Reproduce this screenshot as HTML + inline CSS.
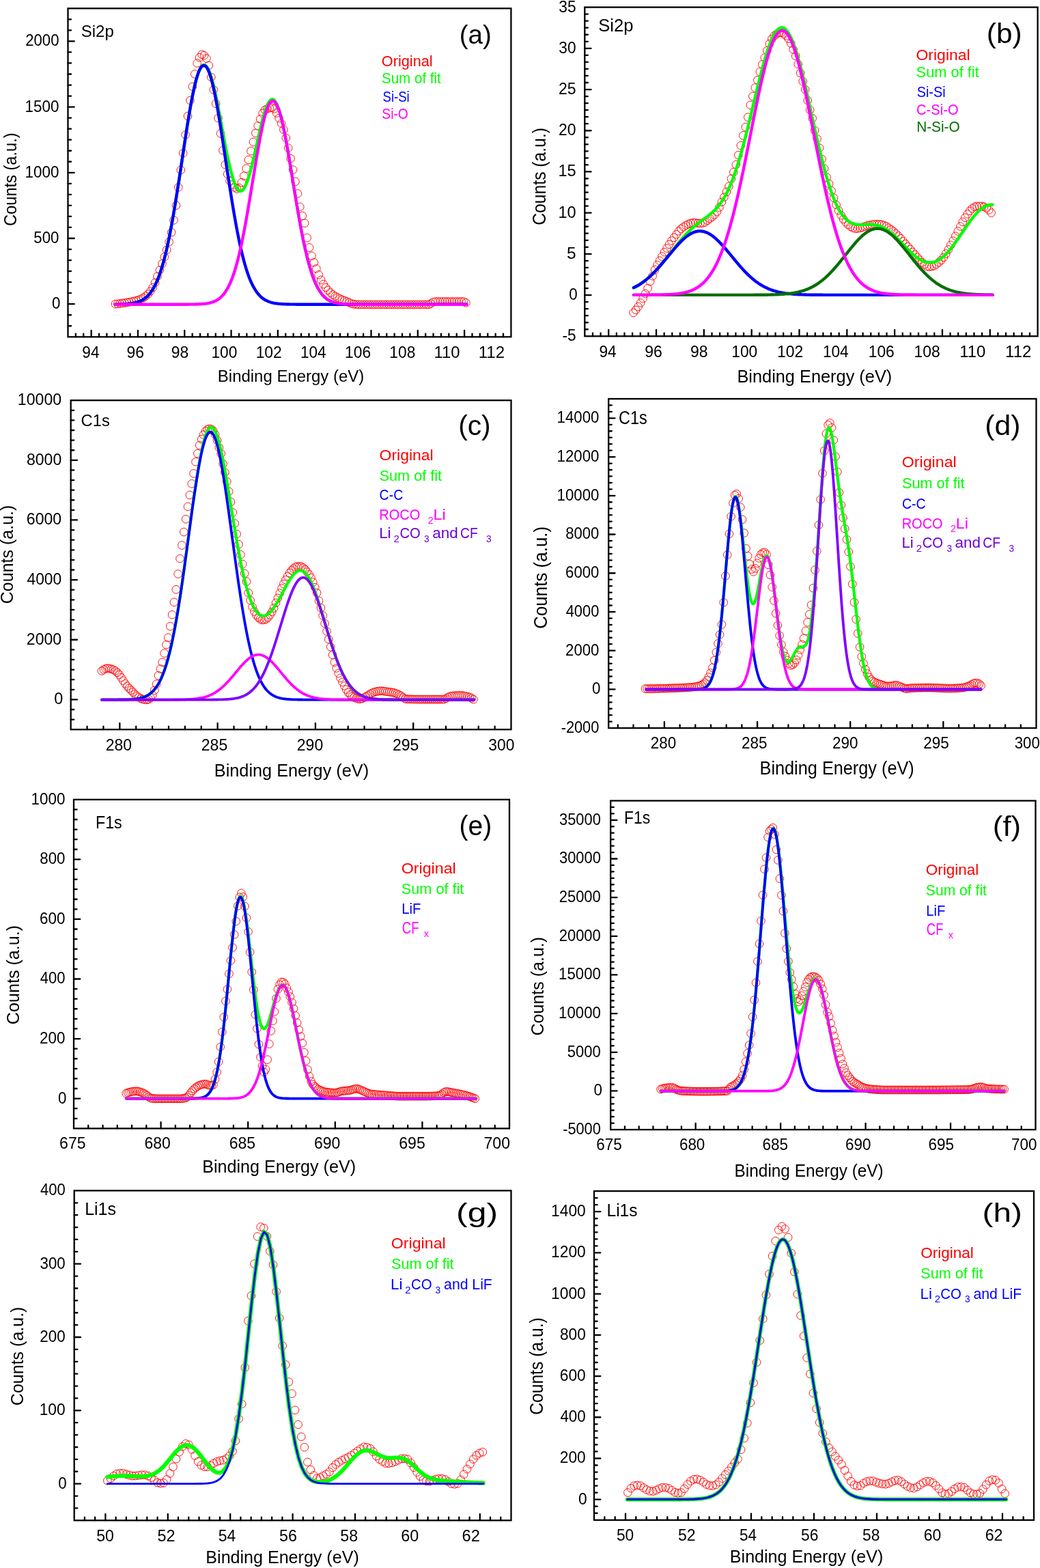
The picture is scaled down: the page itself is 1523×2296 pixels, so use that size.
<!DOCTYPE html>
<html><head><meta charset="utf-8"><title>XPS spectra</title>
<style>html,body{margin:0;padding:0;background:#fff;}svg{display:block;}text{font-family:'Liberation Sans', Arial, sans-serif;}</style>
</head><body>
<svg xmlns="http://www.w3.org/2000/svg" width="1523" height="2296" viewBox="0 0 1523 2296">
<rect width="1523" height="2296" fill="#fff"/>
<path d="M163.1 445.2a5.8 5.8 0 1 0 11.6 0a5.8 5.8 0 1 0 -11.6 0M166.5 444.9a5.8 5.8 0 1 0 11.6 0a5.8 5.8 0 1 0 -11.6 0M169.9 444.5a5.8 5.8 0 1 0 11.6 0a5.8 5.8 0 1 0 -11.6 0M173.4 444.0a5.8 5.8 0 1 0 11.6 0a5.8 5.8 0 1 0 -11.6 0M176.8 443.5a5.8 5.8 0 1 0 11.6 0a5.8 5.8 0 1 0 -11.6 0M180.2 442.9a5.8 5.8 0 1 0 11.6 0a5.8 5.8 0 1 0 -11.6 0M183.6 442.3a5.8 5.8 0 1 0 11.6 0a5.8 5.8 0 1 0 -11.6 0M187.1 441.7a5.8 5.8 0 1 0 11.6 0a5.8 5.8 0 1 0 -11.6 0M190.5 440.9a5.8 5.8 0 1 0 11.6 0a5.8 5.8 0 1 0 -11.6 0M193.9 440.1a5.8 5.8 0 1 0 11.6 0a5.8 5.8 0 1 0 -11.6 0M197.3 439.1a5.8 5.8 0 1 0 11.6 0a5.8 5.8 0 1 0 -11.6 0M200.8 437.8a5.8 5.8 0 1 0 11.6 0a5.8 5.8 0 1 0 -11.6 0M204.2 436.0a5.8 5.8 0 1 0 11.6 0a5.8 5.8 0 1 0 -11.6 0M207.6 433.6a5.8 5.8 0 1 0 11.6 0a5.8 5.8 0 1 0 -11.6 0M211.0 430.7a5.8 5.8 0 1 0 11.6 0a5.8 5.8 0 1 0 -11.6 0M214.4 426.6a5.8 5.8 0 1 0 11.6 0a5.8 5.8 0 1 0 -11.6 0M217.9 421.1a5.8 5.8 0 1 0 11.6 0a5.8 5.8 0 1 0 -11.6 0M221.3 413.9a5.8 5.8 0 1 0 11.6 0a5.8 5.8 0 1 0 -11.6 0M224.7 404.7a5.8 5.8 0 1 0 11.6 0a5.8 5.8 0 1 0 -11.6 0M228.1 395.5a5.8 5.8 0 1 0 11.6 0a5.8 5.8 0 1 0 -11.6 0M231.6 386.2a5.8 5.8 0 1 0 11.6 0a5.8 5.8 0 1 0 -11.6 0M235.0 376.3a5.8 5.8 0 1 0 11.6 0a5.8 5.8 0 1 0 -11.6 0M238.4 365.9a5.8 5.8 0 1 0 11.6 0a5.8 5.8 0 1 0 -11.6 0M241.8 354.3a5.8 5.8 0 1 0 11.6 0a5.8 5.8 0 1 0 -11.6 0M245.3 340.3a5.8 5.8 0 1 0 11.6 0a5.8 5.8 0 1 0 -11.6 0M248.7 322.4a5.8 5.8 0 1 0 11.6 0a5.8 5.8 0 1 0 -11.6 0M252.1 300.8a5.8 5.8 0 1 0 11.6 0a5.8 5.8 0 1 0 -11.6 0M255.5 274.2a5.8 5.8 0 1 0 11.6 0a5.8 5.8 0 1 0 -11.6 0M259.0 248.9a5.8 5.8 0 1 0 11.6 0a5.8 5.8 0 1 0 -11.6 0M262.4 224.2a5.8 5.8 0 1 0 11.6 0a5.8 5.8 0 1 0 -11.6 0M265.8 197.4a5.8 5.8 0 1 0 11.6 0a5.8 5.8 0 1 0 -11.6 0M269.2 170.0a5.8 5.8 0 1 0 11.6 0a5.8 5.8 0 1 0 -11.6 0M272.6 147.0a5.8 5.8 0 1 0 11.6 0a5.8 5.8 0 1 0 -11.6 0M276.1 126.8a5.8 5.8 0 1 0 11.6 0a5.8 5.8 0 1 0 -11.6 0M279.5 108.4a5.8 5.8 0 1 0 11.6 0a5.8 5.8 0 1 0 -11.6 0M282.9 92.5a5.8 5.8 0 1 0 11.6 0a5.8 5.8 0 1 0 -11.6 0M286.3 84.1a5.8 5.8 0 1 0 11.6 0a5.8 5.8 0 1 0 -11.6 0M289.8 79.8a5.8 5.8 0 1 0 11.6 0a5.8 5.8 0 1 0 -11.6 0M293.2 81.2a5.8 5.8 0 1 0 11.6 0a5.8 5.8 0 1 0 -11.6 0M296.6 85.6a5.8 5.8 0 1 0 11.6 0a5.8 5.8 0 1 0 -11.6 0M300.0 95.8a5.8 5.8 0 1 0 11.6 0a5.8 5.8 0 1 0 -11.6 0M303.5 113.0a5.8 5.8 0 1 0 11.6 0a5.8 5.8 0 1 0 -11.6 0M306.9 131.4a5.8 5.8 0 1 0 11.6 0a5.8 5.8 0 1 0 -11.6 0M310.3 151.7a5.8 5.8 0 1 0 11.6 0a5.8 5.8 0 1 0 -11.6 0M313.7 173.0a5.8 5.8 0 1 0 11.6 0a5.8 5.8 0 1 0 -11.6 0M317.2 195.4a5.8 5.8 0 1 0 11.6 0a5.8 5.8 0 1 0 -11.6 0M320.6 220.2a5.8 5.8 0 1 0 11.6 0a5.8 5.8 0 1 0 -11.6 0M324.0 241.2a5.8 5.8 0 1 0 11.6 0a5.8 5.8 0 1 0 -11.6 0M327.4 254.9a5.8 5.8 0 1 0 11.6 0a5.8 5.8 0 1 0 -11.6 0M330.8 265.0a5.8 5.8 0 1 0 11.6 0a5.8 5.8 0 1 0 -11.6 0M334.3 270.4a5.8 5.8 0 1 0 11.6 0a5.8 5.8 0 1 0 -11.6 0M337.7 274.4a5.8 5.8 0 1 0 11.6 0a5.8 5.8 0 1 0 -11.6 0M341.1 276.6a5.8 5.8 0 1 0 11.6 0a5.8 5.8 0 1 0 -11.6 0M344.5 275.0a5.8 5.8 0 1 0 11.6 0a5.8 5.8 0 1 0 -11.6 0M348.0 267.2a5.8 5.8 0 1 0 11.6 0a5.8 5.8 0 1 0 -11.6 0M351.4 257.6a5.8 5.8 0 1 0 11.6 0a5.8 5.8 0 1 0 -11.6 0M354.8 246.8a5.8 5.8 0 1 0 11.6 0a5.8 5.8 0 1 0 -11.6 0M358.2 234.0a5.8 5.8 0 1 0 11.6 0a5.8 5.8 0 1 0 -11.6 0M361.7 221.2a5.8 5.8 0 1 0 11.6 0a5.8 5.8 0 1 0 -11.6 0M365.1 207.9a5.8 5.8 0 1 0 11.6 0a5.8 5.8 0 1 0 -11.6 0M368.5 194.9a5.8 5.8 0 1 0 11.6 0a5.8 5.8 0 1 0 -11.6 0M371.9 184.3a5.8 5.8 0 1 0 11.6 0a5.8 5.8 0 1 0 -11.6 0M375.3 174.4a5.8 5.8 0 1 0 11.6 0a5.8 5.8 0 1 0 -11.6 0M378.8 165.9a5.8 5.8 0 1 0 11.6 0a5.8 5.8 0 1 0 -11.6 0M382.2 160.9a5.8 5.8 0 1 0 11.6 0a5.8 5.8 0 1 0 -11.6 0M385.6 159.3a5.8 5.8 0 1 0 11.6 0a5.8 5.8 0 1 0 -11.6 0M389.0 158.2a5.8 5.8 0 1 0 11.6 0a5.8 5.8 0 1 0 -11.6 0M392.5 157.6a5.8 5.8 0 1 0 11.6 0a5.8 5.8 0 1 0 -11.6 0M395.9 159.3a5.8 5.8 0 1 0 11.6 0a5.8 5.8 0 1 0 -11.6 0M399.3 165.6a5.8 5.8 0 1 0 11.6 0a5.8 5.8 0 1 0 -11.6 0M402.7 173.1a5.8 5.8 0 1 0 11.6 0a5.8 5.8 0 1 0 -11.6 0M406.2 180.7a5.8 5.8 0 1 0 11.6 0a5.8 5.8 0 1 0 -11.6 0M409.6 189.9a5.8 5.8 0 1 0 11.6 0a5.8 5.8 0 1 0 -11.6 0M413.0 201.9a5.8 5.8 0 1 0 11.6 0a5.8 5.8 0 1 0 -11.6 0M416.4 216.7a5.8 5.8 0 1 0 11.6 0a5.8 5.8 0 1 0 -11.6 0M419.8 232.2a5.8 5.8 0 1 0 11.6 0a5.8 5.8 0 1 0 -11.6 0M423.3 248.6a5.8 5.8 0 1 0 11.6 0a5.8 5.8 0 1 0 -11.6 0M426.7 265.8a5.8 5.8 0 1 0 11.6 0a5.8 5.8 0 1 0 -11.6 0M430.1 283.5a5.8 5.8 0 1 0 11.6 0a5.8 5.8 0 1 0 -11.6 0M433.5 302.9a5.8 5.8 0 1 0 11.6 0a5.8 5.8 0 1 0 -11.6 0M437.0 316.1a5.8 5.8 0 1 0 11.6 0a5.8 5.8 0 1 0 -11.6 0M440.4 326.8a5.8 5.8 0 1 0 11.6 0a5.8 5.8 0 1 0 -11.6 0M443.8 348.2a5.8 5.8 0 1 0 11.6 0a5.8 5.8 0 1 0 -11.6 0M447.2 362.5a5.8 5.8 0 1 0 11.6 0a5.8 5.8 0 1 0 -11.6 0M450.7 374.8a5.8 5.8 0 1 0 11.6 0a5.8 5.8 0 1 0 -11.6 0M454.1 384.3a5.8 5.8 0 1 0 11.6 0a5.8 5.8 0 1 0 -11.6 0M457.5 393.3a5.8 5.8 0 1 0 11.6 0a5.8 5.8 0 1 0 -11.6 0M460.9 402.3a5.8 5.8 0 1 0 11.6 0a5.8 5.8 0 1 0 -11.6 0M464.4 409.9a5.8 5.8 0 1 0 11.6 0a5.8 5.8 0 1 0 -11.6 0M467.8 416.1a5.8 5.8 0 1 0 11.6 0a5.8 5.8 0 1 0 -11.6 0M471.2 421.0a5.8 5.8 0 1 0 11.6 0a5.8 5.8 0 1 0 -11.6 0M474.6 424.9a5.8 5.8 0 1 0 11.6 0a5.8 5.8 0 1 0 -11.6 0M478.0 428.5a5.8 5.8 0 1 0 11.6 0a5.8 5.8 0 1 0 -11.6 0M481.5 431.5a5.8 5.8 0 1 0 11.6 0a5.8 5.8 0 1 0 -11.6 0M484.9 433.7a5.8 5.8 0 1 0 11.6 0a5.8 5.8 0 1 0 -11.6 0M488.3 435.6a5.8 5.8 0 1 0 11.6 0a5.8 5.8 0 1 0 -11.6 0M491.7 437.3a5.8 5.8 0 1 0 11.6 0a5.8 5.8 0 1 0 -11.6 0M495.2 438.8a5.8 5.8 0 1 0 11.6 0a5.8 5.8 0 1 0 -11.6 0M498.6 440.2a5.8 5.8 0 1 0 11.6 0a5.8 5.8 0 1 0 -11.6 0M502.0 441.5a5.8 5.8 0 1 0 11.6 0a5.8 5.8 0 1 0 -11.6 0M505.4 443.0a5.8 5.8 0 1 0 11.6 0a5.8 5.8 0 1 0 -11.6 0M508.9 444.5a5.8 5.8 0 1 0 11.6 0a5.8 5.8 0 1 0 -11.6 0M512.3 445.3a5.8 5.8 0 1 0 11.6 0a5.8 5.8 0 1 0 -11.6 0M515.7 445.8a5.8 5.8 0 1 0 11.6 0a5.8 5.8 0 1 0 -11.6 0M519.1 446.0a5.8 5.8 0 1 0 11.6 0a5.8 5.8 0 1 0 -11.6 0M522.6 446.0a5.8 5.8 0 1 0 11.6 0a5.8 5.8 0 1 0 -11.6 0M526.0 446.0a5.8 5.8 0 1 0 11.6 0a5.8 5.8 0 1 0 -11.6 0M529.4 446.0a5.8 5.8 0 1 0 11.6 0a5.8 5.8 0 1 0 -11.6 0M532.8 446.0a5.8 5.8 0 1 0 11.6 0a5.8 5.8 0 1 0 -11.6 0M536.2 446.0a5.8 5.8 0 1 0 11.6 0a5.8 5.8 0 1 0 -11.6 0M539.7 446.0a5.8 5.8 0 1 0 11.6 0a5.8 5.8 0 1 0 -11.6 0M543.1 446.0a5.8 5.8 0 1 0 11.6 0a5.8 5.8 0 1 0 -11.6 0M546.5 446.0a5.8 5.8 0 1 0 11.6 0a5.8 5.8 0 1 0 -11.6 0M549.9 446.0a5.8 5.8 0 1 0 11.6 0a5.8 5.8 0 1 0 -11.6 0M553.4 446.0a5.8 5.8 0 1 0 11.6 0a5.8 5.8 0 1 0 -11.6 0M556.8 446.0a5.8 5.8 0 1 0 11.6 0a5.8 5.8 0 1 0 -11.6 0M560.2 446.0a5.8 5.8 0 1 0 11.6 0a5.8 5.8 0 1 0 -11.6 0M563.6 446.0a5.8 5.8 0 1 0 11.6 0a5.8 5.8 0 1 0 -11.6 0M567.1 446.0a5.8 5.8 0 1 0 11.6 0a5.8 5.8 0 1 0 -11.6 0M570.5 446.0a5.8 5.8 0 1 0 11.6 0a5.8 5.8 0 1 0 -11.6 0M573.9 446.0a5.8 5.8 0 1 0 11.6 0a5.8 5.8 0 1 0 -11.6 0M577.3 446.0a5.8 5.8 0 1 0 11.6 0a5.8 5.8 0 1 0 -11.6 0M580.7 446.0a5.8 5.8 0 1 0 11.6 0a5.8 5.8 0 1 0 -11.6 0M584.2 446.0a5.8 5.8 0 1 0 11.6 0a5.8 5.8 0 1 0 -11.6 0M587.6 446.0a5.8 5.8 0 1 0 11.6 0a5.8 5.8 0 1 0 -11.6 0M591.0 446.0a5.8 5.8 0 1 0 11.6 0a5.8 5.8 0 1 0 -11.6 0M594.4 446.0a5.8 5.8 0 1 0 11.6 0a5.8 5.8 0 1 0 -11.6 0M597.9 446.0a5.8 5.8 0 1 0 11.6 0a5.8 5.8 0 1 0 -11.6 0M601.3 446.0a5.8 5.8 0 1 0 11.6 0a5.8 5.8 0 1 0 -11.6 0M604.7 446.0a5.8 5.8 0 1 0 11.6 0a5.8 5.8 0 1 0 -11.6 0M608.1 446.0a5.8 5.8 0 1 0 11.6 0a5.8 5.8 0 1 0 -11.6 0M611.6 446.0a5.8 5.8 0 1 0 11.6 0a5.8 5.8 0 1 0 -11.6 0M615.0 446.0a5.8 5.8 0 1 0 11.6 0a5.8 5.8 0 1 0 -11.6 0M618.4 446.0a5.8 5.8 0 1 0 11.6 0a5.8 5.8 0 1 0 -11.6 0M621.8 446.0a5.8 5.8 0 1 0 11.6 0a5.8 5.8 0 1 0 -11.6 0M625.2 444.6a5.8 5.8 0 1 0 11.6 0a5.8 5.8 0 1 0 -11.6 0M628.7 442.2a5.8 5.8 0 1 0 11.6 0a5.8 5.8 0 1 0 -11.6 0M632.1 441.7a5.8 5.8 0 1 0 11.6 0a5.8 5.8 0 1 0 -11.6 0M635.5 441.7a5.8 5.8 0 1 0 11.6 0a5.8 5.8 0 1 0 -11.6 0M638.9 441.7a5.8 5.8 0 1 0 11.6 0a5.8 5.8 0 1 0 -11.6 0M642.4 441.7a5.8 5.8 0 1 0 11.6 0a5.8 5.8 0 1 0 -11.6 0M645.8 441.7a5.8 5.8 0 1 0 11.6 0a5.8 5.8 0 1 0 -11.6 0M649.2 441.7a5.8 5.8 0 1 0 11.6 0a5.8 5.8 0 1 0 -11.6 0M652.6 441.7a5.8 5.8 0 1 0 11.6 0a5.8 5.8 0 1 0 -11.6 0M656.1 441.7a5.8 5.8 0 1 0 11.6 0a5.8 5.8 0 1 0 -11.6 0M659.5 441.7a5.8 5.8 0 1 0 11.6 0a5.8 5.8 0 1 0 -11.6 0M662.9 441.7a5.8 5.8 0 1 0 11.6 0a5.8 5.8 0 1 0 -11.6 0M666.3 441.7a5.8 5.8 0 1 0 11.6 0a5.8 5.8 0 1 0 -11.6 0M669.8 441.7a5.8 5.8 0 1 0 11.6 0a5.8 5.8 0 1 0 -11.6 0M673.2 441.7a5.8 5.8 0 1 0 11.6 0a5.8 5.8 0 1 0 -11.6 0M676.6 443.4a5.8 5.8 0 1 0 11.6 0a5.8 5.8 0 1 0 -11.6 0" fill="none" stroke="#ff0000" stroke-width="0.9"/>
<polyline points="168.9,445.6 170.4,445.6 171.9,445.6 173.4,445.5 174.9,445.5 176.4,445.5 177.9,445.4 179.4,445.4 180.9,445.3 182.4,445.3 183.9,445.2 185.4,445.1 186.9,445.0 188.5,444.8 190.0,444.7 191.5,444.5 193.0,444.3 194.5,444.0 196.0,443.8 197.5,443.4 199.0,443.1 200.5,442.7 202.0,442.2 203.5,441.7 205.0,441.1 206.5,440.4 208.0,439.6 209.5,438.7 211.0,437.7 212.5,436.7 214.0,435.4 215.5,434.1 217.0,432.6 218.5,430.9 220.0,429.0 221.5,427.0 223.0,424.7 224.6,422.3 226.1,419.6 227.6,416.6 229.1,413.4 230.6,410.0 232.1,406.2 233.6,402.2 235.1,397.8 236.6,393.1 238.1,388.1 239.6,382.8 241.1,377.1 242.6,371.1 244.1,364.7 245.6,358.0 247.1,350.9 248.6,343.5 250.1,335.7 251.6,327.6 253.1,319.3 254.6,310.6 256.1,301.6 257.6,292.4 259.1,283.0 260.6,273.4 262.2,263.6 263.7,253.7 265.2,243.7 266.7,233.7 268.2,223.7 269.7,213.7 271.2,203.8 272.7,194.0 274.2,184.4 275.7,175.1 277.2,166.1 278.7,157.4 280.2,149.1 281.7,141.2 283.2,133.9 284.7,127.0 286.2,120.8 287.7,115.1 289.2,110.1 290.7,105.8 292.2,102.1 293.7,99.2 295.2,97.1 296.7,95.7 298.3,95.0 299.8,95.1 301.3,96.0 302.8,97.6 304.3,99.9 305.8,103.0 307.3,106.7 308.8,111.1 310.3,116.0 311.8,121.6 313.3,127.6 314.8,134.2 316.3,141.1 317.8,148.4 319.3,156.0 320.8,163.9 322.3,171.9 323.8,180.0 325.3,188.2 326.8,196.4 328.3,204.5 329.8,212.4 331.3,220.1 332.8,227.6 334.4,234.8 335.9,241.6 337.4,247.9 338.9,253.8 340.4,259.2 341.9,264.0 343.4,268.3 344.9,271.9 346.4,274.8 347.9,277.1 349.4,278.8 350.9,279.7 352.4,279.9 353.9,279.5 355.4,278.4 356.9,276.6 358.4,274.2 359.9,271.1 361.4,267.5 362.9,263.3 364.4,258.7 365.9,253.5 367.4,247.9 368.9,242.0 370.4,235.8 372.0,229.4 373.5,222.7 375.0,216.0 376.5,209.2 378.0,202.5 379.5,195.8 381.0,189.3 382.5,183.1 384.0,177.1 385.5,171.5 387.0,166.3 388.5,161.6 390.0,157.4 391.5,153.8 393.0,150.7 394.5,148.4 396.0,146.7 397.5,145.7 399.0,145.5 400.5,145.9 402.0,147.2 403.5,149.1 405.0,151.8 406.5,155.1 408.1,159.2 409.6,163.9 411.1,169.3 412.6,175.2 414.1,181.7 415.6,188.7 417.1,196.2 418.6,204.1 420.1,212.3 421.6,220.9 423.1,229.6 424.6,238.6 426.1,247.7 427.6,257.0 429.1,266.2 430.6,275.5 432.1,284.7 433.6,293.7 435.1,302.7 436.6,311.5 438.1,320.0 439.6,328.4 441.1,336.4 442.6,344.2 444.1,351.7 445.7,358.8 447.2,365.6 448.7,372.1 450.2,378.2 451.7,384.0 453.2,389.4 454.7,394.5 456.2,399.3 457.7,403.7 459.2,407.8 460.7,411.6 462.2,415.0 463.7,418.2 465.2,421.2 466.7,423.9 468.2,426.3 469.7,428.5 471.2,430.5 472.7,432.3 474.2,433.9 475.7,435.4 477.2,436.7 478.7,437.8 480.2,438.8 481.8,439.8 483.3,440.6 484.8,441.3 486.3,441.9 487.8,442.4 489.3,442.9 490.8,443.3 492.3,443.7 493.8,444.0 495.3,444.2 496.8,444.5 498.3,444.6 499.8,444.8 501.3,445.0 502.8,445.1 504.3,445.2 505.8,445.3 507.3,445.3 508.8,445.4 510.3,445.5 511.8,445.5 513.3,445.5 514.8,445.6 516.3,445.6 517.8,445.6 519.4,445.6 520.9,445.6 522.4,445.7 523.9,445.7 525.4,445.7 526.9,445.7 528.4,445.7 529.9,445.7 531.4,445.7 532.9,445.7 534.4,445.7 535.9,445.7 537.4,445.7 538.9,445.7 540.4,445.7 541.9,445.7 543.4,445.7 544.9,445.7 546.4,445.7 547.9,445.7 549.4,445.7 550.9,445.7 552.4,445.7 553.9,445.7 555.5,445.7 557.0,445.7 558.5,445.7 560.0,445.7 561.5,445.7 563.0,445.7 564.5,445.7 566.0,445.7 567.5,445.7 569.0,445.7 570.5,445.7 572.0,445.7 573.5,445.7 575.0,445.7 576.5,445.7 578.0,445.7 579.5,445.7 581.0,445.7 582.5,445.7 584.0,445.7 585.5,445.7 587.0,445.7 588.5,445.7 590.0,445.7 591.6,445.7 593.1,445.7 594.6,445.7 596.1,445.7 597.6,445.7 599.1,445.7 600.6,445.7 602.1,445.7 603.6,445.7 605.1,445.7 606.6,445.7 608.1,445.7 609.6,445.7 611.1,445.7 612.6,445.7 614.1,445.7 615.6,445.7 617.1,445.7 618.6,445.7 620.1,445.7 621.6,445.7 623.1,445.7 624.6,445.7 626.1,445.7 627.6,445.7 629.2,445.7 630.7,445.7 632.2,445.7 633.7,445.7 635.2,445.7 636.7,445.7 638.2,445.7 639.7,445.7 641.2,445.7 642.7,445.7 644.2,445.7 645.7,445.7 647.2,445.7 648.7,445.7 650.2,445.7 651.7,445.7 653.2,445.7 654.7,445.7 656.2,445.7 657.7,445.7 659.2,445.7 660.7,445.7 662.2,445.7 663.7,445.7 665.3,445.7 666.8,445.7 668.3,445.7 669.8,445.7 671.3,445.7 672.8,445.7 674.3,445.7 675.8,445.7 677.3,445.7 678.8,445.7 680.3,445.7 681.8,445.7 683.3,445.7" fill="none" stroke="#00ff00" stroke-width="4.4" stroke-linejoin="round" stroke-linecap="round"/>
<polyline points="168.9,445.6 170.4,445.6 171.9,445.6 173.4,445.5 174.9,445.5 176.4,445.5 177.9,445.4 179.4,445.4 180.9,445.3 182.4,445.3 183.9,445.2 185.4,445.1 186.9,445.0 188.5,444.8 190.0,444.7 191.5,444.5 193.0,444.3 194.5,444.0 196.0,443.8 197.5,443.4 199.0,443.1 200.5,442.7 202.0,442.2 203.5,441.7 205.0,441.1 206.5,440.4 208.0,439.6 209.5,438.7 211.0,437.7 212.5,436.7 214.0,435.4 215.5,434.1 217.0,432.6 218.5,430.9 220.0,429.0 221.5,427.0 223.0,424.7 224.6,422.3 226.1,419.6 227.6,416.6 229.1,413.4 230.6,410.0 232.1,406.2 233.6,402.2 235.1,397.8 236.6,393.1 238.1,388.1 239.6,382.8 241.1,377.1 242.6,371.1 244.1,364.7 245.6,358.0 247.1,350.9 248.6,343.5 250.1,335.7 251.6,327.6 253.1,319.3 254.6,310.6 256.1,301.6 257.6,292.4 259.1,283.0 260.6,273.4 262.2,263.6 263.7,253.7 265.2,243.7 266.7,233.7 268.2,223.7 269.7,213.7 271.2,203.8 272.7,194.0 274.2,184.5 275.7,175.2 277.2,166.1 278.7,157.5 280.2,149.2 281.7,141.3 283.2,134.0 284.7,127.2 286.2,120.9 287.7,115.3 289.2,110.4 290.7,106.1 292.2,102.5 293.7,99.7 295.2,97.6 296.7,96.3 298.3,95.8 299.8,96.1 301.3,97.1 302.8,98.9 304.3,101.5 305.8,104.8 307.3,108.9 308.8,113.6 310.3,119.0 311.8,125.1 313.3,131.7 314.8,138.9 316.3,146.5 317.8,154.7 319.3,163.2 320.8,172.2 322.3,181.4 323.8,190.9 325.3,200.6 326.8,210.4 328.3,220.4 329.8,230.4 331.3,240.4 332.8,250.4 334.4,260.4 335.9,270.2 337.4,279.9 338.9,289.3 340.4,298.6 341.9,307.7 343.4,316.4 344.9,324.9 346.4,333.1 347.9,340.9 349.4,348.5 350.9,355.7 352.4,362.5 353.9,369.0 355.4,375.1 356.9,380.9 358.4,386.4 359.9,391.5 361.4,396.3 362.9,400.8 364.4,404.9 365.9,408.8 367.4,412.3 368.9,415.6 370.4,418.6 372.0,421.4 373.5,423.9 375.0,426.3 376.5,428.4 378.0,430.3 379.5,432.0 381.0,433.6 382.5,435.0 384.0,436.3 385.5,437.4 387.0,438.4 388.5,439.3 390.0,440.1 391.5,440.8 393.0,441.5 394.5,442.0 396.0,442.5 397.5,443.0 399.0,443.3 400.5,443.7 402.0,444.0 403.5,444.2 405.0,444.4 406.5,444.6 408.1,444.8 409.6,444.9 411.1,445.0 412.6,445.1 414.1,445.2 415.6,445.3 417.1,445.4 418.6,445.4 420.1,445.5 421.6,445.5 423.1,445.5 424.6,445.6 426.1,445.6 427.6,445.6 429.1,445.6 430.6,445.6 432.1,445.6 433.6,445.7 435.1,445.7 436.6,445.7 438.1,445.7 439.6,445.7 441.1,445.7 442.6,445.7 444.1,445.7 445.7,445.7 447.2,445.7 448.7,445.7 450.2,445.7 451.7,445.7 453.2,445.7 454.7,445.7 456.2,445.7 457.7,445.7 459.2,445.7 460.7,445.7 462.2,445.7 463.7,445.7 465.2,445.7 466.7,445.7 468.2,445.7 469.7,445.7 471.2,445.7 472.7,445.7 474.2,445.7 475.7,445.7 477.2,445.7 478.7,445.7 480.2,445.7 481.8,445.7 483.3,445.7 484.8,445.7 486.3,445.7 487.8,445.7 489.3,445.7 490.8,445.7 492.3,445.7 493.8,445.7 495.3,445.7 496.8,445.7 498.3,445.7 499.8,445.7 501.3,445.7 502.8,445.7 504.3,445.7 505.8,445.7 507.3,445.7 508.8,445.7 510.3,445.7 511.8,445.7 513.3,445.7 514.8,445.7 516.3,445.7 517.8,445.7 519.4,445.7 520.9,445.7 522.4,445.7 523.9,445.7 525.4,445.7 526.9,445.7 528.4,445.7 529.9,445.7 531.4,445.7 532.9,445.7 534.4,445.7 535.9,445.7 537.4,445.7 538.9,445.7 540.4,445.7 541.9,445.7 543.4,445.7 544.9,445.7 546.4,445.7 547.9,445.7 549.4,445.7 550.9,445.7 552.4,445.7 553.9,445.7 555.5,445.7 557.0,445.7 558.5,445.7 560.0,445.7 561.5,445.7 563.0,445.7 564.5,445.7 566.0,445.7 567.5,445.7 569.0,445.7 570.5,445.7 572.0,445.7 573.5,445.7 575.0,445.7 576.5,445.7 578.0,445.7 579.5,445.7 581.0,445.7 582.5,445.7 584.0,445.7 585.5,445.7 587.0,445.7 588.5,445.7 590.0,445.7 591.6,445.7 593.1,445.7 594.6,445.7 596.1,445.7 597.6,445.7 599.1,445.7 600.6,445.7 602.1,445.7 603.6,445.7 605.1,445.7 606.6,445.7 608.1,445.7 609.6,445.7 611.1,445.7 612.6,445.7 614.1,445.7 615.6,445.7 617.1,445.7 618.6,445.7 620.1,445.7 621.6,445.7 623.1,445.7 624.6,445.7 626.1,445.7 627.6,445.7 629.2,445.7 630.7,445.7 632.2,445.7 633.7,445.7 635.2,445.7 636.7,445.7 638.2,445.7 639.7,445.7 641.2,445.7 642.7,445.7 644.2,445.7 645.7,445.7 647.2,445.7 648.7,445.7 650.2,445.7 651.7,445.7 653.2,445.7 654.7,445.7 656.2,445.7 657.7,445.7 659.2,445.7 660.7,445.7 662.2,445.7 663.7,445.7 665.3,445.7 666.8,445.7 668.3,445.7 669.8,445.7 671.3,445.7 672.8,445.7 674.3,445.7 675.8,445.7 677.3,445.7 678.8,445.7 680.3,445.7 681.8,445.7 683.3,445.7" fill="none" stroke="#0000ff" stroke-width="4.4" stroke-linejoin="round" stroke-linecap="round"/>
<polyline points="168.9,445.7 170.4,445.7 171.9,445.7 173.4,445.7 174.9,445.7 176.4,445.7 177.9,445.7 179.4,445.7 180.9,445.7 182.4,445.7 183.9,445.7 185.4,445.7 186.9,445.7 188.5,445.7 190.0,445.7 191.5,445.7 193.0,445.7 194.5,445.7 196.0,445.7 197.5,445.7 199.0,445.7 200.5,445.7 202.0,445.7 203.5,445.7 205.0,445.7 206.5,445.7 208.0,445.7 209.5,445.7 211.0,445.7 212.5,445.7 214.0,445.7 215.5,445.7 217.0,445.7 218.5,445.7 220.0,445.7 221.5,445.7 223.0,445.7 224.6,445.7 226.1,445.7 227.6,445.7 229.1,445.7 230.6,445.7 232.1,445.7 233.6,445.7 235.1,445.7 236.6,445.7 238.1,445.7 239.6,445.7 241.1,445.7 242.6,445.7 244.1,445.7 245.6,445.7 247.1,445.7 248.6,445.7 250.1,445.7 251.6,445.7 253.1,445.7 254.6,445.7 256.1,445.7 257.6,445.7 259.1,445.7 260.6,445.7 262.2,445.7 263.7,445.7 265.2,445.7 266.7,445.7 268.2,445.7 269.7,445.7 271.2,445.7 272.7,445.7 274.2,445.7 275.7,445.7 277.2,445.6 278.7,445.6 280.2,445.6 281.7,445.6 283.2,445.6 284.7,445.6 286.2,445.5 287.7,445.5 289.2,445.4 290.7,445.4 292.2,445.3 293.7,445.2 295.2,445.1 296.7,445.0 298.3,444.9 299.8,444.8 301.3,444.6 302.8,444.4 304.3,444.1 305.8,443.9 307.3,443.5 308.8,443.2 310.3,442.7 311.8,442.2 313.3,441.7 314.8,441.0 316.3,440.3 317.8,439.4 319.3,438.5 320.8,437.4 322.3,436.2 323.8,434.9 325.3,433.3 326.8,431.7 328.3,429.8 329.8,427.7 331.3,425.4 332.8,422.9 334.4,420.1 335.9,417.1 337.4,413.8 338.9,410.2 340.4,406.3 341.9,402.1 343.4,397.5 344.9,392.7 346.4,387.5 347.9,381.9 349.4,376.0 350.9,369.7 352.4,363.1 353.9,356.2 355.4,348.9 356.9,341.4 358.4,333.5 359.9,325.3 361.4,316.9 362.9,308.3 364.4,299.4 365.9,290.4 367.4,281.3 368.9,272.1 370.4,262.9 372.0,253.6 373.5,244.5 375.0,235.4 376.5,226.5 378.0,217.9 379.5,209.5 381.0,201.4 382.5,193.8 384.0,186.5 385.5,179.8 387.0,173.6 388.5,167.9 390.0,162.9 391.5,158.6 393.0,155.0 394.5,152.1 396.0,149.9 397.5,148.5 399.0,147.8 400.5,148.0 402.0,148.9 403.5,150.6 405.0,153.0 406.5,156.2 408.1,160.1 409.6,164.7 411.1,170.0 412.6,175.8 414.1,182.2 415.6,189.1 417.1,196.5 418.6,204.4 420.1,212.6 421.6,221.0 423.1,229.8 424.6,238.8 426.1,247.9 427.6,257.1 429.1,266.3 430.6,275.5 432.1,284.7 433.6,293.8 435.1,302.7 436.6,311.5 438.1,320.1 439.6,328.4 441.1,336.4 442.6,344.2 444.1,351.7 445.7,358.8 447.2,365.6 448.7,372.1 450.2,378.2 451.7,384.0 453.2,389.4 454.7,394.5 456.2,399.3 457.7,403.7 459.2,407.8 460.7,411.6 462.2,415.0 463.7,418.2 465.2,421.2 466.7,423.9 468.2,426.3 469.7,428.5 471.2,430.5 472.7,432.3 474.2,433.9 475.7,435.4 477.2,436.7 478.7,437.8 480.2,438.8 481.8,439.8 483.3,440.6 484.8,441.3 486.3,441.9 487.8,442.4 489.3,442.9 490.8,443.3 492.3,443.7 493.8,444.0 495.3,444.2 496.8,444.5 498.3,444.6 499.8,444.8 501.3,445.0 502.8,445.1 504.3,445.2 505.8,445.3 507.3,445.3 508.8,445.4 510.3,445.5 511.8,445.5 513.3,445.5 514.8,445.6 516.3,445.6 517.8,445.6 519.4,445.6 520.9,445.6 522.4,445.7 523.9,445.7 525.4,445.7 526.9,445.7 528.4,445.7 529.9,445.7 531.4,445.7 532.9,445.7 534.4,445.7 535.9,445.7 537.4,445.7 538.9,445.7 540.4,445.7 541.9,445.7 543.4,445.7 544.9,445.7 546.4,445.7 547.9,445.7 549.4,445.7 550.9,445.7 552.4,445.7 553.9,445.7 555.5,445.7 557.0,445.7 558.5,445.7 560.0,445.7 561.5,445.7 563.0,445.7 564.5,445.7 566.0,445.7 567.5,445.7 569.0,445.7 570.5,445.7 572.0,445.7 573.5,445.7 575.0,445.7 576.5,445.7 578.0,445.7 579.5,445.7 581.0,445.7 582.5,445.7 584.0,445.7 585.5,445.7 587.0,445.7 588.5,445.7 590.0,445.7 591.6,445.7 593.1,445.7 594.6,445.7 596.1,445.7 597.6,445.7 599.1,445.7 600.6,445.7 602.1,445.7 603.6,445.7 605.1,445.7 606.6,445.7 608.1,445.7 609.6,445.7 611.1,445.7 612.6,445.7 614.1,445.7 615.6,445.7 617.1,445.7 618.6,445.7 620.1,445.7 621.6,445.7 623.1,445.7 624.6,445.7 626.1,445.7 627.6,445.7 629.2,445.7 630.7,445.7 632.2,445.7 633.7,445.7 635.2,445.7 636.7,445.7 638.2,445.7 639.7,445.7 641.2,445.7 642.7,445.7 644.2,445.7 645.7,445.7 647.2,445.7 648.7,445.7 650.2,445.7 651.7,445.7 653.2,445.7 654.7,445.7 656.2,445.7 657.7,445.7 659.2,445.7 660.7,445.7 662.2,445.7 663.7,445.7 665.3,445.7 666.8,445.7 668.3,445.7 669.8,445.7 671.3,445.7 672.8,445.7 674.3,445.7 675.8,445.7 677.3,445.7 678.8,445.7 680.3,445.7 681.8,445.7 683.3,445.7" fill="none" stroke="#ff00ff" stroke-width="4.4" stroke-linejoin="round" stroke-linecap="round"/>
<path d="M110.88 493.3V488.7M122.27 493.3V488.7M133.65 493.3V484M145.04 493.3V488.7M156.42 493.3V488.7M167.81 493.3V488.7M179.19 493.3V488.7M190.57 493.3V488.7M201.96 493.3V484M213.34 493.3V488.7M224.73 493.3V488.7M236.11 493.3V488.7M247.49 493.3V488.7M258.88 493.3V488.7M270.26 493.3V484M281.65 493.3V488.7M293.03 493.3V488.7M304.42 493.3V488.7M315.8 493.3V488.7M327.18 493.3V488.7M338.57 493.3V484M349.95 493.3V488.7M361.34 493.3V488.7M372.72 493.3V488.7M384.11 493.3V488.7M395.49 493.3V488.7M406.87 493.3V484M418.26 493.3V488.7M429.64 493.3V488.7M441.03 493.3V488.7M452.41 493.3V488.7M463.79 493.3V488.7M475.18 493.3V484M486.56 493.3V488.7M497.95 493.3V488.7M509.33 493.3V488.7M520.72 493.3V488.7M532.1 493.3V488.7M543.48 493.3V484M554.87 493.3V488.7M566.25 493.3V488.7M577.64 493.3V488.7M589.02 493.3V488.7M600.41 493.3V488.7M611.79 493.3V484M623.17 493.3V488.7M634.56 493.3V488.7M645.94 493.3V488.7M657.33 493.3V488.7M668.71 493.3V488.7M680.09 493.3V484M691.48 493.3V488.7M702.86 493.3V488.7M714.25 493.3V488.7M725.63 493.3V488.7M737.02 493.3V488.7M99.5 477.27H104.1M99.5 461.23H104.1M99.5 445.2H108.8M99.5 429.17H104.1M99.5 413.13H104.1M99.5 397.1H104.1M99.5 381.07H104.1M99.5 365.03H104.1M99.5 349H108.8M99.5 332.97H104.1M99.5 316.93H104.1M99.5 300.9H104.1M99.5 284.87H104.1M99.5 268.83H104.1M99.5 252.8H108.8M99.5 236.77H104.1M99.5 220.73H104.1M99.5 204.7H104.1M99.5 188.67H104.1M99.5 172.63H104.1M99.5 156.6H108.8M99.5 140.57H104.1M99.5 124.53H104.1M99.5 108.5H104.1M99.5 92.47H104.1M99.5 76.43H104.1M99.5 60.4H108.8M99.5 44.37H104.1M99.5 28.33H104.1" stroke="#000" stroke-width="2.3" stroke-linecap="round" fill="none"/>
<rect x="99.5" y="12.3" width="648.9" height="481" fill="none" stroke="#000" stroke-width="2.3"/>
<text x="76.03" y="452.15" font-size="23.87" fill="#000" textLength="12.45" lengthAdjust="spacingAndGlyphs">0</text>
<text x="49.31" y="355.95" font-size="23.87" fill="#000" textLength="37.17" lengthAdjust="spacingAndGlyphs">500</text>
<text x="36.60" y="259.75" font-size="23.87" fill="#000" textLength="49.89" lengthAdjust="spacingAndGlyphs">1000</text>
<text x="36.60" y="163.55" font-size="23.87" fill="#000" textLength="49.89" lengthAdjust="spacingAndGlyphs">1500</text>
<text x="37.19" y="67.35" font-size="23.87" fill="#000" textLength="49.29" lengthAdjust="spacingAndGlyphs">2000</text>
<text x="120.34" y="524.20" font-size="23.59" fill="#000" textLength="25.12" lengthAdjust="spacingAndGlyphs">94</text>
<text x="185.55" y="524.20" font-size="23.59" fill="#000" textLength="25.49" lengthAdjust="spacingAndGlyphs">96</text>
<text x="250.78" y="524.20" font-size="23.59" fill="#000" textLength="25.47" lengthAdjust="spacingAndGlyphs">98</text>
<text x="309.44" y="524.20" font-size="23.59" fill="#000" textLength="37.87" lengthAdjust="spacingAndGlyphs">100</text>
<text x="374.66" y="524.20" font-size="23.59" fill="#000" textLength="38.14" lengthAdjust="spacingAndGlyphs">102</text>
<text x="439.91" y="524.20" font-size="23.59" fill="#000" textLength="37.63" lengthAdjust="spacingAndGlyphs">104</text>
<text x="505.12" y="524.20" font-size="23.59" fill="#000" textLength="37.99" lengthAdjust="spacingAndGlyphs">106</text>
<text x="570.36" y="524.20" font-size="23.59" fill="#000" textLength="37.97" lengthAdjust="spacingAndGlyphs">108</text>
<text x="635.50" y="524.20" font-size="23.59" fill="#000" textLength="38.00" lengthAdjust="spacingAndGlyphs">110</text>
<text x="700.72" y="524.20" font-size="23.59" fill="#000" textLength="38.28" lengthAdjust="spacingAndGlyphs">112</text>
<text x="318.84" y="558.60" font-size="24.56" fill="#000" textLength="214.36" lengthAdjust="spacingAndGlyphs">Binding Energy (eV)</text>
<text transform="translate(23.60 262.80) rotate(-90)" x="-68.16" y="0" font-size="25.00" textLength="136.58" lengthAdjust="spacingAndGlyphs">Counts (a.u.)</text>
<text x="672.71" y="63.69" font-size="39.48" fill="#000" textLength="47.08" lengthAdjust="spacingAndGlyphs">(a)</text>
<text x="118.72" y="54.20" font-size="24.44" fill="#000" textLength="48.10" lengthAdjust="spacingAndGlyphs">Si2p</text>
<text x="558.88" y="96.80" font-size="21.47" fill="#ff0000" textLength="74.77" lengthAdjust="spacingAndGlyphs">Original</text>
<text x="558.97" y="121.50" font-size="21.19" fill="#00ff00" textLength="86.86" lengthAdjust="spacingAndGlyphs">Sum of fit</text>
<text x="560.56" y="148.90" font-size="21.19" fill="#0000ff" textLength="39.19" lengthAdjust="spacingAndGlyphs">Si-Si</text>
<text x="559.34" y="174.10" font-size="21.19" fill="#ff00ff" textLength="38.39" lengthAdjust="spacingAndGlyphs">Si-O</text>
<path d="M921.8 458.0a5.8 5.8 0 1 0 11.6 0a5.8 5.8 0 1 0 -11.6 0M925.3 453.9a5.8 5.8 0 1 0 11.6 0a5.8 5.8 0 1 0 -11.6 0M928.8 449.1a5.8 5.8 0 1 0 11.6 0a5.8 5.8 0 1 0 -11.6 0M932.3 443.4a5.8 5.8 0 1 0 11.6 0a5.8 5.8 0 1 0 -11.6 0M935.8 437.1a5.8 5.8 0 1 0 11.6 0a5.8 5.8 0 1 0 -11.6 0M939.3 430.0a5.8 5.8 0 1 0 11.6 0a5.8 5.8 0 1 0 -11.6 0M942.8 422.2a5.8 5.8 0 1 0 11.6 0a5.8 5.8 0 1 0 -11.6 0M946.3 412.1a5.8 5.8 0 1 0 11.6 0a5.8 5.8 0 1 0 -11.6 0M949.8 404.2a5.8 5.8 0 1 0 11.6 0a5.8 5.8 0 1 0 -11.6 0M953.2 395.1a5.8 5.8 0 1 0 11.6 0a5.8 5.8 0 1 0 -11.6 0M956.7 388.0a5.8 5.8 0 1 0 11.6 0a5.8 5.8 0 1 0 -11.6 0M960.2 381.7a5.8 5.8 0 1 0 11.6 0a5.8 5.8 0 1 0 -11.6 0M963.7 375.5a5.8 5.8 0 1 0 11.6 0a5.8 5.8 0 1 0 -11.6 0M967.2 369.2a5.8 5.8 0 1 0 11.6 0a5.8 5.8 0 1 0 -11.6 0M970.7 363.5a5.8 5.8 0 1 0 11.6 0a5.8 5.8 0 1 0 -11.6 0M974.2 357.9a5.8 5.8 0 1 0 11.6 0a5.8 5.8 0 1 0 -11.6 0M977.7 352.5a5.8 5.8 0 1 0 11.6 0a5.8 5.8 0 1 0 -11.6 0M981.2 347.9a5.8 5.8 0 1 0 11.6 0a5.8 5.8 0 1 0 -11.6 0M984.7 343.2a5.8 5.8 0 1 0 11.6 0a5.8 5.8 0 1 0 -11.6 0M988.2 338.5a5.8 5.8 0 1 0 11.6 0a5.8 5.8 0 1 0 -11.6 0M991.7 335.0a5.8 5.8 0 1 0 11.6 0a5.8 5.8 0 1 0 -11.6 0M995.2 332.3a5.8 5.8 0 1 0 11.6 0a5.8 5.8 0 1 0 -11.6 0M998.7 329.9a5.8 5.8 0 1 0 11.6 0a5.8 5.8 0 1 0 -11.6 0M1002.2 328.1a5.8 5.8 0 1 0 11.6 0a5.8 5.8 0 1 0 -11.6 0M1005.7 326.9a5.8 5.8 0 1 0 11.6 0a5.8 5.8 0 1 0 -11.6 0M1009.2 326.2a5.8 5.8 0 1 0 11.6 0a5.8 5.8 0 1 0 -11.6 0M1012.6 326.3a5.8 5.8 0 1 0 11.6 0a5.8 5.8 0 1 0 -11.6 0M1016.1 326.8a5.8 5.8 0 1 0 11.6 0a5.8 5.8 0 1 0 -11.6 0M1019.6 327.0a5.8 5.8 0 1 0 11.6 0a5.8 5.8 0 1 0 -11.6 0M1023.1 326.5a5.8 5.8 0 1 0 11.6 0a5.8 5.8 0 1 0 -11.6 0M1026.6 325.5a5.8 5.8 0 1 0 11.6 0a5.8 5.8 0 1 0 -11.6 0M1030.1 322.8a5.8 5.8 0 1 0 11.6 0a5.8 5.8 0 1 0 -11.6 0M1033.6 320.0a5.8 5.8 0 1 0 11.6 0a5.8 5.8 0 1 0 -11.6 0M1037.1 317.6a5.8 5.8 0 1 0 11.6 0a5.8 5.8 0 1 0 -11.6 0M1040.6 314.6a5.8 5.8 0 1 0 11.6 0a5.8 5.8 0 1 0 -11.6 0M1044.1 310.2a5.8 5.8 0 1 0 11.6 0a5.8 5.8 0 1 0 -11.6 0M1047.6 303.7a5.8 5.8 0 1 0 11.6 0a5.8 5.8 0 1 0 -11.6 0M1051.1 295.9a5.8 5.8 0 1 0 11.6 0a5.8 5.8 0 1 0 -11.6 0M1054.6 288.7a5.8 5.8 0 1 0 11.6 0a5.8 5.8 0 1 0 -11.6 0M1058.1 280.9a5.8 5.8 0 1 0 11.6 0a5.8 5.8 0 1 0 -11.6 0M1061.6 273.0a5.8 5.8 0 1 0 11.6 0a5.8 5.8 0 1 0 -11.6 0M1065.1 261.7a5.8 5.8 0 1 0 11.6 0a5.8 5.8 0 1 0 -11.6 0M1068.5 252.1a5.8 5.8 0 1 0 11.6 0a5.8 5.8 0 1 0 -11.6 0M1072.0 241.0a5.8 5.8 0 1 0 11.6 0a5.8 5.8 0 1 0 -11.6 0M1075.5 227.1a5.8 5.8 0 1 0 11.6 0a5.8 5.8 0 1 0 -11.6 0M1079.0 213.1a5.8 5.8 0 1 0 11.6 0a5.8 5.8 0 1 0 -11.6 0M1082.5 198.4a5.8 5.8 0 1 0 11.6 0a5.8 5.8 0 1 0 -11.6 0M1086.0 186.0a5.8 5.8 0 1 0 11.6 0a5.8 5.8 0 1 0 -11.6 0M1089.5 171.7a5.8 5.8 0 1 0 11.6 0a5.8 5.8 0 1 0 -11.6 0M1093.0 153.9a5.8 5.8 0 1 0 11.6 0a5.8 5.8 0 1 0 -11.6 0M1096.5 140.9a5.8 5.8 0 1 0 11.6 0a5.8 5.8 0 1 0 -11.6 0M1100.0 128.5a5.8 5.8 0 1 0 11.6 0a5.8 5.8 0 1 0 -11.6 0M1103.5 117.4a5.8 5.8 0 1 0 11.6 0a5.8 5.8 0 1 0 -11.6 0M1107.0 105.0a5.8 5.8 0 1 0 11.6 0a5.8 5.8 0 1 0 -11.6 0M1110.5 94.3a5.8 5.8 0 1 0 11.6 0a5.8 5.8 0 1 0 -11.6 0M1114.0 84.5a5.8 5.8 0 1 0 11.6 0a5.8 5.8 0 1 0 -11.6 0M1117.5 74.1a5.8 5.8 0 1 0 11.6 0a5.8 5.8 0 1 0 -11.6 0M1121.0 64.2a5.8 5.8 0 1 0 11.6 0a5.8 5.8 0 1 0 -11.6 0M1124.5 57.1a5.8 5.8 0 1 0 11.6 0a5.8 5.8 0 1 0 -11.6 0M1127.9 52.5a5.8 5.8 0 1 0 11.6 0a5.8 5.8 0 1 0 -11.6 0M1131.4 49.9a5.8 5.8 0 1 0 11.6 0a5.8 5.8 0 1 0 -11.6 0M1134.9 48.0a5.8 5.8 0 1 0 11.6 0a5.8 5.8 0 1 0 -11.6 0M1138.4 47.9a5.8 5.8 0 1 0 11.6 0a5.8 5.8 0 1 0 -11.6 0M1141.9 49.7a5.8 5.8 0 1 0 11.6 0a5.8 5.8 0 1 0 -11.6 0M1145.4 52.4a5.8 5.8 0 1 0 11.6 0a5.8 5.8 0 1 0 -11.6 0M1148.9 56.8a5.8 5.8 0 1 0 11.6 0a5.8 5.8 0 1 0 -11.6 0M1152.4 63.3a5.8 5.8 0 1 0 11.6 0a5.8 5.8 0 1 0 -11.6 0M1155.9 72.4a5.8 5.8 0 1 0 11.6 0a5.8 5.8 0 1 0 -11.6 0M1159.4 82.1a5.8 5.8 0 1 0 11.6 0a5.8 5.8 0 1 0 -11.6 0M1162.9 94.0a5.8 5.8 0 1 0 11.6 0a5.8 5.8 0 1 0 -11.6 0M1166.4 107.1a5.8 5.8 0 1 0 11.6 0a5.8 5.8 0 1 0 -11.6 0M1169.9 119.1a5.8 5.8 0 1 0 11.6 0a5.8 5.8 0 1 0 -11.6 0M1173.4 131.2a5.8 5.8 0 1 0 11.6 0a5.8 5.8 0 1 0 -11.6 0M1176.9 147.0a5.8 5.8 0 1 0 11.6 0a5.8 5.8 0 1 0 -11.6 0M1180.4 160.9a5.8 5.8 0 1 0 11.6 0a5.8 5.8 0 1 0 -11.6 0M1183.9 173.2a5.8 5.8 0 1 0 11.6 0a5.8 5.8 0 1 0 -11.6 0M1187.3 190.9a5.8 5.8 0 1 0 11.6 0a5.8 5.8 0 1 0 -11.6 0M1190.8 203.1a5.8 5.8 0 1 0 11.6 0a5.8 5.8 0 1 0 -11.6 0M1194.3 216.7a5.8 5.8 0 1 0 11.6 0a5.8 5.8 0 1 0 -11.6 0M1197.8 233.0a5.8 5.8 0 1 0 11.6 0a5.8 5.8 0 1 0 -11.6 0M1201.3 246.8a5.8 5.8 0 1 0 11.6 0a5.8 5.8 0 1 0 -11.6 0M1204.8 259.6a5.8 5.8 0 1 0 11.6 0a5.8 5.8 0 1 0 -11.6 0M1208.3 269.2a5.8 5.8 0 1 0 11.6 0a5.8 5.8 0 1 0 -11.6 0M1211.8 279.3a5.8 5.8 0 1 0 11.6 0a5.8 5.8 0 1 0 -11.6 0M1215.3 289.9a5.8 5.8 0 1 0 11.6 0a5.8 5.8 0 1 0 -11.6 0M1218.8 299.9a5.8 5.8 0 1 0 11.6 0a5.8 5.8 0 1 0 -11.6 0M1222.3 308.3a5.8 5.8 0 1 0 11.6 0a5.8 5.8 0 1 0 -11.6 0M1225.8 315.2a5.8 5.8 0 1 0 11.6 0a5.8 5.8 0 1 0 -11.6 0M1229.3 320.9a5.8 5.8 0 1 0 11.6 0a5.8 5.8 0 1 0 -11.6 0M1232.8 325.4a5.8 5.8 0 1 0 11.6 0a5.8 5.8 0 1 0 -11.6 0M1236.3 329.0a5.8 5.8 0 1 0 11.6 0a5.8 5.8 0 1 0 -11.6 0M1239.8 331.8a5.8 5.8 0 1 0 11.6 0a5.8 5.8 0 1 0 -11.6 0M1243.2 333.6a5.8 5.8 0 1 0 11.6 0a5.8 5.8 0 1 0 -11.6 0M1246.7 334.7a5.8 5.8 0 1 0 11.6 0a5.8 5.8 0 1 0 -11.6 0M1250.2 334.5a5.8 5.8 0 1 0 11.6 0a5.8 5.8 0 1 0 -11.6 0M1253.7 333.9a5.8 5.8 0 1 0 11.6 0a5.8 5.8 0 1 0 -11.6 0M1257.2 332.9a5.8 5.8 0 1 0 11.6 0a5.8 5.8 0 1 0 -11.6 0M1260.7 331.5a5.8 5.8 0 1 0 11.6 0a5.8 5.8 0 1 0 -11.6 0M1264.2 330.4a5.8 5.8 0 1 0 11.6 0a5.8 5.8 0 1 0 -11.6 0M1267.7 329.6a5.8 5.8 0 1 0 11.6 0a5.8 5.8 0 1 0 -11.6 0M1271.2 329.0a5.8 5.8 0 1 0 11.6 0a5.8 5.8 0 1 0 -11.6 0M1274.7 328.5a5.8 5.8 0 1 0 11.6 0a5.8 5.8 0 1 0 -11.6 0M1278.2 328.5a5.8 5.8 0 1 0 11.6 0a5.8 5.8 0 1 0 -11.6 0M1281.7 328.5a5.8 5.8 0 1 0 11.6 0a5.8 5.8 0 1 0 -11.6 0M1285.2 328.8a5.8 5.8 0 1 0 11.6 0a5.8 5.8 0 1 0 -11.6 0M1288.7 329.9a5.8 5.8 0 1 0 11.6 0a5.8 5.8 0 1 0 -11.6 0M1292.2 331.4a5.8 5.8 0 1 0 11.6 0a5.8 5.8 0 1 0 -11.6 0M1295.7 333.8a5.8 5.8 0 1 0 11.6 0a5.8 5.8 0 1 0 -11.6 0M1299.2 336.2a5.8 5.8 0 1 0 11.6 0a5.8 5.8 0 1 0 -11.6 0M1302.6 338.8a5.8 5.8 0 1 0 11.6 0a5.8 5.8 0 1 0 -11.6 0M1306.1 341.9a5.8 5.8 0 1 0 11.6 0a5.8 5.8 0 1 0 -11.6 0M1309.6 345.4a5.8 5.8 0 1 0 11.6 0a5.8 5.8 0 1 0 -11.6 0M1313.1 349.2a5.8 5.8 0 1 0 11.6 0a5.8 5.8 0 1 0 -11.6 0M1316.6 353.2a5.8 5.8 0 1 0 11.6 0a5.8 5.8 0 1 0 -11.6 0M1320.1 357.1a5.8 5.8 0 1 0 11.6 0a5.8 5.8 0 1 0 -11.6 0M1323.6 361.1a5.8 5.8 0 1 0 11.6 0a5.8 5.8 0 1 0 -11.6 0M1327.1 365.0a5.8 5.8 0 1 0 11.6 0a5.8 5.8 0 1 0 -11.6 0M1330.6 369.0a5.8 5.8 0 1 0 11.6 0a5.8 5.8 0 1 0 -11.6 0M1334.1 372.9a5.8 5.8 0 1 0 11.6 0a5.8 5.8 0 1 0 -11.6 0M1337.6 376.8a5.8 5.8 0 1 0 11.6 0a5.8 5.8 0 1 0 -11.6 0M1341.1 380.6a5.8 5.8 0 1 0 11.6 0a5.8 5.8 0 1 0 -11.6 0M1344.6 384.2a5.8 5.8 0 1 0 11.6 0a5.8 5.8 0 1 0 -11.6 0M1348.1 387.2a5.8 5.8 0 1 0 11.6 0a5.8 5.8 0 1 0 -11.6 0M1351.6 390.0a5.8 5.8 0 1 0 11.6 0a5.8 5.8 0 1 0 -11.6 0M1355.1 390.6a5.8 5.8 0 1 0 11.6 0a5.8 5.8 0 1 0 -11.6 0M1358.5 390.1a5.8 5.8 0 1 0 11.6 0a5.8 5.8 0 1 0 -11.6 0M1362.0 389.3a5.8 5.8 0 1 0 11.6 0a5.8 5.8 0 1 0 -11.6 0M1365.5 387.1a5.8 5.8 0 1 0 11.6 0a5.8 5.8 0 1 0 -11.6 0M1369.0 384.3a5.8 5.8 0 1 0 11.6 0a5.8 5.8 0 1 0 -11.6 0M1372.5 381.0a5.8 5.8 0 1 0 11.6 0a5.8 5.8 0 1 0 -11.6 0M1376.0 376.9a5.8 5.8 0 1 0 11.6 0a5.8 5.8 0 1 0 -11.6 0M1379.5 371.5a5.8 5.8 0 1 0 11.6 0a5.8 5.8 0 1 0 -11.6 0M1383.0 365.4a5.8 5.8 0 1 0 11.6 0a5.8 5.8 0 1 0 -11.6 0M1386.5 358.9a5.8 5.8 0 1 0 11.6 0a5.8 5.8 0 1 0 -11.6 0M1390.0 352.6a5.8 5.8 0 1 0 11.6 0a5.8 5.8 0 1 0 -11.6 0M1393.5 345.7a5.8 5.8 0 1 0 11.6 0a5.8 5.8 0 1 0 -11.6 0M1397.0 338.6a5.8 5.8 0 1 0 11.6 0a5.8 5.8 0 1 0 -11.6 0M1400.5 331.6a5.8 5.8 0 1 0 11.6 0a5.8 5.8 0 1 0 -11.6 0M1404.0 324.9a5.8 5.8 0 1 0 11.6 0a5.8 5.8 0 1 0 -11.6 0M1407.5 318.8a5.8 5.8 0 1 0 11.6 0a5.8 5.8 0 1 0 -11.6 0M1411.0 313.4a5.8 5.8 0 1 0 11.6 0a5.8 5.8 0 1 0 -11.6 0M1414.5 308.8a5.8 5.8 0 1 0 11.6 0a5.8 5.8 0 1 0 -11.6 0M1417.9 305.2a5.8 5.8 0 1 0 11.6 0a5.8 5.8 0 1 0 -11.6 0M1421.4 302.9a5.8 5.8 0 1 0 11.6 0a5.8 5.8 0 1 0 -11.6 0M1424.9 301.9a5.8 5.8 0 1 0 11.6 0a5.8 5.8 0 1 0 -11.6 0M1428.4 301.9a5.8 5.8 0 1 0 11.6 0a5.8 5.8 0 1 0 -11.6 0M1431.9 301.9a5.8 5.8 0 1 0 11.6 0a5.8 5.8 0 1 0 -11.6 0M1435.4 302.8a5.8 5.8 0 1 0 11.6 0a5.8 5.8 0 1 0 -11.6 0M1438.9 304.7a5.8 5.8 0 1 0 11.6 0a5.8 5.8 0 1 0 -11.6 0M1442.4 307.5a5.8 5.8 0 1 0 11.6 0a5.8 5.8 0 1 0 -11.6 0M1445.9 311.7a5.8 5.8 0 1 0 11.6 0a5.8 5.8 0 1 0 -11.6 0" fill="none" stroke="#ff0000" stroke-width="0.9"/>
<polyline points="927.9,421.3 929.4,420.6 930.9,419.8 932.4,419.0 933.9,418.2 935.4,417.3 936.9,416.3 938.4,415.4 939.9,414.3 941.4,413.3 942.9,412.2 944.4,411.0 945.9,409.8 947.4,408.6 948.9,407.3 950.4,406.0 951.9,404.6 953.4,403.2 954.9,401.8 956.4,400.3 957.9,398.7 959.4,397.2 960.9,395.6 962.4,393.9 963.9,392.2 965.4,390.5 966.9,388.8 968.4,387.0 969.9,385.2 971.4,383.4 973.0,381.5 974.5,379.7 976.0,377.8 977.5,375.9 979.0,374.0 980.5,372.1 982.0,370.2 983.5,368.3 985.0,366.4 986.5,364.5 988.0,362.6 989.5,360.7 991.0,358.8 992.5,357.0 994.0,355.1 995.5,353.3 997.0,351.6 998.5,349.8 1000.0,348.1 1001.5,346.4 1003.0,344.8 1004.5,343.2 1006.0,341.6 1007.5,340.1 1009.0,338.6 1010.5,337.1 1012.0,335.7 1013.5,334.3 1015.0,333.0 1016.5,331.7 1018.0,330.4 1019.5,329.2 1021.0,328.0 1022.5,326.8 1024.0,325.7 1025.5,324.5 1027.0,323.4 1028.5,322.3 1030.0,321.2 1031.5,320.1 1033.0,319.0 1034.5,317.9 1036.0,316.8 1037.5,315.6 1039.0,314.4 1040.5,313.2 1042.0,311.9 1043.5,310.6 1045.0,309.2 1046.5,307.7 1048.0,306.2 1049.5,304.5 1051.0,302.8 1052.5,301.0 1054.0,299.0 1055.5,297.0 1057.0,294.8 1058.5,292.4 1060.1,290.0 1061.6,287.4 1063.1,284.6 1064.6,281.7 1066.1,278.6 1067.6,275.4 1069.1,272.0 1070.6,268.4 1072.1,264.6 1073.6,260.7 1075.1,256.6 1076.6,252.3 1078.1,247.9 1079.6,243.2 1081.1,238.5 1082.6,233.5 1084.1,228.4 1085.6,223.1 1087.1,217.7 1088.6,212.2 1090.1,206.5 1091.6,200.7 1093.1,194.8 1094.6,188.8 1096.1,182.7 1097.6,176.5 1099.1,170.3 1100.6,164.1 1102.1,157.8 1103.6,151.5 1105.1,145.2 1106.6,139.0 1108.1,132.7 1109.6,126.6 1111.1,120.5 1112.6,114.5 1114.1,108.6 1115.6,102.9 1117.1,97.3 1118.6,91.9 1120.1,86.7 1121.6,81.6 1123.1,76.8 1124.6,72.2 1126.1,67.9 1127.6,63.9 1129.1,60.1 1130.6,56.6 1132.1,53.5 1133.6,50.6 1135.1,48.1 1136.6,45.9 1138.1,44.1 1139.6,42.6 1141.1,41.6 1142.6,40.8 1144.1,40.5 1145.6,40.5 1147.2,40.9 1148.7,41.6 1150.2,42.8 1151.7,44.3 1153.2,46.2 1154.7,48.4 1156.2,51.0 1157.7,53.9 1159.2,57.2 1160.7,60.8 1162.2,64.7 1163.7,68.9 1165.2,73.4 1166.7,78.2 1168.2,83.2 1169.7,88.5 1171.2,94.0 1172.7,99.7 1174.2,105.6 1175.7,111.7 1177.2,117.9 1178.7,124.3 1180.2,130.8 1181.7,137.4 1183.2,144.1 1184.7,150.8 1186.2,157.6 1187.7,164.4 1189.2,171.2 1190.7,178.0 1192.2,184.7 1193.7,191.4 1195.2,198.1 1196.7,204.7 1198.2,211.2 1199.7,217.5 1201.2,223.8 1202.7,229.9 1204.2,235.9 1205.7,241.8 1207.2,247.4 1208.7,252.9 1210.2,258.3 1211.7,263.4 1213.2,268.3 1214.7,273.0 1216.2,277.6 1217.7,281.9 1219.2,286.0 1220.7,289.9 1222.2,293.6 1223.7,297.1 1225.2,300.4 1226.7,303.4 1228.2,306.3 1229.7,308.9 1231.2,311.4 1232.7,313.6 1234.2,315.7 1235.8,317.6 1237.3,319.3 1238.8,320.8 1240.3,322.2 1241.8,323.4 1243.3,324.5 1244.8,325.4 1246.3,326.2 1247.8,326.9 1249.3,327.4 1250.8,327.9 1252.3,328.3 1253.8,328.6 1255.3,328.8 1256.8,328.9 1258.3,329.0 1259.8,329.1 1261.3,329.1 1262.8,329.0 1264.3,329.0 1265.8,328.9 1267.3,328.9 1268.8,328.8 1270.3,328.8 1271.8,328.7 1273.3,328.7 1274.8,328.8 1276.3,328.8 1277.8,328.9 1279.3,329.1 1280.8,329.3 1282.3,329.5 1283.8,329.8 1285.3,330.2 1286.8,330.6 1288.3,331.1 1289.8,331.6 1291.3,332.3 1292.8,333.0 1294.3,333.7 1295.8,334.6 1297.3,335.4 1298.8,336.4 1300.3,337.4 1301.8,338.5 1303.3,339.7 1304.8,340.9 1306.3,342.1 1307.8,343.4 1309.3,344.8 1310.8,346.2 1312.3,347.6 1313.8,349.1 1315.3,350.6 1316.8,352.1 1318.3,353.6 1319.8,355.2 1321.3,356.7 1322.9,358.3 1324.4,359.9 1325.9,361.4 1327.4,363.0 1328.9,364.5 1330.4,366.0 1331.9,367.5 1333.4,369.0 1334.9,370.4 1336.4,371.8 1337.9,373.1 1339.4,374.4 1340.9,375.6 1342.4,376.7 1343.9,377.8 1345.4,378.8 1346.9,379.8 1348.4,380.6 1349.9,381.4 1351.4,382.1 1352.9,382.7 1354.4,383.3 1355.9,383.7 1357.4,384.0 1358.9,384.3 1360.4,384.4 1361.9,384.5 1363.4,384.4 1364.9,384.2 1366.4,384.0 1367.9,383.6 1369.4,383.1 1370.9,382.6 1372.4,381.9 1373.9,381.1 1375.4,380.3 1376.9,379.3 1378.4,378.2 1379.9,377.1 1381.4,375.8 1382.9,374.5 1384.4,373.0 1385.9,371.5 1387.4,369.9 1388.9,368.2 1390.4,366.5 1391.9,364.7 1393.4,362.8 1394.9,360.8 1396.4,358.9 1397.9,356.8 1399.4,354.7 1400.9,352.6 1402.4,350.4 1403.9,348.2 1405.4,346.0 1406.9,343.8 1408.4,341.6 1410.0,339.3 1411.5,337.1 1413.0,334.9 1414.5,332.7 1416.0,330.5 1417.5,328.3 1419.0,326.2 1420.5,324.1 1422.0,322.1 1423.5,320.1 1425.0,318.2 1426.5,316.4 1428.0,314.6 1429.5,312.9 1431.0,311.3 1432.5,309.7 1434.0,308.3 1435.5,307.0 1437.0,305.7 1438.5,304.6 1440.0,303.6 1441.5,302.7 1443.0,301.9 1444.5,301.2 1446.0,300.7 1447.5,300.3 1449.0,300.0 1450.5,299.8 1452.0,299.7 1453.5,299.8" fill="none" stroke="#00ff00" stroke-width="4.4" stroke-linejoin="round" stroke-linecap="round"/>
<polyline points="927.9,421.3 929.4,420.6 930.9,419.8 932.4,419.0 933.9,418.2 935.4,417.3 936.9,416.4 938.4,415.4 939.9,414.4 941.4,413.3 942.9,412.2 944.4,411.1 945.9,409.9 947.4,408.7 948.9,407.4 950.4,406.1 951.9,404.7 953.4,403.3 954.9,401.9 956.4,400.4 957.9,398.9 959.4,397.3 960.9,395.7 962.4,394.1 963.9,392.4 965.4,390.7 966.9,389.0 968.4,387.3 969.9,385.5 971.4,383.7 973.0,381.9 974.5,380.1 976.0,378.3 977.5,376.5 979.0,374.6 980.5,372.8 982.0,371.0 983.5,369.2 985.0,367.4 986.5,365.6 988.0,363.8 989.5,362.1 991.0,360.4 992.5,358.7 994.0,357.1 995.5,355.5 997.0,353.9 998.5,352.4 1000.0,351.0 1001.5,349.6 1003.0,348.3 1004.5,347.1 1006.0,345.9 1007.5,344.8 1009.0,343.8 1010.5,342.8 1012.0,342.0 1013.5,341.2 1015.0,340.5 1016.5,339.9 1018.0,339.5 1019.5,339.1 1021.0,338.7 1022.5,338.5 1024.0,338.4 1025.5,338.4 1027.0,338.5 1028.5,338.7 1030.0,338.9 1031.5,339.3 1033.0,339.8 1034.5,340.3 1036.0,341.0 1037.5,341.7 1039.0,342.6 1040.5,343.5 1042.0,344.5 1043.5,345.5 1045.0,346.7 1046.5,347.9 1048.0,349.2 1049.5,350.6 1051.0,352.0 1052.5,353.4 1054.0,355.0 1055.5,356.5 1057.0,358.2 1058.5,359.8 1060.1,361.5 1061.6,363.3 1063.1,365.0 1064.6,366.8 1066.1,368.6 1067.6,370.4 1069.1,372.2 1070.6,374.0 1072.1,375.9 1073.6,377.7 1075.1,379.5 1076.6,381.3 1078.1,383.2 1079.6,384.9 1081.1,386.7 1082.6,388.5 1084.1,390.2 1085.6,391.9 1087.1,393.6 1088.6,395.2 1090.1,396.8 1091.6,398.4 1093.1,399.9 1094.6,401.4 1096.1,402.8 1097.6,404.3 1099.1,405.6 1100.6,407.0 1102.1,408.2 1103.6,409.5 1105.1,410.7 1106.6,411.9 1108.1,413.0 1109.6,414.0 1111.1,415.1 1112.6,416.1 1114.1,417.0 1115.6,417.9 1117.1,418.8 1118.6,419.6 1120.1,420.4 1121.6,421.1 1123.1,421.8 1124.6,422.5 1126.1,423.1 1127.6,423.7 1129.1,424.3 1130.6,424.8 1132.1,425.3 1133.6,425.8 1135.1,426.2 1136.6,426.7 1138.1,427.1 1139.6,427.4 1141.1,427.8 1142.6,428.1 1144.1,428.4 1145.6,428.7 1147.2,428.9 1148.7,429.2 1150.2,429.4 1151.7,429.6 1153.2,429.8 1154.7,430.0 1156.2,430.1 1157.7,430.3 1159.2,430.4 1160.7,430.6 1162.2,430.7 1163.7,430.8 1165.2,430.9 1166.7,431.0 1168.2,431.1 1169.7,431.2 1171.2,431.2 1172.7,431.3 1174.2,431.4 1175.7,431.4 1177.2,431.5 1178.7,431.5 1180.2,431.5 1181.7,431.6 1183.2,431.6 1184.7,431.6 1186.2,431.7 1187.7,431.7 1189.2,431.7 1190.7,431.7 1192.2,431.8 1193.7,431.8 1195.2,431.8 1196.7,431.8 1198.2,431.8 1199.7,431.8 1201.2,431.8 1202.7,431.8 1204.2,431.8 1205.7,431.9 1207.2,431.9 1208.7,431.9 1210.2,431.9 1211.7,431.9 1213.2,431.9 1214.7,431.9 1216.2,431.9 1217.7,431.9 1219.2,431.9 1220.7,431.9 1222.2,431.9 1223.7,431.9 1225.2,431.9 1226.7,431.9 1228.2,431.9 1229.7,431.9 1231.2,431.9 1232.7,431.9 1234.2,431.9 1235.8,431.9 1237.3,431.9 1238.8,431.9 1240.3,431.9 1241.8,431.9 1243.3,431.9 1244.8,431.9 1246.3,431.9 1247.8,431.9 1249.3,431.9 1250.8,431.9 1252.3,431.9 1253.8,431.9 1255.3,431.9 1256.8,431.9 1258.3,431.9 1259.8,431.9 1261.3,431.9 1262.8,431.9 1264.3,431.9 1265.8,431.9 1267.3,431.9 1268.8,431.9 1270.3,431.9 1271.8,431.9 1273.3,431.9 1274.8,431.9 1276.3,431.9 1277.8,431.9 1279.3,431.9 1280.8,431.9 1282.3,431.9 1283.8,431.9 1285.3,431.9 1286.8,431.9 1288.3,431.9 1289.8,431.9 1291.3,431.9 1292.8,431.9 1294.3,431.9 1295.8,431.9 1297.3,431.9 1298.8,431.9 1300.3,431.9 1301.8,431.9 1303.3,431.9 1304.8,431.9 1306.3,431.9 1307.8,431.9 1309.3,431.9 1310.8,431.9 1312.3,431.9 1313.8,431.9 1315.3,431.9 1316.8,431.9 1318.3,431.9 1319.8,431.9 1321.3,431.9 1322.9,431.9 1324.4,431.9 1325.9,431.9 1327.4,431.9 1328.9,431.9 1330.4,431.9 1331.9,431.9 1333.4,431.9 1334.9,431.9 1336.4,431.9 1337.9,431.9 1339.4,431.9 1340.9,431.9 1342.4,431.9 1343.9,431.9 1345.4,431.9 1346.9,431.9 1348.4,431.9 1349.9,431.9 1351.4,431.9 1352.9,431.9 1354.4,431.9 1355.9,431.9 1357.4,431.9 1358.9,431.9 1360.4,431.9 1361.9,431.9 1363.4,431.9 1364.9,431.9 1366.4,431.9 1367.9,431.9 1369.4,431.9 1370.9,431.9 1372.4,431.9 1373.9,431.9 1375.4,431.9 1376.9,431.9 1378.4,431.9 1379.9,431.9 1381.4,431.9 1382.9,431.9 1384.4,431.9 1385.9,431.9 1387.4,431.9 1388.9,431.9 1390.4,431.9 1391.9,431.9 1393.4,431.9 1394.9,431.9 1396.4,431.9 1397.9,431.9 1399.4,431.9 1400.9,431.9 1402.4,431.9 1403.9,431.9 1405.4,431.9 1406.9,431.9 1408.4,431.9 1410.0,431.9 1411.5,431.9 1413.0,431.9 1414.5,431.9 1416.0,431.9 1417.5,431.9 1419.0,431.9 1420.5,431.9 1422.0,431.9 1423.5,431.9 1425.0,431.9 1426.5,431.9 1428.0,431.9 1429.5,431.9 1431.0,431.9 1432.5,431.9 1434.0,431.9 1435.5,431.9 1437.0,431.9 1438.5,431.9 1440.0,431.9 1441.5,431.9 1443.0,431.9 1444.5,431.9 1446.0,431.9 1447.5,431.9 1449.0,431.9 1450.5,431.9 1452.0,431.9 1453.5,431.9" fill="none" stroke="#0000ff" stroke-width="4.4" stroke-linejoin="round" stroke-linecap="round"/>
<polyline points="927.9,431.9 929.4,431.9 930.9,431.9 932.4,431.9 933.9,431.9 935.4,431.9 936.9,431.9 938.4,431.9 939.9,431.9 941.4,431.9 942.9,431.9 944.4,431.9 945.9,431.9 947.4,431.9 948.9,431.9 950.4,431.9 951.9,431.9 953.4,431.9 954.9,431.9 956.4,431.9 957.9,431.9 959.4,431.9 960.9,431.9 962.4,431.9 963.9,431.9 965.4,431.9 966.9,431.9 968.4,431.9 969.9,431.9 971.4,431.9 973.0,431.9 974.5,431.9 976.0,431.9 977.5,431.9 979.0,431.9 980.5,431.9 982.0,431.9 983.5,431.9 985.0,431.9 986.5,431.9 988.0,431.9 989.5,431.9 991.0,431.9 992.5,431.9 994.0,431.9 995.5,431.9 997.0,431.9 998.5,431.9 1000.0,431.9 1001.5,431.9 1003.0,431.9 1004.5,431.9 1006.0,431.9 1007.5,431.9 1009.0,431.9 1010.5,431.9 1012.0,431.9 1013.5,431.9 1015.0,431.9 1016.5,431.9 1018.0,431.9 1019.5,431.9 1021.0,431.9 1022.5,431.9 1024.0,431.9 1025.5,431.9 1027.0,431.9 1028.5,431.9 1030.0,431.9 1031.5,431.9 1033.0,431.9 1034.5,431.9 1036.0,431.9 1037.5,431.9 1039.0,431.9 1040.5,431.9 1042.0,431.9 1043.5,431.9 1045.0,431.9 1046.5,431.9 1048.0,431.9 1049.5,431.9 1051.0,431.9 1052.5,431.9 1054.0,431.9 1055.5,431.9 1057.0,431.9 1058.5,431.9 1060.1,431.9 1061.6,431.9 1063.1,431.9 1064.6,431.9 1066.1,431.9 1067.6,431.9 1069.1,431.9 1070.6,431.9 1072.1,431.9 1073.6,431.9 1075.1,431.9 1076.6,431.9 1078.1,431.9 1079.6,431.9 1081.1,431.9 1082.6,431.9 1084.1,431.9 1085.6,431.9 1087.1,431.9 1088.6,431.9 1090.1,431.9 1091.6,431.9 1093.1,431.9 1094.6,431.9 1096.1,431.9 1097.6,431.9 1099.1,431.9 1100.6,431.9 1102.1,431.9 1103.6,431.9 1105.1,431.8 1106.6,431.8 1108.1,431.8 1109.6,431.8 1111.1,431.8 1112.6,431.8 1114.1,431.8 1115.6,431.8 1117.1,431.8 1118.6,431.7 1120.1,431.7 1121.6,431.7 1123.1,431.7 1124.6,431.6 1126.1,431.6 1127.6,431.6 1129.1,431.5 1130.6,431.5 1132.1,431.5 1133.6,431.4 1135.1,431.4 1136.6,431.3 1138.1,431.2 1139.6,431.2 1141.1,431.1 1142.6,431.0 1144.1,430.9 1145.6,430.8 1147.2,430.7 1148.7,430.6 1150.2,430.4 1151.7,430.3 1153.2,430.2 1154.7,430.0 1156.2,429.8 1157.7,429.6 1159.2,429.4 1160.7,429.2 1162.2,428.9 1163.7,428.7 1165.2,428.4 1166.7,428.1 1168.2,427.8 1169.7,427.4 1171.2,427.0 1172.7,426.6 1174.2,426.2 1175.7,425.8 1177.2,425.3 1178.7,424.8 1180.2,424.2 1181.7,423.7 1183.2,423.1 1184.7,422.4 1186.2,421.7 1187.7,421.0 1189.2,420.3 1190.7,419.5 1192.2,418.6 1193.7,417.8 1195.2,416.8 1196.7,415.9 1198.2,414.9 1199.7,413.8 1201.2,412.7 1202.7,411.6 1204.2,410.4 1205.7,409.2 1207.2,407.9 1208.7,406.6 1210.2,405.2 1211.7,403.8 1213.2,402.4 1214.7,400.9 1216.2,399.3 1217.7,397.8 1219.2,396.1 1220.7,394.5 1222.2,392.8 1223.7,391.1 1225.2,389.3 1226.7,387.6 1228.2,385.8 1229.7,383.9 1231.2,382.1 1232.7,380.2 1234.2,378.3 1235.8,376.4 1237.3,374.5 1238.8,372.6 1240.3,370.7 1241.8,368.8 1243.3,366.9 1244.8,365.1 1246.3,363.2 1247.8,361.4 1249.3,359.6 1250.8,357.8 1252.3,356.0 1253.8,354.3 1255.3,352.7 1256.8,351.1 1258.3,349.5 1259.8,348.0 1261.3,346.6 1262.8,345.2 1264.3,343.9 1265.8,342.7 1267.3,341.5 1268.8,340.4 1270.3,339.4 1271.8,338.5 1273.3,337.7 1274.8,337.0 1276.3,336.4 1277.8,335.9 1279.3,335.4 1280.8,335.1 1282.3,334.9 1283.8,334.7 1285.3,334.7 1286.8,334.8 1288.3,334.9 1289.8,335.2 1291.3,335.6 1292.8,336.1 1294.3,336.6 1295.8,337.3 1297.3,338.1 1298.8,338.9 1300.3,339.8 1301.8,340.9 1303.3,342.0 1304.8,343.1 1306.3,344.4 1307.8,345.7 1309.3,347.1 1310.8,348.6 1312.3,350.1 1313.8,351.7 1315.3,353.3 1316.8,355.0 1318.3,356.7 1319.8,358.5 1321.3,360.3 1322.9,362.1 1324.4,364.0 1325.9,365.8 1327.4,367.7 1328.9,369.6 1330.4,371.5 1331.9,373.4 1333.4,375.3 1334.9,377.2 1336.4,379.1 1337.9,381.0 1339.4,382.8 1340.9,384.7 1342.4,386.5 1343.9,388.3 1345.4,390.1 1346.9,391.8 1348.4,393.5 1349.9,395.2 1351.4,396.8 1352.9,398.4 1354.4,400.0 1355.9,401.5 1357.4,403.0 1358.9,404.4 1360.4,405.8 1361.9,407.1 1363.4,408.4 1364.9,409.7 1366.4,410.9 1367.9,412.1 1369.4,413.2 1370.9,414.3 1372.4,415.3 1373.9,416.3 1375.4,417.2 1376.9,418.1 1378.4,419.0 1379.9,419.8 1381.4,420.6 1382.9,421.3 1384.4,422.0 1385.9,422.7 1387.4,423.3 1388.9,423.9 1390.4,424.5 1391.9,425.0 1393.4,425.5 1394.9,426.0 1396.4,426.4 1397.9,426.8 1399.4,427.2 1400.9,427.6 1402.4,427.9 1403.9,428.2 1405.4,428.5 1406.9,428.8 1408.4,429.0 1410.0,429.3 1411.5,429.5 1413.0,429.7 1414.5,429.9 1416.0,430.1 1417.5,430.2 1419.0,430.4 1420.5,430.5 1422.0,430.6 1423.5,430.7 1425.0,430.9 1426.5,430.9 1428.0,431.0 1429.5,431.1 1431.0,431.2 1432.5,431.3 1434.0,431.3 1435.5,431.4 1437.0,431.4 1438.5,431.5 1440.0,431.5 1441.5,431.6 1443.0,431.6 1444.5,431.6 1446.0,431.7 1447.5,431.7 1449.0,431.7 1450.5,431.7 1452.0,431.7 1453.5,431.8" fill="none" stroke="#007000" stroke-width="4.4" stroke-linejoin="round" stroke-linecap="round"/>
<polyline points="927.9,431.9 929.4,431.9 930.9,431.9 932.4,431.9 933.9,431.9 935.4,431.9 936.9,431.9 938.4,431.9 939.9,431.9 941.4,431.9 942.9,431.9 944.4,431.9 945.9,431.9 947.4,431.9 948.9,431.8 950.4,431.8 951.9,431.8 953.4,431.8 954.9,431.8 956.4,431.8 957.9,431.8 959.4,431.8 960.9,431.8 962.4,431.7 963.9,431.7 965.4,431.7 966.9,431.7 968.4,431.6 969.9,431.6 971.4,431.5 973.0,431.5 974.5,431.5 976.0,431.4 977.5,431.3 979.0,431.3 980.5,431.2 982.0,431.1 983.5,431.0 985.0,430.9 986.5,430.8 988.0,430.7 989.5,430.5 991.0,430.4 992.5,430.2 994.0,430.0 995.5,429.8 997.0,429.5 998.5,429.3 1000.0,429.0 1001.5,428.7 1003.0,428.4 1004.5,428.0 1006.0,427.6 1007.5,427.2 1009.0,426.7 1010.5,426.2 1012.0,425.6 1013.5,425.0 1015.0,424.4 1016.5,423.6 1018.0,422.9 1019.5,422.0 1021.0,421.2 1022.5,420.2 1024.0,419.1 1025.5,418.0 1027.0,416.8 1028.5,415.6 1030.0,414.2 1031.5,412.7 1033.0,411.1 1034.5,409.5 1036.0,407.7 1037.5,405.8 1039.0,403.8 1040.5,401.6 1042.0,399.3 1043.5,396.9 1045.0,394.4 1046.5,391.7 1048.0,388.9 1049.5,385.9 1051.0,382.7 1052.5,379.4 1054.0,375.9 1055.5,372.3 1057.0,368.5 1058.5,364.5 1060.1,360.4 1061.6,356.0 1063.1,351.5 1064.6,346.8 1066.1,341.9 1067.6,336.9 1069.1,331.7 1070.6,326.2 1072.1,320.7 1073.6,314.9 1075.1,309.0 1076.6,302.9 1078.1,296.6 1079.6,290.2 1081.1,283.7 1082.6,276.9 1084.1,270.1 1085.6,263.1 1087.1,256.1 1088.6,248.9 1090.1,241.6 1091.6,234.2 1093.1,226.8 1094.6,219.3 1096.1,211.8 1097.6,204.2 1099.1,196.6 1100.6,189.1 1102.1,181.5 1103.6,174.0 1105.1,166.5 1106.6,159.1 1108.1,151.7 1109.6,144.5 1111.1,137.4 1112.6,130.5 1114.1,123.7 1115.6,117.0 1117.1,110.6 1118.6,104.4 1120.1,98.4 1121.6,92.6 1123.1,87.1 1124.6,81.9 1126.1,77.0 1127.6,72.4 1129.1,68.1 1130.6,64.1 1132.1,60.5 1133.6,57.2 1135.1,54.3 1136.6,51.8 1138.1,49.6 1139.6,47.9 1141.1,46.5 1142.6,45.5 1144.1,45.0 1145.6,44.8 1147.2,45.0 1148.7,45.7 1150.2,46.7 1151.7,48.2 1153.2,50.0 1154.7,52.2 1156.2,54.8 1157.7,57.8 1159.2,61.2 1160.7,64.9 1162.2,68.9 1163.7,73.3 1165.2,77.9 1166.7,82.9 1168.2,88.2 1169.7,93.7 1171.2,99.5 1172.7,105.6 1174.2,111.9 1175.7,118.3 1177.2,125.0 1178.7,131.8 1180.2,138.8 1181.7,145.9 1183.2,153.2 1184.7,160.5 1186.2,168.0 1187.7,175.4 1189.2,183.0 1190.7,190.5 1192.2,198.1 1193.7,205.7 1195.2,213.3 1196.7,220.8 1198.2,228.3 1199.7,235.7 1201.2,243.1 1202.7,250.3 1204.2,257.5 1205.7,264.5 1207.2,271.5 1208.7,278.3 1210.2,285.0 1211.7,291.5 1213.2,297.9 1214.7,304.1 1216.2,310.2 1217.7,316.1 1219.2,321.8 1220.7,327.3 1222.2,332.7 1223.7,337.9 1225.2,342.9 1226.7,347.8 1228.2,352.4 1229.7,356.9 1231.2,361.2 1232.7,365.3 1234.2,369.3 1235.8,373.0 1237.3,376.6 1238.8,380.1 1240.3,383.4 1241.8,386.5 1243.3,389.4 1244.8,392.2 1246.3,394.9 1247.8,397.4 1249.3,399.8 1250.8,402.0 1252.3,404.2 1253.8,406.2 1255.3,408.0 1256.8,409.8 1258.3,411.5 1259.8,413.0 1261.3,414.5 1262.8,415.8 1264.3,417.1 1265.8,418.3 1267.3,419.4 1268.8,420.4 1270.3,421.3 1271.8,422.2 1273.3,423.0 1274.8,423.8 1276.3,424.5 1277.8,425.1 1279.3,425.7 1280.8,426.3 1282.3,426.8 1283.8,427.3 1285.3,427.7 1286.8,428.1 1288.3,428.4 1289.8,428.8 1291.3,429.1 1292.8,429.3 1294.3,429.6 1295.8,429.8 1297.3,430.0 1298.8,430.2 1300.3,430.4 1301.8,430.5 1303.3,430.7 1304.8,430.8 1306.3,430.9 1307.8,431.0 1309.3,431.1 1310.8,431.2 1312.3,431.3 1313.8,431.3 1315.3,431.4 1316.8,431.5 1318.3,431.5 1319.8,431.6 1321.3,431.6 1322.9,431.6 1324.4,431.7 1325.9,431.7 1327.4,431.7 1328.9,431.7 1330.4,431.8 1331.9,431.8 1333.4,431.8 1334.9,431.8 1336.4,431.8 1337.9,431.8 1339.4,431.8 1340.9,431.8 1342.4,431.9 1343.9,431.9 1345.4,431.9 1346.9,431.9 1348.4,431.9 1349.9,431.9 1351.4,431.9 1352.9,431.9 1354.4,431.9 1355.9,431.9 1357.4,431.9 1358.9,431.9 1360.4,431.9 1361.9,431.9 1363.4,431.9 1364.9,431.9 1366.4,431.9 1367.9,431.9 1369.4,431.9 1370.9,431.9 1372.4,431.9 1373.9,431.9 1375.4,431.9 1376.9,431.9 1378.4,431.9 1379.9,431.9 1381.4,431.9 1382.9,431.9 1384.4,431.9 1385.9,431.9 1387.4,431.9 1388.9,431.9 1390.4,431.9 1391.9,431.9 1393.4,431.9 1394.9,431.9 1396.4,431.9 1397.9,431.9 1399.4,431.9 1400.9,431.9 1402.4,431.9 1403.9,431.9 1405.4,431.9 1406.9,431.9 1408.4,431.9 1410.0,431.9 1411.5,431.9 1413.0,431.9 1414.5,431.9 1416.0,431.9 1417.5,431.9 1419.0,431.9 1420.5,431.9 1422.0,431.9 1423.5,431.9 1425.0,431.9 1426.5,431.9 1428.0,431.9 1429.5,431.9 1431.0,431.9 1432.5,431.9 1434.0,431.9 1435.5,431.9 1437.0,431.9 1438.5,431.9 1440.0,431.9 1441.5,431.9 1443.0,431.9 1444.5,431.9 1446.0,431.9 1447.5,431.9 1449.0,431.9 1450.5,431.9 1452.0,431.9 1453.5,431.9" fill="none" stroke="#ff00ff" stroke-width="4.4" stroke-linejoin="round" stroke-linecap="round"/>
<path d="M867.94 492.3V487.7M879.57 492.3V487.7M891.21 492.3V483M902.85 492.3V487.7M914.48 492.3V487.7M926.12 492.3V487.7M937.76 492.3V487.7M949.39 492.3V487.7M961.03 492.3V483M972.67 492.3V487.7M984.31 492.3V487.7M995.94 492.3V487.7M1007.58 492.3V487.7M1019.22 492.3V487.7M1030.85 492.3V483M1042.49 492.3V487.7M1054.13 492.3V487.7M1065.76 492.3V487.7M1077.4 492.3V487.7M1089.04 492.3V487.7M1100.67 492.3V483M1112.31 492.3V487.7M1123.95 492.3V487.7M1135.58 492.3V487.7M1147.22 492.3V487.7M1158.86 492.3V487.7M1170.49 492.3V483M1182.13 492.3V487.7M1193.77 492.3V487.7M1205.41 492.3V487.7M1217.04 492.3V487.7M1228.68 492.3V487.7M1240.32 492.3V483M1251.95 492.3V487.7M1263.59 492.3V487.7M1275.23 492.3V487.7M1286.86 492.3V487.7M1298.5 492.3V487.7M1310.14 492.3V483M1321.77 492.3V487.7M1333.41 492.3V487.7M1345.05 492.3V487.7M1356.68 492.3V487.7M1368.32 492.3V487.7M1379.96 492.3V483M1391.59 492.3V487.7M1403.23 492.3V487.7M1414.87 492.3V487.7M1426.51 492.3V487.7M1438.14 492.3V487.7M1449.78 492.3V483M1461.42 492.3V487.7M1473.05 492.3V487.7M1484.69 492.3V487.7M1496.33 492.3V487.7M1507.96 492.3V487.7M856.3 482.26H860.9M856.3 472.23H860.9M856.3 462.19H860.9M856.3 452.16H860.9M856.3 442.12H860.9M856.3 432.09H865.6M856.3 422.05H860.9M856.3 412.02H860.9M856.3 401.98H860.9M856.3 391.95H860.9M856.3 381.91H860.9M856.3 371.88H865.6M856.3 361.84H860.9M856.3 351.8H860.9M856.3 341.77H860.9M856.3 331.73H860.9M856.3 321.7H860.9M856.3 311.66H865.6M856.3 301.63H860.9M856.3 291.59H860.9M856.3 281.56H860.9M856.3 271.52H860.9M856.3 261.49H860.9M856.3 251.45H865.6M856.3 241.41H860.9M856.3 231.38H860.9M856.3 221.34H860.9M856.3 211.31H860.9M856.3 201.27H860.9M856.3 191.24H865.6M856.3 181.2H860.9M856.3 171.17H860.9M856.3 161.13H860.9M856.3 151.1H860.9M856.3 141.06H860.9M856.3 131.03H865.6M856.3 120.99H860.9M856.3 110.95H860.9M856.3 100.92H860.9M856.3 90.88H860.9M856.3 80.85H860.9M856.3 70.81H865.6M856.3 60.78H860.9M856.3 50.74H860.9M856.3 40.71H860.9M856.3 30.67H860.9M856.3 20.64H860.9" stroke="#000" stroke-width="2.3" stroke-linecap="round" fill="none"/>
<rect x="856.3" y="10.6" width="663.3" height="481.7" fill="none" stroke="#000" stroke-width="2.3"/>
<text x="823.50" y="499.25" font-size="23.87" fill="#000" textLength="20.15" lengthAdjust="spacingAndGlyphs">-5</text>
<text x="833.13" y="439.04" font-size="23.87" fill="#000" textLength="12.45" lengthAdjust="spacingAndGlyphs">0</text>
<text x="830.12" y="378.82" font-size="23.87" fill="#000" textLength="13.61" lengthAdjust="spacingAndGlyphs">5</text>
<text x="817.41" y="318.61" font-size="23.87" fill="#000" textLength="26.22" lengthAdjust="spacingAndGlyphs">10</text>
<text x="817.40" y="258.40" font-size="23.87" fill="#000" textLength="26.30" lengthAdjust="spacingAndGlyphs">15</text>
<text x="818.05" y="198.19" font-size="23.87" fill="#000" textLength="25.55" lengthAdjust="spacingAndGlyphs">20</text>
<text x="818.05" y="137.98" font-size="23.87" fill="#000" textLength="25.63" lengthAdjust="spacingAndGlyphs">25</text>
<text x="818.34" y="77.76" font-size="23.87" fill="#000" textLength="25.26" lengthAdjust="spacingAndGlyphs">30</text>
<text x="818.33" y="17.55" font-size="23.87" fill="#000" textLength="25.33" lengthAdjust="spacingAndGlyphs">35</text>
<text x="877.38" y="523.00" font-size="24.01" fill="#000" textLength="25.23" lengthAdjust="spacingAndGlyphs">94</text>
<text x="944.19" y="523.00" font-size="24.01" fill="#000" textLength="25.60" lengthAdjust="spacingAndGlyphs">96</text>
<text x="1011.01" y="523.00" font-size="24.01" fill="#000" textLength="25.58" lengthAdjust="spacingAndGlyphs">98</text>
<text x="1071.23" y="523.00" font-size="24.01" fill="#000" textLength="38.03" lengthAdjust="spacingAndGlyphs">100</text>
<text x="1138.04" y="523.00" font-size="24.01" fill="#000" textLength="38.30" lengthAdjust="spacingAndGlyphs">102</text>
<text x="1204.88" y="523.00" font-size="24.01" fill="#000" textLength="37.79" lengthAdjust="spacingAndGlyphs">104</text>
<text x="1271.68" y="523.00" font-size="24.01" fill="#000" textLength="38.15" lengthAdjust="spacingAndGlyphs">106</text>
<text x="1338.50" y="523.00" font-size="24.01" fill="#000" textLength="38.13" lengthAdjust="spacingAndGlyphs">108</text>
<text x="1405.24" y="523.00" font-size="24.01" fill="#000" textLength="38.16" lengthAdjust="spacingAndGlyphs">110</text>
<text x="1472.05" y="523.00" font-size="24.01" fill="#000" textLength="38.44" lengthAdjust="spacingAndGlyphs">112</text>
<text x="1079.42" y="560.40" font-size="25.44" fill="#000" textLength="226.86" lengthAdjust="spacingAndGlyphs">Binding Energy (eV)</text>
<text transform="translate(798.50 258.50) rotate(-90)" x="-71.21" y="0" font-size="26.84" textLength="142.70" lengthAdjust="spacingAndGlyphs">Counts (a.u.)</text>
<text x="1444.77" y="63.49" font-size="40.45" fill="#000" textLength="51.87" lengthAdjust="spacingAndGlyphs">(b)</text>
<text x="876.25" y="46.00" font-size="25.99" fill="#000" textLength="51.24" lengthAdjust="spacingAndGlyphs">Si2p</text>
<text x="1341.52" y="87.60" font-size="22.03" fill="#ff0000" textLength="79.11" lengthAdjust="spacingAndGlyphs">Original</text>
<text x="1341.62" y="113.20" font-size="22.03" fill="#00ff00" textLength="92.13" lengthAdjust="spacingAndGlyphs">Sum of fit</text>
<text x="1342.71" y="141.50" font-size="22.03" fill="#0000ff" textLength="41.93" lengthAdjust="spacingAndGlyphs">Si-Si</text>
<text x="1341.97" y="167.70" font-size="22.03" fill="#ff00ff" textLength="61.70" lengthAdjust="spacingAndGlyphs">C-Si-O</text>
<text x="1342.20" y="192.70" font-size="22.03" fill="#007000" textLength="63.51" lengthAdjust="spacingAndGlyphs">N-Si-O</text>
<path d="M143.1 982.5a5.8 5.8 0 1 0 11.6 0a5.8 5.8 0 1 0 -11.6 0M146.0 980.5a5.8 5.8 0 1 0 11.6 0a5.8 5.8 0 1 0 -11.6 0M148.8 979.1a5.8 5.8 0 1 0 11.6 0a5.8 5.8 0 1 0 -11.6 0M151.7 978.6a5.8 5.8 0 1 0 11.6 0a5.8 5.8 0 1 0 -11.6 0M154.6 978.9a5.8 5.8 0 1 0 11.6 0a5.8 5.8 0 1 0 -11.6 0M157.4 979.7a5.8 5.8 0 1 0 11.6 0a5.8 5.8 0 1 0 -11.6 0M160.3 980.7a5.8 5.8 0 1 0 11.6 0a5.8 5.8 0 1 0 -11.6 0M163.2 982.4a5.8 5.8 0 1 0 11.6 0a5.8 5.8 0 1 0 -11.6 0M166.0 984.9a5.8 5.8 0 1 0 11.6 0a5.8 5.8 0 1 0 -11.6 0M168.9 988.0a5.8 5.8 0 1 0 11.6 0a5.8 5.8 0 1 0 -11.6 0M171.8 992.1a5.8 5.8 0 1 0 11.6 0a5.8 5.8 0 1 0 -11.6 0M174.6 996.6a5.8 5.8 0 1 0 11.6 0a5.8 5.8 0 1 0 -11.6 0M177.5 1001.2a5.8 5.8 0 1 0 11.6 0a5.8 5.8 0 1 0 -11.6 0M180.4 1004.7a5.8 5.8 0 1 0 11.6 0a5.8 5.8 0 1 0 -11.6 0M183.2 1007.9a5.8 5.8 0 1 0 11.6 0a5.8 5.8 0 1 0 -11.6 0M186.1 1010.7a5.8 5.8 0 1 0 11.6 0a5.8 5.8 0 1 0 -11.6 0M189.0 1013.6a5.8 5.8 0 1 0 11.6 0a5.8 5.8 0 1 0 -11.6 0M191.8 1016.6a5.8 5.8 0 1 0 11.6 0a5.8 5.8 0 1 0 -11.6 0M194.7 1019.1a5.8 5.8 0 1 0 11.6 0a5.8 5.8 0 1 0 -11.6 0M197.5 1021.1a5.8 5.8 0 1 0 11.6 0a5.8 5.8 0 1 0 -11.6 0M200.4 1022.8a5.8 5.8 0 1 0 11.6 0a5.8 5.8 0 1 0 -11.6 0M203.3 1023.9a5.8 5.8 0 1 0 11.6 0a5.8 5.8 0 1 0 -11.6 0M206.1 1024.5a5.8 5.8 0 1 0 11.6 0a5.8 5.8 0 1 0 -11.6 0M209.0 1024.8a5.8 5.8 0 1 0 11.6 0a5.8 5.8 0 1 0 -11.6 0M211.9 1024.0a5.8 5.8 0 1 0 11.6 0a5.8 5.8 0 1 0 -11.6 0M214.7 1022.1a5.8 5.8 0 1 0 11.6 0a5.8 5.8 0 1 0 -11.6 0M217.6 1017.8a5.8 5.8 0 1 0 11.6 0a5.8 5.8 0 1 0 -11.6 0M220.5 1010.7a5.8 5.8 0 1 0 11.6 0a5.8 5.8 0 1 0 -11.6 0M223.3 1001.6a5.8 5.8 0 1 0 11.6 0a5.8 5.8 0 1 0 -11.6 0M226.2 989.1a5.8 5.8 0 1 0 11.6 0a5.8 5.8 0 1 0 -11.6 0M229.1 979.5a5.8 5.8 0 1 0 11.6 0a5.8 5.8 0 1 0 -11.6 0M231.9 969.7a5.8 5.8 0 1 0 11.6 0a5.8 5.8 0 1 0 -11.6 0M234.8 956.5a5.8 5.8 0 1 0 11.6 0a5.8 5.8 0 1 0 -11.6 0M237.7 944.0a5.8 5.8 0 1 0 11.6 0a5.8 5.8 0 1 0 -11.6 0M240.5 933.6a5.8 5.8 0 1 0 11.6 0a5.8 5.8 0 1 0 -11.6 0M243.4 917.1a5.8 5.8 0 1 0 11.6 0a5.8 5.8 0 1 0 -11.6 0M246.3 900.2a5.8 5.8 0 1 0 11.6 0a5.8 5.8 0 1 0 -11.6 0M249.1 881.8a5.8 5.8 0 1 0 11.6 0a5.8 5.8 0 1 0 -11.6 0M252.0 863.2a5.8 5.8 0 1 0 11.6 0a5.8 5.8 0 1 0 -11.6 0M254.9 840.4a5.8 5.8 0 1 0 11.6 0a5.8 5.8 0 1 0 -11.6 0M257.7 817.9a5.8 5.8 0 1 0 11.6 0a5.8 5.8 0 1 0 -11.6 0M260.6 798.4a5.8 5.8 0 1 0 11.6 0a5.8 5.8 0 1 0 -11.6 0M263.5 779.0a5.8 5.8 0 1 0 11.6 0a5.8 5.8 0 1 0 -11.6 0M266.3 760.2a5.8 5.8 0 1 0 11.6 0a5.8 5.8 0 1 0 -11.6 0M269.2 741.8a5.8 5.8 0 1 0 11.6 0a5.8 5.8 0 1 0 -11.6 0M272.1 724.8a5.8 5.8 0 1 0 11.6 0a5.8 5.8 0 1 0 -11.6 0M274.9 708.3a5.8 5.8 0 1 0 11.6 0a5.8 5.8 0 1 0 -11.6 0M277.8 693.3a5.8 5.8 0 1 0 11.6 0a5.8 5.8 0 1 0 -11.6 0M280.7 676.2a5.8 5.8 0 1 0 11.6 0a5.8 5.8 0 1 0 -11.6 0M283.5 664.1a5.8 5.8 0 1 0 11.6 0a5.8 5.8 0 1 0 -11.6 0M286.4 652.0a5.8 5.8 0 1 0 11.6 0a5.8 5.8 0 1 0 -11.6 0M289.3 643.0a5.8 5.8 0 1 0 11.6 0a5.8 5.8 0 1 0 -11.6 0M292.1 636.7a5.8 5.8 0 1 0 11.6 0a5.8 5.8 0 1 0 -11.6 0M295.0 631.4a5.8 5.8 0 1 0 11.6 0a5.8 5.8 0 1 0 -11.6 0M297.9 628.8a5.8 5.8 0 1 0 11.6 0a5.8 5.8 0 1 0 -11.6 0M300.7 627.7a5.8 5.8 0 1 0 11.6 0a5.8 5.8 0 1 0 -11.6 0M303.6 628.5a5.8 5.8 0 1 0 11.6 0a5.8 5.8 0 1 0 -11.6 0M306.4 630.7a5.8 5.8 0 1 0 11.6 0a5.8 5.8 0 1 0 -11.6 0M309.3 636.4a5.8 5.8 0 1 0 11.6 0a5.8 5.8 0 1 0 -11.6 0M312.2 644.8a5.8 5.8 0 1 0 11.6 0a5.8 5.8 0 1 0 -11.6 0M315.0 655.4a5.8 5.8 0 1 0 11.6 0a5.8 5.8 0 1 0 -11.6 0M317.9 664.3a5.8 5.8 0 1 0 11.6 0a5.8 5.8 0 1 0 -11.6 0M320.8 679.3a5.8 5.8 0 1 0 11.6 0a5.8 5.8 0 1 0 -11.6 0M323.6 691.8a5.8 5.8 0 1 0 11.6 0a5.8 5.8 0 1 0 -11.6 0M326.5 705.1a5.8 5.8 0 1 0 11.6 0a5.8 5.8 0 1 0 -11.6 0M329.4 719.7a5.8 5.8 0 1 0 11.6 0a5.8 5.8 0 1 0 -11.6 0M332.2 734.9a5.8 5.8 0 1 0 11.6 0a5.8 5.8 0 1 0 -11.6 0M335.1 750.4a5.8 5.8 0 1 0 11.6 0a5.8 5.8 0 1 0 -11.6 0M338.0 766.5a5.8 5.8 0 1 0 11.6 0a5.8 5.8 0 1 0 -11.6 0M340.8 782.0a5.8 5.8 0 1 0 11.6 0a5.8 5.8 0 1 0 -11.6 0M343.7 797.1a5.8 5.8 0 1 0 11.6 0a5.8 5.8 0 1 0 -11.6 0M346.6 812.2a5.8 5.8 0 1 0 11.6 0a5.8 5.8 0 1 0 -11.6 0M349.4 826.0a5.8 5.8 0 1 0 11.6 0a5.8 5.8 0 1 0 -11.6 0M352.3 839.7a5.8 5.8 0 1 0 11.6 0a5.8 5.8 0 1 0 -11.6 0M355.2 851.6a5.8 5.8 0 1 0 11.6 0a5.8 5.8 0 1 0 -11.6 0M358.0 868.1a5.8 5.8 0 1 0 11.6 0a5.8 5.8 0 1 0 -11.6 0M360.9 879.2a5.8 5.8 0 1 0 11.6 0a5.8 5.8 0 1 0 -11.6 0M363.8 888.8a5.8 5.8 0 1 0 11.6 0a5.8 5.8 0 1 0 -11.6 0M366.6 895.5a5.8 5.8 0 1 0 11.6 0a5.8 5.8 0 1 0 -11.6 0M369.5 900.5a5.8 5.8 0 1 0 11.6 0a5.8 5.8 0 1 0 -11.6 0M372.4 904.2a5.8 5.8 0 1 0 11.6 0a5.8 5.8 0 1 0 -11.6 0M375.2 906.5a5.8 5.8 0 1 0 11.6 0a5.8 5.8 0 1 0 -11.6 0M378.1 907.9a5.8 5.8 0 1 0 11.6 0a5.8 5.8 0 1 0 -11.6 0M381.0 907.6a5.8 5.8 0 1 0 11.6 0a5.8 5.8 0 1 0 -11.6 0M383.8 906.6a5.8 5.8 0 1 0 11.6 0a5.8 5.8 0 1 0 -11.6 0M386.7 904.3a5.8 5.8 0 1 0 11.6 0a5.8 5.8 0 1 0 -11.6 0M389.6 900.3a5.8 5.8 0 1 0 11.6 0a5.8 5.8 0 1 0 -11.6 0M392.4 896.0a5.8 5.8 0 1 0 11.6 0a5.8 5.8 0 1 0 -11.6 0M395.3 890.4a5.8 5.8 0 1 0 11.6 0a5.8 5.8 0 1 0 -11.6 0M398.2 882.8a5.8 5.8 0 1 0 11.6 0a5.8 5.8 0 1 0 -11.6 0M401.0 875.8a5.8 5.8 0 1 0 11.6 0a5.8 5.8 0 1 0 -11.6 0M403.9 868.6a5.8 5.8 0 1 0 11.6 0a5.8 5.8 0 1 0 -11.6 0M406.8 861.5a5.8 5.8 0 1 0 11.6 0a5.8 5.8 0 1 0 -11.6 0M409.6 855.0a5.8 5.8 0 1 0 11.6 0a5.8 5.8 0 1 0 -11.6 0M412.5 849.2a5.8 5.8 0 1 0 11.6 0a5.8 5.8 0 1 0 -11.6 0M415.3 843.8a5.8 5.8 0 1 0 11.6 0a5.8 5.8 0 1 0 -11.6 0M418.2 838.9a5.8 5.8 0 1 0 11.6 0a5.8 5.8 0 1 0 -11.6 0M421.1 835.2a5.8 5.8 0 1 0 11.6 0a5.8 5.8 0 1 0 -11.6 0M423.9 832.5a5.8 5.8 0 1 0 11.6 0a5.8 5.8 0 1 0 -11.6 0M426.8 830.1a5.8 5.8 0 1 0 11.6 0a5.8 5.8 0 1 0 -11.6 0M429.7 829.5a5.8 5.8 0 1 0 11.6 0a5.8 5.8 0 1 0 -11.6 0M432.5 829.5a5.8 5.8 0 1 0 11.6 0a5.8 5.8 0 1 0 -11.6 0M435.4 829.6a5.8 5.8 0 1 0 11.6 0a5.8 5.8 0 1 0 -11.6 0M438.3 831.4a5.8 5.8 0 1 0 11.6 0a5.8 5.8 0 1 0 -11.6 0M441.1 834.0a5.8 5.8 0 1 0 11.6 0a5.8 5.8 0 1 0 -11.6 0M444.0 837.4a5.8 5.8 0 1 0 11.6 0a5.8 5.8 0 1 0 -11.6 0M446.9 841.3a5.8 5.8 0 1 0 11.6 0a5.8 5.8 0 1 0 -11.6 0M449.7 846.0a5.8 5.8 0 1 0 11.6 0a5.8 5.8 0 1 0 -11.6 0M452.6 852.6a5.8 5.8 0 1 0 11.6 0a5.8 5.8 0 1 0 -11.6 0M455.5 860.1a5.8 5.8 0 1 0 11.6 0a5.8 5.8 0 1 0 -11.6 0M458.3 868.1a5.8 5.8 0 1 0 11.6 0a5.8 5.8 0 1 0 -11.6 0M461.2 879.8a5.8 5.8 0 1 0 11.6 0a5.8 5.8 0 1 0 -11.6 0M464.1 890.1a5.8 5.8 0 1 0 11.6 0a5.8 5.8 0 1 0 -11.6 0M466.9 901.3a5.8 5.8 0 1 0 11.6 0a5.8 5.8 0 1 0 -11.6 0M469.8 913.0a5.8 5.8 0 1 0 11.6 0a5.8 5.8 0 1 0 -11.6 0M472.7 924.4a5.8 5.8 0 1 0 11.6 0a5.8 5.8 0 1 0 -11.6 0M475.5 936.0a5.8 5.8 0 1 0 11.6 0a5.8 5.8 0 1 0 -11.6 0M478.4 947.3a5.8 5.8 0 1 0 11.6 0a5.8 5.8 0 1 0 -11.6 0M481.3 959.0a5.8 5.8 0 1 0 11.6 0a5.8 5.8 0 1 0 -11.6 0M484.1 969.7a5.8 5.8 0 1 0 11.6 0a5.8 5.8 0 1 0 -11.6 0M487.0 978.4a5.8 5.8 0 1 0 11.6 0a5.8 5.8 0 1 0 -11.6 0M489.9 985.9a5.8 5.8 0 1 0 11.6 0a5.8 5.8 0 1 0 -11.6 0M492.7 992.8a5.8 5.8 0 1 0 11.6 0a5.8 5.8 0 1 0 -11.6 0M495.6 998.8a5.8 5.8 0 1 0 11.6 0a5.8 5.8 0 1 0 -11.6 0M498.5 1004.4a5.8 5.8 0 1 0 11.6 0a5.8 5.8 0 1 0 -11.6 0M501.3 1009.7a5.8 5.8 0 1 0 11.6 0a5.8 5.8 0 1 0 -11.6 0M504.2 1013.9a5.8 5.8 0 1 0 11.6 0a5.8 5.8 0 1 0 -11.6 0M507.1 1017.2a5.8 5.8 0 1 0 11.6 0a5.8 5.8 0 1 0 -11.6 0M509.9 1019.6a5.8 5.8 0 1 0 11.6 0a5.8 5.8 0 1 0 -11.6 0M512.8 1021.3a5.8 5.8 0 1 0 11.6 0a5.8 5.8 0 1 0 -11.6 0M515.7 1022.4a5.8 5.8 0 1 0 11.6 0a5.8 5.8 0 1 0 -11.6 0M518.5 1023.3a5.8 5.8 0 1 0 11.6 0a5.8 5.8 0 1 0 -11.6 0M521.4 1023.6a5.8 5.8 0 1 0 11.6 0a5.8 5.8 0 1 0 -11.6 0M524.2 1023.0a5.8 5.8 0 1 0 11.6 0a5.8 5.8 0 1 0 -11.6 0M527.1 1021.6a5.8 5.8 0 1 0 11.6 0a5.8 5.8 0 1 0 -11.6 0M530.0 1020.2a5.8 5.8 0 1 0 11.6 0a5.8 5.8 0 1 0 -11.6 0M532.8 1018.4a5.8 5.8 0 1 0 11.6 0a5.8 5.8 0 1 0 -11.6 0M535.7 1016.4a5.8 5.8 0 1 0 11.6 0a5.8 5.8 0 1 0 -11.6 0M538.6 1015.0a5.8 5.8 0 1 0 11.6 0a5.8 5.8 0 1 0 -11.6 0M541.4 1013.8a5.8 5.8 0 1 0 11.6 0a5.8 5.8 0 1 0 -11.6 0M544.3 1012.8a5.8 5.8 0 1 0 11.6 0a5.8 5.8 0 1 0 -11.6 0M547.2 1012.3a5.8 5.8 0 1 0 11.6 0a5.8 5.8 0 1 0 -11.6 0M550.0 1011.9a5.8 5.8 0 1 0 11.6 0a5.8 5.8 0 1 0 -11.6 0M552.9 1011.7a5.8 5.8 0 1 0 11.6 0a5.8 5.8 0 1 0 -11.6 0M555.8 1012.0a5.8 5.8 0 1 0 11.6 0a5.8 5.8 0 1 0 -11.6 0M558.6 1012.5a5.8 5.8 0 1 0 11.6 0a5.8 5.8 0 1 0 -11.6 0M561.5 1012.9a5.8 5.8 0 1 0 11.6 0a5.8 5.8 0 1 0 -11.6 0M564.4 1013.2a5.8 5.8 0 1 0 11.6 0a5.8 5.8 0 1 0 -11.6 0M567.2 1013.6a5.8 5.8 0 1 0 11.6 0a5.8 5.8 0 1 0 -11.6 0M570.1 1014.1a5.8 5.8 0 1 0 11.6 0a5.8 5.8 0 1 0 -11.6 0M573.0 1014.9a5.8 5.8 0 1 0 11.6 0a5.8 5.8 0 1 0 -11.6 0M575.8 1016.1a5.8 5.8 0 1 0 11.6 0a5.8 5.8 0 1 0 -11.6 0M578.7 1017.4a5.8 5.8 0 1 0 11.6 0a5.8 5.8 0 1 0 -11.6 0M581.6 1018.9a5.8 5.8 0 1 0 11.6 0a5.8 5.8 0 1 0 -11.6 0M584.4 1021.2a5.8 5.8 0 1 0 11.6 0a5.8 5.8 0 1 0 -11.6 0M587.3 1023.2a5.8 5.8 0 1 0 11.6 0a5.8 5.8 0 1 0 -11.6 0M590.2 1023.7a5.8 5.8 0 1 0 11.6 0a5.8 5.8 0 1 0 -11.6 0M593.0 1023.8a5.8 5.8 0 1 0 11.6 0a5.8 5.8 0 1 0 -11.6 0M595.9 1023.8a5.8 5.8 0 1 0 11.6 0a5.8 5.8 0 1 0 -11.6 0M598.8 1023.9a5.8 5.8 0 1 0 11.6 0a5.8 5.8 0 1 0 -11.6 0M601.6 1024.0a5.8 5.8 0 1 0 11.6 0a5.8 5.8 0 1 0 -11.6 0M604.5 1024.0a5.8 5.8 0 1 0 11.6 0a5.8 5.8 0 1 0 -11.6 0M607.4 1024.1a5.8 5.8 0 1 0 11.6 0a5.8 5.8 0 1 0 -11.6 0M610.2 1024.1a5.8 5.8 0 1 0 11.6 0a5.8 5.8 0 1 0 -11.6 0M613.1 1024.1a5.8 5.8 0 1 0 11.6 0a5.8 5.8 0 1 0 -11.6 0M616.0 1024.1a5.8 5.8 0 1 0 11.6 0a5.8 5.8 0 1 0 -11.6 0M618.8 1024.1a5.8 5.8 0 1 0 11.6 0a5.8 5.8 0 1 0 -11.6 0M621.7 1024.1a5.8 5.8 0 1 0 11.6 0a5.8 5.8 0 1 0 -11.6 0M624.6 1024.1a5.8 5.8 0 1 0 11.6 0a5.8 5.8 0 1 0 -11.6 0M627.4 1024.1a5.8 5.8 0 1 0 11.6 0a5.8 5.8 0 1 0 -11.6 0M630.3 1024.1a5.8 5.8 0 1 0 11.6 0a5.8 5.8 0 1 0 -11.6 0M633.2 1024.1a5.8 5.8 0 1 0 11.6 0a5.8 5.8 0 1 0 -11.6 0M636.0 1024.1a5.8 5.8 0 1 0 11.6 0a5.8 5.8 0 1 0 -11.6 0M638.9 1024.1a5.8 5.8 0 1 0 11.6 0a5.8 5.8 0 1 0 -11.6 0M641.7 1024.1a5.8 5.8 0 1 0 11.6 0a5.8 5.8 0 1 0 -11.6 0M644.6 1024.0a5.8 5.8 0 1 0 11.6 0a5.8 5.8 0 1 0 -11.6 0M647.5 1022.7a5.8 5.8 0 1 0 11.6 0a5.8 5.8 0 1 0 -11.6 0M650.3 1020.9a5.8 5.8 0 1 0 11.6 0a5.8 5.8 0 1 0 -11.6 0M653.2 1019.6a5.8 5.8 0 1 0 11.6 0a5.8 5.8 0 1 0 -11.6 0M656.1 1019.1a5.8 5.8 0 1 0 11.6 0a5.8 5.8 0 1 0 -11.6 0M658.9 1018.8a5.8 5.8 0 1 0 11.6 0a5.8 5.8 0 1 0 -11.6 0M661.8 1018.5a5.8 5.8 0 1 0 11.6 0a5.8 5.8 0 1 0 -11.6 0M664.7 1018.4a5.8 5.8 0 1 0 11.6 0a5.8 5.8 0 1 0 -11.6 0M667.5 1018.3a5.8 5.8 0 1 0 11.6 0a5.8 5.8 0 1 0 -11.6 0M670.4 1018.4a5.8 5.8 0 1 0 11.6 0a5.8 5.8 0 1 0 -11.6 0M673.3 1018.8a5.8 5.8 0 1 0 11.6 0a5.8 5.8 0 1 0 -11.6 0M676.1 1019.4a5.8 5.8 0 1 0 11.6 0a5.8 5.8 0 1 0 -11.6 0M679.0 1020.1a5.8 5.8 0 1 0 11.6 0a5.8 5.8 0 1 0 -11.6 0M681.9 1020.9a5.8 5.8 0 1 0 11.6 0a5.8 5.8 0 1 0 -11.6 0M684.7 1022.3a5.8 5.8 0 1 0 11.6 0a5.8 5.8 0 1 0 -11.6 0M687.6 1024.1a5.8 5.8 0 1 0 11.6 0a5.8 5.8 0 1 0 -11.6 0" fill="none" stroke="#ff0000" stroke-width="0.9"/>
<polyline points="149.0,1024.6 150.5,1024.6 152.0,1024.6 153.5,1024.6 155.0,1024.6 156.5,1024.6 158.0,1024.6 159.5,1024.6 161.0,1024.6 162.5,1024.6 164.0,1024.6 165.5,1024.6 167.0,1024.6 168.5,1024.6 170.0,1024.6 171.5,1024.6 173.0,1024.5 174.5,1024.5 176.0,1024.5 177.6,1024.5 179.1,1024.5 180.6,1024.5 182.1,1024.4 183.6,1024.4 185.1,1024.4 186.6,1024.3 188.1,1024.3 189.6,1024.2 191.1,1024.1 192.6,1024.0 194.1,1023.9 195.6,1023.8 197.1,1023.6 198.6,1023.5 200.1,1023.3 201.6,1023.0 203.1,1022.8 204.6,1022.5 206.1,1022.1 207.6,1021.7 209.1,1021.3 210.6,1020.8 212.1,1020.2 213.6,1019.5 215.1,1018.8 216.6,1018.0 218.1,1017.0 219.6,1015.9 221.1,1014.8 222.6,1013.4 224.1,1012.0 225.6,1010.3 227.1,1008.5 228.6,1006.5 230.1,1004.3 231.7,1001.8 233.2,999.2 234.7,996.2 236.2,993.1 237.7,989.6 239.2,985.8 240.7,981.7 242.2,977.3 243.7,972.6 245.2,967.5 246.7,962.1 248.2,956.3 249.7,950.1 251.2,943.5 252.7,936.5 254.2,929.2 255.7,921.5 257.2,913.3 258.7,904.9 260.2,896.0 261.7,886.8 263.2,877.3 264.7,867.4 266.2,857.3 267.7,846.9 269.2,836.2 270.7,825.4 272.2,814.4 273.7,803.3 275.2,792.1 276.7,780.8 278.2,769.6 279.7,758.4 281.2,747.4 282.7,736.5 284.2,725.9 285.8,715.5 287.3,705.4 288.8,695.8 290.3,686.6 291.8,677.8 293.3,669.7 294.8,662.1 296.3,655.1 297.8,648.8 299.3,643.2 300.8,638.3 302.3,634.2 303.8,630.8 305.3,628.3 306.8,626.6 308.3,625.7 309.8,625.6 311.3,626.3 312.8,627.8 314.3,630.0 315.8,633.1 317.3,636.8 318.8,641.3 320.3,646.4 321.8,652.1 323.3,658.4 324.8,665.3 326.3,672.6 327.8,680.3 329.3,688.4 330.8,696.8 332.3,705.5 333.8,714.4 335.3,723.5 336.8,732.7 338.3,741.9 339.8,751.1 341.4,760.3 342.9,769.4 344.4,778.4 345.9,787.2 347.4,795.8 348.9,804.1 350.4,812.2 351.9,820.0 353.4,827.5 354.9,834.6 356.4,841.5 357.9,847.9 359.4,854.0 360.9,859.7 362.4,865.0 363.9,869.9 365.4,874.5 366.9,878.7 368.4,882.5 369.9,885.9 371.4,889.0 372.9,891.7 374.4,894.1 375.9,896.1 377.4,897.8 378.9,899.2 380.4,900.3 381.9,901.1 383.4,901.6 384.9,901.8 386.4,901.8 387.9,901.5 389.4,901.0 390.9,900.2 392.4,899.2 393.9,898.0 395.5,896.6 397.0,895.0 398.5,893.2 400.0,891.2 401.5,889.1 403.0,886.9 404.5,884.5 406.0,882.0 407.5,879.4 409.0,876.7 410.5,874.0 412.0,871.2 413.5,868.4 415.0,865.6 416.5,862.7 418.0,859.9 419.5,857.2 421.0,854.5 422.5,851.9 424.0,849.5 425.5,847.1 427.0,845.0 428.5,843.0 430.0,841.2 431.5,839.6 433.0,838.2 434.5,837.1 436.0,836.2 437.5,835.6 439.0,835.3 440.5,835.3 442.0,835.6 443.5,836.3 445.0,837.2 446.5,838.4 448.0,840.0 449.6,841.8 451.1,844.0 452.6,846.5 454.1,849.2 455.6,852.2 457.1,855.5 458.6,859.1 460.1,862.8 461.6,866.8 463.1,871.0 464.6,875.4 466.1,879.9 467.6,884.6 469.1,889.4 470.6,894.3 472.1,899.2 473.6,904.2 475.1,909.3 476.6,914.3 478.1,919.4 479.6,924.4 481.1,929.3 482.6,934.2 484.1,939.1 485.6,943.8 487.1,948.4 488.6,952.9 490.1,957.3 491.6,961.6 493.1,965.7 494.6,969.6 496.1,973.4 497.6,977.0 499.1,980.5 500.6,983.7 502.1,986.9 503.7,989.8 505.2,992.6 506.7,995.2 508.2,997.7 509.7,1000.0 511.2,1002.2 512.7,1004.2 514.2,1006.1 515.7,1007.8 517.2,1009.4 518.7,1010.9 520.2,1012.2 521.7,1013.5 523.2,1014.6 524.7,1015.7 526.2,1016.6 527.7,1017.5 529.2,1018.3 530.7,1019.0 532.2,1019.6 533.7,1020.2 535.2,1020.7 536.7,1021.2 538.2,1021.6 539.7,1022.0 541.2,1022.3 542.7,1022.6 544.2,1022.8 545.7,1023.1 547.2,1023.3 548.7,1023.4 550.2,1023.6 551.7,1023.7 553.2,1023.9 554.7,1024.0 556.2,1024.1 557.7,1024.1 559.3,1024.2 560.8,1024.3 562.3,1024.3 563.8,1024.4 565.3,1024.4 566.8,1024.4 568.3,1024.5 569.8,1024.5 571.3,1024.5 572.8,1024.5 574.3,1024.5 575.8,1024.5 577.3,1024.5 578.8,1024.6 580.3,1024.6 581.8,1024.6 583.3,1024.6 584.8,1024.6 586.3,1024.6 587.8,1024.6 589.3,1024.6 590.8,1024.6 592.3,1024.6 593.8,1024.6 595.3,1024.6 596.8,1024.6 598.3,1024.6 599.8,1024.6 601.3,1024.6 602.8,1024.6 604.3,1024.6 605.8,1024.6 607.3,1024.6 608.8,1024.6 610.3,1024.6 611.8,1024.6 613.4,1024.6 614.9,1024.6 616.4,1024.6 617.9,1024.6 619.4,1024.6 620.9,1024.6 622.4,1024.6 623.9,1024.6 625.4,1024.6 626.9,1024.6 628.4,1024.6 629.9,1024.6 631.4,1024.6 632.9,1024.6 634.4,1024.6 635.9,1024.6 637.4,1024.6 638.9,1024.6 640.4,1024.6 641.9,1024.6 643.4,1024.6 644.9,1024.6 646.4,1024.6 647.9,1024.6 649.4,1024.6 650.9,1024.6 652.4,1024.6 653.9,1024.6 655.4,1024.6 656.9,1024.6 658.4,1024.6 659.9,1024.6 661.4,1024.6 662.9,1024.6 664.4,1024.6 665.9,1024.6 667.5,1024.6 669.0,1024.6 670.5,1024.6 672.0,1024.6 673.5,1024.6 675.0,1024.6 676.5,1024.6 678.0,1024.6 679.5,1024.6 681.0,1024.6 682.5,1024.6 684.0,1024.6 685.5,1024.6 687.0,1024.6 688.5,1024.6 690.0,1024.6 691.5,1024.6 693.0,1024.6 694.5,1024.6" fill="none" stroke="#00ff00" stroke-width="4.2" stroke-linejoin="round" stroke-linecap="round"/>
<polyline points="149.0,1024.6 150.5,1024.6 152.0,1024.6 153.5,1024.6 155.0,1024.6 156.5,1024.6 158.0,1024.6 159.5,1024.6 161.0,1024.6 162.5,1024.6 164.0,1024.6 165.5,1024.6 167.0,1024.6 168.5,1024.6 170.0,1024.6 171.5,1024.6 173.0,1024.5 174.5,1024.5 176.0,1024.5 177.6,1024.5 179.1,1024.5 180.6,1024.5 182.1,1024.4 183.6,1024.4 185.1,1024.4 186.6,1024.3 188.1,1024.3 189.6,1024.2 191.1,1024.1 192.6,1024.0 194.1,1023.9 195.6,1023.8 197.1,1023.6 198.6,1023.5 200.1,1023.3 201.6,1023.0 203.1,1022.8 204.6,1022.5 206.1,1022.1 207.6,1021.7 209.1,1021.3 210.6,1020.8 212.1,1020.2 213.6,1019.5 215.1,1018.8 216.6,1018.0 218.1,1017.0 219.6,1015.9 221.1,1014.8 222.6,1013.4 224.1,1012.0 225.6,1010.3 227.1,1008.5 228.6,1006.5 230.1,1004.3 231.7,1001.8 233.2,999.2 234.7,996.2 236.2,993.1 237.7,989.6 239.2,985.8 240.7,981.8 242.2,977.4 243.7,972.6 245.2,967.5 246.7,962.1 248.2,956.3 249.7,950.1 251.2,943.5 252.7,936.6 254.2,929.2 255.7,921.5 257.2,913.4 258.7,905.0 260.2,896.1 261.7,886.9 263.2,877.4 264.7,867.6 266.2,857.5 267.7,847.1 269.2,836.5 270.7,825.7 272.2,814.8 273.7,803.7 275.2,792.5 276.7,781.4 278.2,770.2 279.7,759.2 281.2,748.3 282.7,737.5 284.2,727.0 285.8,716.8 287.3,706.9 288.8,697.4 290.3,688.4 291.8,680.0 293.3,672.0 294.8,664.7 296.3,658.1 297.8,652.1 299.3,646.9 300.8,642.5 302.3,638.8 303.8,636.0 305.3,634.0 306.8,632.9 308.3,632.6 309.8,633.2 311.3,634.7 312.8,637.0 314.3,640.1 315.8,644.1 317.3,648.8 318.8,654.3 320.3,660.6 321.8,667.5 323.3,675.0 324.8,683.2 326.3,691.9 327.8,701.1 329.3,710.7 330.8,720.7 332.3,731.0 333.8,741.7 335.3,752.5 336.8,763.5 338.3,774.6 339.8,785.7 341.4,796.9 342.9,808.0 344.4,819.0 345.9,829.9 347.4,840.6 348.9,851.2 350.4,861.4 351.9,871.4 353.4,881.2 354.9,890.5 356.4,899.6 357.9,908.3 359.4,916.6 360.9,924.6 362.4,932.1 363.9,939.3 365.4,946.1 366.9,952.6 368.4,958.6 369.9,964.3 371.4,969.6 372.9,974.5 374.4,979.1 375.9,983.4 377.4,987.3 378.9,991.0 380.4,994.3 381.9,997.4 383.4,1000.2 384.9,1002.8 386.4,1005.2 387.9,1007.3 389.4,1009.2 390.9,1011.0 392.4,1012.5 393.9,1014.0 395.5,1015.2 397.0,1016.4 398.5,1017.4 400.0,1018.3 401.5,1019.1 403.0,1019.8 404.5,1020.4 406.0,1021.0 407.5,1021.5 409.0,1021.9 410.5,1022.3 412.0,1022.6 413.5,1022.9 415.0,1023.1 416.5,1023.3 418.0,1023.5 419.5,1023.7 421.0,1023.8 422.5,1023.9 424.0,1024.1 425.5,1024.1 427.0,1024.2 428.5,1024.3 430.0,1024.3 431.5,1024.4 433.0,1024.4 434.5,1024.4 436.0,1024.5 437.5,1024.5 439.0,1024.5 440.5,1024.5 442.0,1024.5 443.5,1024.6 445.0,1024.6 446.5,1024.6 448.0,1024.6 449.6,1024.6 451.1,1024.6 452.6,1024.6 454.1,1024.6 455.6,1024.6 457.1,1024.6 458.6,1024.6 460.1,1024.6 461.6,1024.6 463.1,1024.6 464.6,1024.6 466.1,1024.6 467.6,1024.6 469.1,1024.6 470.6,1024.6 472.1,1024.6 473.6,1024.6 475.1,1024.6 476.6,1024.6 478.1,1024.6 479.6,1024.6 481.1,1024.6 482.6,1024.6 484.1,1024.6 485.6,1024.6 487.1,1024.6 488.6,1024.6 490.1,1024.6 491.6,1024.6 493.1,1024.6 494.6,1024.6 496.1,1024.6 497.6,1024.6 499.1,1024.6 500.6,1024.6 502.1,1024.6 503.7,1024.6 505.2,1024.6 506.7,1024.6 508.2,1024.6 509.7,1024.6 511.2,1024.6 512.7,1024.6 514.2,1024.6 515.7,1024.6 517.2,1024.6 518.7,1024.6 520.2,1024.6 521.7,1024.6 523.2,1024.6 524.7,1024.6 526.2,1024.6 527.7,1024.6 529.2,1024.6 530.7,1024.6 532.2,1024.6 533.7,1024.6 535.2,1024.6 536.7,1024.6 538.2,1024.6 539.7,1024.6 541.2,1024.6 542.7,1024.6 544.2,1024.6 545.7,1024.6 547.2,1024.6 548.7,1024.6 550.2,1024.6 551.7,1024.6 553.2,1024.6 554.7,1024.6 556.2,1024.6 557.7,1024.6 559.3,1024.6 560.8,1024.6 562.3,1024.6 563.8,1024.6 565.3,1024.6 566.8,1024.6 568.3,1024.6 569.8,1024.6 571.3,1024.6 572.8,1024.6 574.3,1024.6 575.8,1024.6 577.3,1024.6 578.8,1024.6 580.3,1024.6 581.8,1024.6 583.3,1024.6 584.8,1024.6 586.3,1024.6 587.8,1024.6 589.3,1024.6 590.8,1024.6 592.3,1024.6 593.8,1024.6 595.3,1024.6 596.8,1024.6 598.3,1024.6 599.8,1024.6 601.3,1024.6 602.8,1024.6 604.3,1024.6 605.8,1024.6 607.3,1024.6 608.8,1024.6 610.3,1024.6 611.8,1024.6 613.4,1024.6 614.9,1024.6 616.4,1024.6 617.9,1024.6 619.4,1024.6 620.9,1024.6 622.4,1024.6 623.9,1024.6 625.4,1024.6 626.9,1024.6 628.4,1024.6 629.9,1024.6 631.4,1024.6 632.9,1024.6 634.4,1024.6 635.9,1024.6 637.4,1024.6 638.9,1024.6 640.4,1024.6 641.9,1024.6 643.4,1024.6 644.9,1024.6 646.4,1024.6 647.9,1024.6 649.4,1024.6 650.9,1024.6 652.4,1024.6 653.9,1024.6 655.4,1024.6 656.9,1024.6 658.4,1024.6 659.9,1024.6 661.4,1024.6 662.9,1024.6 664.4,1024.6 665.9,1024.6 667.5,1024.6 669.0,1024.6 670.5,1024.6 672.0,1024.6 673.5,1024.6 675.0,1024.6 676.5,1024.6 678.0,1024.6 679.5,1024.6 681.0,1024.6 682.5,1024.6 684.0,1024.6 685.5,1024.6 687.0,1024.6 688.5,1024.6 690.0,1024.6 691.5,1024.6 693.0,1024.6 694.5,1024.6" fill="none" stroke="#0000ff" stroke-width="3.8" stroke-linejoin="round" stroke-linecap="round"/>
<polyline points="149.0,1024.6 150.5,1024.6 152.0,1024.6 153.5,1024.6 155.0,1024.6 156.5,1024.6 158.0,1024.6 159.5,1024.6 161.0,1024.6 162.5,1024.6 164.0,1024.6 165.5,1024.6 167.0,1024.6 168.5,1024.6 170.0,1024.6 171.5,1024.6 173.0,1024.6 174.5,1024.6 176.0,1024.6 177.6,1024.6 179.1,1024.6 180.6,1024.6 182.1,1024.6 183.6,1024.6 185.1,1024.6 186.6,1024.6 188.1,1024.6 189.6,1024.6 191.1,1024.6 192.6,1024.6 194.1,1024.6 195.6,1024.6 197.1,1024.6 198.6,1024.6 200.1,1024.6 201.6,1024.6 203.1,1024.6 204.6,1024.6 206.1,1024.6 207.6,1024.6 209.1,1024.6 210.6,1024.6 212.1,1024.6 213.6,1024.6 215.1,1024.6 216.6,1024.6 218.1,1024.6 219.6,1024.6 221.1,1024.6 222.6,1024.6 224.1,1024.6 225.6,1024.6 227.1,1024.6 228.6,1024.6 230.1,1024.6 231.7,1024.6 233.2,1024.6 234.7,1024.6 236.2,1024.6 237.7,1024.6 239.2,1024.6 240.7,1024.6 242.2,1024.6 243.7,1024.6 245.2,1024.6 246.7,1024.6 248.2,1024.6 249.7,1024.6 251.2,1024.6 252.7,1024.6 254.2,1024.5 255.7,1024.5 257.2,1024.5 258.7,1024.5 260.2,1024.5 261.7,1024.5 263.2,1024.5 264.7,1024.4 266.2,1024.4 267.7,1024.4 269.2,1024.3 270.7,1024.3 272.2,1024.2 273.7,1024.2 275.2,1024.1 276.7,1024.0 278.2,1023.9 279.7,1023.8 281.2,1023.7 282.7,1023.6 284.2,1023.5 285.8,1023.3 287.3,1023.1 288.8,1023.0 290.3,1022.7 291.8,1022.5 293.3,1022.2 294.8,1021.9 296.3,1021.6 297.8,1021.3 299.3,1020.9 300.8,1020.4 302.3,1020.0 303.8,1019.5 305.3,1018.9 306.8,1018.3 308.3,1017.7 309.8,1017.0 311.3,1016.2 312.8,1015.4 314.3,1014.6 315.8,1013.7 317.3,1012.7 318.8,1011.7 320.3,1010.6 321.8,1009.4 323.3,1008.2 324.8,1006.9 326.3,1005.6 327.8,1004.2 329.3,1002.8 330.8,1001.2 332.3,999.7 333.8,998.1 335.3,996.4 336.8,994.7 338.3,993.0 339.8,991.2 341.4,989.5 342.9,987.6 344.4,985.8 345.9,984.0 347.4,982.2 348.9,980.4 350.4,978.6 351.9,976.8 353.4,975.1 354.9,973.4 356.4,971.8 357.9,970.2 359.4,968.7 360.9,967.3 362.4,965.9 363.9,964.7 365.4,963.5 366.9,962.5 368.4,961.6 369.9,960.8 371.4,960.1 372.9,959.5 374.4,959.1 375.9,958.8 377.4,958.6 378.9,958.6 380.4,958.7 381.9,959.0 383.4,959.4 384.9,959.9 386.4,960.5 387.9,961.3 389.4,962.2 390.9,963.2 392.4,964.3 393.9,965.5 395.5,966.8 397.0,968.2 398.5,969.7 400.0,971.3 401.5,972.9 403.0,974.6 404.5,976.3 406.0,978.0 407.5,979.8 409.0,981.6 410.5,983.5 412.0,985.3 413.5,987.1 415.0,988.9 416.5,990.7 418.0,992.5 419.5,994.2 421.0,995.9 422.5,997.6 424.0,999.2 425.5,1000.8 427.0,1002.3 428.5,1003.8 430.0,1005.2 431.5,1006.5 433.0,1007.8 434.5,1009.1 436.0,1010.2 437.5,1011.3 439.0,1012.4 440.5,1013.4 442.0,1014.3 443.5,1015.2 445.0,1016.0 446.5,1016.8 448.0,1017.5 449.6,1018.1 451.1,1018.8 452.6,1019.3 454.1,1019.8 455.6,1020.3 457.1,1020.7 458.6,1021.1 460.1,1021.5 461.6,1021.8 463.1,1022.1 464.6,1022.4 466.1,1022.7 467.6,1022.9 469.1,1023.1 470.6,1023.3 472.1,1023.4 473.6,1023.6 475.1,1023.7 476.6,1023.8 478.1,1023.9 479.6,1024.0 481.1,1024.1 482.6,1024.1 484.1,1024.2 485.6,1024.3 487.1,1024.3 488.6,1024.4 490.1,1024.4 491.6,1024.4 493.1,1024.4 494.6,1024.5 496.1,1024.5 497.6,1024.5 499.1,1024.5 500.6,1024.5 502.1,1024.5 503.7,1024.6 505.2,1024.6 506.7,1024.6 508.2,1024.6 509.7,1024.6 511.2,1024.6 512.7,1024.6 514.2,1024.6 515.7,1024.6 517.2,1024.6 518.7,1024.6 520.2,1024.6 521.7,1024.6 523.2,1024.6 524.7,1024.6 526.2,1024.6 527.7,1024.6 529.2,1024.6 530.7,1024.6 532.2,1024.6 533.7,1024.6 535.2,1024.6 536.7,1024.6 538.2,1024.6 539.7,1024.6 541.2,1024.6 542.7,1024.6 544.2,1024.6 545.7,1024.6 547.2,1024.6 548.7,1024.6 550.2,1024.6 551.7,1024.6 553.2,1024.6 554.7,1024.6 556.2,1024.6 557.7,1024.6 559.3,1024.6 560.8,1024.6 562.3,1024.6 563.8,1024.6 565.3,1024.6 566.8,1024.6 568.3,1024.6 569.8,1024.6 571.3,1024.6 572.8,1024.6 574.3,1024.6 575.8,1024.6 577.3,1024.6 578.8,1024.6 580.3,1024.6 581.8,1024.6 583.3,1024.6 584.8,1024.6 586.3,1024.6 587.8,1024.6 589.3,1024.6 590.8,1024.6 592.3,1024.6 593.8,1024.6 595.3,1024.6 596.8,1024.6 598.3,1024.6 599.8,1024.6 601.3,1024.6 602.8,1024.6 604.3,1024.6 605.8,1024.6 607.3,1024.6 608.8,1024.6 610.3,1024.6 611.8,1024.6 613.4,1024.6 614.9,1024.6 616.4,1024.6 617.9,1024.6 619.4,1024.6 620.9,1024.6 622.4,1024.6 623.9,1024.6 625.4,1024.6 626.9,1024.6 628.4,1024.6 629.9,1024.6 631.4,1024.6 632.9,1024.6 634.4,1024.6 635.9,1024.6 637.4,1024.6 638.9,1024.6 640.4,1024.6 641.9,1024.6 643.4,1024.6 644.9,1024.6 646.4,1024.6 647.9,1024.6 649.4,1024.6 650.9,1024.6 652.4,1024.6 653.9,1024.6 655.4,1024.6 656.9,1024.6 658.4,1024.6 659.9,1024.6 661.4,1024.6 662.9,1024.6 664.4,1024.6 665.9,1024.6 667.5,1024.6 669.0,1024.6 670.5,1024.6 672.0,1024.6 673.5,1024.6 675.0,1024.6 676.5,1024.6 678.0,1024.6 679.5,1024.6 681.0,1024.6 682.5,1024.6 684.0,1024.6 685.5,1024.6 687.0,1024.6 688.5,1024.6 690.0,1024.6 691.5,1024.6 693.0,1024.6 694.5,1024.6" fill="none" stroke="#ff00ff" stroke-width="3.8" stroke-linejoin="round" stroke-linecap="round"/>
<polyline points="149.0,1024.6 150.5,1024.6 152.0,1024.6 153.5,1024.6 155.0,1024.6 156.5,1024.6 158.0,1024.6 159.5,1024.6 161.0,1024.6 162.5,1024.6 164.0,1024.6 165.5,1024.6 167.0,1024.6 168.5,1024.6 170.0,1024.6 171.5,1024.6 173.0,1024.6 174.5,1024.6 176.0,1024.6 177.6,1024.6 179.1,1024.6 180.6,1024.6 182.1,1024.6 183.6,1024.6 185.1,1024.6 186.6,1024.6 188.1,1024.6 189.6,1024.6 191.1,1024.6 192.6,1024.6 194.1,1024.6 195.6,1024.6 197.1,1024.6 198.6,1024.6 200.1,1024.6 201.6,1024.6 203.1,1024.6 204.6,1024.6 206.1,1024.6 207.6,1024.6 209.1,1024.6 210.6,1024.6 212.1,1024.6 213.6,1024.6 215.1,1024.6 216.6,1024.6 218.1,1024.6 219.6,1024.6 221.1,1024.6 222.6,1024.6 224.1,1024.6 225.6,1024.6 227.1,1024.6 228.6,1024.6 230.1,1024.6 231.7,1024.6 233.2,1024.6 234.7,1024.6 236.2,1024.6 237.7,1024.6 239.2,1024.6 240.7,1024.6 242.2,1024.6 243.7,1024.6 245.2,1024.6 246.7,1024.6 248.2,1024.6 249.7,1024.6 251.2,1024.6 252.7,1024.6 254.2,1024.6 255.7,1024.6 257.2,1024.6 258.7,1024.6 260.2,1024.6 261.7,1024.6 263.2,1024.6 264.7,1024.6 266.2,1024.6 267.7,1024.6 269.2,1024.6 270.7,1024.6 272.2,1024.6 273.7,1024.6 275.2,1024.6 276.7,1024.6 278.2,1024.6 279.7,1024.6 281.2,1024.6 282.7,1024.6 284.2,1024.6 285.8,1024.6 287.3,1024.6 288.8,1024.6 290.3,1024.6 291.8,1024.6 293.3,1024.6 294.8,1024.6 296.3,1024.6 297.8,1024.6 299.3,1024.6 300.8,1024.6 302.3,1024.6 303.8,1024.6 305.3,1024.6 306.8,1024.6 308.3,1024.6 309.8,1024.6 311.3,1024.5 312.8,1024.5 314.3,1024.5 315.8,1024.5 317.3,1024.5 318.8,1024.5 320.3,1024.4 321.8,1024.4 323.3,1024.4 324.8,1024.3 326.3,1024.3 327.8,1024.2 329.3,1024.2 330.8,1024.1 332.3,1024.0 333.8,1023.9 335.3,1023.8 336.8,1023.7 338.3,1023.5 339.8,1023.4 341.4,1023.2 342.9,1023.0 344.4,1022.7 345.9,1022.4 347.4,1022.1 348.9,1021.8 350.4,1021.4 351.9,1020.9 353.4,1020.4 354.9,1019.9 356.4,1019.3 357.9,1018.6 359.4,1017.9 360.9,1017.0 362.4,1016.1 363.9,1015.1 365.4,1014.0 366.9,1012.8 368.4,1011.5 369.9,1010.1 371.4,1008.6 372.9,1006.9 374.4,1005.1 375.9,1003.2 377.4,1001.1 378.9,998.9 380.4,996.5 381.9,993.9 383.4,991.2 384.9,988.4 386.4,985.3 387.9,982.1 389.4,978.8 390.9,975.2 392.4,971.5 393.9,967.7 395.5,963.7 397.0,959.6 398.5,955.3 400.0,950.9 401.5,946.3 403.0,941.7 404.5,937.0 406.0,932.2 407.5,927.3 409.0,922.4 410.5,917.5 412.0,912.5 413.5,907.6 415.0,902.7 416.5,897.9 418.0,893.1 419.5,888.5 421.0,884.0 422.5,879.6 424.0,875.4 425.5,871.4 427.0,867.7 428.5,864.1 430.0,860.9 431.5,857.9 433.0,855.2 434.5,852.8 436.0,850.7 437.5,849.0 439.0,847.6 440.5,846.6 442.0,846.0 443.5,845.7 445.0,845.8 446.5,846.3 448.0,847.1 449.6,848.3 451.1,849.9 452.6,851.8 454.1,854.0 455.6,856.5 457.1,859.4 458.6,862.5 460.1,865.9 461.6,869.6 463.1,873.5 464.6,877.6 466.1,881.9 467.6,886.3 469.1,890.9 470.6,895.6 472.1,900.4 473.6,905.3 475.1,910.2 476.6,915.1 478.1,920.0 479.6,925.0 481.1,929.9 482.6,934.7 484.1,939.5 485.6,944.1 487.1,948.7 488.6,953.2 490.1,957.5 491.6,961.7 493.1,965.8 494.6,969.7 496.1,973.5 497.6,977.1 499.1,980.5 500.6,983.8 502.1,986.9 503.7,989.9 505.2,992.6 506.7,995.3 508.2,997.7 509.7,1000.0 511.2,1002.2 512.7,1004.2 514.2,1006.1 515.7,1007.8 517.2,1009.4 518.7,1010.9 520.2,1012.2 521.7,1013.5 523.2,1014.6 524.7,1015.7 526.2,1016.6 527.7,1017.5 529.2,1018.3 530.7,1019.0 532.2,1019.6 533.7,1020.2 535.2,1020.7 536.7,1021.2 538.2,1021.6 539.7,1022.0 541.2,1022.3 542.7,1022.6 544.2,1022.8 545.7,1023.1 547.2,1023.3 548.7,1023.4 550.2,1023.6 551.7,1023.7 553.2,1023.9 554.7,1024.0 556.2,1024.1 557.7,1024.1 559.3,1024.2 560.8,1024.3 562.3,1024.3 563.8,1024.4 565.3,1024.4 566.8,1024.4 568.3,1024.5 569.8,1024.5 571.3,1024.5 572.8,1024.5 574.3,1024.5 575.8,1024.5 577.3,1024.5 578.8,1024.6 580.3,1024.6 581.8,1024.6 583.3,1024.6 584.8,1024.6 586.3,1024.6 587.8,1024.6 589.3,1024.6 590.8,1024.6 592.3,1024.6 593.8,1024.6 595.3,1024.6 596.8,1024.6 598.3,1024.6 599.8,1024.6 601.3,1024.6 602.8,1024.6 604.3,1024.6 605.8,1024.6 607.3,1024.6 608.8,1024.6 610.3,1024.6 611.8,1024.6 613.4,1024.6 614.9,1024.6 616.4,1024.6 617.9,1024.6 619.4,1024.6 620.9,1024.6 622.4,1024.6 623.9,1024.6 625.4,1024.6 626.9,1024.6 628.4,1024.6 629.9,1024.6 631.4,1024.6 632.9,1024.6 634.4,1024.6 635.9,1024.6 637.4,1024.6 638.9,1024.6 640.4,1024.6 641.9,1024.6 643.4,1024.6 644.9,1024.6 646.4,1024.6 647.9,1024.6 649.4,1024.6 650.9,1024.6 652.4,1024.6 653.9,1024.6 655.4,1024.6 656.9,1024.6 658.4,1024.6 659.9,1024.6 661.4,1024.6 662.9,1024.6 664.4,1024.6 665.9,1024.6 667.5,1024.6 669.0,1024.6 670.5,1024.6 672.0,1024.6 673.5,1024.6 675.0,1024.6 676.5,1024.6 678.0,1024.6 679.5,1024.6 681.0,1024.6 682.5,1024.6 684.0,1024.6 685.5,1024.6 687.0,1024.6 688.5,1024.6 690.0,1024.6 691.5,1024.6 693.0,1024.6 694.5,1024.6" fill="none" stroke="#8000ff" stroke-width="3.8" stroke-linejoin="round" stroke-linecap="round"/>
<path d="M127.58 1068.2V1063.6M151.46 1068.2V1063.6M175.34 1068.2V1058.9M199.23 1068.2V1063.6M223.11 1068.2V1063.6M246.99 1068.2V1063.6M270.87 1068.2V1063.6M294.75 1068.2V1063.6M318.63 1068.2V1058.9M342.51 1068.2V1063.6M366.4 1068.2V1063.6M390.28 1068.2V1063.6M414.16 1068.2V1063.6M438.04 1068.2V1063.6M461.92 1068.2V1058.9M485.8 1068.2V1063.6M509.69 1068.2V1063.6M533.57 1068.2V1063.6M557.45 1068.2V1063.6M581.33 1068.2V1063.6M605.21 1068.2V1058.9M629.09 1068.2V1063.6M652.97 1068.2V1063.6M676.86 1068.2V1063.6M700.74 1068.2V1063.6M724.62 1068.2V1063.6M103.7 1053.59H108.3M103.7 1038.99H108.3M103.7 1024.38H113M103.7 1009.78H108.3M103.7 995.17H108.3M103.7 980.56H108.3M103.7 965.96H108.3M103.7 951.35H108.3M103.7 936.75H113M103.7 922.14H108.3M103.7 907.53H108.3M103.7 892.93H108.3M103.7 878.32H108.3M103.7 863.72H108.3M103.7 849.11H113M103.7 834.5H108.3M103.7 819.9H108.3M103.7 805.29H108.3M103.7 790.68H108.3M103.7 776.08H108.3M103.7 761.47H113M103.7 746.87H108.3M103.7 732.26H108.3M103.7 717.65H108.3M103.7 703.05H108.3M103.7 688.44H108.3M103.7 673.84H113M103.7 659.23H108.3M103.7 644.62H108.3M103.7 630.02H108.3M103.7 615.41H108.3M103.7 600.81H108.3" stroke="#000" stroke-width="2.3" stroke-linecap="round" fill="none"/>
<rect x="103.7" y="586.2" width="644.8" height="482" fill="none" stroke="#000" stroke-width="2.3"/>
<text x="79.19" y="1031.33" font-size="23.87" fill="#000" textLength="13.03" lengthAdjust="spacingAndGlyphs">0</text>
<text x="38.85" y="943.70" font-size="23.87" fill="#000" textLength="51.37" lengthAdjust="spacingAndGlyphs">2000</text>
<text x="39.48" y="856.06" font-size="23.87" fill="#000" textLength="50.73" lengthAdjust="spacingAndGlyphs">4000</text>
<text x="38.82" y="768.42" font-size="23.87" fill="#000" textLength="51.39" lengthAdjust="spacingAndGlyphs">6000</text>
<text x="39.01" y="680.79" font-size="23.87" fill="#000" textLength="51.20" lengthAdjust="spacingAndGlyphs">8000</text>
<text x="25.84" y="593.15" font-size="23.87" fill="#000" textLength="64.36" lengthAdjust="spacingAndGlyphs">10000</text>
<text x="154.70" y="1098.70" font-size="23.59" fill="#000" textLength="38.36" lengthAdjust="spacingAndGlyphs">280</text>
<text x="294.77" y="1098.70" font-size="23.59" fill="#000" textLength="38.43" lengthAdjust="spacingAndGlyphs">285</text>
<text x="434.84" y="1098.70" font-size="23.59" fill="#000" textLength="38.36" lengthAdjust="spacingAndGlyphs">290</text>
<text x="574.91" y="1098.70" font-size="23.59" fill="#000" textLength="38.43" lengthAdjust="spacingAndGlyphs">295</text>
<text x="715.26" y="1098.70" font-size="23.59" fill="#000" textLength="38.07" lengthAdjust="spacingAndGlyphs">300</text>
<text x="313.83" y="1136.90" font-size="26.16" fill="#000" textLength="226.25" lengthAdjust="spacingAndGlyphs">Binding Energy (eV)</text>
<text transform="translate(19.40 812.10) rotate(-90)" x="-72.18" y="0" font-size="26.41" textLength="144.63" lengthAdjust="spacingAndGlyphs">Counts (a.u.)</text>
<text x="671.18" y="636.53" font-size="40.24" fill="#000" textLength="47.45" lengthAdjust="spacingAndGlyphs">(c)</text>
<text x="118.59" y="623.70" font-size="24.29" fill="#000" textLength="42.28" lengthAdjust="spacingAndGlyphs">C1s</text>
<text x="555.52" y="673.90" font-size="22.60" fill="#ff0000" textLength="79.22" lengthAdjust="spacingAndGlyphs">Original</text>
<text x="555.63" y="703.60" font-size="22.60" fill="#00ff00" textLength="91.42" lengthAdjust="spacingAndGlyphs">Sum of fit</text>
<text x="555.61" y="732.40" font-size="22.60" fill="#0000ff" textLength="34.64" lengthAdjust="spacingAndGlyphs">C-C</text>
<text x="555.36" y="761.30" font-size="22.60" fill="#ff00ff" textLength="60.00" lengthAdjust="spacingAndGlyphs">ROCO</text>
<text x="626.69" y="766.80" font-size="14.83" fill="#ff00ff" textLength="7.93" lengthAdjust="spacingAndGlyphs">2</text>
<text x="634.58" y="761.30" font-size="22.60" fill="#ff00ff" textLength="18.19" lengthAdjust="spacingAndGlyphs">Li</text>
<text x="555.17" y="788.00" font-size="22.60" fill="#6c00d8" textLength="17.32" lengthAdjust="spacingAndGlyphs">Li</text>
<text x="576.55" y="793.80" font-size="14.83" fill="#6c00d8" textLength="8.29" lengthAdjust="spacingAndGlyphs">2</text>
<text x="585.47" y="788.00" font-size="22.60" fill="#6c00d8" textLength="30.30" lengthAdjust="spacingAndGlyphs">CO</text>
<text x="621.08" y="793.80" font-size="14.83" fill="#6c00d8" textLength="7.63" lengthAdjust="spacingAndGlyphs">3</text>
<text x="633.26" y="788.00" font-size="22.60" fill="#6c00d8" textLength="37.49" lengthAdjust="spacingAndGlyphs">and</text>
<text x="674.02" y="788.00" font-size="22.60" fill="#6c00d8" textLength="25.65" lengthAdjust="spacingAndGlyphs">CF</text>
<text x="712.08" y="793.80" font-size="14.83" fill="#6c00d8" textLength="7.63" lengthAdjust="spacingAndGlyphs">3</text>
<path d="M939.2 1008.5a5.8 5.8 0 1 0 11.6 0a5.8 5.8 0 1 0 -11.6 0M941.9 1008.5a5.8 5.8 0 1 0 11.6 0a5.8 5.8 0 1 0 -11.6 0M944.7 1008.5a5.8 5.8 0 1 0 11.6 0a5.8 5.8 0 1 0 -11.6 0M947.4 1008.5a5.8 5.8 0 1 0 11.6 0a5.8 5.8 0 1 0 -11.6 0M950.1 1008.4a5.8 5.8 0 1 0 11.6 0a5.8 5.8 0 1 0 -11.6 0M952.9 1008.4a5.8 5.8 0 1 0 11.6 0a5.8 5.8 0 1 0 -11.6 0M955.6 1008.3a5.8 5.8 0 1 0 11.6 0a5.8 5.8 0 1 0 -11.6 0M958.3 1008.3a5.8 5.8 0 1 0 11.6 0a5.8 5.8 0 1 0 -11.6 0M961.0 1008.2a5.8 5.8 0 1 0 11.6 0a5.8 5.8 0 1 0 -11.6 0M963.8 1008.1a5.8 5.8 0 1 0 11.6 0a5.8 5.8 0 1 0 -11.6 0M966.5 1008.1a5.8 5.8 0 1 0 11.6 0a5.8 5.8 0 1 0 -11.6 0M969.2 1008.0a5.8 5.8 0 1 0 11.6 0a5.8 5.8 0 1 0 -11.6 0M972.0 1007.9a5.8 5.8 0 1 0 11.6 0a5.8 5.8 0 1 0 -11.6 0M974.7 1007.8a5.8 5.8 0 1 0 11.6 0a5.8 5.8 0 1 0 -11.6 0M977.4 1007.7a5.8 5.8 0 1 0 11.6 0a5.8 5.8 0 1 0 -11.6 0M980.2 1007.6a5.8 5.8 0 1 0 11.6 0a5.8 5.8 0 1 0 -11.6 0M982.9 1007.5a5.8 5.8 0 1 0 11.6 0a5.8 5.8 0 1 0 -11.6 0M985.6 1007.5a5.8 5.8 0 1 0 11.6 0a5.8 5.8 0 1 0 -11.6 0M988.4 1007.3a5.8 5.8 0 1 0 11.6 0a5.8 5.8 0 1 0 -11.6 0M991.1 1007.2a5.8 5.8 0 1 0 11.6 0a5.8 5.8 0 1 0 -11.6 0M993.8 1007.1a5.8 5.8 0 1 0 11.6 0a5.8 5.8 0 1 0 -11.6 0M996.6 1007.0a5.8 5.8 0 1 0 11.6 0a5.8 5.8 0 1 0 -11.6 0M999.3 1006.8a5.8 5.8 0 1 0 11.6 0a5.8 5.8 0 1 0 -11.6 0M1002.0 1006.6a5.8 5.8 0 1 0 11.6 0a5.8 5.8 0 1 0 -11.6 0M1004.7 1006.4a5.8 5.8 0 1 0 11.6 0a5.8 5.8 0 1 0 -11.6 0M1007.5 1006.2a5.8 5.8 0 1 0 11.6 0a5.8 5.8 0 1 0 -11.6 0M1010.2 1005.9a5.8 5.8 0 1 0 11.6 0a5.8 5.8 0 1 0 -11.6 0M1012.9 1005.5a5.8 5.8 0 1 0 11.6 0a5.8 5.8 0 1 0 -11.6 0M1015.7 1004.9a5.8 5.8 0 1 0 11.6 0a5.8 5.8 0 1 0 -11.6 0M1018.4 1004.2a5.8 5.8 0 1 0 11.6 0a5.8 5.8 0 1 0 -11.6 0M1021.1 1003.3a5.8 5.8 0 1 0 11.6 0a5.8 5.8 0 1 0 -11.6 0M1023.9 1001.7a5.8 5.8 0 1 0 11.6 0a5.8 5.8 0 1 0 -11.6 0M1026.6 999.5a5.8 5.8 0 1 0 11.6 0a5.8 5.8 0 1 0 -11.6 0M1029.3 996.2a5.8 5.8 0 1 0 11.6 0a5.8 5.8 0 1 0 -11.6 0M1032.1 991.3a5.8 5.8 0 1 0 11.6 0a5.8 5.8 0 1 0 -11.6 0M1034.8 985.5a5.8 5.8 0 1 0 11.6 0a5.8 5.8 0 1 0 -11.6 0M1037.5 977.7a5.8 5.8 0 1 0 11.6 0a5.8 5.8 0 1 0 -11.6 0M1040.3 967.0a5.8 5.8 0 1 0 11.6 0a5.8 5.8 0 1 0 -11.6 0M1043.0 955.3a5.8 5.8 0 1 0 11.6 0a5.8 5.8 0 1 0 -11.6 0M1045.7 942.4a5.8 5.8 0 1 0 11.6 0a5.8 5.8 0 1 0 -11.6 0M1048.4 929.3a5.8 5.8 0 1 0 11.6 0a5.8 5.8 0 1 0 -11.6 0M1051.2 914.4a5.8 5.8 0 1 0 11.6 0a5.8 5.8 0 1 0 -11.6 0M1053.9 882.2a5.8 5.8 0 1 0 11.6 0a5.8 5.8 0 1 0 -11.6 0M1056.6 843.4a5.8 5.8 0 1 0 11.6 0a5.8 5.8 0 1 0 -11.6 0M1059.4 812.4a5.8 5.8 0 1 0 11.6 0a5.8 5.8 0 1 0 -11.6 0M1062.1 781.8a5.8 5.8 0 1 0 11.6 0a5.8 5.8 0 1 0 -11.6 0M1064.8 756.2a5.8 5.8 0 1 0 11.6 0a5.8 5.8 0 1 0 -11.6 0M1067.6 736.7a5.8 5.8 0 1 0 11.6 0a5.8 5.8 0 1 0 -11.6 0M1070.3 725.1a5.8 5.8 0 1 0 11.6 0a5.8 5.8 0 1 0 -11.6 0M1073.0 723.2a5.8 5.8 0 1 0 11.6 0a5.8 5.8 0 1 0 -11.6 0M1075.8 730.1a5.8 5.8 0 1 0 11.6 0a5.8 5.8 0 1 0 -11.6 0M1078.5 742.8a5.8 5.8 0 1 0 11.6 0a5.8 5.8 0 1 0 -11.6 0M1081.2 760.7a5.8 5.8 0 1 0 11.6 0a5.8 5.8 0 1 0 -11.6 0M1083.9 780.5a5.8 5.8 0 1 0 11.6 0a5.8 5.8 0 1 0 -11.6 0M1086.7 803.2a5.8 5.8 0 1 0 11.6 0a5.8 5.8 0 1 0 -11.6 0M1089.4 814.2a5.8 5.8 0 1 0 11.6 0a5.8 5.8 0 1 0 -11.6 0M1092.1 825.9a5.8 5.8 0 1 0 11.6 0a5.8 5.8 0 1 0 -11.6 0M1094.9 833.6a5.8 5.8 0 1 0 11.6 0a5.8 5.8 0 1 0 -11.6 0M1097.6 837.2a5.8 5.8 0 1 0 11.6 0a5.8 5.8 0 1 0 -11.6 0M1100.3 832.3a5.8 5.8 0 1 0 11.6 0a5.8 5.8 0 1 0 -11.6 0M1103.1 824.6a5.8 5.8 0 1 0 11.6 0a5.8 5.8 0 1 0 -11.6 0M1105.8 817.4a5.8 5.8 0 1 0 11.6 0a5.8 5.8 0 1 0 -11.6 0M1108.5 811.9a5.8 5.8 0 1 0 11.6 0a5.8 5.8 0 1 0 -11.6 0M1111.3 809.4a5.8 5.8 0 1 0 11.6 0a5.8 5.8 0 1 0 -11.6 0M1114.0 808.9a5.8 5.8 0 1 0 11.6 0a5.8 5.8 0 1 0 -11.6 0M1116.7 811.7a5.8 5.8 0 1 0 11.6 0a5.8 5.8 0 1 0 -11.6 0M1119.5 827.0a5.8 5.8 0 1 0 11.6 0a5.8 5.8 0 1 0 -11.6 0M1122.2 841.9a5.8 5.8 0 1 0 11.6 0a5.8 5.8 0 1 0 -11.6 0M1124.9 859.6a5.8 5.8 0 1 0 11.6 0a5.8 5.8 0 1 0 -11.6 0M1127.6 879.4a5.8 5.8 0 1 0 11.6 0a5.8 5.8 0 1 0 -11.6 0M1130.4 898.2a5.8 5.8 0 1 0 11.6 0a5.8 5.8 0 1 0 -11.6 0M1133.1 915.6a5.8 5.8 0 1 0 11.6 0a5.8 5.8 0 1 0 -11.6 0M1135.8 930.8a5.8 5.8 0 1 0 11.6 0a5.8 5.8 0 1 0 -11.6 0M1138.6 944.0a5.8 5.8 0 1 0 11.6 0a5.8 5.8 0 1 0 -11.6 0M1141.3 954.5a5.8 5.8 0 1 0 11.6 0a5.8 5.8 0 1 0 -11.6 0M1144.0 960.9a5.8 5.8 0 1 0 11.6 0a5.8 5.8 0 1 0 -11.6 0M1146.8 966.8a5.8 5.8 0 1 0 11.6 0a5.8 5.8 0 1 0 -11.6 0M1149.5 971.7a5.8 5.8 0 1 0 11.6 0a5.8 5.8 0 1 0 -11.6 0M1152.2 974.4a5.8 5.8 0 1 0 11.6 0a5.8 5.8 0 1 0 -11.6 0M1155.0 973.3a5.8 5.8 0 1 0 11.6 0a5.8 5.8 0 1 0 -11.6 0M1157.7 970.9a5.8 5.8 0 1 0 11.6 0a5.8 5.8 0 1 0 -11.6 0M1160.4 966.3a5.8 5.8 0 1 0 11.6 0a5.8 5.8 0 1 0 -11.6 0M1163.2 959.5a5.8 5.8 0 1 0 11.6 0a5.8 5.8 0 1 0 -11.6 0M1165.9 951.4a5.8 5.8 0 1 0 11.6 0a5.8 5.8 0 1 0 -11.6 0M1168.6 943.7a5.8 5.8 0 1 0 11.6 0a5.8 5.8 0 1 0 -11.6 0M1171.3 934.8a5.8 5.8 0 1 0 11.6 0a5.8 5.8 0 1 0 -11.6 0M1174.1 923.8a5.8 5.8 0 1 0 11.6 0a5.8 5.8 0 1 0 -11.6 0M1176.8 911.2a5.8 5.8 0 1 0 11.6 0a5.8 5.8 0 1 0 -11.6 0M1179.5 899.6a5.8 5.8 0 1 0 11.6 0a5.8 5.8 0 1 0 -11.6 0M1182.3 885.8a5.8 5.8 0 1 0 11.6 0a5.8 5.8 0 1 0 -11.6 0M1185.0 861.2a5.8 5.8 0 1 0 11.6 0a5.8 5.8 0 1 0 -11.6 0M1187.7 834.5a5.8 5.8 0 1 0 11.6 0a5.8 5.8 0 1 0 -11.6 0M1190.5 806.9a5.8 5.8 0 1 0 11.6 0a5.8 5.8 0 1 0 -11.6 0M1193.2 768.7a5.8 5.8 0 1 0 11.6 0a5.8 5.8 0 1 0 -11.6 0M1195.9 731.5a5.8 5.8 0 1 0 11.6 0a5.8 5.8 0 1 0 -11.6 0M1198.7 693.1a5.8 5.8 0 1 0 11.6 0a5.8 5.8 0 1 0 -11.6 0M1201.4 659.9a5.8 5.8 0 1 0 11.6 0a5.8 5.8 0 1 0 -11.6 0M1204.1 634.9a5.8 5.8 0 1 0 11.6 0a5.8 5.8 0 1 0 -11.6 0M1206.8 622.2a5.8 5.8 0 1 0 11.6 0a5.8 5.8 0 1 0 -11.6 0M1209.6 619.4a5.8 5.8 0 1 0 11.6 0a5.8 5.8 0 1 0 -11.6 0M1212.3 626.3a5.8 5.8 0 1 0 11.6 0a5.8 5.8 0 1 0 -11.6 0M1215.0 644.4a5.8 5.8 0 1 0 11.6 0a5.8 5.8 0 1 0 -11.6 0M1217.8 668.7a5.8 5.8 0 1 0 11.6 0a5.8 5.8 0 1 0 -11.6 0M1220.5 690.9a5.8 5.8 0 1 0 11.6 0a5.8 5.8 0 1 0 -11.6 0M1223.2 721.1a5.8 5.8 0 1 0 11.6 0a5.8 5.8 0 1 0 -11.6 0M1226.0 739.7a5.8 5.8 0 1 0 11.6 0a5.8 5.8 0 1 0 -11.6 0M1228.7 758.0a5.8 5.8 0 1 0 11.6 0a5.8 5.8 0 1 0 -11.6 0M1231.4 774.2a5.8 5.8 0 1 0 11.6 0a5.8 5.8 0 1 0 -11.6 0M1234.2 789.9a5.8 5.8 0 1 0 11.6 0a5.8 5.8 0 1 0 -11.6 0M1236.9 808.0a5.8 5.8 0 1 0 11.6 0a5.8 5.8 0 1 0 -11.6 0M1239.6 829.7a5.8 5.8 0 1 0 11.6 0a5.8 5.8 0 1 0 -11.6 0M1242.4 855.2a5.8 5.8 0 1 0 11.6 0a5.8 5.8 0 1 0 -11.6 0M1245.1 881.9a5.8 5.8 0 1 0 11.6 0a5.8 5.8 0 1 0 -11.6 0M1247.8 906.8a5.8 5.8 0 1 0 11.6 0a5.8 5.8 0 1 0 -11.6 0M1250.5 927.6a5.8 5.8 0 1 0 11.6 0a5.8 5.8 0 1 0 -11.6 0M1253.3 947.4a5.8 5.8 0 1 0 11.6 0a5.8 5.8 0 1 0 -11.6 0M1256.0 961.5a5.8 5.8 0 1 0 11.6 0a5.8 5.8 0 1 0 -11.6 0M1258.7 971.5a5.8 5.8 0 1 0 11.6 0a5.8 5.8 0 1 0 -11.6 0M1261.5 980.1a5.8 5.8 0 1 0 11.6 0a5.8 5.8 0 1 0 -11.6 0M1264.2 986.5a5.8 5.8 0 1 0 11.6 0a5.8 5.8 0 1 0 -11.6 0M1266.9 991.7a5.8 5.8 0 1 0 11.6 0a5.8 5.8 0 1 0 -11.6 0M1269.7 995.3a5.8 5.8 0 1 0 11.6 0a5.8 5.8 0 1 0 -11.6 0M1272.4 997.5a5.8 5.8 0 1 0 11.6 0a5.8 5.8 0 1 0 -11.6 0M1275.1 999.0a5.8 5.8 0 1 0 11.6 0a5.8 5.8 0 1 0 -11.6 0M1277.9 1000.1a5.8 5.8 0 1 0 11.6 0a5.8 5.8 0 1 0 -11.6 0M1280.6 1001.1a5.8 5.8 0 1 0 11.6 0a5.8 5.8 0 1 0 -11.6 0M1283.3 1002.0a5.8 5.8 0 1 0 11.6 0a5.8 5.8 0 1 0 -11.6 0M1286.1 1002.9a5.8 5.8 0 1 0 11.6 0a5.8 5.8 0 1 0 -11.6 0M1288.8 1003.9a5.8 5.8 0 1 0 11.6 0a5.8 5.8 0 1 0 -11.6 0M1291.5 1004.7a5.8 5.8 0 1 0 11.6 0a5.8 5.8 0 1 0 -11.6 0M1294.2 1004.8a5.8 5.8 0 1 0 11.6 0a5.8 5.8 0 1 0 -11.6 0M1297.0 1004.6a5.8 5.8 0 1 0 11.6 0a5.8 5.8 0 1 0 -11.6 0M1299.7 1004.3a5.8 5.8 0 1 0 11.6 0a5.8 5.8 0 1 0 -11.6 0M1302.4 1003.9a5.8 5.8 0 1 0 11.6 0a5.8 5.8 0 1 0 -11.6 0M1305.2 1003.4a5.8 5.8 0 1 0 11.6 0a5.8 5.8 0 1 0 -11.6 0M1307.9 1003.5a5.8 5.8 0 1 0 11.6 0a5.8 5.8 0 1 0 -11.6 0M1310.6 1004.5a5.8 5.8 0 1 0 11.6 0a5.8 5.8 0 1 0 -11.6 0M1313.4 1005.7a5.8 5.8 0 1 0 11.6 0a5.8 5.8 0 1 0 -11.6 0M1316.1 1006.8a5.8 5.8 0 1 0 11.6 0a5.8 5.8 0 1 0 -11.6 0M1318.8 1008.0a5.8 5.8 0 1 0 11.6 0a5.8 5.8 0 1 0 -11.6 0M1321.6 1008.5a5.8 5.8 0 1 0 11.6 0a5.8 5.8 0 1 0 -11.6 0M1324.3 1008.2a5.8 5.8 0 1 0 11.6 0a5.8 5.8 0 1 0 -11.6 0M1327.0 1007.8a5.8 5.8 0 1 0 11.6 0a5.8 5.8 0 1 0 -11.6 0M1329.7 1007.5a5.8 5.8 0 1 0 11.6 0a5.8 5.8 0 1 0 -11.6 0M1332.5 1007.4a5.8 5.8 0 1 0 11.6 0a5.8 5.8 0 1 0 -11.6 0M1335.2 1007.3a5.8 5.8 0 1 0 11.6 0a5.8 5.8 0 1 0 -11.6 0M1337.9 1007.2a5.8 5.8 0 1 0 11.6 0a5.8 5.8 0 1 0 -11.6 0M1340.7 1007.2a5.8 5.8 0 1 0 11.6 0a5.8 5.8 0 1 0 -11.6 0M1343.4 1007.1a5.8 5.8 0 1 0 11.6 0a5.8 5.8 0 1 0 -11.6 0M1346.1 1007.1a5.8 5.8 0 1 0 11.6 0a5.8 5.8 0 1 0 -11.6 0M1348.9 1007.0a5.8 5.8 0 1 0 11.6 0a5.8 5.8 0 1 0 -11.6 0M1351.6 1007.0a5.8 5.8 0 1 0 11.6 0a5.8 5.8 0 1 0 -11.6 0M1354.3 1007.0a5.8 5.8 0 1 0 11.6 0a5.8 5.8 0 1 0 -11.6 0M1357.1 1007.0a5.8 5.8 0 1 0 11.6 0a5.8 5.8 0 1 0 -11.6 0M1359.8 1007.1a5.8 5.8 0 1 0 11.6 0a5.8 5.8 0 1 0 -11.6 0M1362.5 1007.2a5.8 5.8 0 1 0 11.6 0a5.8 5.8 0 1 0 -11.6 0M1365.3 1007.3a5.8 5.8 0 1 0 11.6 0a5.8 5.8 0 1 0 -11.6 0M1368.0 1007.4a5.8 5.8 0 1 0 11.6 0a5.8 5.8 0 1 0 -11.6 0M1370.7 1007.6a5.8 5.8 0 1 0 11.6 0a5.8 5.8 0 1 0 -11.6 0M1373.4 1007.7a5.8 5.8 0 1 0 11.6 0a5.8 5.8 0 1 0 -11.6 0M1376.2 1007.8a5.8 5.8 0 1 0 11.6 0a5.8 5.8 0 1 0 -11.6 0M1378.9 1007.9a5.8 5.8 0 1 0 11.6 0a5.8 5.8 0 1 0 -11.6 0M1381.6 1008.0a5.8 5.8 0 1 0 11.6 0a5.8 5.8 0 1 0 -11.6 0M1384.4 1008.0a5.8 5.8 0 1 0 11.6 0a5.8 5.8 0 1 0 -11.6 0M1387.1 1008.0a5.8 5.8 0 1 0 11.6 0a5.8 5.8 0 1 0 -11.6 0M1389.8 1007.9a5.8 5.8 0 1 0 11.6 0a5.8 5.8 0 1 0 -11.6 0M1392.6 1007.8a5.8 5.8 0 1 0 11.6 0a5.8 5.8 0 1 0 -11.6 0M1395.3 1007.7a5.8 5.8 0 1 0 11.6 0a5.8 5.8 0 1 0 -11.6 0M1398.0 1007.5a5.8 5.8 0 1 0 11.6 0a5.8 5.8 0 1 0 -11.6 0M1400.8 1007.3a5.8 5.8 0 1 0 11.6 0a5.8 5.8 0 1 0 -11.6 0M1403.5 1007.1a5.8 5.8 0 1 0 11.6 0a5.8 5.8 0 1 0 -11.6 0M1406.2 1006.7a5.8 5.8 0 1 0 11.6 0a5.8 5.8 0 1 0 -11.6 0M1409.0 1005.9a5.8 5.8 0 1 0 11.6 0a5.8 5.8 0 1 0 -11.6 0M1411.7 1005.0a5.8 5.8 0 1 0 11.6 0a5.8 5.8 0 1 0 -11.6 0M1414.4 1003.9a5.8 5.8 0 1 0 11.6 0a5.8 5.8 0 1 0 -11.6 0M1417.1 1002.3a5.8 5.8 0 1 0 11.6 0a5.8 5.8 0 1 0 -11.6 0M1419.9 1000.6a5.8 5.8 0 1 0 11.6 0a5.8 5.8 0 1 0 -11.6 0M1422.6 1000.0a5.8 5.8 0 1 0 11.6 0a5.8 5.8 0 1 0 -11.6 0M1425.3 1000.4a5.8 5.8 0 1 0 11.6 0a5.8 5.8 0 1 0 -11.6 0M1428.1 1001.4a5.8 5.8 0 1 0 11.6 0a5.8 5.8 0 1 0 -11.6 0M1430.8 1004.0a5.8 5.8 0 1 0 11.6 0a5.8 5.8 0 1 0 -11.6 0" fill="none" stroke="#ff0000" stroke-width="0.9"/>
<polyline points="946.1,1009.5 947.1,1009.5 948.1,1009.5 949.1,1009.5 950.1,1009.5 951.1,1009.5 952.1,1009.5 953.1,1009.5 954.1,1009.5 955.1,1009.5 956.1,1009.5 957.1,1009.5 958.1,1009.5 959.1,1009.5 960.1,1009.5 961.1,1009.5 962.1,1009.5 963.1,1009.5 964.1,1009.5 965.1,1009.5 966.1,1009.5 967.1,1009.5 968.1,1009.5 969.1,1009.5 970.1,1009.5 971.1,1009.5 972.1,1009.5 973.1,1009.5 974.1,1009.5 975.1,1009.5 976.1,1009.5 977.1,1009.5 978.1,1009.5 979.1,1009.5 980.1,1009.5 981.1,1009.5 982.1,1009.5 983.1,1009.5 984.1,1009.5 985.1,1009.5 986.1,1009.5 987.1,1009.5 988.1,1009.5 989.1,1009.5 990.1,1009.5 991.1,1009.5 992.1,1009.5 993.1,1009.5 994.1,1009.5 995.1,1009.5 996.2,1009.5 997.2,1009.5 998.2,1009.5 999.2,1009.5 1000.2,1009.5 1001.2,1009.5 1002.2,1009.5 1003.2,1009.5 1004.2,1009.5 1005.2,1009.5 1006.2,1009.5 1007.2,1009.5 1008.2,1009.5 1009.2,1009.5 1010.2,1009.5 1011.2,1009.5 1012.2,1009.5 1013.2,1009.5 1014.2,1009.5 1015.2,1009.5 1016.2,1009.5 1017.2,1009.4 1018.2,1009.4 1019.2,1009.4 1020.2,1009.4 1021.2,1009.3 1022.2,1009.3 1023.2,1009.2 1024.2,1009.1 1025.2,1009.0 1026.2,1008.9 1027.2,1008.7 1028.2,1008.5 1029.2,1008.3 1030.2,1008.0 1031.2,1007.6 1032.2,1007.1 1033.2,1006.6 1034.2,1005.9 1035.2,1005.1 1036.2,1004.1 1037.2,1003.0 1038.2,1001.7 1039.2,1000.1 1040.2,998.3 1041.2,996.1 1042.2,993.7 1043.2,990.9 1044.2,987.7 1045.2,984.1 1046.2,980.0 1047.2,975.4 1048.2,970.3 1049.2,964.6 1050.2,958.4 1051.2,951.6 1052.2,944.2 1053.2,936.2 1054.2,927.6 1055.2,918.4 1056.2,908.7 1057.2,898.5 1058.2,887.8 1059.2,876.7 1060.2,865.3 1061.2,853.7 1062.2,841.9 1063.2,830.2 1064.2,818.4 1065.2,806.9 1066.2,795.7 1067.2,785.0 1068.2,774.9 1069.2,765.4 1070.2,756.8 1071.2,749.1 1072.2,742.4 1073.2,736.8 1074.2,732.5 1075.2,729.4 1076.2,727.5 1077.2,727.0 1078.2,727.7 1079.2,729.8 1080.2,733.0 1081.2,737.5 1082.2,743.0 1083.2,749.5 1084.2,756.8 1085.2,765.0 1086.2,773.7 1087.2,782.9 1088.2,792.4 1089.2,802.1 1090.2,811.8 1091.2,821.4 1092.2,830.7 1093.2,839.5 1094.3,847.8 1095.3,855.5 1096.3,862.4 1097.3,868.4 1098.3,873.5 1099.3,877.7 1100.3,880.8 1101.3,882.9 1102.3,884.0 1103.3,884.1 1104.3,883.2 1105.3,881.4 1106.3,878.8 1107.3,875.4 1108.3,871.3 1109.3,866.7 1110.3,861.7 1111.3,856.4 1112.3,850.9 1113.3,845.3 1114.3,839.9 1115.3,834.6 1116.3,829.7 1117.3,825.3 1118.3,821.5 1119.3,818.3 1120.3,815.9 1121.3,814.3 1122.3,813.6 1123.3,813.8 1124.3,814.9 1125.3,816.9 1126.3,819.9 1127.3,823.7 1128.3,828.4 1129.3,833.8 1130.3,839.8 1131.3,846.5 1132.3,853.7 1133.3,861.3 1134.3,869.2 1135.3,877.3 1136.3,885.5 1137.3,893.7 1138.3,901.8 1139.3,909.7 1140.3,917.4 1141.3,924.7 1142.3,931.5 1143.3,937.9 1144.3,943.8 1145.3,949.1 1146.3,953.8 1147.3,957.9 1148.3,961.4 1149.3,964.2 1150.3,966.5 1151.3,968.1 1152.3,969.2 1153.3,969.8 1154.3,969.8 1155.3,969.5 1156.3,968.7 1157.3,967.5 1158.3,966.1 1159.3,964.5 1160.3,962.7 1161.3,960.8 1162.3,958.9 1163.3,957.0 1164.3,955.2 1165.3,953.6 1166.3,952.0 1167.3,950.7 1168.3,949.6 1169.3,948.7 1170.3,948.0 1171.3,947.6 1172.3,947.3 1173.3,947.1 1174.3,947.0 1175.3,946.9 1176.3,946.7 1177.3,946.5 1178.3,945.9 1179.3,945.1 1180.3,943.8 1181.3,942.0 1182.3,939.6 1183.3,936.6 1184.3,932.7 1185.3,928.0 1186.3,922.4 1187.3,915.8 1188.3,908.2 1189.3,899.6 1190.3,890.0 1191.3,879.5 1192.4,867.9 1193.4,855.5 1194.4,842.2 1195.4,828.3 1196.4,813.7 1197.4,798.6 1198.4,783.3 1199.4,767.8 1200.4,752.3 1201.4,737.0 1202.4,722.1 1203.4,707.7 1204.4,694.1 1205.4,681.4 1206.4,669.7 1207.4,659.3 1208.4,650.1 1209.4,642.4 1210.4,636.1 1211.4,631.4 1212.4,628.2 1213.4,626.5 1214.4,626.3 1215.4,627.5 1216.4,630.0 1217.4,633.7 1218.4,638.5 1219.4,644.2 1220.4,650.8 1221.4,657.9 1222.4,665.5 1223.4,673.3 1224.4,681.4 1225.4,689.5 1226.4,697.6 1227.4,705.5 1228.4,713.1 1229.4,720.5 1230.4,727.6 1231.4,734.4 1232.4,740.8 1233.4,747.1 1234.4,753.1 1235.4,758.9 1236.4,764.7 1237.4,770.4 1238.4,776.2 1239.4,782.1 1240.4,788.2 1241.4,794.5 1242.4,801.1 1243.4,808.0 1244.4,815.3 1245.4,822.9 1246.4,830.8 1247.4,838.9 1248.4,847.4 1249.4,856.1 1250.4,864.9 1251.4,873.9 1252.4,882.9 1253.4,891.8 1254.4,900.7 1255.4,909.3 1256.4,917.8 1257.4,926.0 1258.4,933.8 1259.4,941.3 1260.4,948.4 1261.4,955.0 1262.4,961.1 1263.4,966.8 1264.4,972.1 1265.4,976.9 1266.4,981.2 1267.4,985.1 1268.4,988.5 1269.4,991.6 1270.4,994.3 1271.4,996.7 1272.4,998.8 1273.4,1000.5 1274.4,1002.1 1275.4,1003.4 1276.4,1004.5 1277.4,1005.4 1278.4,1006.2 1279.4,1006.8 1280.4,1007.3 1281.4,1007.8 1282.4,1008.1 1283.4,1008.4 1284.4,1008.7 1285.4,1008.8 1286.4,1009.0 1287.4,1009.1 1288.4,1009.2 1289.4,1009.3 1290.5,1009.3 1291.5,1009.4 1292.5,1009.4 1293.5,1009.4 1294.5,1009.4 1295.5,1009.5 1296.5,1009.5 1297.5,1009.5 1298.5,1009.5 1299.5,1009.5 1300.5,1009.5 1301.5,1009.5 1302.5,1009.5 1303.5,1009.5 1304.5,1009.5 1305.5,1009.5 1306.5,1009.5 1307.5,1009.5 1308.5,1009.5 1309.5,1009.5 1310.5,1009.5 1311.5,1009.5 1312.5,1009.5 1313.5,1009.5 1314.5,1009.5 1315.5,1009.5 1316.5,1009.5 1317.5,1009.5 1318.5,1009.5 1319.5,1009.5 1320.5,1009.5 1321.5,1009.5 1322.5,1009.5 1323.5,1009.5 1324.5,1009.5 1325.5,1009.5 1326.5,1009.5 1327.5,1009.5 1328.5,1009.5 1329.5,1009.5 1330.5,1009.5 1331.5,1009.5 1332.5,1009.5 1333.5,1009.5 1334.5,1009.5 1335.5,1009.5 1336.5,1009.5 1337.5,1009.5 1338.5,1009.5 1339.5,1009.5 1340.5,1009.5 1341.5,1009.5 1342.5,1009.5 1343.5,1009.5 1344.5,1009.5 1345.5,1009.5 1346.5,1009.5 1347.5,1009.5 1348.5,1009.5 1349.5,1009.5 1350.5,1009.5 1351.5,1009.5 1352.5,1009.5 1353.5,1009.5 1354.5,1009.5 1355.5,1009.5 1356.5,1009.5 1357.5,1009.5 1358.5,1009.5 1359.5,1009.5 1360.5,1009.5 1361.5,1009.5 1362.5,1009.5 1363.5,1009.5 1364.5,1009.5 1365.5,1009.5 1366.5,1009.5 1367.5,1009.5 1368.5,1009.5 1369.5,1009.5 1370.5,1009.5 1371.5,1009.5 1372.5,1009.5 1373.5,1009.5 1374.5,1009.5 1375.5,1009.5 1376.5,1009.5 1377.5,1009.5 1378.5,1009.5 1379.5,1009.5 1380.5,1009.5 1381.5,1009.5 1382.5,1009.5 1383.5,1009.5 1384.5,1009.5 1385.5,1009.5 1386.5,1009.5 1387.5,1009.5 1388.6,1009.5 1389.6,1009.5 1390.6,1009.5 1391.6,1009.5 1392.6,1009.5 1393.6,1009.5 1394.6,1009.5 1395.6,1009.5 1396.6,1009.5 1397.6,1009.5 1398.6,1009.5 1399.6,1009.5 1400.6,1009.5 1401.6,1009.5 1402.6,1009.5 1403.6,1009.5 1404.6,1009.5 1405.6,1009.5 1406.6,1009.5 1407.6,1009.5 1408.6,1009.5 1409.6,1009.5 1410.6,1009.5 1411.6,1009.5 1412.6,1009.5 1413.6,1009.5 1414.6,1009.5 1415.6,1009.5 1416.6,1009.5 1417.6,1009.5 1418.6,1009.5 1419.6,1009.5 1420.6,1009.5 1421.6,1009.5 1422.6,1009.5 1423.6,1009.5 1424.6,1009.5 1425.6,1009.5 1426.6,1009.5 1427.6,1009.5 1428.6,1009.5 1429.6,1009.5 1430.6,1009.5 1431.6,1009.5 1432.6,1009.5 1433.6,1009.5 1434.6,1009.5 1435.6,1009.5 1436.6,1009.5" fill="none" stroke="#00ff00" stroke-width="4.2" stroke-linejoin="round" stroke-linecap="round"/>
<polyline points="946.1,1009.5 947.1,1009.5 948.1,1009.5 949.1,1009.5 950.1,1009.5 951.1,1009.5 952.1,1009.5 953.1,1009.5 954.1,1009.5 955.1,1009.5 956.1,1009.5 957.1,1009.5 958.1,1009.5 959.1,1009.5 960.1,1009.5 961.1,1009.5 962.1,1009.5 963.1,1009.5 964.1,1009.5 965.1,1009.5 966.1,1009.5 967.1,1009.5 968.1,1009.5 969.1,1009.5 970.1,1009.5 971.1,1009.5 972.1,1009.5 973.1,1009.5 974.1,1009.5 975.1,1009.5 976.1,1009.5 977.1,1009.5 978.1,1009.5 979.1,1009.5 980.1,1009.5 981.1,1009.5 982.1,1009.5 983.1,1009.5 984.1,1009.5 985.1,1009.5 986.1,1009.5 987.1,1009.5 988.1,1009.5 989.1,1009.5 990.1,1009.5 991.1,1009.5 992.1,1009.5 993.1,1009.5 994.1,1009.5 995.1,1009.5 996.2,1009.5 997.2,1009.5 998.2,1009.5 999.2,1009.5 1000.2,1009.5 1001.2,1009.5 1002.2,1009.5 1003.2,1009.5 1004.2,1009.5 1005.2,1009.5 1006.2,1009.5 1007.2,1009.5 1008.2,1009.5 1009.2,1009.5 1010.2,1009.5 1011.2,1009.5 1012.2,1009.5 1013.2,1009.5 1014.2,1009.5 1015.2,1009.5 1016.2,1009.5 1017.2,1009.4 1018.2,1009.4 1019.2,1009.4 1020.2,1009.4 1021.2,1009.3 1022.2,1009.3 1023.2,1009.2 1024.2,1009.1 1025.2,1009.0 1026.2,1008.9 1027.2,1008.7 1028.2,1008.5 1029.2,1008.3 1030.2,1008.0 1031.2,1007.6 1032.2,1007.1 1033.2,1006.6 1034.2,1005.9 1035.2,1005.1 1036.2,1004.1 1037.2,1003.0 1038.2,1001.7 1039.2,1000.1 1040.2,998.3 1041.2,996.1 1042.2,993.7 1043.2,990.9 1044.2,987.7 1045.2,984.1 1046.2,980.0 1047.2,975.4 1048.2,970.3 1049.2,964.6 1050.2,958.4 1051.2,951.6 1052.2,944.2 1053.2,936.2 1054.2,927.6 1055.2,918.4 1056.2,908.7 1057.2,898.5 1058.2,887.8 1059.2,876.7 1060.2,865.3 1061.2,853.7 1062.2,842.0 1063.2,830.2 1064.2,818.5 1065.2,807.0 1066.2,795.8 1067.2,785.1 1068.2,774.9 1069.2,765.5 1070.2,756.9 1071.2,749.3 1072.2,742.6 1073.2,737.2 1074.2,732.9 1075.2,729.9 1076.2,728.2 1077.2,727.8 1078.2,728.8 1079.2,731.1 1080.2,734.7 1081.2,739.6 1082.2,745.6 1083.2,752.7 1084.2,760.8 1085.2,769.8 1086.2,779.6 1087.2,790.0 1088.2,801.0 1089.2,812.3 1090.2,823.9 1091.2,835.7 1092.2,847.5 1093.2,859.2 1094.3,870.7 1095.3,881.9 1096.3,892.8 1097.3,903.3 1098.3,913.3 1099.3,922.8 1100.3,931.7 1101.3,940.0 1102.3,947.7 1103.3,954.9 1104.3,961.4 1105.3,967.3 1106.3,972.7 1107.3,977.6 1108.3,981.9 1109.3,985.8 1110.3,989.2 1111.3,992.2 1112.3,994.9 1113.3,997.2 1114.3,999.1 1115.3,1000.9 1116.3,1002.3 1117.3,1003.5 1118.3,1004.6 1119.3,1005.5 1120.3,1006.2 1121.3,1006.8 1122.3,1007.4 1123.3,1007.8 1124.3,1008.1 1125.3,1008.4 1126.3,1008.6 1127.3,1008.8 1128.3,1009.0 1129.3,1009.1 1130.3,1009.2 1131.3,1009.2 1132.3,1009.3 1133.3,1009.3 1134.3,1009.4 1135.3,1009.4 1136.3,1009.4 1137.3,1009.5 1138.3,1009.5 1139.3,1009.5 1140.3,1009.5 1141.3,1009.5 1142.3,1009.5 1143.3,1009.5 1144.3,1009.5 1145.3,1009.5 1146.3,1009.5 1147.3,1009.5 1148.3,1009.5 1149.3,1009.5 1150.3,1009.5 1151.3,1009.5 1152.3,1009.5 1153.3,1009.5 1154.3,1009.5 1155.3,1009.5 1156.3,1009.5 1157.3,1009.5 1158.3,1009.5 1159.3,1009.5 1160.3,1009.5 1161.3,1009.5 1162.3,1009.5 1163.3,1009.5 1164.3,1009.5 1165.3,1009.5 1166.3,1009.5 1167.3,1009.5 1168.3,1009.5 1169.3,1009.5 1170.3,1009.5 1171.3,1009.5 1172.3,1009.5 1173.3,1009.5 1174.3,1009.5 1175.3,1009.5 1176.3,1009.5 1177.3,1009.5 1178.3,1009.5 1179.3,1009.5 1180.3,1009.5 1181.3,1009.5 1182.3,1009.5 1183.3,1009.5 1184.3,1009.5 1185.3,1009.5 1186.3,1009.5 1187.3,1009.5 1188.3,1009.5 1189.3,1009.5 1190.3,1009.5 1191.3,1009.5 1192.4,1009.5 1193.4,1009.5 1194.4,1009.5 1195.4,1009.5 1196.4,1009.5 1197.4,1009.5 1198.4,1009.5 1199.4,1009.5 1200.4,1009.5 1201.4,1009.5 1202.4,1009.5 1203.4,1009.5 1204.4,1009.5 1205.4,1009.5 1206.4,1009.5 1207.4,1009.5 1208.4,1009.5 1209.4,1009.5 1210.4,1009.5 1211.4,1009.5 1212.4,1009.5 1213.4,1009.5 1214.4,1009.5 1215.4,1009.5 1216.4,1009.5 1217.4,1009.5 1218.4,1009.5 1219.4,1009.5 1220.4,1009.5 1221.4,1009.5 1222.4,1009.5 1223.4,1009.5 1224.4,1009.5 1225.4,1009.5 1226.4,1009.5 1227.4,1009.5 1228.4,1009.5 1229.4,1009.5 1230.4,1009.5 1231.4,1009.5 1232.4,1009.5 1233.4,1009.5 1234.4,1009.5 1235.4,1009.5 1236.4,1009.5 1237.4,1009.5 1238.4,1009.5 1239.4,1009.5 1240.4,1009.5 1241.4,1009.5 1242.4,1009.5 1243.4,1009.5 1244.4,1009.5 1245.4,1009.5 1246.4,1009.5 1247.4,1009.5 1248.4,1009.5 1249.4,1009.5 1250.4,1009.5 1251.4,1009.5 1252.4,1009.5 1253.4,1009.5 1254.4,1009.5 1255.4,1009.5 1256.4,1009.5 1257.4,1009.5 1258.4,1009.5 1259.4,1009.5 1260.4,1009.5 1261.4,1009.5 1262.4,1009.5 1263.4,1009.5 1264.4,1009.5 1265.4,1009.5 1266.4,1009.5 1267.4,1009.5 1268.4,1009.5 1269.4,1009.5 1270.4,1009.5 1271.4,1009.5 1272.4,1009.5 1273.4,1009.5 1274.4,1009.5 1275.4,1009.5 1276.4,1009.5 1277.4,1009.5 1278.4,1009.5 1279.4,1009.5 1280.4,1009.5 1281.4,1009.5 1282.4,1009.5 1283.4,1009.5 1284.4,1009.5 1285.4,1009.5 1286.4,1009.5 1287.4,1009.5 1288.4,1009.5 1289.4,1009.5 1290.5,1009.5 1291.5,1009.5 1292.5,1009.5 1293.5,1009.5 1294.5,1009.5 1295.5,1009.5 1296.5,1009.5 1297.5,1009.5 1298.5,1009.5 1299.5,1009.5 1300.5,1009.5 1301.5,1009.5 1302.5,1009.5 1303.5,1009.5 1304.5,1009.5 1305.5,1009.5 1306.5,1009.5 1307.5,1009.5 1308.5,1009.5 1309.5,1009.5 1310.5,1009.5 1311.5,1009.5 1312.5,1009.5 1313.5,1009.5 1314.5,1009.5 1315.5,1009.5 1316.5,1009.5 1317.5,1009.5 1318.5,1009.5 1319.5,1009.5 1320.5,1009.5 1321.5,1009.5 1322.5,1009.5 1323.5,1009.5 1324.5,1009.5 1325.5,1009.5 1326.5,1009.5 1327.5,1009.5 1328.5,1009.5 1329.5,1009.5 1330.5,1009.5 1331.5,1009.5 1332.5,1009.5 1333.5,1009.5 1334.5,1009.5 1335.5,1009.5 1336.5,1009.5 1337.5,1009.5 1338.5,1009.5 1339.5,1009.5 1340.5,1009.5 1341.5,1009.5 1342.5,1009.5 1343.5,1009.5 1344.5,1009.5 1345.5,1009.5 1346.5,1009.5 1347.5,1009.5 1348.5,1009.5 1349.5,1009.5 1350.5,1009.5 1351.5,1009.5 1352.5,1009.5 1353.5,1009.5 1354.5,1009.5 1355.5,1009.5 1356.5,1009.5 1357.5,1009.5 1358.5,1009.5 1359.5,1009.5 1360.5,1009.5 1361.5,1009.5 1362.5,1009.5 1363.5,1009.5 1364.5,1009.5 1365.5,1009.5 1366.5,1009.5 1367.5,1009.5 1368.5,1009.5 1369.5,1009.5 1370.5,1009.5 1371.5,1009.5 1372.5,1009.5 1373.5,1009.5 1374.5,1009.5 1375.5,1009.5 1376.5,1009.5 1377.5,1009.5 1378.5,1009.5 1379.5,1009.5 1380.5,1009.5 1381.5,1009.5 1382.5,1009.5 1383.5,1009.5 1384.5,1009.5 1385.5,1009.5 1386.5,1009.5 1387.5,1009.5 1388.6,1009.5 1389.6,1009.5 1390.6,1009.5 1391.6,1009.5 1392.6,1009.5 1393.6,1009.5 1394.6,1009.5 1395.6,1009.5 1396.6,1009.5 1397.6,1009.5 1398.6,1009.5 1399.6,1009.5 1400.6,1009.5 1401.6,1009.5 1402.6,1009.5 1403.6,1009.5 1404.6,1009.5 1405.6,1009.5 1406.6,1009.5 1407.6,1009.5 1408.6,1009.5 1409.6,1009.5 1410.6,1009.5 1411.6,1009.5 1412.6,1009.5 1413.6,1009.5 1414.6,1009.5 1415.6,1009.5 1416.6,1009.5 1417.6,1009.5 1418.6,1009.5 1419.6,1009.5 1420.6,1009.5 1421.6,1009.5 1422.6,1009.5 1423.6,1009.5 1424.6,1009.5 1425.6,1009.5 1426.6,1009.5 1427.6,1009.5 1428.6,1009.5 1429.6,1009.5 1430.6,1009.5 1431.6,1009.5 1432.6,1009.5 1433.6,1009.5 1434.6,1009.5 1435.6,1009.5 1436.6,1009.5" fill="none" stroke="#0000ff" stroke-width="3.8" stroke-linejoin="round" stroke-linecap="round"/>
<polyline points="946.1,1009.5 947.1,1009.5 948.1,1009.5 949.1,1009.5 950.1,1009.5 951.1,1009.5 952.1,1009.5 953.1,1009.5 954.1,1009.5 955.1,1009.5 956.1,1009.5 957.1,1009.5 958.1,1009.5 959.1,1009.5 960.1,1009.5 961.1,1009.5 962.1,1009.5 963.1,1009.5 964.1,1009.5 965.1,1009.5 966.1,1009.5 967.1,1009.5 968.1,1009.5 969.1,1009.5 970.1,1009.5 971.1,1009.5 972.1,1009.5 973.1,1009.5 974.1,1009.5 975.1,1009.5 976.1,1009.5 977.1,1009.5 978.1,1009.5 979.1,1009.5 980.1,1009.5 981.1,1009.5 982.1,1009.5 983.1,1009.5 984.1,1009.5 985.1,1009.5 986.1,1009.5 987.1,1009.5 988.1,1009.5 989.1,1009.5 990.1,1009.5 991.1,1009.5 992.1,1009.5 993.1,1009.5 994.1,1009.5 995.1,1009.5 996.2,1009.5 997.2,1009.5 998.2,1009.5 999.2,1009.5 1000.2,1009.5 1001.2,1009.5 1002.2,1009.5 1003.2,1009.5 1004.2,1009.5 1005.2,1009.5 1006.2,1009.5 1007.2,1009.5 1008.2,1009.5 1009.2,1009.5 1010.2,1009.5 1011.2,1009.5 1012.2,1009.5 1013.2,1009.5 1014.2,1009.5 1015.2,1009.5 1016.2,1009.5 1017.2,1009.5 1018.2,1009.5 1019.2,1009.5 1020.2,1009.5 1021.2,1009.5 1022.2,1009.5 1023.2,1009.5 1024.2,1009.5 1025.2,1009.5 1026.2,1009.5 1027.2,1009.5 1028.2,1009.5 1029.2,1009.5 1030.2,1009.5 1031.2,1009.5 1032.2,1009.5 1033.2,1009.5 1034.2,1009.5 1035.2,1009.5 1036.2,1009.5 1037.2,1009.5 1038.2,1009.5 1039.2,1009.5 1040.2,1009.5 1041.2,1009.5 1042.2,1009.5 1043.2,1009.5 1044.2,1009.5 1045.2,1009.5 1046.2,1009.5 1047.2,1009.5 1048.2,1009.5 1049.2,1009.5 1050.2,1009.5 1051.2,1009.5 1052.2,1009.5 1053.2,1009.5 1054.2,1009.5 1055.2,1009.5 1056.2,1009.5 1057.2,1009.5 1058.2,1009.5 1059.2,1009.5 1060.2,1009.5 1061.2,1009.5 1062.2,1009.5 1063.2,1009.5 1064.2,1009.5 1065.2,1009.5 1066.2,1009.5 1067.2,1009.4 1068.2,1009.4 1069.2,1009.4 1070.2,1009.4 1071.2,1009.3 1072.2,1009.3 1073.2,1009.2 1074.2,1009.1 1075.2,1009.0 1076.2,1008.8 1077.2,1008.6 1078.2,1008.4 1079.2,1008.1 1080.2,1007.8 1081.2,1007.4 1082.2,1006.9 1083.2,1006.3 1084.2,1005.5 1085.2,1004.7 1086.2,1003.6 1087.2,1002.4 1088.2,1001.0 1089.2,999.3 1090.2,997.4 1091.2,995.2 1092.2,992.7 1093.2,989.9 1094.3,986.6 1095.3,983.0 1096.3,979.0 1097.3,974.6 1098.3,969.7 1099.3,964.4 1100.3,958.6 1101.3,952.4 1102.3,945.8 1103.3,938.7 1104.3,931.3 1105.3,923.6 1106.3,915.5 1107.3,907.3 1108.3,898.9 1109.3,890.4 1110.3,882.0 1111.3,873.6 1112.3,865.5 1113.3,857.7 1114.3,850.2 1115.3,843.3 1116.3,836.9 1117.3,831.3 1118.3,826.4 1119.3,822.3 1120.3,819.2 1121.3,817.0 1122.3,815.8 1123.3,815.5 1124.3,816.3 1125.3,818.1 1126.3,820.8 1127.3,824.5 1128.3,829.0 1129.3,834.4 1130.3,840.4 1131.3,847.1 1132.3,854.3 1133.3,862.0 1134.3,870.0 1135.3,878.3 1136.3,886.7 1137.3,895.2 1138.3,903.6 1139.3,911.9 1140.3,920.1 1141.3,927.9 1142.3,935.5 1143.3,942.7 1144.3,949.5 1145.3,956.0 1146.3,961.9 1147.3,967.4 1148.3,972.5 1149.3,977.1 1150.3,981.3 1151.3,985.1 1152.3,988.5 1153.3,991.5 1154.3,994.2 1155.3,996.5 1156.3,998.5 1157.3,1000.3 1158.3,1001.8 1159.3,1003.1 1160.3,1004.2 1161.3,1005.2 1162.3,1006.0 1163.3,1006.6 1164.3,1007.2 1165.3,1007.6 1166.3,1008.0 1167.3,1008.3 1168.3,1008.5 1169.3,1008.7 1170.3,1008.9 1171.3,1009.0 1172.3,1009.1 1173.3,1009.2 1174.3,1009.3 1175.3,1009.3 1176.3,1009.4 1177.3,1009.4 1178.3,1009.4 1179.3,1009.4 1180.3,1009.5 1181.3,1009.5 1182.3,1009.5 1183.3,1009.5 1184.3,1009.5 1185.3,1009.5 1186.3,1009.5 1187.3,1009.5 1188.3,1009.5 1189.3,1009.5 1190.3,1009.5 1191.3,1009.5 1192.4,1009.5 1193.4,1009.5 1194.4,1009.5 1195.4,1009.5 1196.4,1009.5 1197.4,1009.5 1198.4,1009.5 1199.4,1009.5 1200.4,1009.5 1201.4,1009.5 1202.4,1009.5 1203.4,1009.5 1204.4,1009.5 1205.4,1009.5 1206.4,1009.5 1207.4,1009.5 1208.4,1009.5 1209.4,1009.5 1210.4,1009.5 1211.4,1009.5 1212.4,1009.5 1213.4,1009.5 1214.4,1009.5 1215.4,1009.5 1216.4,1009.5 1217.4,1009.5 1218.4,1009.5 1219.4,1009.5 1220.4,1009.5 1221.4,1009.5 1222.4,1009.5 1223.4,1009.5 1224.4,1009.5 1225.4,1009.5 1226.4,1009.5 1227.4,1009.5 1228.4,1009.5 1229.4,1009.5 1230.4,1009.5 1231.4,1009.5 1232.4,1009.5 1233.4,1009.5 1234.4,1009.5 1235.4,1009.5 1236.4,1009.5 1237.4,1009.5 1238.4,1009.5 1239.4,1009.5 1240.4,1009.5 1241.4,1009.5 1242.4,1009.5 1243.4,1009.5 1244.4,1009.5 1245.4,1009.5 1246.4,1009.5 1247.4,1009.5 1248.4,1009.5 1249.4,1009.5 1250.4,1009.5 1251.4,1009.5 1252.4,1009.5 1253.4,1009.5 1254.4,1009.5 1255.4,1009.5 1256.4,1009.5 1257.4,1009.5 1258.4,1009.5 1259.4,1009.5 1260.4,1009.5 1261.4,1009.5 1262.4,1009.5 1263.4,1009.5 1264.4,1009.5 1265.4,1009.5 1266.4,1009.5 1267.4,1009.5 1268.4,1009.5 1269.4,1009.5 1270.4,1009.5 1271.4,1009.5 1272.4,1009.5 1273.4,1009.5 1274.4,1009.5 1275.4,1009.5 1276.4,1009.5 1277.4,1009.5 1278.4,1009.5 1279.4,1009.5 1280.4,1009.5 1281.4,1009.5 1282.4,1009.5 1283.4,1009.5 1284.4,1009.5 1285.4,1009.5 1286.4,1009.5 1287.4,1009.5 1288.4,1009.5 1289.4,1009.5 1290.5,1009.5 1291.5,1009.5 1292.5,1009.5 1293.5,1009.5 1294.5,1009.5 1295.5,1009.5 1296.5,1009.5 1297.5,1009.5 1298.5,1009.5 1299.5,1009.5 1300.5,1009.5 1301.5,1009.5 1302.5,1009.5 1303.5,1009.5 1304.5,1009.5 1305.5,1009.5 1306.5,1009.5 1307.5,1009.5 1308.5,1009.5 1309.5,1009.5 1310.5,1009.5 1311.5,1009.5 1312.5,1009.5 1313.5,1009.5 1314.5,1009.5 1315.5,1009.5 1316.5,1009.5 1317.5,1009.5 1318.5,1009.5 1319.5,1009.5 1320.5,1009.5 1321.5,1009.5 1322.5,1009.5 1323.5,1009.5 1324.5,1009.5 1325.5,1009.5 1326.5,1009.5 1327.5,1009.5 1328.5,1009.5 1329.5,1009.5 1330.5,1009.5 1331.5,1009.5 1332.5,1009.5 1333.5,1009.5 1334.5,1009.5 1335.5,1009.5 1336.5,1009.5 1337.5,1009.5 1338.5,1009.5 1339.5,1009.5 1340.5,1009.5 1341.5,1009.5 1342.5,1009.5 1343.5,1009.5 1344.5,1009.5 1345.5,1009.5 1346.5,1009.5 1347.5,1009.5 1348.5,1009.5 1349.5,1009.5 1350.5,1009.5 1351.5,1009.5 1352.5,1009.5 1353.5,1009.5 1354.5,1009.5 1355.5,1009.5 1356.5,1009.5 1357.5,1009.5 1358.5,1009.5 1359.5,1009.5 1360.5,1009.5 1361.5,1009.5 1362.5,1009.5 1363.5,1009.5 1364.5,1009.5 1365.5,1009.5 1366.5,1009.5 1367.5,1009.5 1368.5,1009.5 1369.5,1009.5 1370.5,1009.5 1371.5,1009.5 1372.5,1009.5 1373.5,1009.5 1374.5,1009.5 1375.5,1009.5 1376.5,1009.5 1377.5,1009.5 1378.5,1009.5 1379.5,1009.5 1380.5,1009.5 1381.5,1009.5 1382.5,1009.5 1383.5,1009.5 1384.5,1009.5 1385.5,1009.5 1386.5,1009.5 1387.5,1009.5 1388.6,1009.5 1389.6,1009.5 1390.6,1009.5 1391.6,1009.5 1392.6,1009.5 1393.6,1009.5 1394.6,1009.5 1395.6,1009.5 1396.6,1009.5 1397.6,1009.5 1398.6,1009.5 1399.6,1009.5 1400.6,1009.5 1401.6,1009.5 1402.6,1009.5 1403.6,1009.5 1404.6,1009.5 1405.6,1009.5 1406.6,1009.5 1407.6,1009.5 1408.6,1009.5 1409.6,1009.5 1410.6,1009.5 1411.6,1009.5 1412.6,1009.5 1413.6,1009.5 1414.6,1009.5 1415.6,1009.5 1416.6,1009.5 1417.6,1009.5 1418.6,1009.5 1419.6,1009.5 1420.6,1009.5 1421.6,1009.5 1422.6,1009.5 1423.6,1009.5 1424.6,1009.5 1425.6,1009.5 1426.6,1009.5 1427.6,1009.5 1428.6,1009.5 1429.6,1009.5 1430.6,1009.5 1431.6,1009.5 1432.6,1009.5 1433.6,1009.5 1434.6,1009.5 1435.6,1009.5 1436.6,1009.5" fill="none" stroke="#ff00ff" stroke-width="3.8" stroke-linejoin="round" stroke-linecap="round"/>
<polyline points="946.1,1009.5 947.1,1009.5 948.1,1009.5 949.1,1009.5 950.1,1009.5 951.1,1009.5 952.1,1009.5 953.1,1009.5 954.1,1009.5 955.1,1009.5 956.1,1009.5 957.1,1009.5 958.1,1009.5 959.1,1009.5 960.1,1009.5 961.1,1009.5 962.1,1009.5 963.1,1009.5 964.1,1009.5 965.1,1009.5 966.1,1009.5 967.1,1009.5 968.1,1009.5 969.1,1009.5 970.1,1009.5 971.1,1009.5 972.1,1009.5 973.1,1009.5 974.1,1009.5 975.1,1009.5 976.1,1009.5 977.1,1009.5 978.1,1009.5 979.1,1009.5 980.1,1009.5 981.1,1009.5 982.1,1009.5 983.1,1009.5 984.1,1009.5 985.1,1009.5 986.1,1009.5 987.1,1009.5 988.1,1009.5 989.1,1009.5 990.1,1009.5 991.1,1009.5 992.1,1009.5 993.1,1009.5 994.1,1009.5 995.1,1009.5 996.2,1009.5 997.2,1009.5 998.2,1009.5 999.2,1009.5 1000.2,1009.5 1001.2,1009.5 1002.2,1009.5 1003.2,1009.5 1004.2,1009.5 1005.2,1009.5 1006.2,1009.5 1007.2,1009.5 1008.2,1009.5 1009.2,1009.5 1010.2,1009.5 1011.2,1009.5 1012.2,1009.5 1013.2,1009.5 1014.2,1009.5 1015.2,1009.5 1016.2,1009.5 1017.2,1009.5 1018.2,1009.5 1019.2,1009.5 1020.2,1009.5 1021.2,1009.5 1022.2,1009.5 1023.2,1009.5 1024.2,1009.5 1025.2,1009.5 1026.2,1009.5 1027.2,1009.5 1028.2,1009.5 1029.2,1009.5 1030.2,1009.5 1031.2,1009.5 1032.2,1009.5 1033.2,1009.5 1034.2,1009.5 1035.2,1009.5 1036.2,1009.5 1037.2,1009.5 1038.2,1009.5 1039.2,1009.5 1040.2,1009.5 1041.2,1009.5 1042.2,1009.5 1043.2,1009.5 1044.2,1009.5 1045.2,1009.5 1046.2,1009.5 1047.2,1009.5 1048.2,1009.5 1049.2,1009.5 1050.2,1009.5 1051.2,1009.5 1052.2,1009.5 1053.2,1009.5 1054.2,1009.5 1055.2,1009.5 1056.2,1009.5 1057.2,1009.5 1058.2,1009.5 1059.2,1009.5 1060.2,1009.5 1061.2,1009.5 1062.2,1009.5 1063.2,1009.5 1064.2,1009.5 1065.2,1009.5 1066.2,1009.5 1067.2,1009.5 1068.2,1009.5 1069.2,1009.5 1070.2,1009.5 1071.2,1009.5 1072.2,1009.5 1073.2,1009.5 1074.2,1009.5 1075.2,1009.5 1076.2,1009.5 1077.2,1009.5 1078.2,1009.5 1079.2,1009.5 1080.2,1009.5 1081.2,1009.5 1082.2,1009.5 1083.2,1009.5 1084.2,1009.5 1085.2,1009.5 1086.2,1009.5 1087.2,1009.5 1088.2,1009.5 1089.2,1009.5 1090.2,1009.5 1091.2,1009.5 1092.2,1009.5 1093.2,1009.5 1094.3,1009.5 1095.3,1009.5 1096.3,1009.5 1097.3,1009.5 1098.3,1009.5 1099.3,1009.5 1100.3,1009.5 1101.3,1009.5 1102.3,1009.5 1103.3,1009.5 1104.3,1009.5 1105.3,1009.5 1106.3,1009.5 1107.3,1009.5 1108.3,1009.5 1109.3,1009.5 1110.3,1009.5 1111.3,1009.5 1112.3,1009.5 1113.3,1009.5 1114.3,1009.5 1115.3,1009.5 1116.3,1009.5 1117.3,1009.5 1118.3,1009.5 1119.3,1009.5 1120.3,1009.5 1121.3,1009.5 1122.3,1009.5 1123.3,1009.5 1124.3,1009.5 1125.3,1009.5 1126.3,1009.5 1127.3,1009.5 1128.3,1009.5 1129.3,1009.5 1130.3,1009.5 1131.3,1009.5 1132.3,1009.5 1133.3,1009.5 1134.3,1009.5 1135.3,1009.5 1136.3,1009.5 1137.3,1009.5 1138.3,1009.5 1139.3,1009.5 1140.3,1009.5 1141.3,1009.5 1142.3,1009.5 1143.3,1009.5 1144.3,1009.5 1145.3,1009.5 1146.3,1009.5 1147.3,1009.5 1148.3,1009.5 1149.3,1009.5 1150.3,1009.5 1151.3,1009.5 1152.3,1009.5 1153.3,1009.5 1154.3,1009.4 1155.3,1009.4 1156.3,1009.4 1157.3,1009.4 1158.3,1009.3 1159.3,1009.2 1160.3,1009.2 1161.3,1009.1 1162.3,1008.9 1163.3,1008.7 1164.3,1008.5 1165.3,1008.3 1166.3,1007.9 1167.3,1007.5 1168.3,1007.0 1169.3,1006.4 1170.3,1005.6 1171.3,1004.7 1172.3,1003.5 1173.3,1002.2 1174.3,1000.6 1175.3,998.7 1176.3,996.5 1177.3,993.8 1178.3,990.8 1179.3,987.2 1180.3,983.2 1181.3,978.5 1182.3,973.3 1183.3,967.3 1184.3,960.6 1185.3,953.2 1186.3,945.0 1187.3,935.9 1188.3,926.0 1189.3,915.3 1190.3,903.7 1191.3,891.3 1192.4,878.2 1193.4,864.3 1194.4,849.9 1195.4,834.9 1196.4,819.4 1197.4,803.7 1198.4,787.8 1199.4,771.9 1200.4,756.3 1201.4,740.9 1202.4,726.2 1203.4,712.1 1204.4,699.0 1205.4,687.0 1206.4,676.2 1207.4,666.9 1208.4,659.1 1209.4,653.0 1210.4,648.6 1211.4,646.1 1212.4,645.5 1213.4,646.8 1214.4,649.9 1215.4,654.9 1216.4,661.6 1217.4,669.9 1218.4,679.7 1219.4,690.9 1220.4,703.4 1221.4,716.8 1222.4,731.1 1223.4,746.1 1224.4,761.6 1225.4,777.4 1226.4,793.3 1227.4,809.1 1228.4,824.7 1229.4,840.0 1230.4,854.9 1231.4,869.2 1232.4,882.8 1233.4,895.7 1234.4,907.8 1235.4,919.0 1236.4,929.5 1237.4,939.1 1238.4,947.9 1239.4,955.8 1240.4,963.0 1241.4,969.4 1242.4,975.1 1243.4,980.2 1244.4,984.6 1245.4,988.5 1246.4,991.9 1247.4,994.8 1248.4,997.3 1249.4,999.4 1250.4,1001.2 1251.4,1002.7 1252.4,1004.0 1253.4,1005.0 1254.4,1005.9 1255.4,1006.6 1256.4,1007.2 1257.4,1007.7 1258.4,1008.1 1259.4,1008.4 1260.4,1008.6 1261.4,1008.8 1262.4,1009.0 1263.4,1009.1 1264.4,1009.2 1265.4,1009.3 1266.4,1009.3 1267.4,1009.4 1268.4,1009.4 1269.4,1009.4 1270.4,1009.4 1271.4,1009.5 1272.4,1009.5 1273.4,1009.5 1274.4,1009.5 1275.4,1009.5 1276.4,1009.5 1277.4,1009.5 1278.4,1009.5 1279.4,1009.5 1280.4,1009.5 1281.4,1009.5 1282.4,1009.5 1283.4,1009.5 1284.4,1009.5 1285.4,1009.5 1286.4,1009.5 1287.4,1009.5 1288.4,1009.5 1289.4,1009.5 1290.5,1009.5 1291.5,1009.5 1292.5,1009.5 1293.5,1009.5 1294.5,1009.5 1295.5,1009.5 1296.5,1009.5 1297.5,1009.5 1298.5,1009.5 1299.5,1009.5 1300.5,1009.5 1301.5,1009.5 1302.5,1009.5 1303.5,1009.5 1304.5,1009.5 1305.5,1009.5 1306.5,1009.5 1307.5,1009.5 1308.5,1009.5 1309.5,1009.5 1310.5,1009.5 1311.5,1009.5 1312.5,1009.5 1313.5,1009.5 1314.5,1009.5 1315.5,1009.5 1316.5,1009.5 1317.5,1009.5 1318.5,1009.5 1319.5,1009.5 1320.5,1009.5 1321.5,1009.5 1322.5,1009.5 1323.5,1009.5 1324.5,1009.5 1325.5,1009.5 1326.5,1009.5 1327.5,1009.5 1328.5,1009.5 1329.5,1009.5 1330.5,1009.5 1331.5,1009.5 1332.5,1009.5 1333.5,1009.5 1334.5,1009.5 1335.5,1009.5 1336.5,1009.5 1337.5,1009.5 1338.5,1009.5 1339.5,1009.5 1340.5,1009.5 1341.5,1009.5 1342.5,1009.5 1343.5,1009.5 1344.5,1009.5 1345.5,1009.5 1346.5,1009.5 1347.5,1009.5 1348.5,1009.5 1349.5,1009.5 1350.5,1009.5 1351.5,1009.5 1352.5,1009.5 1353.5,1009.5 1354.5,1009.5 1355.5,1009.5 1356.5,1009.5 1357.5,1009.5 1358.5,1009.5 1359.5,1009.5 1360.5,1009.5 1361.5,1009.5 1362.5,1009.5 1363.5,1009.5 1364.5,1009.5 1365.5,1009.5 1366.5,1009.5 1367.5,1009.5 1368.5,1009.5 1369.5,1009.5 1370.5,1009.5 1371.5,1009.5 1372.5,1009.5 1373.5,1009.5 1374.5,1009.5 1375.5,1009.5 1376.5,1009.5 1377.5,1009.5 1378.5,1009.5 1379.5,1009.5 1380.5,1009.5 1381.5,1009.5 1382.5,1009.5 1383.5,1009.5 1384.5,1009.5 1385.5,1009.5 1386.5,1009.5 1387.5,1009.5 1388.6,1009.5 1389.6,1009.5 1390.6,1009.5 1391.6,1009.5 1392.6,1009.5 1393.6,1009.5 1394.6,1009.5 1395.6,1009.5 1396.6,1009.5 1397.6,1009.5 1398.6,1009.5 1399.6,1009.5 1400.6,1009.5 1401.6,1009.5 1402.6,1009.5 1403.6,1009.5 1404.6,1009.5 1405.6,1009.5 1406.6,1009.5 1407.6,1009.5 1408.6,1009.5 1409.6,1009.5 1410.6,1009.5 1411.6,1009.5 1412.6,1009.5 1413.6,1009.5 1414.6,1009.5 1415.6,1009.5 1416.6,1009.5 1417.6,1009.5 1418.6,1009.5 1419.6,1009.5 1420.6,1009.5 1421.6,1009.5 1422.6,1009.5 1423.6,1009.5 1424.6,1009.5 1425.6,1009.5 1426.6,1009.5 1427.6,1009.5 1428.6,1009.5 1429.6,1009.5 1430.6,1009.5 1431.6,1009.5 1432.6,1009.5 1433.6,1009.5 1434.6,1009.5 1435.6,1009.5 1436.6,1009.5" fill="none" stroke="#8000ff" stroke-width="3.8" stroke-linejoin="round" stroke-linecap="round"/>
<path d="M904.82 1066.1V1061.5M927.51 1066.1V1061.5M950.2 1066.1V1061.5M972.89 1066.1V1056.8M995.58 1066.1V1061.5M1018.28 1066.1V1061.5M1040.97 1066.1V1061.5M1063.66 1066.1V1061.5M1086.35 1066.1V1061.5M1109.04 1066.1V1056.8M1131.74 1066.1V1061.5M1154.43 1066.1V1061.5M1177.12 1066.1V1061.5M1199.81 1066.1V1061.5M1222.5 1066.1V1061.5M1245.2 1066.1V1056.8M1267.89 1066.1V1061.5M1290.58 1066.1V1061.5M1313.27 1066.1V1061.5M1335.96 1066.1V1061.5M1358.66 1066.1V1061.5M1381.35 1066.1V1056.8M1404.04 1066.1V1061.5M1426.73 1066.1V1061.5M1449.42 1066.1V1061.5M1472.12 1066.1V1061.5M1494.81 1066.1V1061.5M891.2 1056.65H895.8M891.2 1047.19H895.8M891.2 1037.74H895.8M891.2 1028.29H895.8M891.2 1018.84H895.8M891.2 1009.38H900.5M891.2 999.93H895.8M891.2 990.48H895.8M891.2 981.02H895.8M891.2 971.57H895.8M891.2 962.12H895.8M891.2 952.66H900.5M891.2 943.21H895.8M891.2 933.76H895.8M891.2 924.31H895.8M891.2 914.85H895.8M891.2 905.4H895.8M891.2 895.95H900.5M891.2 886.49H895.8M891.2 877.04H895.8M891.2 867.59H895.8M891.2 858.14H895.8M891.2 848.68H895.8M891.2 839.23H900.5M891.2 829.78H895.8M891.2 820.32H895.8M891.2 810.87H895.8M891.2 801.42H895.8M891.2 791.96H895.8M891.2 782.51H900.5M891.2 773.06H895.8M891.2 763.61H895.8M891.2 754.15H895.8M891.2 744.7H895.8M891.2 735.25H895.8M891.2 725.79H900.5M891.2 716.34H895.8M891.2 706.89H895.8M891.2 697.44H895.8M891.2 687.98H895.8M891.2 678.53H895.8M891.2 669.08H900.5M891.2 659.62H895.8M891.2 650.17H895.8M891.2 640.72H895.8M891.2 631.26H895.8M891.2 621.81H895.8M891.2 612.36H900.5M891.2 602.91H895.8M891.2 593.45H895.8" stroke="#000" stroke-width="2.3" stroke-linecap="round" fill="none"/>
<rect x="891.2" y="584" width="626.3" height="482.1" fill="none" stroke="#000" stroke-width="2.3"/>
<text x="821.64" y="1073.05" font-size="23.87" fill="#000" textLength="55.72" lengthAdjust="spacingAndGlyphs">-2000</text>
<text x="866.93" y="1016.33" font-size="23.87" fill="#000" textLength="12.45" lengthAdjust="spacingAndGlyphs">0</text>
<text x="828.09" y="959.61" font-size="23.87" fill="#000" textLength="49.29" lengthAdjust="spacingAndGlyphs">2000</text>
<text x="828.70" y="902.90" font-size="23.87" fill="#000" textLength="48.67" lengthAdjust="spacingAndGlyphs">4000</text>
<text x="828.07" y="846.18" font-size="23.87" fill="#000" textLength="49.31" lengthAdjust="spacingAndGlyphs">6000</text>
<text x="828.25" y="789.46" font-size="23.87" fill="#000" textLength="49.12" lengthAdjust="spacingAndGlyphs">8000</text>
<text x="815.61" y="732.74" font-size="23.87" fill="#000" textLength="61.75" lengthAdjust="spacingAndGlyphs">10000</text>
<text x="815.61" y="676.03" font-size="23.87" fill="#000" textLength="61.75" lengthAdjust="spacingAndGlyphs">12000</text>
<text x="815.61" y="619.31" font-size="23.87" fill="#000" textLength="61.75" lengthAdjust="spacingAndGlyphs">14000</text>
<text x="952.78" y="1096.40" font-size="23.16" fill="#000" textLength="37.41" lengthAdjust="spacingAndGlyphs">280</text>
<text x="1085.93" y="1096.40" font-size="23.16" fill="#000" textLength="37.48" lengthAdjust="spacingAndGlyphs">285</text>
<text x="1219.08" y="1096.40" font-size="23.16" fill="#000" textLength="37.41" lengthAdjust="spacingAndGlyphs">290</text>
<text x="1352.23" y="1096.40" font-size="23.16" fill="#000" textLength="37.48" lengthAdjust="spacingAndGlyphs">295</text>
<text x="1485.65" y="1096.40" font-size="23.16" fill="#000" textLength="37.12" lengthAdjust="spacingAndGlyphs">300</text>
<text x="1112.53" y="1133.60" font-size="27.18" fill="#000" textLength="226.25" lengthAdjust="spacingAndGlyphs">Binding Energy (eV)</text>
<text transform="translate(801.10 846.00) rotate(-90)" x="-74.87" y="0" font-size="26.98" textLength="150.04" lengthAdjust="spacingAndGlyphs">Counts (a.u.)</text>
<text x="1442.25" y="636.58" font-size="40.02" fill="#000" textLength="52.20" lengthAdjust="spacingAndGlyphs">(d)</text>
<text x="906.11" y="621.10" font-size="27.82" fill="#000" textLength="41.65" lengthAdjust="spacingAndGlyphs">C1s</text>
<text x="1320.81" y="683.80" font-size="22.60" fill="#ff0000" textLength="79.94" lengthAdjust="spacingAndGlyphs">Original</text>
<text x="1320.92" y="714.70" font-size="22.60" fill="#00ff00" textLength="91.72" lengthAdjust="spacingAndGlyphs">Sum of fit</text>
<text x="1320.90" y="744.70" font-size="22.60" fill="#0000ff" textLength="34.85" lengthAdjust="spacingAndGlyphs">C-C</text>
<text x="1320.66" y="773.60" font-size="22.60" fill="#ff00ff" textLength="60.00" lengthAdjust="spacingAndGlyphs">ROCO</text>
<text x="1391.99" y="779.10" font-size="14.83" fill="#ff00ff" textLength="7.93" lengthAdjust="spacingAndGlyphs">2</text>
<text x="1399.88" y="773.60" font-size="22.60" fill="#ff00ff" textLength="18.19" lengthAdjust="spacingAndGlyphs">Li</text>
<text x="1320.47" y="802.00" font-size="22.60" fill="#6c00d8" textLength="17.32" lengthAdjust="spacingAndGlyphs">Li</text>
<text x="1341.85" y="807.80" font-size="14.83" fill="#6c00d8" textLength="8.29" lengthAdjust="spacingAndGlyphs">2</text>
<text x="1350.77" y="802.00" font-size="22.60" fill="#6c00d8" textLength="30.30" lengthAdjust="spacingAndGlyphs">CO</text>
<text x="1386.38" y="807.80" font-size="14.83" fill="#6c00d8" textLength="7.63" lengthAdjust="spacingAndGlyphs">3</text>
<text x="1398.56" y="802.00" font-size="22.60" fill="#6c00d8" textLength="37.49" lengthAdjust="spacingAndGlyphs">and</text>
<text x="1439.32" y="802.00" font-size="22.60" fill="#6c00d8" textLength="25.65" lengthAdjust="spacingAndGlyphs">CF</text>
<text x="1477.38" y="807.80" font-size="14.83" fill="#6c00d8" textLength="7.63" lengthAdjust="spacingAndGlyphs">3</text>
<path d="M178.9 1601.0a5.8 5.8 0 1 0 11.6 0a5.8 5.8 0 1 0 -11.6 0M181.5 1600.0a5.8 5.8 0 1 0 11.6 0a5.8 5.8 0 1 0 -11.6 0M184.0 1599.2a5.8 5.8 0 1 0 11.6 0a5.8 5.8 0 1 0 -11.6 0M186.6 1598.6a5.8 5.8 0 1 0 11.6 0a5.8 5.8 0 1 0 -11.6 0M189.1 1598.2a5.8 5.8 0 1 0 11.6 0a5.8 5.8 0 1 0 -11.6 0M191.7 1597.9a5.8 5.8 0 1 0 11.6 0a5.8 5.8 0 1 0 -11.6 0M194.2 1597.8a5.8 5.8 0 1 0 11.6 0a5.8 5.8 0 1 0 -11.6 0M196.8 1598.2a5.8 5.8 0 1 0 11.6 0a5.8 5.8 0 1 0 -11.6 0M199.3 1598.9a5.8 5.8 0 1 0 11.6 0a5.8 5.8 0 1 0 -11.6 0M201.9 1599.7a5.8 5.8 0 1 0 11.6 0a5.8 5.8 0 1 0 -11.6 0M204.5 1600.9a5.8 5.8 0 1 0 11.6 0a5.8 5.8 0 1 0 -11.6 0M207.0 1602.3a5.8 5.8 0 1 0 11.6 0a5.8 5.8 0 1 0 -11.6 0M209.6 1604.0a5.8 5.8 0 1 0 11.6 0a5.8 5.8 0 1 0 -11.6 0M212.1 1606.3a5.8 5.8 0 1 0 11.6 0a5.8 5.8 0 1 0 -11.6 0M214.7 1608.0a5.8 5.8 0 1 0 11.6 0a5.8 5.8 0 1 0 -11.6 0M217.2 1608.4a5.8 5.8 0 1 0 11.6 0a5.8 5.8 0 1 0 -11.6 0M219.8 1608.6a5.8 5.8 0 1 0 11.6 0a5.8 5.8 0 1 0 -11.6 0M222.3 1608.7a5.8 5.8 0 1 0 11.6 0a5.8 5.8 0 1 0 -11.6 0M224.9 1608.8a5.8 5.8 0 1 0 11.6 0a5.8 5.8 0 1 0 -11.6 0M227.5 1608.8a5.8 5.8 0 1 0 11.6 0a5.8 5.8 0 1 0 -11.6 0M230.0 1608.8a5.8 5.8 0 1 0 11.6 0a5.8 5.8 0 1 0 -11.6 0M232.6 1608.8a5.8 5.8 0 1 0 11.6 0a5.8 5.8 0 1 0 -11.6 0M235.1 1608.8a5.8 5.8 0 1 0 11.6 0a5.8 5.8 0 1 0 -11.6 0M237.7 1608.8a5.8 5.8 0 1 0 11.6 0a5.8 5.8 0 1 0 -11.6 0M240.2 1608.8a5.8 5.8 0 1 0 11.6 0a5.8 5.8 0 1 0 -11.6 0M242.8 1608.8a5.8 5.8 0 1 0 11.6 0a5.8 5.8 0 1 0 -11.6 0M245.3 1608.8a5.8 5.8 0 1 0 11.6 0a5.8 5.8 0 1 0 -11.6 0M247.9 1608.8a5.8 5.8 0 1 0 11.6 0a5.8 5.8 0 1 0 -11.6 0M250.5 1608.8a5.8 5.8 0 1 0 11.6 0a5.8 5.8 0 1 0 -11.6 0M253.0 1608.8a5.8 5.8 0 1 0 11.6 0a5.8 5.8 0 1 0 -11.6 0M255.6 1608.8a5.8 5.8 0 1 0 11.6 0a5.8 5.8 0 1 0 -11.6 0M258.1 1608.8a5.8 5.8 0 1 0 11.6 0a5.8 5.8 0 1 0 -11.6 0M260.7 1608.7a5.8 5.8 0 1 0 11.6 0a5.8 5.8 0 1 0 -11.6 0M263.2 1608.3a5.8 5.8 0 1 0 11.6 0a5.8 5.8 0 1 0 -11.6 0M265.8 1607.6a5.8 5.8 0 1 0 11.6 0a5.8 5.8 0 1 0 -11.6 0M268.3 1606.6a5.8 5.8 0 1 0 11.6 0a5.8 5.8 0 1 0 -11.6 0M270.9 1604.0a5.8 5.8 0 1 0 11.6 0a5.8 5.8 0 1 0 -11.6 0M273.5 1600.2a5.8 5.8 0 1 0 11.6 0a5.8 5.8 0 1 0 -11.6 0M276.0 1597.2a5.8 5.8 0 1 0 11.6 0a5.8 5.8 0 1 0 -11.6 0M278.6 1594.5a5.8 5.8 0 1 0 11.6 0a5.8 5.8 0 1 0 -11.6 0M281.1 1592.4a5.8 5.8 0 1 0 11.6 0a5.8 5.8 0 1 0 -11.6 0M283.7 1590.6a5.8 5.8 0 1 0 11.6 0a5.8 5.8 0 1 0 -11.6 0M286.2 1589.1a5.8 5.8 0 1 0 11.6 0a5.8 5.8 0 1 0 -11.6 0M288.8 1588.3a5.8 5.8 0 1 0 11.6 0a5.8 5.8 0 1 0 -11.6 0M291.3 1587.7a5.8 5.8 0 1 0 11.6 0a5.8 5.8 0 1 0 -11.6 0M293.9 1587.4a5.8 5.8 0 1 0 11.6 0a5.8 5.8 0 1 0 -11.6 0M296.5 1587.5a5.8 5.8 0 1 0 11.6 0a5.8 5.8 0 1 0 -11.6 0M299.0 1588.8a5.8 5.8 0 1 0 11.6 0a5.8 5.8 0 1 0 -11.6 0M301.6 1589.4a5.8 5.8 0 1 0 11.6 0a5.8 5.8 0 1 0 -11.6 0M304.1 1589.2a5.8 5.8 0 1 0 11.6 0a5.8 5.8 0 1 0 -11.6 0M306.7 1588.5a5.8 5.8 0 1 0 11.6 0a5.8 5.8 0 1 0 -11.6 0M309.2 1580.3a5.8 5.8 0 1 0 11.6 0a5.8 5.8 0 1 0 -11.6 0M311.8 1569.9a5.8 5.8 0 1 0 11.6 0a5.8 5.8 0 1 0 -11.6 0M314.3 1554.7a5.8 5.8 0 1 0 11.6 0a5.8 5.8 0 1 0 -11.6 0M316.9 1532.9a5.8 5.8 0 1 0 11.6 0a5.8 5.8 0 1 0 -11.6 0M319.5 1511.1a5.8 5.8 0 1 0 11.6 0a5.8 5.8 0 1 0 -11.6 0M322.0 1489.4a5.8 5.8 0 1 0 11.6 0a5.8 5.8 0 1 0 -11.6 0M324.6 1465.9a5.8 5.8 0 1 0 11.6 0a5.8 5.8 0 1 0 -11.6 0M327.1 1448.6a5.8 5.8 0 1 0 11.6 0a5.8 5.8 0 1 0 -11.6 0M329.7 1425.9a5.8 5.8 0 1 0 11.6 0a5.8 5.8 0 1 0 -11.6 0M332.2 1406.6a5.8 5.8 0 1 0 11.6 0a5.8 5.8 0 1 0 -11.6 0M334.8 1387.5a5.8 5.8 0 1 0 11.6 0a5.8 5.8 0 1 0 -11.6 0M337.3 1368.5a5.8 5.8 0 1 0 11.6 0a5.8 5.8 0 1 0 -11.6 0M339.9 1349.1a5.8 5.8 0 1 0 11.6 0a5.8 5.8 0 1 0 -11.6 0M342.5 1326.5a5.8 5.8 0 1 0 11.6 0a5.8 5.8 0 1 0 -11.6 0M345.0 1313.7a5.8 5.8 0 1 0 11.6 0a5.8 5.8 0 1 0 -11.6 0M347.6 1307.9a5.8 5.8 0 1 0 11.6 0a5.8 5.8 0 1 0 -11.6 0M350.1 1313.3a5.8 5.8 0 1 0 11.6 0a5.8 5.8 0 1 0 -11.6 0M352.7 1327.1a5.8 5.8 0 1 0 11.6 0a5.8 5.8 0 1 0 -11.6 0M355.2 1344.1a5.8 5.8 0 1 0 11.6 0a5.8 5.8 0 1 0 -11.6 0M357.8 1364.3a5.8 5.8 0 1 0 11.6 0a5.8 5.8 0 1 0 -11.6 0M360.3 1394.3a5.8 5.8 0 1 0 11.6 0a5.8 5.8 0 1 0 -11.6 0M362.9 1423.3a5.8 5.8 0 1 0 11.6 0a5.8 5.8 0 1 0 -11.6 0M365.5 1449.2a5.8 5.8 0 1 0 11.6 0a5.8 5.8 0 1 0 -11.6 0M368.0 1485.6a5.8 5.8 0 1 0 11.6 0a5.8 5.8 0 1 0 -11.6 0M370.6 1506.1a5.8 5.8 0 1 0 11.6 0a5.8 5.8 0 1 0 -11.6 0M373.1 1529.2a5.8 5.8 0 1 0 11.6 0a5.8 5.8 0 1 0 -11.6 0M375.7 1548.0a5.8 5.8 0 1 0 11.6 0a5.8 5.8 0 1 0 -11.6 0M378.2 1561.0a5.8 5.8 0 1 0 11.6 0a5.8 5.8 0 1 0 -11.6 0M380.8 1569.8a5.8 5.8 0 1 0 11.6 0a5.8 5.8 0 1 0 -11.6 0M383.3 1565.8a5.8 5.8 0 1 0 11.6 0a5.8 5.8 0 1 0 -11.6 0M385.9 1551.6a5.8 5.8 0 1 0 11.6 0a5.8 5.8 0 1 0 -11.6 0M388.5 1528.6a5.8 5.8 0 1 0 11.6 0a5.8 5.8 0 1 0 -11.6 0M391.0 1509.5a5.8 5.8 0 1 0 11.6 0a5.8 5.8 0 1 0 -11.6 0M393.6 1494.8a5.8 5.8 0 1 0 11.6 0a5.8 5.8 0 1 0 -11.6 0M396.1 1481.4a5.8 5.8 0 1 0 11.6 0a5.8 5.8 0 1 0 -11.6 0M398.7 1462.1a5.8 5.8 0 1 0 11.6 0a5.8 5.8 0 1 0 -11.6 0M401.2 1448.5a5.8 5.8 0 1 0 11.6 0a5.8 5.8 0 1 0 -11.6 0M403.8 1441.6a5.8 5.8 0 1 0 11.6 0a5.8 5.8 0 1 0 -11.6 0M406.3 1438.0a5.8 5.8 0 1 0 11.6 0a5.8 5.8 0 1 0 -11.6 0M408.9 1438.3a5.8 5.8 0 1 0 11.6 0a5.8 5.8 0 1 0 -11.6 0M411.5 1440.9a5.8 5.8 0 1 0 11.6 0a5.8 5.8 0 1 0 -11.6 0M414.0 1446.7a5.8 5.8 0 1 0 11.6 0a5.8 5.8 0 1 0 -11.6 0M416.6 1452.5a5.8 5.8 0 1 0 11.6 0a5.8 5.8 0 1 0 -11.6 0M419.1 1459.4a5.8 5.8 0 1 0 11.6 0a5.8 5.8 0 1 0 -11.6 0M421.7 1467.9a5.8 5.8 0 1 0 11.6 0a5.8 5.8 0 1 0 -11.6 0M424.2 1476.9a5.8 5.8 0 1 0 11.6 0a5.8 5.8 0 1 0 -11.6 0M426.8 1487.1a5.8 5.8 0 1 0 11.6 0a5.8 5.8 0 1 0 -11.6 0M429.3 1497.7a5.8 5.8 0 1 0 11.6 0a5.8 5.8 0 1 0 -11.6 0M431.9 1508.0a5.8 5.8 0 1 0 11.6 0a5.8 5.8 0 1 0 -11.6 0M434.4 1517.5a5.8 5.8 0 1 0 11.6 0a5.8 5.8 0 1 0 -11.6 0M437.0 1527.4a5.8 5.8 0 1 0 11.6 0a5.8 5.8 0 1 0 -11.6 0M439.6 1541.1a5.8 5.8 0 1 0 11.6 0a5.8 5.8 0 1 0 -11.6 0M442.1 1553.4a5.8 5.8 0 1 0 11.6 0a5.8 5.8 0 1 0 -11.6 0M444.7 1566.3a5.8 5.8 0 1 0 11.6 0a5.8 5.8 0 1 0 -11.6 0M447.2 1575.9a5.8 5.8 0 1 0 11.6 0a5.8 5.8 0 1 0 -11.6 0M449.8 1583.5a5.8 5.8 0 1 0 11.6 0a5.8 5.8 0 1 0 -11.6 0M452.3 1588.0a5.8 5.8 0 1 0 11.6 0a5.8 5.8 0 1 0 -11.6 0M454.9 1590.9a5.8 5.8 0 1 0 11.6 0a5.8 5.8 0 1 0 -11.6 0M457.4 1593.1a5.8 5.8 0 1 0 11.6 0a5.8 5.8 0 1 0 -11.6 0M460.0 1594.8a5.8 5.8 0 1 0 11.6 0a5.8 5.8 0 1 0 -11.6 0M462.6 1596.1a5.8 5.8 0 1 0 11.6 0a5.8 5.8 0 1 0 -11.6 0M465.1 1597.2a5.8 5.8 0 1 0 11.6 0a5.8 5.8 0 1 0 -11.6 0M467.7 1598.1a5.8 5.8 0 1 0 11.6 0a5.8 5.8 0 1 0 -11.6 0M470.2 1598.8a5.8 5.8 0 1 0 11.6 0a5.8 5.8 0 1 0 -11.6 0M472.8 1599.2a5.8 5.8 0 1 0 11.6 0a5.8 5.8 0 1 0 -11.6 0M475.3 1599.5a5.8 5.8 0 1 0 11.6 0a5.8 5.8 0 1 0 -11.6 0M477.9 1599.8a5.8 5.8 0 1 0 11.6 0a5.8 5.8 0 1 0 -11.6 0M480.4 1599.9a5.8 5.8 0 1 0 11.6 0a5.8 5.8 0 1 0 -11.6 0M483.0 1600.1a5.8 5.8 0 1 0 11.6 0a5.8 5.8 0 1 0 -11.6 0M485.6 1600.1a5.8 5.8 0 1 0 11.6 0a5.8 5.8 0 1 0 -11.6 0M488.1 1599.7a5.8 5.8 0 1 0 11.6 0a5.8 5.8 0 1 0 -11.6 0M490.7 1598.9a5.8 5.8 0 1 0 11.6 0a5.8 5.8 0 1 0 -11.6 0M493.2 1598.1a5.8 5.8 0 1 0 11.6 0a5.8 5.8 0 1 0 -11.6 0M495.8 1597.6a5.8 5.8 0 1 0 11.6 0a5.8 5.8 0 1 0 -11.6 0M498.3 1597.3a5.8 5.8 0 1 0 11.6 0a5.8 5.8 0 1 0 -11.6 0M500.9 1597.1a5.8 5.8 0 1 0 11.6 0a5.8 5.8 0 1 0 -11.6 0M503.4 1596.9a5.8 5.8 0 1 0 11.6 0a5.8 5.8 0 1 0 -11.6 0M506.0 1596.7a5.8 5.8 0 1 0 11.6 0a5.8 5.8 0 1 0 -11.6 0M508.6 1596.0a5.8 5.8 0 1 0 11.6 0a5.8 5.8 0 1 0 -11.6 0M511.1 1595.1a5.8 5.8 0 1 0 11.6 0a5.8 5.8 0 1 0 -11.6 0M513.7 1594.4a5.8 5.8 0 1 0 11.6 0a5.8 5.8 0 1 0 -11.6 0M516.2 1594.1a5.8 5.8 0 1 0 11.6 0a5.8 5.8 0 1 0 -11.6 0M518.8 1594.6a5.8 5.8 0 1 0 11.6 0a5.8 5.8 0 1 0 -11.6 0M521.3 1595.5a5.8 5.8 0 1 0 11.6 0a5.8 5.8 0 1 0 -11.6 0M523.9 1596.7a5.8 5.8 0 1 0 11.6 0a5.8 5.8 0 1 0 -11.6 0M526.4 1597.7a5.8 5.8 0 1 0 11.6 0a5.8 5.8 0 1 0 -11.6 0M529.0 1598.9a5.8 5.8 0 1 0 11.6 0a5.8 5.8 0 1 0 -11.6 0M531.6 1600.1a5.8 5.8 0 1 0 11.6 0a5.8 5.8 0 1 0 -11.6 0M534.1 1601.2a5.8 5.8 0 1 0 11.6 0a5.8 5.8 0 1 0 -11.6 0M536.7 1601.8a5.8 5.8 0 1 0 11.6 0a5.8 5.8 0 1 0 -11.6 0M539.2 1602.2a5.8 5.8 0 1 0 11.6 0a5.8 5.8 0 1 0 -11.6 0M541.8 1602.5a5.8 5.8 0 1 0 11.6 0a5.8 5.8 0 1 0 -11.6 0M544.3 1602.7a5.8 5.8 0 1 0 11.6 0a5.8 5.8 0 1 0 -11.6 0M546.9 1602.9a5.8 5.8 0 1 0 11.6 0a5.8 5.8 0 1 0 -11.6 0M549.4 1603.1a5.8 5.8 0 1 0 11.6 0a5.8 5.8 0 1 0 -11.6 0M552.0 1603.3a5.8 5.8 0 1 0 11.6 0a5.8 5.8 0 1 0 -11.6 0M554.6 1603.5a5.8 5.8 0 1 0 11.6 0a5.8 5.8 0 1 0 -11.6 0M557.1 1603.7a5.8 5.8 0 1 0 11.6 0a5.8 5.8 0 1 0 -11.6 0M559.7 1603.9a5.8 5.8 0 1 0 11.6 0a5.8 5.8 0 1 0 -11.6 0M562.2 1604.1a5.8 5.8 0 1 0 11.6 0a5.8 5.8 0 1 0 -11.6 0M564.8 1604.3a5.8 5.8 0 1 0 11.6 0a5.8 5.8 0 1 0 -11.6 0M567.3 1604.5a5.8 5.8 0 1 0 11.6 0a5.8 5.8 0 1 0 -11.6 0M569.9 1604.7a5.8 5.8 0 1 0 11.6 0a5.8 5.8 0 1 0 -11.6 0M572.4 1604.9a5.8 5.8 0 1 0 11.6 0a5.8 5.8 0 1 0 -11.6 0M575.0 1605.1a5.8 5.8 0 1 0 11.6 0a5.8 5.8 0 1 0 -11.6 0M577.6 1605.2a5.8 5.8 0 1 0 11.6 0a5.8 5.8 0 1 0 -11.6 0M580.1 1605.2a5.8 5.8 0 1 0 11.6 0a5.8 5.8 0 1 0 -11.6 0M582.7 1605.2a5.8 5.8 0 1 0 11.6 0a5.8 5.8 0 1 0 -11.6 0M585.2 1605.2a5.8 5.8 0 1 0 11.6 0a5.8 5.8 0 1 0 -11.6 0M587.8 1605.2a5.8 5.8 0 1 0 11.6 0a5.8 5.8 0 1 0 -11.6 0M590.3 1605.2a5.8 5.8 0 1 0 11.6 0a5.8 5.8 0 1 0 -11.6 0M592.9 1605.2a5.8 5.8 0 1 0 11.6 0a5.8 5.8 0 1 0 -11.6 0M595.4 1605.2a5.8 5.8 0 1 0 11.6 0a5.8 5.8 0 1 0 -11.6 0M598.0 1605.2a5.8 5.8 0 1 0 11.6 0a5.8 5.8 0 1 0 -11.6 0M600.6 1605.2a5.8 5.8 0 1 0 11.6 0a5.8 5.8 0 1 0 -11.6 0M603.1 1605.2a5.8 5.8 0 1 0 11.6 0a5.8 5.8 0 1 0 -11.6 0M605.7 1605.2a5.8 5.8 0 1 0 11.6 0a5.8 5.8 0 1 0 -11.6 0M608.2 1605.2a5.8 5.8 0 1 0 11.6 0a5.8 5.8 0 1 0 -11.6 0M610.8 1605.2a5.8 5.8 0 1 0 11.6 0a5.8 5.8 0 1 0 -11.6 0M613.3 1605.2a5.8 5.8 0 1 0 11.6 0a5.8 5.8 0 1 0 -11.6 0M615.9 1605.2a5.8 5.8 0 1 0 11.6 0a5.8 5.8 0 1 0 -11.6 0M618.4 1605.2a5.8 5.8 0 1 0 11.6 0a5.8 5.8 0 1 0 -11.6 0M621.0 1605.1a5.8 5.8 0 1 0 11.6 0a5.8 5.8 0 1 0 -11.6 0M623.6 1605.1a5.8 5.8 0 1 0 11.6 0a5.8 5.8 0 1 0 -11.6 0M626.1 1605.0a5.8 5.8 0 1 0 11.6 0a5.8 5.8 0 1 0 -11.6 0M628.7 1604.9a5.8 5.8 0 1 0 11.6 0a5.8 5.8 0 1 0 -11.6 0M631.2 1604.8a5.8 5.8 0 1 0 11.6 0a5.8 5.8 0 1 0 -11.6 0M633.8 1604.6a5.8 5.8 0 1 0 11.6 0a5.8 5.8 0 1 0 -11.6 0M636.3 1604.5a5.8 5.8 0 1 0 11.6 0a5.8 5.8 0 1 0 -11.6 0M638.9 1603.8a5.8 5.8 0 1 0 11.6 0a5.8 5.8 0 1 0 -11.6 0M641.4 1602.0a5.8 5.8 0 1 0 11.6 0a5.8 5.8 0 1 0 -11.6 0M644.0 1599.8a5.8 5.8 0 1 0 11.6 0a5.8 5.8 0 1 0 -11.6 0M646.6 1598.5a5.8 5.8 0 1 0 11.6 0a5.8 5.8 0 1 0 -11.6 0M649.1 1598.5a5.8 5.8 0 1 0 11.6 0a5.8 5.8 0 1 0 -11.6 0M651.7 1598.9a5.8 5.8 0 1 0 11.6 0a5.8 5.8 0 1 0 -11.6 0M654.2 1599.4a5.8 5.8 0 1 0 11.6 0a5.8 5.8 0 1 0 -11.6 0M656.8 1599.9a5.8 5.8 0 1 0 11.6 0a5.8 5.8 0 1 0 -11.6 0M659.3 1600.4a5.8 5.8 0 1 0 11.6 0a5.8 5.8 0 1 0 -11.6 0M661.9 1600.9a5.8 5.8 0 1 0 11.6 0a5.8 5.8 0 1 0 -11.6 0M664.4 1601.3a5.8 5.8 0 1 0 11.6 0a5.8 5.8 0 1 0 -11.6 0M667.0 1601.8a5.8 5.8 0 1 0 11.6 0a5.8 5.8 0 1 0 -11.6 0M669.6 1602.3a5.8 5.8 0 1 0 11.6 0a5.8 5.8 0 1 0 -11.6 0M672.1 1602.9a5.8 5.8 0 1 0 11.6 0a5.8 5.8 0 1 0 -11.6 0M674.7 1603.5a5.8 5.8 0 1 0 11.6 0a5.8 5.8 0 1 0 -11.6 0M677.2 1604.2a5.8 5.8 0 1 0 11.6 0a5.8 5.8 0 1 0 -11.6 0M679.8 1605.0a5.8 5.8 0 1 0 11.6 0a5.8 5.8 0 1 0 -11.6 0M682.3 1605.8a5.8 5.8 0 1 0 11.6 0a5.8 5.8 0 1 0 -11.6 0M684.9 1606.7a5.8 5.8 0 1 0 11.6 0a5.8 5.8 0 1 0 -11.6 0M687.4 1607.7a5.8 5.8 0 1 0 11.6 0a5.8 5.8 0 1 0 -11.6 0M690.0 1608.7a5.8 5.8 0 1 0 11.6 0a5.8 5.8 0 1 0 -11.6 0" fill="none" stroke="#ff0000" stroke-width="0.9"/>
<polyline points="184.7,1608.6 186.2,1608.6 187.7,1608.6 189.2,1608.6 190.7,1608.6 192.2,1608.6 193.7,1608.6 195.2,1608.6 196.7,1608.6 198.2,1608.6 199.7,1608.6 201.2,1608.6 202.7,1608.6 204.2,1608.6 205.7,1608.6 207.2,1608.6 208.7,1608.6 210.2,1608.6 211.7,1608.6 213.2,1608.6 214.7,1608.6 216.2,1608.6 217.7,1608.6 219.2,1608.6 220.7,1608.6 222.2,1608.6 223.7,1608.6 225.2,1608.6 226.7,1608.6 228.2,1608.6 229.7,1608.6 231.2,1608.6 232.7,1608.6 234.2,1608.6 235.7,1608.6 237.3,1608.6 238.8,1608.6 240.3,1608.6 241.8,1608.6 243.3,1608.6 244.8,1608.6 246.3,1608.6 247.8,1608.6 249.3,1608.6 250.8,1608.6 252.3,1608.6 253.8,1608.6 255.3,1608.6 256.8,1608.6 258.3,1608.6 259.8,1608.6 261.3,1608.6 262.8,1608.6 264.3,1608.6 265.8,1608.6 267.3,1608.6 268.8,1608.6 270.3,1608.6 271.8,1608.6 273.3,1608.6 274.8,1608.6 276.3,1608.6 277.8,1608.6 279.3,1608.6 280.8,1608.6 282.3,1608.5 283.8,1608.5 285.3,1608.5 286.8,1608.4 288.3,1608.3 289.8,1608.2 291.3,1608.1 292.8,1607.9 294.3,1607.7 295.8,1607.3 297.3,1606.9 298.8,1606.4 300.3,1605.7 301.8,1604.8 303.3,1603.7 304.8,1602.3 306.3,1600.6 307.8,1598.5 309.3,1596.0 310.8,1592.9 312.3,1589.2 313.8,1584.9 315.3,1579.8 316.8,1573.9 318.3,1567.1 319.8,1559.4 321.3,1550.6 322.8,1540.9 324.3,1530.1 325.8,1518.3 327.3,1505.6 328.8,1491.9 330.3,1477.5 331.8,1462.5 333.3,1447.0 334.8,1431.2 336.3,1415.4 337.8,1399.9 339.4,1384.8 340.9,1370.5 342.4,1357.2 343.9,1345.2 345.4,1334.8 346.9,1326.2 348.4,1319.5 349.9,1315.0 351.4,1312.6 352.9,1312.4 354.4,1314.5 355.9,1318.7 357.4,1324.9 358.9,1333.0 360.4,1342.7 361.9,1353.8 363.4,1366.0 364.9,1379.0 366.4,1392.5 367.9,1406.3 369.4,1419.9 370.9,1433.1 372.4,1445.8 373.9,1457.6 375.4,1468.3 376.9,1477.9 378.4,1486.1 379.9,1493.0 381.4,1498.5 382.9,1502.5 384.4,1505.1 385.9,1506.3 387.4,1506.3 388.9,1505.1 390.4,1502.8 391.9,1499.6 393.4,1495.7 394.9,1491.1 396.4,1486.1 397.9,1480.7 399.4,1475.3 400.9,1469.8 402.4,1464.5 403.9,1459.5 405.4,1455.0 406.9,1451.0 408.4,1447.6 409.9,1445.0 411.4,1443.2 412.9,1442.3 414.4,1442.2 415.9,1443.0 417.4,1444.7 418.9,1447.3 420.4,1450.8 421.9,1455.0 423.4,1459.9 424.9,1465.5 426.4,1471.7 427.9,1478.3 429.4,1485.3 430.9,1492.6 432.4,1500.0 433.9,1507.6 435.4,1515.1 436.9,1522.6 438.4,1529.9 439.9,1537.0 441.5,1543.8 443.0,1550.3 444.5,1556.5 446.0,1562.3 447.5,1567.6 449.0,1572.5 450.5,1577.1 452.0,1581.2 453.5,1584.9 455.0,1588.2 456.5,1591.2 458.0,1593.8 459.5,1596.1 461.0,1598.1 462.5,1599.8 464.0,1601.3 465.5,1602.5 467.0,1603.6 468.5,1604.5 470.0,1605.3 471.5,1605.9 473.0,1606.5 474.5,1606.9 476.0,1607.2 477.5,1607.5 479.0,1607.8 480.5,1607.9 482.0,1608.1 483.5,1608.2 485.0,1608.3 486.5,1608.4 488.0,1608.4 489.5,1608.5 491.0,1608.5 492.5,1608.5 494.0,1608.5 495.5,1608.6 497.0,1608.6 498.5,1608.6 500.0,1608.6 501.5,1608.6 503.0,1608.6 504.5,1608.6 506.0,1608.6 507.5,1608.6 509.0,1608.6 510.5,1608.6 512.0,1608.6 513.5,1608.6 515.0,1608.6 516.5,1608.6 518.0,1608.6 519.5,1608.6 521.0,1608.6 522.5,1608.6 524.0,1608.6 525.5,1608.6 527.0,1608.6 528.5,1608.6 530.0,1608.6 531.5,1608.6 533.0,1608.6 534.5,1608.6 536.0,1608.6 537.5,1608.6 539.0,1608.6 540.5,1608.6 542.0,1608.6 543.6,1608.6 545.1,1608.6 546.6,1608.6 548.1,1608.6 549.6,1608.6 551.1,1608.6 552.6,1608.6 554.1,1608.6 555.6,1608.6 557.1,1608.6 558.6,1608.6 560.1,1608.6 561.6,1608.6 563.1,1608.6 564.6,1608.6 566.1,1608.6 567.6,1608.6 569.1,1608.6 570.6,1608.6 572.1,1608.6 573.6,1608.6 575.1,1608.6 576.6,1608.6 578.1,1608.6 579.6,1608.6 581.1,1608.6 582.6,1608.6 584.1,1608.6 585.6,1608.6 587.1,1608.6 588.6,1608.6 590.1,1608.6 591.6,1608.6 593.1,1608.6 594.6,1608.6 596.1,1608.6 597.6,1608.6 599.1,1608.6 600.6,1608.6 602.1,1608.6 603.6,1608.6 605.1,1608.6 606.6,1608.6 608.1,1608.6 609.6,1608.6 611.1,1608.6 612.6,1608.6 614.1,1608.6 615.6,1608.6 617.1,1608.6 618.6,1608.6 620.1,1608.6 621.6,1608.6 623.1,1608.6 624.6,1608.6 626.1,1608.6 627.6,1608.6 629.1,1608.6 630.6,1608.6 632.1,1608.6 633.6,1608.6 635.1,1608.6 636.6,1608.6 638.1,1608.6 639.6,1608.6 641.1,1608.6 642.6,1608.6 644.1,1608.6 645.7,1608.6 647.2,1608.6 648.7,1608.6 650.2,1608.6 651.7,1608.6 653.2,1608.6 654.7,1608.6 656.2,1608.6 657.7,1608.6 659.2,1608.6 660.7,1608.6 662.2,1608.6 663.7,1608.6 665.2,1608.6 666.7,1608.6 668.2,1608.6 669.7,1608.6 671.2,1608.6 672.7,1608.6 674.2,1608.6 675.7,1608.6 677.2,1608.6 678.7,1608.6 680.2,1608.6 681.7,1608.6 683.2,1608.6 684.7,1608.6 686.2,1608.6 687.7,1608.6 689.2,1608.6 690.7,1608.6 692.2,1608.6 693.7,1608.6 695.2,1608.6 696.7,1608.6" fill="none" stroke="#00ff00" stroke-width="4.2" stroke-linejoin="round" stroke-linecap="round"/>
<polyline points="184.7,1608.6 186.2,1608.6 187.7,1608.6 189.2,1608.6 190.7,1608.6 192.2,1608.6 193.7,1608.6 195.2,1608.6 196.7,1608.6 198.2,1608.6 199.7,1608.6 201.2,1608.6 202.7,1608.6 204.2,1608.6 205.7,1608.6 207.2,1608.6 208.7,1608.6 210.2,1608.6 211.7,1608.6 213.2,1608.6 214.7,1608.6 216.2,1608.6 217.7,1608.6 219.2,1608.6 220.7,1608.6 222.2,1608.6 223.7,1608.6 225.2,1608.6 226.7,1608.6 228.2,1608.6 229.7,1608.6 231.2,1608.6 232.7,1608.6 234.2,1608.6 235.7,1608.6 237.3,1608.6 238.8,1608.6 240.3,1608.6 241.8,1608.6 243.3,1608.6 244.8,1608.6 246.3,1608.6 247.8,1608.6 249.3,1608.6 250.8,1608.6 252.3,1608.6 253.8,1608.6 255.3,1608.6 256.8,1608.6 258.3,1608.6 259.8,1608.6 261.3,1608.6 262.8,1608.6 264.3,1608.6 265.8,1608.6 267.3,1608.6 268.8,1608.6 270.3,1608.6 271.8,1608.6 273.3,1608.6 274.8,1608.6 276.3,1608.6 277.8,1608.6 279.3,1608.6 280.8,1608.6 282.3,1608.5 283.8,1608.5 285.3,1608.5 286.8,1608.4 288.3,1608.3 289.8,1608.2 291.3,1608.1 292.8,1607.9 294.3,1607.7 295.8,1607.3 297.3,1606.9 298.8,1606.4 300.3,1605.7 301.8,1604.8 303.3,1603.7 304.8,1602.3 306.3,1600.6 307.8,1598.5 309.3,1596.0 310.8,1592.9 312.3,1589.2 313.8,1584.9 315.3,1579.8 316.8,1573.9 318.3,1567.1 319.8,1559.4 321.3,1550.6 322.8,1540.9 324.3,1530.1 325.8,1518.3 327.3,1505.6 328.8,1492.0 330.3,1477.6 331.8,1462.5 333.3,1447.0 334.8,1431.3 336.3,1415.5 337.8,1400.0 339.4,1384.9 340.9,1370.7 342.4,1357.5 343.9,1345.6 345.4,1335.3 346.9,1326.8 348.4,1320.3 349.9,1315.9 351.4,1313.8 352.9,1314.0 354.4,1316.4 355.9,1321.1 357.4,1327.9 358.9,1336.7 360.4,1347.3 361.9,1359.4 363.4,1372.8 364.9,1387.2 366.4,1402.3 367.9,1417.9 369.4,1433.7 370.9,1449.4 372.4,1464.8 373.9,1479.8 375.4,1494.1 376.9,1507.6 378.4,1520.2 379.9,1531.8 381.4,1542.4 382.9,1552.0 384.4,1560.6 385.9,1568.2 387.4,1574.8 388.9,1580.6 390.4,1585.6 391.9,1589.8 393.4,1593.4 394.9,1596.4 396.4,1598.9 397.9,1600.9 399.4,1602.6 400.9,1603.9 402.4,1605.0 403.9,1605.8 405.4,1606.5 406.9,1607.0 408.4,1607.4 409.9,1607.7 411.4,1607.9 412.9,1608.1 414.4,1608.3 415.9,1608.3 417.4,1608.4 418.9,1608.5 420.4,1608.5 421.9,1608.5 423.4,1608.6 424.9,1608.6 426.4,1608.6 427.9,1608.6 429.4,1608.6 430.9,1608.6 432.4,1608.6 433.9,1608.6 435.4,1608.6 436.9,1608.6 438.4,1608.6 439.9,1608.6 441.5,1608.6 443.0,1608.6 444.5,1608.6 446.0,1608.6 447.5,1608.6 449.0,1608.6 450.5,1608.6 452.0,1608.6 453.5,1608.6 455.0,1608.6 456.5,1608.6 458.0,1608.6 459.5,1608.6 461.0,1608.6 462.5,1608.6 464.0,1608.6 465.5,1608.6 467.0,1608.6 468.5,1608.6 470.0,1608.6 471.5,1608.6 473.0,1608.6 474.5,1608.6 476.0,1608.6 477.5,1608.6 479.0,1608.6 480.5,1608.6 482.0,1608.6 483.5,1608.6 485.0,1608.6 486.5,1608.6 488.0,1608.6 489.5,1608.6 491.0,1608.6 492.5,1608.6 494.0,1608.6 495.5,1608.6 497.0,1608.6 498.5,1608.6 500.0,1608.6 501.5,1608.6 503.0,1608.6 504.5,1608.6 506.0,1608.6 507.5,1608.6 509.0,1608.6 510.5,1608.6 512.0,1608.6 513.5,1608.6 515.0,1608.6 516.5,1608.6 518.0,1608.6 519.5,1608.6 521.0,1608.6 522.5,1608.6 524.0,1608.6 525.5,1608.6 527.0,1608.6 528.5,1608.6 530.0,1608.6 531.5,1608.6 533.0,1608.6 534.5,1608.6 536.0,1608.6 537.5,1608.6 539.0,1608.6 540.5,1608.6 542.0,1608.6 543.6,1608.6 545.1,1608.6 546.6,1608.6 548.1,1608.6 549.6,1608.6 551.1,1608.6 552.6,1608.6 554.1,1608.6 555.6,1608.6 557.1,1608.6 558.6,1608.6 560.1,1608.6 561.6,1608.6 563.1,1608.6 564.6,1608.6 566.1,1608.6 567.6,1608.6 569.1,1608.6 570.6,1608.6 572.1,1608.6 573.6,1608.6 575.1,1608.6 576.6,1608.6 578.1,1608.6 579.6,1608.6 581.1,1608.6 582.6,1608.6 584.1,1608.6 585.6,1608.6 587.1,1608.6 588.6,1608.6 590.1,1608.6 591.6,1608.6 593.1,1608.6 594.6,1608.6 596.1,1608.6 597.6,1608.6 599.1,1608.6 600.6,1608.6 602.1,1608.6 603.6,1608.6 605.1,1608.6 606.6,1608.6 608.1,1608.6 609.6,1608.6 611.1,1608.6 612.6,1608.6 614.1,1608.6 615.6,1608.6 617.1,1608.6 618.6,1608.6 620.1,1608.6 621.6,1608.6 623.1,1608.6 624.6,1608.6 626.1,1608.6 627.6,1608.6 629.1,1608.6 630.6,1608.6 632.1,1608.6 633.6,1608.6 635.1,1608.6 636.6,1608.6 638.1,1608.6 639.6,1608.6 641.1,1608.6 642.6,1608.6 644.1,1608.6 645.7,1608.6 647.2,1608.6 648.7,1608.6 650.2,1608.6 651.7,1608.6 653.2,1608.6 654.7,1608.6 656.2,1608.6 657.7,1608.6 659.2,1608.6 660.7,1608.6 662.2,1608.6 663.7,1608.6 665.2,1608.6 666.7,1608.6 668.2,1608.6 669.7,1608.6 671.2,1608.6 672.7,1608.6 674.2,1608.6 675.7,1608.6 677.2,1608.6 678.7,1608.6 680.2,1608.6 681.7,1608.6 683.2,1608.6 684.7,1608.6 686.2,1608.6 687.7,1608.6 689.2,1608.6 690.7,1608.6 692.2,1608.6 693.7,1608.6 695.2,1608.6 696.7,1608.6" fill="none" stroke="#0000ff" stroke-width="3.8" stroke-linejoin="round" stroke-linecap="round"/>
<polyline points="184.7,1608.6 186.2,1608.6 187.7,1608.6 189.2,1608.6 190.7,1608.6 192.2,1608.6 193.7,1608.6 195.2,1608.6 196.7,1608.6 198.2,1608.6 199.7,1608.6 201.2,1608.6 202.7,1608.6 204.2,1608.6 205.7,1608.6 207.2,1608.6 208.7,1608.6 210.2,1608.6 211.7,1608.6 213.2,1608.6 214.7,1608.6 216.2,1608.6 217.7,1608.6 219.2,1608.6 220.7,1608.6 222.2,1608.6 223.7,1608.6 225.2,1608.6 226.7,1608.6 228.2,1608.6 229.7,1608.6 231.2,1608.6 232.7,1608.6 234.2,1608.6 235.7,1608.6 237.3,1608.6 238.8,1608.6 240.3,1608.6 241.8,1608.6 243.3,1608.6 244.8,1608.6 246.3,1608.6 247.8,1608.6 249.3,1608.6 250.8,1608.6 252.3,1608.6 253.8,1608.6 255.3,1608.6 256.8,1608.6 258.3,1608.6 259.8,1608.6 261.3,1608.6 262.8,1608.6 264.3,1608.6 265.8,1608.6 267.3,1608.6 268.8,1608.6 270.3,1608.6 271.8,1608.6 273.3,1608.6 274.8,1608.6 276.3,1608.6 277.8,1608.6 279.3,1608.6 280.8,1608.6 282.3,1608.6 283.8,1608.6 285.3,1608.6 286.8,1608.6 288.3,1608.6 289.8,1608.6 291.3,1608.6 292.8,1608.6 294.3,1608.6 295.8,1608.6 297.3,1608.6 298.8,1608.6 300.3,1608.6 301.8,1608.6 303.3,1608.6 304.8,1608.6 306.3,1608.6 307.8,1608.6 309.3,1608.6 310.8,1608.6 312.3,1608.6 313.8,1608.6 315.3,1608.6 316.8,1608.6 318.3,1608.6 319.8,1608.6 321.3,1608.6 322.8,1608.6 324.3,1608.6 325.8,1608.6 327.3,1608.6 328.8,1608.6 330.3,1608.6 331.8,1608.6 333.3,1608.6 334.8,1608.5 336.3,1608.5 337.8,1608.5 339.4,1608.4 340.9,1608.4 342.4,1608.3 343.9,1608.2 345.4,1608.1 346.9,1608.0 348.4,1607.8 349.9,1607.6 351.4,1607.4 352.9,1607.0 354.4,1606.7 355.9,1606.2 357.4,1605.6 358.9,1604.9 360.4,1604.0 361.9,1603.0 363.4,1601.9 364.9,1600.5 366.4,1598.8 367.9,1597.0 369.4,1594.8 370.9,1592.3 372.4,1589.5 373.9,1586.4 375.4,1582.8 376.9,1578.9 378.4,1574.6 379.9,1569.8 381.4,1564.6 382.9,1559.0 384.4,1553.1 385.9,1546.7 387.4,1540.0 388.9,1533.0 390.4,1525.8 391.9,1518.4 393.4,1510.9 394.9,1503.3 396.4,1495.8 397.9,1488.4 399.4,1481.3 400.9,1474.5 402.4,1468.2 403.9,1462.3 405.4,1457.1 406.9,1452.6 408.4,1448.8 409.9,1445.9 411.4,1443.9 412.9,1442.7 414.4,1442.5 415.9,1443.3 417.4,1444.9 418.9,1447.5 420.4,1450.9 421.9,1455.1 423.4,1460.0 424.9,1465.6 426.4,1471.7 427.9,1478.3 429.4,1485.3 430.9,1492.6 432.4,1500.0 433.9,1507.6 435.4,1515.1 436.9,1522.6 438.4,1529.9 439.9,1537.0 441.5,1543.8 443.0,1550.3 444.5,1556.5 446.0,1562.3 447.5,1567.6 449.0,1572.5 450.5,1577.1 452.0,1581.2 453.5,1584.9 455.0,1588.2 456.5,1591.2 458.0,1593.8 459.5,1596.1 461.0,1598.1 462.5,1599.8 464.0,1601.3 465.5,1602.5 467.0,1603.6 468.5,1604.5 470.0,1605.3 471.5,1605.9 473.0,1606.5 474.5,1606.9 476.0,1607.2 477.5,1607.5 479.0,1607.8 480.5,1607.9 482.0,1608.1 483.5,1608.2 485.0,1608.3 486.5,1608.4 488.0,1608.4 489.5,1608.5 491.0,1608.5 492.5,1608.5 494.0,1608.5 495.5,1608.6 497.0,1608.6 498.5,1608.6 500.0,1608.6 501.5,1608.6 503.0,1608.6 504.5,1608.6 506.0,1608.6 507.5,1608.6 509.0,1608.6 510.5,1608.6 512.0,1608.6 513.5,1608.6 515.0,1608.6 516.5,1608.6 518.0,1608.6 519.5,1608.6 521.0,1608.6 522.5,1608.6 524.0,1608.6 525.5,1608.6 527.0,1608.6 528.5,1608.6 530.0,1608.6 531.5,1608.6 533.0,1608.6 534.5,1608.6 536.0,1608.6 537.5,1608.6 539.0,1608.6 540.5,1608.6 542.0,1608.6 543.6,1608.6 545.1,1608.6 546.6,1608.6 548.1,1608.6 549.6,1608.6 551.1,1608.6 552.6,1608.6 554.1,1608.6 555.6,1608.6 557.1,1608.6 558.6,1608.6 560.1,1608.6 561.6,1608.6 563.1,1608.6 564.6,1608.6 566.1,1608.6 567.6,1608.6 569.1,1608.6 570.6,1608.6 572.1,1608.6 573.6,1608.6 575.1,1608.6 576.6,1608.6 578.1,1608.6 579.6,1608.6 581.1,1608.6 582.6,1608.6 584.1,1608.6 585.6,1608.6 587.1,1608.6 588.6,1608.6 590.1,1608.6 591.6,1608.6 593.1,1608.6 594.6,1608.6 596.1,1608.6 597.6,1608.6 599.1,1608.6 600.6,1608.6 602.1,1608.6 603.6,1608.6 605.1,1608.6 606.6,1608.6 608.1,1608.6 609.6,1608.6 611.1,1608.6 612.6,1608.6 614.1,1608.6 615.6,1608.6 617.1,1608.6 618.6,1608.6 620.1,1608.6 621.6,1608.6 623.1,1608.6 624.6,1608.6 626.1,1608.6 627.6,1608.6 629.1,1608.6 630.6,1608.6 632.1,1608.6 633.6,1608.6 635.1,1608.6 636.6,1608.6 638.1,1608.6 639.6,1608.6 641.1,1608.6 642.6,1608.6 644.1,1608.6 645.7,1608.6 647.2,1608.6 648.7,1608.6 650.2,1608.6 651.7,1608.6 653.2,1608.6 654.7,1608.6 656.2,1608.6 657.7,1608.6 659.2,1608.6 660.7,1608.6 662.2,1608.6 663.7,1608.6 665.2,1608.6 666.7,1608.6 668.2,1608.6 669.7,1608.6 671.2,1608.6 672.7,1608.6 674.2,1608.6 675.7,1608.6 677.2,1608.6 678.7,1608.6 680.2,1608.6 681.7,1608.6 683.2,1608.6 684.7,1608.6 686.2,1608.6 687.7,1608.6 689.2,1608.6 690.7,1608.6 692.2,1608.6 693.7,1608.6 695.2,1608.6 696.7,1608.6" fill="none" stroke="#ff00ff" stroke-width="3.8" stroke-linejoin="round" stroke-linecap="round"/>
<path d="M129.27 1652.4V1647.8M150.53 1652.4V1647.8M171.8 1652.4V1647.8M193.07 1652.4V1647.8M214.33 1652.4V1647.8M235.6 1652.4V1643.1M256.87 1652.4V1647.8M278.13 1652.4V1647.8M299.4 1652.4V1647.8M320.67 1652.4V1647.8M341.93 1652.4V1647.8M363.2 1652.4V1643.1M384.47 1652.4V1647.8M405.73 1652.4V1647.8M427 1652.4V1647.8M448.27 1652.4V1647.8M469.53 1652.4V1647.8M490.8 1652.4V1643.1M512.07 1652.4V1647.8M533.33 1652.4V1647.8M554.6 1652.4V1647.8M575.87 1652.4V1647.8M597.13 1652.4V1647.8M618.4 1652.4V1643.1M639.67 1652.4V1647.8M660.93 1652.4V1647.8M682.2 1652.4V1647.8M703.47 1652.4V1647.8M724.73 1652.4V1647.8M108 1637.81H112.6M108 1623.21H112.6M108 1608.62H117.3M108 1594.02H112.6M108 1579.43H112.6M108 1564.84H112.6M108 1550.24H112.6M108 1535.65H112.6M108 1521.05H117.3M108 1506.46H112.6M108 1491.87H112.6M108 1477.27H112.6M108 1462.68H112.6M108 1448.08H112.6M108 1433.49H117.3M108 1418.9H112.6M108 1404.3H112.6M108 1389.71H112.6M108 1375.12H112.6M108 1360.52H112.6M108 1345.93H117.3M108 1331.33H112.6M108 1316.74H112.6M108 1302.15H112.6M108 1287.55H112.6M108 1272.96H112.6M108 1258.36H117.3M108 1243.77H112.6M108 1229.18H112.6M108 1214.58H112.6M108 1199.99H112.6M108 1185.39H112.6" stroke="#000" stroke-width="2.3" stroke-linecap="round" fill="none"/>
<rect x="108" y="1170.8" width="638" height="481.6" fill="none" stroke="#000" stroke-width="2.3"/>
<text x="85.03" y="1615.57" font-size="23.87" fill="#000" textLength="12.45" lengthAdjust="spacingAndGlyphs">0</text>
<text x="58.08" y="1528.00" font-size="23.87" fill="#000" textLength="37.41" lengthAdjust="spacingAndGlyphs">200</text>
<text x="58.69" y="1440.44" font-size="23.87" fill="#000" textLength="36.78" lengthAdjust="spacingAndGlyphs">400</text>
<text x="58.06" y="1352.88" font-size="23.87" fill="#000" textLength="37.43" lengthAdjust="spacingAndGlyphs">600</text>
<text x="58.24" y="1265.31" font-size="23.87" fill="#000" textLength="37.24" lengthAdjust="spacingAndGlyphs">800</text>
<text x="45.60" y="1177.75" font-size="23.87" fill="#000" textLength="49.89" lengthAdjust="spacingAndGlyphs">1000</text>
<text x="87.07" y="1682.40" font-size="23.87" fill="#000" textLength="38.45" lengthAdjust="spacingAndGlyphs">675</text>
<text x="211.38" y="1682.40" font-size="23.87" fill="#000" textLength="38.38" lengthAdjust="spacingAndGlyphs">680</text>
<text x="335.67" y="1682.40" font-size="23.87" fill="#000" textLength="38.45" lengthAdjust="spacingAndGlyphs">685</text>
<text x="459.98" y="1682.40" font-size="23.87" fill="#000" textLength="38.38" lengthAdjust="spacingAndGlyphs">690</text>
<text x="584.27" y="1682.40" font-size="23.87" fill="#000" textLength="38.45" lengthAdjust="spacingAndGlyphs">695</text>
<text x="708.58" y="1682.40" font-size="23.87" fill="#000" textLength="38.38" lengthAdjust="spacingAndGlyphs">700</text>
<text x="296.24" y="1717.40" font-size="26.16" fill="#000" textLength="224.83" lengthAdjust="spacingAndGlyphs">Binding Energy (eV)</text>
<text transform="translate(28.20 1427.70) rotate(-90)" x="-72.53" y="0" font-size="25.99" textLength="145.35" lengthAdjust="spacingAndGlyphs">Counts (a.u.)</text>
<text x="672.58" y="1222.55" font-size="40.13" fill="#000" textLength="47.64" lengthAdjust="spacingAndGlyphs">(e)</text>
<text x="139.99" y="1212.90" font-size="25.71" fill="#000" textLength="38.74" lengthAdjust="spacingAndGlyphs">F1s</text>
<text x="587.71" y="1278.70" font-size="22.60" fill="#ff0000" textLength="80.04" lengthAdjust="spacingAndGlyphs">Original</text>
<text x="587.82" y="1308.70" font-size="22.60" fill="#00ff00" textLength="91.52" lengthAdjust="spacingAndGlyphs">Sum of fit</text>
<text x="588.14" y="1338.10" font-size="22.88" fill="#0000ff" textLength="28.18" lengthAdjust="spacingAndGlyphs">LiF</text>
<text x="588.86" y="1367.00" font-size="23.45" fill="#ff00ff" textLength="24.69" lengthAdjust="spacingAndGlyphs">CF</text>
<text x="620.84" y="1371.90" font-size="14.96" fill="#ff00ff" textLength="7.22" lengthAdjust="spacingAndGlyphs">x</text>
<path d="M961.8 1595.0a5.8 5.8 0 1 0 11.6 0a5.8 5.8 0 1 0 -11.6 0M964.3 1594.1a5.8 5.8 0 1 0 11.6 0a5.8 5.8 0 1 0 -11.6 0M966.8 1593.4a5.8 5.8 0 1 0 11.6 0a5.8 5.8 0 1 0 -11.6 0M969.3 1593.0a5.8 5.8 0 1 0 11.6 0a5.8 5.8 0 1 0 -11.6 0M971.8 1592.8a5.8 5.8 0 1 0 11.6 0a5.8 5.8 0 1 0 -11.6 0M974.3 1592.6a5.8 5.8 0 1 0 11.6 0a5.8 5.8 0 1 0 -11.6 0M976.7 1592.5a5.8 5.8 0 1 0 11.6 0a5.8 5.8 0 1 0 -11.6 0M979.2 1592.5a5.8 5.8 0 1 0 11.6 0a5.8 5.8 0 1 0 -11.6 0M981.7 1593.4a5.8 5.8 0 1 0 11.6 0a5.8 5.8 0 1 0 -11.6 0M984.2 1595.1a5.8 5.8 0 1 0 11.6 0a5.8 5.8 0 1 0 -11.6 0M986.7 1596.1a5.8 5.8 0 1 0 11.6 0a5.8 5.8 0 1 0 -11.6 0M989.2 1596.8a5.8 5.8 0 1 0 11.6 0a5.8 5.8 0 1 0 -11.6 0M991.7 1597.3a5.8 5.8 0 1 0 11.6 0a5.8 5.8 0 1 0 -11.6 0M994.2 1597.5a5.8 5.8 0 1 0 11.6 0a5.8 5.8 0 1 0 -11.6 0M996.7 1597.6a5.8 5.8 0 1 0 11.6 0a5.8 5.8 0 1 0 -11.6 0M999.2 1597.7a5.8 5.8 0 1 0 11.6 0a5.8 5.8 0 1 0 -11.6 0M1001.6 1597.8a5.8 5.8 0 1 0 11.6 0a5.8 5.8 0 1 0 -11.6 0M1004.1 1597.9a5.8 5.8 0 1 0 11.6 0a5.8 5.8 0 1 0 -11.6 0M1006.6 1598.0a5.8 5.8 0 1 0 11.6 0a5.8 5.8 0 1 0 -11.6 0M1009.1 1598.0a5.8 5.8 0 1 0 11.6 0a5.8 5.8 0 1 0 -11.6 0M1011.6 1598.1a5.8 5.8 0 1 0 11.6 0a5.8 5.8 0 1 0 -11.6 0M1014.1 1598.1a5.8 5.8 0 1 0 11.6 0a5.8 5.8 0 1 0 -11.6 0M1016.6 1598.2a5.8 5.8 0 1 0 11.6 0a5.8 5.8 0 1 0 -11.6 0M1019.1 1598.2a5.8 5.8 0 1 0 11.6 0a5.8 5.8 0 1 0 -11.6 0M1021.6 1598.2a5.8 5.8 0 1 0 11.6 0a5.8 5.8 0 1 0 -11.6 0M1024.1 1598.2a5.8 5.8 0 1 0 11.6 0a5.8 5.8 0 1 0 -11.6 0M1026.5 1598.2a5.8 5.8 0 1 0 11.6 0a5.8 5.8 0 1 0 -11.6 0M1029.0 1598.2a5.8 5.8 0 1 0 11.6 0a5.8 5.8 0 1 0 -11.6 0M1031.5 1598.2a5.8 5.8 0 1 0 11.6 0a5.8 5.8 0 1 0 -11.6 0M1034.0 1598.2a5.8 5.8 0 1 0 11.6 0a5.8 5.8 0 1 0 -11.6 0M1036.5 1598.1a5.8 5.8 0 1 0 11.6 0a5.8 5.8 0 1 0 -11.6 0M1039.0 1598.1a5.8 5.8 0 1 0 11.6 0a5.8 5.8 0 1 0 -11.6 0M1041.5 1598.1a5.8 5.8 0 1 0 11.6 0a5.8 5.8 0 1 0 -11.6 0M1044.0 1598.0a5.8 5.8 0 1 0 11.6 0a5.8 5.8 0 1 0 -11.6 0M1046.5 1598.0a5.8 5.8 0 1 0 11.6 0a5.8 5.8 0 1 0 -11.6 0M1049.0 1597.9a5.8 5.8 0 1 0 11.6 0a5.8 5.8 0 1 0 -11.6 0M1051.4 1597.8a5.8 5.8 0 1 0 11.6 0a5.8 5.8 0 1 0 -11.6 0M1053.9 1597.7a5.8 5.8 0 1 0 11.6 0a5.8 5.8 0 1 0 -11.6 0M1056.4 1597.6a5.8 5.8 0 1 0 11.6 0a5.8 5.8 0 1 0 -11.6 0M1058.9 1597.5a5.8 5.8 0 1 0 11.6 0a5.8 5.8 0 1 0 -11.6 0M1061.4 1595.2a5.8 5.8 0 1 0 11.6 0a5.8 5.8 0 1 0 -11.6 0M1063.9 1592.2a5.8 5.8 0 1 0 11.6 0a5.8 5.8 0 1 0 -11.6 0M1066.4 1590.6a5.8 5.8 0 1 0 11.6 0a5.8 5.8 0 1 0 -11.6 0M1068.9 1589.3a5.8 5.8 0 1 0 11.6 0a5.8 5.8 0 1 0 -11.6 0M1071.4 1587.7a5.8 5.8 0 1 0 11.6 0a5.8 5.8 0 1 0 -11.6 0M1073.9 1585.7a5.8 5.8 0 1 0 11.6 0a5.8 5.8 0 1 0 -11.6 0M1076.3 1583.1a5.8 5.8 0 1 0 11.6 0a5.8 5.8 0 1 0 -11.6 0M1078.8 1579.8a5.8 5.8 0 1 0 11.6 0a5.8 5.8 0 1 0 -11.6 0M1081.3 1574.7a5.8 5.8 0 1 0 11.6 0a5.8 5.8 0 1 0 -11.6 0M1083.8 1566.0a5.8 5.8 0 1 0 11.6 0a5.8 5.8 0 1 0 -11.6 0M1086.3 1554.7a5.8 5.8 0 1 0 11.6 0a5.8 5.8 0 1 0 -11.6 0M1088.8 1542.4a5.8 5.8 0 1 0 11.6 0a5.8 5.8 0 1 0 -11.6 0M1091.3 1530.3a5.8 5.8 0 1 0 11.6 0a5.8 5.8 0 1 0 -11.6 0M1093.8 1513.4a5.8 5.8 0 1 0 11.6 0a5.8 5.8 0 1 0 -11.6 0M1096.3 1488.9a5.8 5.8 0 1 0 11.6 0a5.8 5.8 0 1 0 -11.6 0M1098.8 1464.3a5.8 5.8 0 1 0 11.6 0a5.8 5.8 0 1 0 -11.6 0M1101.2 1438.9a5.8 5.8 0 1 0 11.6 0a5.8 5.8 0 1 0 -11.6 0M1103.7 1407.8a5.8 5.8 0 1 0 11.6 0a5.8 5.8 0 1 0 -11.6 0M1106.2 1381.9a5.8 5.8 0 1 0 11.6 0a5.8 5.8 0 1 0 -11.6 0M1108.7 1348.5a5.8 5.8 0 1 0 11.6 0a5.8 5.8 0 1 0 -11.6 0M1111.2 1310.6a5.8 5.8 0 1 0 11.6 0a5.8 5.8 0 1 0 -11.6 0M1113.7 1272.7a5.8 5.8 0 1 0 11.6 0a5.8 5.8 0 1 0 -11.6 0M1116.2 1255.8a5.8 5.8 0 1 0 11.6 0a5.8 5.8 0 1 0 -11.6 0M1118.7 1225.9a5.8 5.8 0 1 0 11.6 0a5.8 5.8 0 1 0 -11.6 0M1121.2 1216.8a5.8 5.8 0 1 0 11.6 0a5.8 5.8 0 1 0 -11.6 0M1123.7 1214.4a5.8 5.8 0 1 0 11.6 0a5.8 5.8 0 1 0 -11.6 0M1126.1 1212.1a5.8 5.8 0 1 0 11.6 0a5.8 5.8 0 1 0 -11.6 0M1128.6 1221.7a5.8 5.8 0 1 0 11.6 0a5.8 5.8 0 1 0 -11.6 0M1131.1 1244.0a5.8 5.8 0 1 0 11.6 0a5.8 5.8 0 1 0 -11.6 0M1133.6 1259.5a5.8 5.8 0 1 0 11.6 0a5.8 5.8 0 1 0 -11.6 0M1136.1 1286.6a5.8 5.8 0 1 0 11.6 0a5.8 5.8 0 1 0 -11.6 0M1138.6 1310.8a5.8 5.8 0 1 0 11.6 0a5.8 5.8 0 1 0 -11.6 0M1141.1 1334.1a5.8 5.8 0 1 0 11.6 0a5.8 5.8 0 1 0 -11.6 0M1143.6 1366.5a5.8 5.8 0 1 0 11.6 0a5.8 5.8 0 1 0 -11.6 0M1146.1 1389.1a5.8 5.8 0 1 0 11.6 0a5.8 5.8 0 1 0 -11.6 0M1148.6 1407.7a5.8 5.8 0 1 0 11.6 0a5.8 5.8 0 1 0 -11.6 0M1151.0 1424.0a5.8 5.8 0 1 0 11.6 0a5.8 5.8 0 1 0 -11.6 0M1153.5 1434.2a5.8 5.8 0 1 0 11.6 0a5.8 5.8 0 1 0 -11.6 0M1156.0 1444.8a5.8 5.8 0 1 0 11.6 0a5.8 5.8 0 1 0 -11.6 0M1158.5 1455.2a5.8 5.8 0 1 0 11.6 0a5.8 5.8 0 1 0 -11.6 0M1161.0 1462.3a5.8 5.8 0 1 0 11.6 0a5.8 5.8 0 1 0 -11.6 0M1163.5 1466.9a5.8 5.8 0 1 0 11.6 0a5.8 5.8 0 1 0 -11.6 0M1166.0 1464.1a5.8 5.8 0 1 0 11.6 0a5.8 5.8 0 1 0 -11.6 0M1168.5 1458.0a5.8 5.8 0 1 0 11.6 0a5.8 5.8 0 1 0 -11.6 0M1171.0 1451.7a5.8 5.8 0 1 0 11.6 0a5.8 5.8 0 1 0 -11.6 0M1173.5 1445.3a5.8 5.8 0 1 0 11.6 0a5.8 5.8 0 1 0 -11.6 0M1175.9 1438.6a5.8 5.8 0 1 0 11.6 0a5.8 5.8 0 1 0 -11.6 0M1178.4 1434.0a5.8 5.8 0 1 0 11.6 0a5.8 5.8 0 1 0 -11.6 0M1180.9 1431.3a5.8 5.8 0 1 0 11.6 0a5.8 5.8 0 1 0 -11.6 0M1183.4 1429.9a5.8 5.8 0 1 0 11.6 0a5.8 5.8 0 1 0 -11.6 0M1185.9 1430.1a5.8 5.8 0 1 0 11.6 0a5.8 5.8 0 1 0 -11.6 0M1188.4 1430.7a5.8 5.8 0 1 0 11.6 0a5.8 5.8 0 1 0 -11.6 0M1190.9 1432.5a5.8 5.8 0 1 0 11.6 0a5.8 5.8 0 1 0 -11.6 0M1193.4 1435.4a5.8 5.8 0 1 0 11.6 0a5.8 5.8 0 1 0 -11.6 0M1195.9 1441.0a5.8 5.8 0 1 0 11.6 0a5.8 5.8 0 1 0 -11.6 0M1198.4 1447.9a5.8 5.8 0 1 0 11.6 0a5.8 5.8 0 1 0 -11.6 0M1200.8 1457.3a5.8 5.8 0 1 0 11.6 0a5.8 5.8 0 1 0 -11.6 0M1203.3 1471.2a5.8 5.8 0 1 0 11.6 0a5.8 5.8 0 1 0 -11.6 0M1205.8 1482.1a5.8 5.8 0 1 0 11.6 0a5.8 5.8 0 1 0 -11.6 0M1208.3 1488.5a5.8 5.8 0 1 0 11.6 0a5.8 5.8 0 1 0 -11.6 0M1210.8 1498.4a5.8 5.8 0 1 0 11.6 0a5.8 5.8 0 1 0 -11.6 0M1213.3 1508.4a5.8 5.8 0 1 0 11.6 0a5.8 5.8 0 1 0 -11.6 0M1215.8 1517.1a5.8 5.8 0 1 0 11.6 0a5.8 5.8 0 1 0 -11.6 0M1218.3 1526.2a5.8 5.8 0 1 0 11.6 0a5.8 5.8 0 1 0 -11.6 0M1220.8 1533.7a5.8 5.8 0 1 0 11.6 0a5.8 5.8 0 1 0 -11.6 0M1223.3 1541.9a5.8 5.8 0 1 0 11.6 0a5.8 5.8 0 1 0 -11.6 0M1225.8 1550.1a5.8 5.8 0 1 0 11.6 0a5.8 5.8 0 1 0 -11.6 0M1228.2 1558.1a5.8 5.8 0 1 0 11.6 0a5.8 5.8 0 1 0 -11.6 0M1230.7 1564.1a5.8 5.8 0 1 0 11.6 0a5.8 5.8 0 1 0 -11.6 0M1233.2 1570.7a5.8 5.8 0 1 0 11.6 0a5.8 5.8 0 1 0 -11.6 0M1235.7 1574.8a5.8 5.8 0 1 0 11.6 0a5.8 5.8 0 1 0 -11.6 0M1238.2 1577.7a5.8 5.8 0 1 0 11.6 0a5.8 5.8 0 1 0 -11.6 0M1240.7 1580.9a5.8 5.8 0 1 0 11.6 0a5.8 5.8 0 1 0 -11.6 0M1243.2 1583.6a5.8 5.8 0 1 0 11.6 0a5.8 5.8 0 1 0 -11.6 0M1245.7 1585.4a5.8 5.8 0 1 0 11.6 0a5.8 5.8 0 1 0 -11.6 0M1248.2 1586.8a5.8 5.8 0 1 0 11.6 0a5.8 5.8 0 1 0 -11.6 0M1250.7 1588.2a5.8 5.8 0 1 0 11.6 0a5.8 5.8 0 1 0 -11.6 0M1253.1 1589.8a5.8 5.8 0 1 0 11.6 0a5.8 5.8 0 1 0 -11.6 0M1255.6 1591.2a5.8 5.8 0 1 0 11.6 0a5.8 5.8 0 1 0 -11.6 0M1258.1 1592.2a5.8 5.8 0 1 0 11.6 0a5.8 5.8 0 1 0 -11.6 0M1260.6 1593.1a5.8 5.8 0 1 0 11.6 0a5.8 5.8 0 1 0 -11.6 0M1263.1 1593.8a5.8 5.8 0 1 0 11.6 0a5.8 5.8 0 1 0 -11.6 0M1265.6 1594.3a5.8 5.8 0 1 0 11.6 0a5.8 5.8 0 1 0 -11.6 0M1268.1 1594.7a5.8 5.8 0 1 0 11.6 0a5.8 5.8 0 1 0 -11.6 0M1270.6 1594.9a5.8 5.8 0 1 0 11.6 0a5.8 5.8 0 1 0 -11.6 0M1273.1 1595.2a5.8 5.8 0 1 0 11.6 0a5.8 5.8 0 1 0 -11.6 0M1275.6 1595.4a5.8 5.8 0 1 0 11.6 0a5.8 5.8 0 1 0 -11.6 0M1278.0 1595.5a5.8 5.8 0 1 0 11.6 0a5.8 5.8 0 1 0 -11.6 0M1280.5 1595.6a5.8 5.8 0 1 0 11.6 0a5.8 5.8 0 1 0 -11.6 0M1283.0 1595.8a5.8 5.8 0 1 0 11.6 0a5.8 5.8 0 1 0 -11.6 0M1285.5 1595.9a5.8 5.8 0 1 0 11.6 0a5.8 5.8 0 1 0 -11.6 0M1288.0 1596.0a5.8 5.8 0 1 0 11.6 0a5.8 5.8 0 1 0 -11.6 0M1290.5 1596.0a5.8 5.8 0 1 0 11.6 0a5.8 5.8 0 1 0 -11.6 0M1293.0 1596.0a5.8 5.8 0 1 0 11.6 0a5.8 5.8 0 1 0 -11.6 0M1295.5 1596.0a5.8 5.8 0 1 0 11.6 0a5.8 5.8 0 1 0 -11.6 0M1298.0 1596.0a5.8 5.8 0 1 0 11.6 0a5.8 5.8 0 1 0 -11.6 0M1300.5 1596.0a5.8 5.8 0 1 0 11.6 0a5.8 5.8 0 1 0 -11.6 0M1302.9 1596.0a5.8 5.8 0 1 0 11.6 0a5.8 5.8 0 1 0 -11.6 0M1305.4 1596.0a5.8 5.8 0 1 0 11.6 0a5.8 5.8 0 1 0 -11.6 0M1307.9 1596.0a5.8 5.8 0 1 0 11.6 0a5.8 5.8 0 1 0 -11.6 0M1310.4 1596.0a5.8 5.8 0 1 0 11.6 0a5.8 5.8 0 1 0 -11.6 0M1312.9 1596.0a5.8 5.8 0 1 0 11.6 0a5.8 5.8 0 1 0 -11.6 0M1315.4 1596.0a5.8 5.8 0 1 0 11.6 0a5.8 5.8 0 1 0 -11.6 0M1317.9 1596.0a5.8 5.8 0 1 0 11.6 0a5.8 5.8 0 1 0 -11.6 0M1320.4 1596.0a5.8 5.8 0 1 0 11.6 0a5.8 5.8 0 1 0 -11.6 0M1322.9 1596.0a5.8 5.8 0 1 0 11.6 0a5.8 5.8 0 1 0 -11.6 0M1325.4 1596.0a5.8 5.8 0 1 0 11.6 0a5.8 5.8 0 1 0 -11.6 0M1327.8 1596.0a5.8 5.8 0 1 0 11.6 0a5.8 5.8 0 1 0 -11.6 0M1330.3 1596.0a5.8 5.8 0 1 0 11.6 0a5.8 5.8 0 1 0 -11.6 0M1332.8 1596.0a5.8 5.8 0 1 0 11.6 0a5.8 5.8 0 1 0 -11.6 0M1335.3 1596.0a5.8 5.8 0 1 0 11.6 0a5.8 5.8 0 1 0 -11.6 0M1337.8 1596.0a5.8 5.8 0 1 0 11.6 0a5.8 5.8 0 1 0 -11.6 0M1340.3 1596.0a5.8 5.8 0 1 0 11.6 0a5.8 5.8 0 1 0 -11.6 0M1342.8 1596.0a5.8 5.8 0 1 0 11.6 0a5.8 5.8 0 1 0 -11.6 0M1345.3 1596.0a5.8 5.8 0 1 0 11.6 0a5.8 5.8 0 1 0 -11.6 0M1347.8 1596.0a5.8 5.8 0 1 0 11.6 0a5.8 5.8 0 1 0 -11.6 0M1350.3 1596.0a5.8 5.8 0 1 0 11.6 0a5.8 5.8 0 1 0 -11.6 0M1352.7 1596.0a5.8 5.8 0 1 0 11.6 0a5.8 5.8 0 1 0 -11.6 0M1355.2 1596.0a5.8 5.8 0 1 0 11.6 0a5.8 5.8 0 1 0 -11.6 0M1357.7 1596.0a5.8 5.8 0 1 0 11.6 0a5.8 5.8 0 1 0 -11.6 0M1360.2 1596.0a5.8 5.8 0 1 0 11.6 0a5.8 5.8 0 1 0 -11.6 0M1362.7 1596.0a5.8 5.8 0 1 0 11.6 0a5.8 5.8 0 1 0 -11.6 0M1365.2 1596.0a5.8 5.8 0 1 0 11.6 0a5.8 5.8 0 1 0 -11.6 0M1367.7 1596.0a5.8 5.8 0 1 0 11.6 0a5.8 5.8 0 1 0 -11.6 0M1370.2 1596.0a5.8 5.8 0 1 0 11.6 0a5.8 5.8 0 1 0 -11.6 0M1372.7 1595.9a5.8 5.8 0 1 0 11.6 0a5.8 5.8 0 1 0 -11.6 0M1375.2 1595.9a5.8 5.8 0 1 0 11.6 0a5.8 5.8 0 1 0 -11.6 0M1377.6 1595.9a5.8 5.8 0 1 0 11.6 0a5.8 5.8 0 1 0 -11.6 0M1380.1 1595.9a5.8 5.8 0 1 0 11.6 0a5.8 5.8 0 1 0 -11.6 0M1382.6 1595.9a5.8 5.8 0 1 0 11.6 0a5.8 5.8 0 1 0 -11.6 0M1385.1 1595.9a5.8 5.8 0 1 0 11.6 0a5.8 5.8 0 1 0 -11.6 0M1387.6 1595.8a5.8 5.8 0 1 0 11.6 0a5.8 5.8 0 1 0 -11.6 0M1390.1 1595.8a5.8 5.8 0 1 0 11.6 0a5.8 5.8 0 1 0 -11.6 0M1392.6 1595.8a5.8 5.8 0 1 0 11.6 0a5.8 5.8 0 1 0 -11.6 0M1395.1 1595.8a5.8 5.8 0 1 0 11.6 0a5.8 5.8 0 1 0 -11.6 0M1397.6 1595.7a5.8 5.8 0 1 0 11.6 0a5.8 5.8 0 1 0 -11.6 0M1400.1 1595.7a5.8 5.8 0 1 0 11.6 0a5.8 5.8 0 1 0 -11.6 0M1402.5 1595.7a5.8 5.8 0 1 0 11.6 0a5.8 5.8 0 1 0 -11.6 0M1405.0 1595.6a5.8 5.8 0 1 0 11.6 0a5.8 5.8 0 1 0 -11.6 0M1407.5 1595.6a5.8 5.8 0 1 0 11.6 0a5.8 5.8 0 1 0 -11.6 0M1410.0 1595.6a5.8 5.8 0 1 0 11.6 0a5.8 5.8 0 1 0 -11.6 0M1412.5 1595.5a5.8 5.8 0 1 0 11.6 0a5.8 5.8 0 1 0 -11.6 0M1415.0 1595.4a5.8 5.8 0 1 0 11.6 0a5.8 5.8 0 1 0 -11.6 0M1417.5 1594.9a5.8 5.8 0 1 0 11.6 0a5.8 5.8 0 1 0 -11.6 0M1420.0 1594.0a5.8 5.8 0 1 0 11.6 0a5.8 5.8 0 1 0 -11.6 0M1422.5 1593.0a5.8 5.8 0 1 0 11.6 0a5.8 5.8 0 1 0 -11.6 0M1425.0 1592.2a5.8 5.8 0 1 0 11.6 0a5.8 5.8 0 1 0 -11.6 0M1427.4 1591.9a5.8 5.8 0 1 0 11.6 0a5.8 5.8 0 1 0 -11.6 0M1429.9 1591.6a5.8 5.8 0 1 0 11.6 0a5.8 5.8 0 1 0 -11.6 0M1432.4 1591.7a5.8 5.8 0 1 0 11.6 0a5.8 5.8 0 1 0 -11.6 0M1434.9 1592.6a5.8 5.8 0 1 0 11.6 0a5.8 5.8 0 1 0 -11.6 0M1437.4 1593.6a5.8 5.8 0 1 0 11.6 0a5.8 5.8 0 1 0 -11.6 0M1439.9 1594.1a5.8 5.8 0 1 0 11.6 0a5.8 5.8 0 1 0 -11.6 0M1442.4 1594.2a5.8 5.8 0 1 0 11.6 0a5.8 5.8 0 1 0 -11.6 0M1444.9 1594.4a5.8 5.8 0 1 0 11.6 0a5.8 5.8 0 1 0 -11.6 0M1447.4 1594.5a5.8 5.8 0 1 0 11.6 0a5.8 5.8 0 1 0 -11.6 0M1449.9 1594.7a5.8 5.8 0 1 0 11.6 0a5.8 5.8 0 1 0 -11.6 0M1452.3 1594.8a5.8 5.8 0 1 0 11.6 0a5.8 5.8 0 1 0 -11.6 0M1454.8 1594.9a5.8 5.8 0 1 0 11.6 0a5.8 5.8 0 1 0 -11.6 0M1457.3 1594.9a5.8 5.8 0 1 0 11.6 0a5.8 5.8 0 1 0 -11.6 0M1459.8 1595.0a5.8 5.8 0 1 0 11.6 0a5.8 5.8 0 1 0 -11.6 0M1462.3 1595.0a5.8 5.8 0 1 0 11.6 0a5.8 5.8 0 1 0 -11.6 0M1464.8 1595.0a5.8 5.8 0 1 0 11.6 0a5.8 5.8 0 1 0 -11.6 0" fill="none" stroke="#ff0000" stroke-width="0.9"/>
<polyline points="967.6,1597.7 969.1,1597.7 970.6,1597.7 972.1,1597.7 973.6,1597.7 975.1,1597.7 976.6,1597.7 978.1,1597.7 979.6,1597.7 981.1,1597.7 982.6,1597.7 984.1,1597.7 985.6,1597.7 987.1,1597.7 988.6,1597.7 990.1,1597.7 991.6,1597.7 993.1,1597.7 994.6,1597.7 996.1,1597.7 997.6,1597.7 999.1,1597.7 1000.6,1597.7 1002.1,1597.7 1003.6,1597.7 1005.1,1597.7 1006.6,1597.7 1008.1,1597.7 1009.6,1597.7 1011.1,1597.7 1012.6,1597.7 1014.1,1597.7 1015.6,1597.7 1017.1,1597.7 1018.7,1597.7 1020.2,1597.7 1021.7,1597.7 1023.2,1597.7 1024.7,1597.7 1026.2,1597.7 1027.7,1597.7 1029.2,1597.7 1030.7,1597.7 1032.2,1597.7 1033.7,1597.7 1035.2,1597.7 1036.7,1597.7 1038.2,1597.7 1039.7,1597.7 1041.2,1597.7 1042.7,1597.7 1044.2,1597.7 1045.7,1597.7 1047.2,1597.7 1048.7,1597.7 1050.2,1597.7 1051.7,1597.7 1053.2,1597.7 1054.7,1597.7 1056.2,1597.6 1057.7,1597.6 1059.2,1597.6 1060.7,1597.5 1062.2,1597.5 1063.7,1597.4 1065.2,1597.3 1066.7,1597.1 1068.2,1596.9 1069.7,1596.7 1071.2,1596.3 1072.7,1595.9 1074.2,1595.3 1075.7,1594.6 1077.2,1593.8 1078.7,1592.7 1080.2,1591.3 1081.7,1589.6 1083.2,1587.6 1084.7,1585.1 1086.2,1582.1 1087.7,1578.6 1089.2,1574.3 1090.7,1569.4 1092.2,1563.7 1093.7,1557.0 1095.2,1549.4 1096.7,1540.8 1098.2,1531.0 1099.7,1520.2 1101.2,1508.1 1102.7,1494.9 1104.2,1480.6 1105.7,1465.2 1107.2,1448.7 1108.7,1431.3 1110.2,1413.2 1111.7,1394.5 1113.2,1375.4 1114.7,1356.2 1116.2,1337.1 1117.7,1318.3 1119.3,1300.3 1120.8,1283.2 1122.3,1267.4 1123.8,1253.2 1125.3,1240.8 1126.8,1230.4 1128.3,1222.2 1129.8,1216.5 1131.3,1213.3 1132.8,1212.6 1134.3,1214.5 1135.8,1218.9 1137.3,1225.7 1138.8,1234.8 1140.3,1245.9 1141.8,1258.8 1143.3,1273.2 1144.8,1288.8 1146.3,1305.4 1147.8,1322.5 1149.3,1339.9 1150.8,1357.3 1152.3,1374.3 1153.8,1390.7 1155.3,1406.2 1156.8,1420.5 1158.3,1433.7 1159.8,1445.4 1161.3,1455.6 1162.8,1464.1 1164.3,1471.1 1165.8,1476.5 1167.3,1480.2 1168.8,1482.5 1170.3,1483.3 1171.8,1482.8 1173.3,1481.2 1174.8,1478.6 1176.3,1475.2 1177.8,1471.1 1179.3,1466.6 1180.8,1461.7 1182.3,1456.8 1183.8,1452.0 1185.3,1447.4 1186.8,1443.3 1188.3,1439.7 1189.8,1436.8 1191.3,1434.7 1192.8,1433.4 1194.3,1433.1 1195.8,1433.7 1197.3,1435.3 1198.8,1437.8 1200.3,1441.3 1201.8,1445.6 1203.3,1450.7 1204.8,1456.6 1206.3,1463.1 1207.8,1470.0 1209.3,1477.4 1210.8,1485.1 1212.3,1492.9 1213.8,1500.9 1215.3,1508.8 1216.8,1516.5 1218.3,1524.1 1219.9,1531.4 1221.4,1538.3 1222.9,1544.8 1224.4,1551.0 1225.9,1556.7 1227.4,1561.9 1228.9,1566.6 1230.4,1570.9 1231.9,1574.8 1233.4,1578.2 1234.9,1581.2 1236.4,1583.8 1237.9,1586.1 1239.4,1588.1 1240.9,1589.8 1242.4,1591.2 1243.9,1592.4 1245.4,1593.4 1246.9,1594.3 1248.4,1595.0 1249.9,1595.5 1251.4,1596.0 1252.9,1596.4 1254.4,1596.7 1255.9,1596.9 1257.4,1597.1 1258.9,1597.2 1260.4,1597.3 1261.9,1597.4 1263.4,1597.5 1264.9,1597.5 1266.4,1597.6 1267.9,1597.6 1269.4,1597.6 1270.9,1597.7 1272.4,1597.7 1273.9,1597.7 1275.4,1597.7 1276.9,1597.7 1278.4,1597.7 1279.9,1597.7 1281.4,1597.7 1282.9,1597.7 1284.4,1597.7 1285.9,1597.7 1287.4,1597.7 1288.9,1597.7 1290.4,1597.7 1291.9,1597.7 1293.4,1597.7 1294.9,1597.7 1296.4,1597.7 1297.9,1597.7 1299.4,1597.7 1300.9,1597.7 1302.4,1597.7 1303.9,1597.7 1305.4,1597.7 1306.9,1597.7 1308.4,1597.7 1309.9,1597.7 1311.4,1597.7 1312.9,1597.7 1314.4,1597.7 1315.9,1597.7 1317.4,1597.7 1318.9,1597.7 1320.5,1597.7 1322.0,1597.7 1323.5,1597.7 1325.0,1597.7 1326.5,1597.7 1328.0,1597.7 1329.5,1597.7 1331.0,1597.7 1332.5,1597.7 1334.0,1597.7 1335.5,1597.7 1337.0,1597.7 1338.5,1597.7 1340.0,1597.7 1341.5,1597.7 1343.0,1597.7 1344.5,1597.7 1346.0,1597.7 1347.5,1597.7 1349.0,1597.7 1350.5,1597.7 1352.0,1597.7 1353.5,1597.7 1355.0,1597.7 1356.5,1597.7 1358.0,1597.7 1359.5,1597.7 1361.0,1597.7 1362.5,1597.7 1364.0,1597.7 1365.5,1597.7 1367.0,1597.7 1368.5,1597.7 1370.0,1597.7 1371.5,1597.7 1373.0,1597.7 1374.5,1597.7 1376.0,1597.7 1377.5,1597.7 1379.0,1597.7 1380.5,1597.7 1382.0,1597.7 1383.5,1597.7 1385.0,1597.7 1386.5,1597.7 1388.0,1597.7 1389.5,1597.7 1391.0,1597.7 1392.5,1597.7 1394.0,1597.7 1395.5,1597.7 1397.0,1597.7 1398.5,1597.7 1400.0,1597.7 1401.5,1597.7 1403.0,1597.7 1404.5,1597.7 1406.0,1597.7 1407.5,1597.7 1409.0,1597.7 1410.5,1597.7 1412.0,1597.7 1413.5,1597.7 1415.0,1597.7 1416.5,1597.7 1418.0,1597.7 1419.5,1597.7 1421.1,1597.7 1422.6,1597.7 1424.1,1597.7 1425.6,1597.7 1427.1,1597.7 1428.6,1597.7 1430.1,1597.7 1431.6,1597.7 1433.1,1597.7 1434.6,1597.7 1436.1,1597.7 1437.6,1597.7 1439.1,1597.7 1440.6,1597.7 1442.1,1597.7 1443.6,1597.7 1445.1,1597.7 1446.6,1597.7 1448.1,1597.7 1449.6,1597.7 1451.1,1597.7 1452.6,1597.7 1454.1,1597.7 1455.6,1597.7 1457.1,1597.7 1458.6,1597.7 1460.1,1597.7 1461.6,1597.7 1463.1,1597.7 1464.6,1597.7 1466.1,1597.7 1467.6,1597.7 1469.1,1597.7 1470.6,1597.7" fill="none" stroke="#00ff00" stroke-width="4.2" stroke-linejoin="round" stroke-linecap="round"/>
<polyline points="967.6,1597.7 969.1,1597.7 970.6,1597.7 972.1,1597.7 973.6,1597.7 975.1,1597.7 976.6,1597.7 978.1,1597.7 979.6,1597.7 981.1,1597.7 982.6,1597.7 984.1,1597.7 985.6,1597.7 987.1,1597.7 988.6,1597.7 990.1,1597.7 991.6,1597.7 993.1,1597.7 994.6,1597.7 996.1,1597.7 997.6,1597.7 999.1,1597.7 1000.6,1597.7 1002.1,1597.7 1003.6,1597.7 1005.1,1597.7 1006.6,1597.7 1008.1,1597.7 1009.6,1597.7 1011.1,1597.7 1012.6,1597.7 1014.1,1597.7 1015.6,1597.7 1017.1,1597.7 1018.7,1597.7 1020.2,1597.7 1021.7,1597.7 1023.2,1597.7 1024.7,1597.7 1026.2,1597.7 1027.7,1597.7 1029.2,1597.7 1030.7,1597.7 1032.2,1597.7 1033.7,1597.7 1035.2,1597.7 1036.7,1597.7 1038.2,1597.7 1039.7,1597.7 1041.2,1597.7 1042.7,1597.7 1044.2,1597.7 1045.7,1597.7 1047.2,1597.7 1048.7,1597.7 1050.2,1597.7 1051.7,1597.7 1053.2,1597.7 1054.7,1597.7 1056.2,1597.6 1057.7,1597.6 1059.2,1597.6 1060.7,1597.5 1062.2,1597.5 1063.7,1597.4 1065.2,1597.3 1066.7,1597.1 1068.2,1596.9 1069.7,1596.7 1071.2,1596.3 1072.7,1595.9 1074.2,1595.3 1075.7,1594.6 1077.2,1593.8 1078.7,1592.7 1080.2,1591.3 1081.7,1589.6 1083.2,1587.6 1084.7,1585.1 1086.2,1582.1 1087.7,1578.6 1089.2,1574.3 1090.7,1569.4 1092.2,1563.7 1093.7,1557.0 1095.2,1549.4 1096.7,1540.8 1098.2,1531.0 1099.7,1520.2 1101.2,1508.1 1102.7,1494.9 1104.2,1480.6 1105.7,1465.2 1107.2,1448.7 1108.7,1431.4 1110.2,1413.2 1111.7,1394.5 1113.2,1375.4 1114.7,1356.2 1116.2,1337.1 1117.7,1318.4 1119.3,1300.4 1120.8,1283.3 1122.3,1267.5 1123.8,1253.3 1125.3,1240.9 1126.8,1230.6 1128.3,1222.6 1129.8,1216.9 1131.3,1213.8 1132.8,1213.3 1134.3,1215.4 1135.8,1220.1 1137.3,1227.3 1138.8,1236.7 1140.3,1248.4 1141.8,1261.9 1143.3,1277.1 1144.8,1293.7 1146.3,1311.4 1147.8,1329.9 1149.3,1348.9 1150.8,1368.1 1152.3,1387.3 1153.8,1406.1 1155.3,1424.5 1156.8,1442.2 1158.3,1459.0 1159.8,1474.8 1161.3,1489.6 1162.8,1503.2 1164.3,1515.7 1165.8,1527.0 1167.3,1537.2 1168.8,1546.2 1170.3,1554.2 1171.8,1561.2 1173.3,1567.3 1174.8,1572.6 1176.3,1577.0 1177.8,1580.8 1179.3,1584.0 1180.8,1586.7 1182.3,1588.9 1183.8,1590.7 1185.3,1592.2 1186.8,1593.4 1188.3,1594.3 1189.8,1595.1 1191.3,1595.7 1192.8,1596.2 1194.3,1596.5 1195.8,1596.8 1197.3,1597.1 1198.8,1597.2 1200.3,1597.3 1201.8,1597.4 1203.3,1597.5 1204.8,1597.6 1206.3,1597.6 1207.8,1597.6 1209.3,1597.7 1210.8,1597.7 1212.3,1597.7 1213.8,1597.7 1215.3,1597.7 1216.8,1597.7 1218.3,1597.7 1219.9,1597.7 1221.4,1597.7 1222.9,1597.7 1224.4,1597.7 1225.9,1597.7 1227.4,1597.7 1228.9,1597.7 1230.4,1597.7 1231.9,1597.7 1233.4,1597.7 1234.9,1597.7 1236.4,1597.7 1237.9,1597.7 1239.4,1597.7 1240.9,1597.7 1242.4,1597.7 1243.9,1597.7 1245.4,1597.7 1246.9,1597.7 1248.4,1597.7 1249.9,1597.7 1251.4,1597.7 1252.9,1597.7 1254.4,1597.7 1255.9,1597.7 1257.4,1597.7 1258.9,1597.7 1260.4,1597.7 1261.9,1597.7 1263.4,1597.7 1264.9,1597.7 1266.4,1597.7 1267.9,1597.7 1269.4,1597.7 1270.9,1597.7 1272.4,1597.7 1273.9,1597.7 1275.4,1597.7 1276.9,1597.7 1278.4,1597.7 1279.9,1597.7 1281.4,1597.7 1282.9,1597.7 1284.4,1597.7 1285.9,1597.7 1287.4,1597.7 1288.9,1597.7 1290.4,1597.7 1291.9,1597.7 1293.4,1597.7 1294.9,1597.7 1296.4,1597.7 1297.9,1597.7 1299.4,1597.7 1300.9,1597.7 1302.4,1597.7 1303.9,1597.7 1305.4,1597.7 1306.9,1597.7 1308.4,1597.7 1309.9,1597.7 1311.4,1597.7 1312.9,1597.7 1314.4,1597.7 1315.9,1597.7 1317.4,1597.7 1318.9,1597.7 1320.5,1597.7 1322.0,1597.7 1323.5,1597.7 1325.0,1597.7 1326.5,1597.7 1328.0,1597.7 1329.5,1597.7 1331.0,1597.7 1332.5,1597.7 1334.0,1597.7 1335.5,1597.7 1337.0,1597.7 1338.5,1597.7 1340.0,1597.7 1341.5,1597.7 1343.0,1597.7 1344.5,1597.7 1346.0,1597.7 1347.5,1597.7 1349.0,1597.7 1350.5,1597.7 1352.0,1597.7 1353.5,1597.7 1355.0,1597.7 1356.5,1597.7 1358.0,1597.7 1359.5,1597.7 1361.0,1597.7 1362.5,1597.7 1364.0,1597.7 1365.5,1597.7 1367.0,1597.7 1368.5,1597.7 1370.0,1597.7 1371.5,1597.7 1373.0,1597.7 1374.5,1597.7 1376.0,1597.7 1377.5,1597.7 1379.0,1597.7 1380.5,1597.7 1382.0,1597.7 1383.5,1597.7 1385.0,1597.7 1386.5,1597.7 1388.0,1597.7 1389.5,1597.7 1391.0,1597.7 1392.5,1597.7 1394.0,1597.7 1395.5,1597.7 1397.0,1597.7 1398.5,1597.7 1400.0,1597.7 1401.5,1597.7 1403.0,1597.7 1404.5,1597.7 1406.0,1597.7 1407.5,1597.7 1409.0,1597.7 1410.5,1597.7 1412.0,1597.7 1413.5,1597.7 1415.0,1597.7 1416.5,1597.7 1418.0,1597.7 1419.5,1597.7 1421.1,1597.7 1422.6,1597.7 1424.1,1597.7 1425.6,1597.7 1427.1,1597.7 1428.6,1597.7 1430.1,1597.7 1431.6,1597.7 1433.1,1597.7 1434.6,1597.7 1436.1,1597.7 1437.6,1597.7 1439.1,1597.7 1440.6,1597.7 1442.1,1597.7 1443.6,1597.7 1445.1,1597.7 1446.6,1597.7 1448.1,1597.7 1449.6,1597.7 1451.1,1597.7 1452.6,1597.7 1454.1,1597.7 1455.6,1597.7 1457.1,1597.7 1458.6,1597.7 1460.1,1597.7 1461.6,1597.7 1463.1,1597.7 1464.6,1597.7 1466.1,1597.7 1467.6,1597.7 1469.1,1597.7 1470.6,1597.7" fill="none" stroke="#0000ff" stroke-width="3.8" stroke-linejoin="round" stroke-linecap="round"/>
<polyline points="967.6,1597.7 969.1,1597.7 970.6,1597.7 972.1,1597.7 973.6,1597.7 975.1,1597.7 976.6,1597.7 978.1,1597.7 979.6,1597.7 981.1,1597.7 982.6,1597.7 984.1,1597.7 985.6,1597.7 987.1,1597.7 988.6,1597.7 990.1,1597.7 991.6,1597.7 993.1,1597.7 994.6,1597.7 996.1,1597.7 997.6,1597.7 999.1,1597.7 1000.6,1597.7 1002.1,1597.7 1003.6,1597.7 1005.1,1597.7 1006.6,1597.7 1008.1,1597.7 1009.6,1597.7 1011.1,1597.7 1012.6,1597.7 1014.1,1597.7 1015.6,1597.7 1017.1,1597.7 1018.7,1597.7 1020.2,1597.7 1021.7,1597.7 1023.2,1597.7 1024.7,1597.7 1026.2,1597.7 1027.7,1597.7 1029.2,1597.7 1030.7,1597.7 1032.2,1597.7 1033.7,1597.7 1035.2,1597.7 1036.7,1597.7 1038.2,1597.7 1039.7,1597.7 1041.2,1597.7 1042.7,1597.7 1044.2,1597.7 1045.7,1597.7 1047.2,1597.7 1048.7,1597.7 1050.2,1597.7 1051.7,1597.7 1053.2,1597.7 1054.7,1597.7 1056.2,1597.7 1057.7,1597.7 1059.2,1597.7 1060.7,1597.7 1062.2,1597.7 1063.7,1597.7 1065.2,1597.7 1066.7,1597.7 1068.2,1597.7 1069.7,1597.7 1071.2,1597.7 1072.7,1597.7 1074.2,1597.7 1075.7,1597.7 1077.2,1597.7 1078.7,1597.7 1080.2,1597.7 1081.7,1597.7 1083.2,1597.7 1084.7,1597.7 1086.2,1597.7 1087.7,1597.7 1089.2,1597.7 1090.7,1597.7 1092.2,1597.7 1093.7,1597.7 1095.2,1597.7 1096.7,1597.7 1098.2,1597.7 1099.7,1597.7 1101.2,1597.7 1102.7,1597.7 1104.2,1597.7 1105.7,1597.7 1107.2,1597.7 1108.7,1597.7 1110.2,1597.7 1111.7,1597.7 1113.2,1597.7 1114.7,1597.7 1116.2,1597.7 1117.7,1597.7 1119.3,1597.6 1120.8,1597.6 1122.3,1597.6 1123.8,1597.6 1125.3,1597.5 1126.8,1597.5 1128.3,1597.4 1129.8,1597.3 1131.3,1597.1 1132.8,1597.0 1134.3,1596.8 1135.8,1596.5 1137.3,1596.1 1138.8,1595.7 1140.3,1595.2 1141.8,1594.5 1143.3,1593.8 1144.8,1592.8 1146.3,1591.7 1147.8,1590.3 1149.3,1588.8 1150.8,1586.9 1152.3,1584.7 1153.8,1582.2 1155.3,1579.3 1156.8,1576.1 1158.3,1572.4 1159.8,1568.2 1161.3,1563.7 1162.8,1558.6 1164.3,1553.1 1165.8,1547.1 1167.3,1540.7 1168.8,1533.9 1170.3,1526.8 1171.8,1519.3 1173.3,1511.6 1174.8,1503.8 1176.3,1495.9 1177.8,1488.0 1179.3,1480.2 1180.8,1472.8 1182.3,1465.6 1183.8,1459.0 1185.3,1453.0 1186.8,1447.6 1188.3,1443.1 1189.8,1439.4 1191.3,1436.7 1192.8,1434.9 1194.3,1434.2 1195.8,1434.5 1197.3,1435.9 1198.8,1438.3 1200.3,1441.6 1201.8,1445.9 1203.3,1450.9 1204.8,1456.7 1206.3,1463.2 1207.8,1470.1 1209.3,1477.5 1210.8,1485.1 1212.3,1493.0 1213.8,1500.9 1215.3,1508.8 1216.8,1516.5 1218.3,1524.1 1219.9,1531.4 1221.4,1538.3 1222.9,1544.8 1224.4,1551.0 1225.9,1556.7 1227.4,1561.9 1228.9,1566.6 1230.4,1570.9 1231.9,1574.8 1233.4,1578.2 1234.9,1581.2 1236.4,1583.8 1237.9,1586.1 1239.4,1588.1 1240.9,1589.8 1242.4,1591.2 1243.9,1592.4 1245.4,1593.4 1246.9,1594.3 1248.4,1595.0 1249.9,1595.5 1251.4,1596.0 1252.9,1596.4 1254.4,1596.7 1255.9,1596.9 1257.4,1597.1 1258.9,1597.2 1260.4,1597.3 1261.9,1597.4 1263.4,1597.5 1264.9,1597.5 1266.4,1597.6 1267.9,1597.6 1269.4,1597.6 1270.9,1597.7 1272.4,1597.7 1273.9,1597.7 1275.4,1597.7 1276.9,1597.7 1278.4,1597.7 1279.9,1597.7 1281.4,1597.7 1282.9,1597.7 1284.4,1597.7 1285.9,1597.7 1287.4,1597.7 1288.9,1597.7 1290.4,1597.7 1291.9,1597.7 1293.4,1597.7 1294.9,1597.7 1296.4,1597.7 1297.9,1597.7 1299.4,1597.7 1300.9,1597.7 1302.4,1597.7 1303.9,1597.7 1305.4,1597.7 1306.9,1597.7 1308.4,1597.7 1309.9,1597.7 1311.4,1597.7 1312.9,1597.7 1314.4,1597.7 1315.9,1597.7 1317.4,1597.7 1318.9,1597.7 1320.5,1597.7 1322.0,1597.7 1323.5,1597.7 1325.0,1597.7 1326.5,1597.7 1328.0,1597.7 1329.5,1597.7 1331.0,1597.7 1332.5,1597.7 1334.0,1597.7 1335.5,1597.7 1337.0,1597.7 1338.5,1597.7 1340.0,1597.7 1341.5,1597.7 1343.0,1597.7 1344.5,1597.7 1346.0,1597.7 1347.5,1597.7 1349.0,1597.7 1350.5,1597.7 1352.0,1597.7 1353.5,1597.7 1355.0,1597.7 1356.5,1597.7 1358.0,1597.7 1359.5,1597.7 1361.0,1597.7 1362.5,1597.7 1364.0,1597.7 1365.5,1597.7 1367.0,1597.7 1368.5,1597.7 1370.0,1597.7 1371.5,1597.7 1373.0,1597.7 1374.5,1597.7 1376.0,1597.7 1377.5,1597.7 1379.0,1597.7 1380.5,1597.7 1382.0,1597.7 1383.5,1597.7 1385.0,1597.7 1386.5,1597.7 1388.0,1597.7 1389.5,1597.7 1391.0,1597.7 1392.5,1597.7 1394.0,1597.7 1395.5,1597.7 1397.0,1597.7 1398.5,1597.7 1400.0,1597.7 1401.5,1597.7 1403.0,1597.7 1404.5,1597.7 1406.0,1597.7 1407.5,1597.7 1409.0,1597.7 1410.5,1597.7 1412.0,1597.7 1413.5,1597.7 1415.0,1597.7 1416.5,1597.7 1418.0,1597.7 1419.5,1597.7 1421.1,1597.7 1422.6,1597.7 1424.1,1597.7 1425.6,1597.7 1427.1,1597.7 1428.6,1597.7 1430.1,1597.7 1431.6,1597.7 1433.1,1597.7 1434.6,1597.7 1436.1,1597.7 1437.6,1597.7 1439.1,1597.7 1440.6,1597.7 1442.1,1597.7 1443.6,1597.7 1445.1,1597.7 1446.6,1597.7 1448.1,1597.7 1449.6,1597.7 1451.1,1597.7 1452.6,1597.7 1454.1,1597.7 1455.6,1597.7 1457.1,1597.7 1458.6,1597.7 1460.1,1597.7 1461.6,1597.7 1463.1,1597.7 1464.6,1597.7 1466.1,1597.7 1467.6,1597.7 1469.1,1597.7 1470.6,1597.7" fill="none" stroke="#ff00ff" stroke-width="3.8" stroke-linejoin="round" stroke-linecap="round"/>
<path d="M914.94 1654.1V1649.5M935.69 1654.1V1649.5M956.43 1654.1V1649.5M977.17 1654.1V1649.5M997.92 1654.1V1649.5M1018.66 1654.1V1644.8M1039.4 1654.1V1649.5M1060.15 1654.1V1649.5M1080.89 1654.1V1649.5M1101.63 1654.1V1649.5M1122.38 1654.1V1649.5M1143.12 1654.1V1644.8M1163.86 1654.1V1649.5M1184.61 1654.1V1649.5M1205.35 1654.1V1649.5M1226.09 1654.1V1649.5M1246.84 1654.1V1649.5M1267.58 1654.1V1644.8M1288.32 1654.1V1649.5M1309.07 1654.1V1649.5M1329.81 1654.1V1649.5M1350.55 1654.1V1649.5M1371.3 1654.1V1649.5M1392.04 1654.1V1644.8M1412.78 1654.1V1649.5M1433.53 1654.1V1649.5M1454.27 1654.1V1649.5M1475.01 1654.1V1649.5M1495.76 1654.1V1649.5M894.2 1644.66H898.8M894.2 1635.21H898.8M894.2 1625.77H898.8M894.2 1616.33H898.8M894.2 1606.88H898.8M894.2 1597.44H903.5M894.2 1588H898.8M894.2 1578.55H898.8M894.2 1569.11H898.8M894.2 1559.67H898.8M894.2 1550.23H898.8M894.2 1540.78H903.5M894.2 1531.34H898.8M894.2 1521.9H898.8M894.2 1512.45H898.8M894.2 1503.01H898.8M894.2 1493.57H898.8M894.2 1484.12H903.5M894.2 1474.68H898.8M894.2 1465.24H898.8M894.2 1455.79H898.8M894.2 1446.35H898.8M894.2 1436.91H898.8M894.2 1427.46H903.5M894.2 1418.02H898.8M894.2 1408.58H898.8M894.2 1399.14H898.8M894.2 1389.69H898.8M894.2 1380.25H898.8M894.2 1370.81H903.5M894.2 1361.36H898.8M894.2 1351.92H898.8M894.2 1342.48H898.8M894.2 1333.03H898.8M894.2 1323.59H898.8M894.2 1314.15H903.5M894.2 1304.7H898.8M894.2 1295.26H898.8M894.2 1285.82H898.8M894.2 1276.37H898.8M894.2 1266.93H898.8M894.2 1257.49H903.5M894.2 1248.05H898.8M894.2 1238.6H898.8M894.2 1229.16H898.8M894.2 1219.72H898.8M894.2 1210.27H898.8M894.2 1200.83H903.5M894.2 1191.39H898.8M894.2 1181.94H898.8" stroke="#000" stroke-width="2.3" stroke-linecap="round" fill="none"/>
<rect x="894.2" y="1172.5" width="622.3" height="481.6" fill="none" stroke="#000" stroke-width="2.3"/>
<text x="824.14" y="1661.05" font-size="23.87" fill="#000" textLength="55.72" lengthAdjust="spacingAndGlyphs">-5000</text>
<text x="869.43" y="1604.39" font-size="23.87" fill="#000" textLength="12.45" lengthAdjust="spacingAndGlyphs">0</text>
<text x="830.82" y="1547.73" font-size="23.87" fill="#000" textLength="49.06" lengthAdjust="spacingAndGlyphs">5000</text>
<text x="818.11" y="1491.07" font-size="23.87" fill="#000" textLength="61.75" lengthAdjust="spacingAndGlyphs">10000</text>
<text x="818.11" y="1434.41" font-size="23.87" fill="#000" textLength="61.75" lengthAdjust="spacingAndGlyphs">15000</text>
<text x="818.70" y="1377.76" font-size="23.87" fill="#000" textLength="61.15" lengthAdjust="spacingAndGlyphs">20000</text>
<text x="818.70" y="1321.10" font-size="23.87" fill="#000" textLength="61.15" lengthAdjust="spacingAndGlyphs">25000</text>
<text x="818.97" y="1264.44" font-size="23.87" fill="#000" textLength="60.88" lengthAdjust="spacingAndGlyphs">30000</text>
<text x="818.97" y="1207.78" font-size="23.87" fill="#000" textLength="60.88" lengthAdjust="spacingAndGlyphs">35000</text>
<text x="873.35" y="1684.40" font-size="23.87" fill="#000" textLength="37.50" lengthAdjust="spacingAndGlyphs">675</text>
<text x="994.91" y="1684.40" font-size="23.87" fill="#000" textLength="37.43" lengthAdjust="spacingAndGlyphs">680</text>
<text x="1116.45" y="1684.40" font-size="23.87" fill="#000" textLength="37.50" lengthAdjust="spacingAndGlyphs">685</text>
<text x="1238.01" y="1684.40" font-size="23.87" fill="#000" textLength="37.43" lengthAdjust="spacingAndGlyphs">690</text>
<text x="1359.55" y="1684.40" font-size="23.87" fill="#000" textLength="37.50" lengthAdjust="spacingAndGlyphs">695</text>
<text x="1481.11" y="1684.40" font-size="23.87" fill="#000" textLength="37.43" lengthAdjust="spacingAndGlyphs">700</text>
<text x="1075.60" y="1723.10" font-size="25.29" fill="#000" textLength="218.12" lengthAdjust="spacingAndGlyphs">Binding Energy (eV)</text>
<text transform="translate(795.80 1444.30) rotate(-90)" x="-72.18" y="0" font-size="25.56" textLength="144.63" lengthAdjust="spacingAndGlyphs">Counts (a.u.)</text>
<text x="1453.89" y="1223.93" font-size="40.24" fill="#000" textLength="41.32" lengthAdjust="spacingAndGlyphs">(f)</text>
<text x="914.03" y="1205.90" font-size="25.28" fill="#000" textLength="38.10" lengthAdjust="spacingAndGlyphs">F1s</text>
<text x="1355.74" y="1280.70" font-size="22.60" fill="#ff0000" textLength="77.46" lengthAdjust="spacingAndGlyphs">Original</text>
<text x="1355.85" y="1310.70" font-size="22.60" fill="#00ff00" textLength="89.09" lengthAdjust="spacingAndGlyphs">Sum of fit</text>
<text x="1356.14" y="1340.60" font-size="22.88" fill="#0000ff" textLength="28.18" lengthAdjust="spacingAndGlyphs">LiF</text>
<text x="1356.86" y="1369.30" font-size="23.45" fill="#ff00ff" textLength="24.69" lengthAdjust="spacingAndGlyphs">CF</text>
<text x="1388.84" y="1374.40" font-size="14.96" fill="#ff00ff" textLength="7.22" lengthAdjust="spacingAndGlyphs">x</text>
<path d="M151.5 2168.2a5.8 5.8 0 1 0 11.6 0a5.8 5.8 0 1 0 -11.6 0M156.1 2164.8a5.8 5.8 0 1 0 11.6 0a5.8 5.8 0 1 0 -11.6 0M160.7 2161.1a5.8 5.8 0 1 0 11.6 0a5.8 5.8 0 1 0 -11.6 0M165.2 2158.1a5.8 5.8 0 1 0 11.6 0a5.8 5.8 0 1 0 -11.6 0M169.8 2157.4a5.8 5.8 0 1 0 11.6 0a5.8 5.8 0 1 0 -11.6 0M174.4 2157.3a5.8 5.8 0 1 0 11.6 0a5.8 5.8 0 1 0 -11.6 0M179.0 2158.7a5.8 5.8 0 1 0 11.6 0a5.8 5.8 0 1 0 -11.6 0M183.6 2160.1a5.8 5.8 0 1 0 11.6 0a5.8 5.8 0 1 0 -11.6 0M188.1 2161.1a5.8 5.8 0 1 0 11.6 0a5.8 5.8 0 1 0 -11.6 0M192.7 2161.0a5.8 5.8 0 1 0 11.6 0a5.8 5.8 0 1 0 -11.6 0M197.3 2160.4a5.8 5.8 0 1 0 11.6 0a5.8 5.8 0 1 0 -11.6 0M201.9 2159.8a5.8 5.8 0 1 0 11.6 0a5.8 5.8 0 1 0 -11.6 0M206.4 2159.7a5.8 5.8 0 1 0 11.6 0a5.8 5.8 0 1 0 -11.6 0M211.0 2161.1a5.8 5.8 0 1 0 11.6 0a5.8 5.8 0 1 0 -11.6 0M215.6 2163.6a5.8 5.8 0 1 0 11.6 0a5.8 5.8 0 1 0 -11.6 0M220.2 2167.4a5.8 5.8 0 1 0 11.6 0a5.8 5.8 0 1 0 -11.6 0M224.8 2171.1a5.8 5.8 0 1 0 11.6 0a5.8 5.8 0 1 0 -11.6 0M229.3 2172.0a5.8 5.8 0 1 0 11.6 0a5.8 5.8 0 1 0 -11.6 0M233.9 2171.4a5.8 5.8 0 1 0 11.6 0a5.8 5.8 0 1 0 -11.6 0M238.5 2166.3a5.8 5.8 0 1 0 11.6 0a5.8 5.8 0 1 0 -11.6 0M243.1 2157.6a5.8 5.8 0 1 0 11.6 0a5.8 5.8 0 1 0 -11.6 0M247.7 2147.9a5.8 5.8 0 1 0 11.6 0a5.8 5.8 0 1 0 -11.6 0M252.2 2136.3a5.8 5.8 0 1 0 11.6 0a5.8 5.8 0 1 0 -11.6 0M256.8 2126.2a5.8 5.8 0 1 0 11.6 0a5.8 5.8 0 1 0 -11.6 0M261.4 2118.3a5.8 5.8 0 1 0 11.6 0a5.8 5.8 0 1 0 -11.6 0M266.0 2114.0a5.8 5.8 0 1 0 11.6 0a5.8 5.8 0 1 0 -11.6 0M270.6 2115.6a5.8 5.8 0 1 0 11.6 0a5.8 5.8 0 1 0 -11.6 0M275.1 2122.4a5.8 5.8 0 1 0 11.6 0a5.8 5.8 0 1 0 -11.6 0M279.7 2131.5a5.8 5.8 0 1 0 11.6 0a5.8 5.8 0 1 0 -11.6 0M284.3 2140.2a5.8 5.8 0 1 0 11.6 0a5.8 5.8 0 1 0 -11.6 0M288.9 2145.5a5.8 5.8 0 1 0 11.6 0a5.8 5.8 0 1 0 -11.6 0M293.5 2147.8a5.8 5.8 0 1 0 11.6 0a5.8 5.8 0 1 0 -11.6 0M298.0 2147.8a5.8 5.8 0 1 0 11.6 0a5.8 5.8 0 1 0 -11.6 0M302.6 2145.8a5.8 5.8 0 1 0 11.6 0a5.8 5.8 0 1 0 -11.6 0M307.2 2142.6a5.8 5.8 0 1 0 11.6 0a5.8 5.8 0 1 0 -11.6 0M311.8 2140.3a5.8 5.8 0 1 0 11.6 0a5.8 5.8 0 1 0 -11.6 0M316.3 2138.9a5.8 5.8 0 1 0 11.6 0a5.8 5.8 0 1 0 -11.6 0M320.9 2138.1a5.8 5.8 0 1 0 11.6 0a5.8 5.8 0 1 0 -11.6 0M325.5 2135.8a5.8 5.8 0 1 0 11.6 0a5.8 5.8 0 1 0 -11.6 0M330.1 2131.9a5.8 5.8 0 1 0 11.6 0a5.8 5.8 0 1 0 -11.6 0M334.7 2125.2a5.8 5.8 0 1 0 11.6 0a5.8 5.8 0 1 0 -11.6 0M339.2 2109.7a5.8 5.8 0 1 0 11.6 0a5.8 5.8 0 1 0 -11.6 0M343.8 2077.5a5.8 5.8 0 1 0 11.6 0a5.8 5.8 0 1 0 -11.6 0M348.4 2055.8a5.8 5.8 0 1 0 11.6 0a5.8 5.8 0 1 0 -11.6 0M353.0 2002.5a5.8 5.8 0 1 0 11.6 0a5.8 5.8 0 1 0 -11.6 0M357.6 1934.2a5.8 5.8 0 1 0 11.6 0a5.8 5.8 0 1 0 -11.6 0M362.1 1897.4a5.8 5.8 0 1 0 11.6 0a5.8 5.8 0 1 0 -11.6 0M366.7 1850.6a5.8 5.8 0 1 0 11.6 0a5.8 5.8 0 1 0 -11.6 0M371.3 1810.6a5.8 5.8 0 1 0 11.6 0a5.8 5.8 0 1 0 -11.6 0M375.9 1796.6a5.8 5.8 0 1 0 11.6 0a5.8 5.8 0 1 0 -11.6 0M380.5 1798.3a5.8 5.8 0 1 0 11.6 0a5.8 5.8 0 1 0 -11.6 0M385.0 1810.3a5.8 5.8 0 1 0 11.6 0a5.8 5.8 0 1 0 -11.6 0M389.6 1832.1a5.8 5.8 0 1 0 11.6 0a5.8 5.8 0 1 0 -11.6 0M394.2 1852.0a5.8 5.8 0 1 0 11.6 0a5.8 5.8 0 1 0 -11.6 0M398.8 1891.3a5.8 5.8 0 1 0 11.6 0a5.8 5.8 0 1 0 -11.6 0M403.4 1930.0a5.8 5.8 0 1 0 11.6 0a5.8 5.8 0 1 0 -11.6 0M407.9 1970.6a5.8 5.8 0 1 0 11.6 0a5.8 5.8 0 1 0 -11.6 0M412.5 1998.3a5.8 5.8 0 1 0 11.6 0a5.8 5.8 0 1 0 -11.6 0M417.1 2023.5a5.8 5.8 0 1 0 11.6 0a5.8 5.8 0 1 0 -11.6 0M421.7 2040.7a5.8 5.8 0 1 0 11.6 0a5.8 5.8 0 1 0 -11.6 0M426.2 2064.8a5.8 5.8 0 1 0 11.6 0a5.8 5.8 0 1 0 -11.6 0M430.8 2086.0a5.8 5.8 0 1 0 11.6 0a5.8 5.8 0 1 0 -11.6 0M435.4 2103.8a5.8 5.8 0 1 0 11.6 0a5.8 5.8 0 1 0 -11.6 0M440.0 2119.2a5.8 5.8 0 1 0 11.6 0a5.8 5.8 0 1 0 -11.6 0M444.6 2140.9a5.8 5.8 0 1 0 11.6 0a5.8 5.8 0 1 0 -11.6 0M449.1 2152.1a5.8 5.8 0 1 0 11.6 0a5.8 5.8 0 1 0 -11.6 0M453.7 2160.4a5.8 5.8 0 1 0 11.6 0a5.8 5.8 0 1 0 -11.6 0M458.3 2164.8a5.8 5.8 0 1 0 11.6 0a5.8 5.8 0 1 0 -11.6 0M462.9 2163.6a5.8 5.8 0 1 0 11.6 0a5.8 5.8 0 1 0 -11.6 0M467.5 2161.0a5.8 5.8 0 1 0 11.6 0a5.8 5.8 0 1 0 -11.6 0M472.0 2158.6a5.8 5.8 0 1 0 11.6 0a5.8 5.8 0 1 0 -11.6 0M476.6 2155.2a5.8 5.8 0 1 0 11.6 0a5.8 5.8 0 1 0 -11.6 0M481.2 2149.0a5.8 5.8 0 1 0 11.6 0a5.8 5.8 0 1 0 -11.6 0M485.8 2144.4a5.8 5.8 0 1 0 11.6 0a5.8 5.8 0 1 0 -11.6 0M490.4 2141.1a5.8 5.8 0 1 0 11.6 0a5.8 5.8 0 1 0 -11.6 0M494.9 2138.3a5.8 5.8 0 1 0 11.6 0a5.8 5.8 0 1 0 -11.6 0M499.5 2136.0a5.8 5.8 0 1 0 11.6 0a5.8 5.8 0 1 0 -11.6 0M504.1 2133.8a5.8 5.8 0 1 0 11.6 0a5.8 5.8 0 1 0 -11.6 0M508.7 2131.2a5.8 5.8 0 1 0 11.6 0a5.8 5.8 0 1 0 -11.6 0M513.3 2128.1a5.8 5.8 0 1 0 11.6 0a5.8 5.8 0 1 0 -11.6 0M517.8 2124.7a5.8 5.8 0 1 0 11.6 0a5.8 5.8 0 1 0 -11.6 0M522.4 2121.5a5.8 5.8 0 1 0 11.6 0a5.8 5.8 0 1 0 -11.6 0M527.0 2118.9a5.8 5.8 0 1 0 11.6 0a5.8 5.8 0 1 0 -11.6 0M531.6 2119.2a5.8 5.8 0 1 0 11.6 0a5.8 5.8 0 1 0 -11.6 0M536.2 2121.1a5.8 5.8 0 1 0 11.6 0a5.8 5.8 0 1 0 -11.6 0M540.7 2125.7a5.8 5.8 0 1 0 11.6 0a5.8 5.8 0 1 0 -11.6 0M545.3 2132.1a5.8 5.8 0 1 0 11.6 0a5.8 5.8 0 1 0 -11.6 0M549.9 2136.8a5.8 5.8 0 1 0 11.6 0a5.8 5.8 0 1 0 -11.6 0M554.5 2140.1a5.8 5.8 0 1 0 11.6 0a5.8 5.8 0 1 0 -11.6 0M559.0 2142.6a5.8 5.8 0 1 0 11.6 0a5.8 5.8 0 1 0 -11.6 0M563.6 2142.8a5.8 5.8 0 1 0 11.6 0a5.8 5.8 0 1 0 -11.6 0M568.2 2142.0a5.8 5.8 0 1 0 11.6 0a5.8 5.8 0 1 0 -11.6 0M572.8 2140.3a5.8 5.8 0 1 0 11.6 0a5.8 5.8 0 1 0 -11.6 0M577.4 2138.1a5.8 5.8 0 1 0 11.6 0a5.8 5.8 0 1 0 -11.6 0M581.9 2135.8a5.8 5.8 0 1 0 11.6 0a5.8 5.8 0 1 0 -11.6 0M586.5 2135.8a5.8 5.8 0 1 0 11.6 0a5.8 5.8 0 1 0 -11.6 0M591.1 2136.8a5.8 5.8 0 1 0 11.6 0a5.8 5.8 0 1 0 -11.6 0M595.7 2142.1a5.8 5.8 0 1 0 11.6 0a5.8 5.8 0 1 0 -11.6 0M600.3 2148.8a5.8 5.8 0 1 0 11.6 0a5.8 5.8 0 1 0 -11.6 0M604.8 2155.7a5.8 5.8 0 1 0 11.6 0a5.8 5.8 0 1 0 -11.6 0M609.4 2161.7a5.8 5.8 0 1 0 11.6 0a5.8 5.8 0 1 0 -11.6 0M614.0 2167.1a5.8 5.8 0 1 0 11.6 0a5.8 5.8 0 1 0 -11.6 0M618.6 2168.8a5.8 5.8 0 1 0 11.6 0a5.8 5.8 0 1 0 -11.6 0M623.2 2169.2a5.8 5.8 0 1 0 11.6 0a5.8 5.8 0 1 0 -11.6 0M627.7 2167.7a5.8 5.8 0 1 0 11.6 0a5.8 5.8 0 1 0 -11.6 0M632.3 2166.0a5.8 5.8 0 1 0 11.6 0a5.8 5.8 0 1 0 -11.6 0M636.9 2165.2a5.8 5.8 0 1 0 11.6 0a5.8 5.8 0 1 0 -11.6 0M641.5 2165.1a5.8 5.8 0 1 0 11.6 0a5.8 5.8 0 1 0 -11.6 0M646.1 2166.5a5.8 5.8 0 1 0 11.6 0a5.8 5.8 0 1 0 -11.6 0M650.6 2169.5a5.8 5.8 0 1 0 11.6 0a5.8 5.8 0 1 0 -11.6 0M655.2 2172.5a5.8 5.8 0 1 0 11.6 0a5.8 5.8 0 1 0 -11.6 0M659.8 2173.3a5.8 5.8 0 1 0 11.6 0a5.8 5.8 0 1 0 -11.6 0M664.4 2172.4a5.8 5.8 0 1 0 11.6 0a5.8 5.8 0 1 0 -11.6 0M668.9 2166.8a5.8 5.8 0 1 0 11.6 0a5.8 5.8 0 1 0 -11.6 0M673.5 2158.8a5.8 5.8 0 1 0 11.6 0a5.8 5.8 0 1 0 -11.6 0M678.1 2151.2a5.8 5.8 0 1 0 11.6 0a5.8 5.8 0 1 0 -11.6 0M682.7 2143.8a5.8 5.8 0 1 0 11.6 0a5.8 5.8 0 1 0 -11.6 0M687.3 2136.7a5.8 5.8 0 1 0 11.6 0a5.8 5.8 0 1 0 -11.6 0M691.8 2131.2a5.8 5.8 0 1 0 11.6 0a5.8 5.8 0 1 0 -11.6 0M696.4 2127.9a5.8 5.8 0 1 0 11.6 0a5.8 5.8 0 1 0 -11.6 0M701.0 2126.2a5.8 5.8 0 1 0 11.6 0a5.8 5.8 0 1 0 -11.6 0" fill="none" stroke="#ff0000" stroke-width="0.9"/>
<polyline points="157.3,2162.8 161.9,2162.2 166.5,2161.7 171.1,2161.4 175.7,2161.1 180.2,2161.1 184.8,2161.1 189.4,2161.2 194.0,2161.4 198.6,2161.7 203.2,2161.9 207.8,2161.9 212.4,2161.6 216.9,2161.0 221.5,2159.7 226.1,2157.7 230.7,2155.0 235.3,2151.3 239.9,2146.8 244.5,2141.6 249.1,2136.0 253.6,2130.3 258.2,2125.0 262.8,2120.6 267.4,2117.5 272.0,2116.0 276.6,2116.3 281.2,2118.4 285.8,2122.1 290.3,2127.0 294.9,2132.8 299.5,2138.9 304.1,2144.8 308.7,2149.9 313.3,2153.9 317.9,2156.3 322.5,2156.5 327.0,2154.0 331.6,2147.9 336.2,2137.3 340.8,2121.5 345.4,2099.6 350.0,2071.2 354.6,2036.4 359.2,1996.4 363.7,1953.1 368.3,1909.6 372.9,1869.3 377.5,1836.1 382.1,1813.4 386.7,1803.8 391.3,1808.4 395.9,1826.5 400.4,1856.3 405.0,1894.5 409.6,1937.4 414.2,1981.2 418.8,2022.8 423.4,2059.8 428.0,2090.9 432.6,2115.7 437.1,2134.4 441.7,2148.0 446.3,2157.3 450.9,2163.3 455.5,2167.1 460.1,2169.2 464.7,2170.1 469.3,2170.3 473.8,2169.8 478.4,2168.7 483.0,2167.0 487.6,2164.6 492.2,2161.5 496.8,2157.7 501.4,2153.2 506.0,2148.1 510.5,2142.8 515.1,2137.5 519.7,2132.7 524.3,2128.6 528.9,2125.6 533.5,2124.0 538.1,2123.7 542.7,2124.7 547.2,2126.6 551.8,2129.0 556.4,2131.3 561.0,2133.2 565.6,2134.5 570.2,2134.9 574.8,2134.8 579.4,2134.5 583.9,2134.4 588.5,2135.1 593.1,2136.7 597.7,2139.5 602.3,2143.1 606.9,2147.3 611.5,2151.6 616.1,2155.7 620.6,2159.3 625.2,2162.2 629.8,2164.4 634.4,2166.0 639.0,2167.0 643.6,2167.8 648.2,2168.2 652.8,2168.6 657.3,2168.9 661.9,2169.1 666.5,2169.4 671.1,2169.6 675.7,2169.9 680.3,2170.2 684.9,2170.5 689.5,2170.7 694.0,2171.0 698.6,2171.2 703.2,2171.5 707.8,2171.6" fill="none" stroke="#00ff00" stroke-width="6" stroke-linejoin="round" stroke-linecap="round"/>
<polyline points="157.3,2172.6 161.9,2172.6 166.5,2172.6 171.1,2172.6 175.7,2172.6 180.2,2172.6 184.8,2172.6 189.4,2172.6 194.0,2172.6 198.6,2172.6 203.2,2172.6 207.8,2172.6 212.4,2172.6 216.9,2172.6 221.5,2172.6 226.1,2172.6 230.7,2172.6 235.3,2172.6 239.9,2172.6 244.5,2172.6 249.1,2172.6 253.6,2172.6 258.2,2172.6 262.8,2172.6 267.4,2172.6 272.0,2172.6 276.6,2172.6 281.2,2172.6 285.8,2172.6 290.3,2172.5 294.9,2172.5 299.5,2172.3 304.1,2172.0 308.7,2171.4 313.3,2170.3 317.9,2168.4 322.5,2165.1 327.0,2159.9 331.6,2151.8 336.2,2139.9 340.8,2123.1 345.4,2100.5 350.0,2071.7 354.6,2036.7 359.2,1996.6 363.7,1953.2 368.3,1909.6 372.9,1869.3 377.5,1836.1 382.1,1813.4 386.7,1803.8 391.3,1808.4 395.9,1826.6 400.4,1856.3 405.0,1894.5 409.6,1937.4 414.2,1981.2 418.8,2022.8 423.4,2059.8 428.0,2090.9 432.6,2115.7 437.1,2134.4 441.7,2148.0 446.3,2157.3 450.9,2163.5 455.5,2167.4 460.1,2169.7 464.7,2171.1 469.3,2171.8 473.8,2172.2 478.4,2172.4 483.0,2172.5 487.6,2172.6 492.2,2172.6 496.8,2172.6 501.4,2172.6 506.0,2172.6 510.5,2172.6 515.1,2172.6 519.7,2172.6 524.3,2172.6 528.9,2172.6 533.5,2172.6 538.1,2172.6 542.7,2172.6 547.2,2172.6 551.8,2172.6 556.4,2172.6 561.0,2172.6 565.6,2172.6 570.2,2172.6 574.8,2172.6 579.4,2172.6 583.9,2172.6 588.5,2172.6 593.1,2172.6 597.7,2172.6 602.3,2172.6 606.9,2172.6 611.5,2172.6 616.1,2172.6 620.6,2172.6 625.2,2172.6 629.8,2172.6 634.4,2172.6 639.0,2172.6 643.6,2172.6 648.2,2172.6 652.8,2172.6 657.3,2172.6 661.9,2172.6 666.5,2172.6 671.1,2172.6 675.7,2172.6 680.3,2172.6 684.9,2172.6 689.5,2172.6 694.0,2172.6 698.6,2172.6 703.2,2172.6 707.8,2172.6" fill="none" stroke="#0000ff" stroke-width="2.8" stroke-linejoin="round" stroke-linecap="round"/>
<path d="M123.93 2226.3V2221.7M139.17 2226.3V2221.7M154.4 2226.3V2217M169.63 2226.3V2221.7M184.87 2226.3V2221.7M200.1 2226.3V2221.7M215.33 2226.3V2221.7M230.57 2226.3V2221.7M245.8 2226.3V2217M261.03 2226.3V2221.7M276.27 2226.3V2221.7M291.5 2226.3V2221.7M306.73 2226.3V2221.7M321.97 2226.3V2221.7M337.2 2226.3V2217M352.43 2226.3V2221.7M367.67 2226.3V2221.7M382.9 2226.3V2221.7M398.13 2226.3V2221.7M413.37 2226.3V2221.7M428.6 2226.3V2217M443.83 2226.3V2221.7M459.07 2226.3V2221.7M474.3 2226.3V2221.7M489.53 2226.3V2221.7M504.77 2226.3V2221.7M520 2226.3V2217M535.23 2226.3V2221.7M550.47 2226.3V2221.7M565.7 2226.3V2221.7M580.93 2226.3V2221.7M596.17 2226.3V2221.7M611.4 2226.3V2217M626.63 2226.3V2221.7M641.87 2226.3V2221.7M657.1 2226.3V2221.7M672.33 2226.3V2221.7M687.57 2226.3V2221.7M702.8 2226.3V2217M718.03 2226.3V2221.7M733.27 2226.3V2221.7M108.7 2208.41H113.3M108.7 2190.53H113.3M108.7 2172.64H118M108.7 2154.76H113.3M108.7 2136.87H113.3M108.7 2118.99H113.3M108.7 2101.1H113.3M108.7 2083.22H113.3M108.7 2065.33H118M108.7 2047.45H113.3M108.7 2029.56H113.3M108.7 2011.68H113.3M108.7 1993.79H113.3M108.7 1975.91H113.3M108.7 1958.02H118M108.7 1940.14H113.3M108.7 1922.25H113.3M108.7 1904.37H113.3M108.7 1886.48H113.3M108.7 1868.6H113.3M108.7 1850.71H118M108.7 1832.83H113.3M108.7 1814.94H113.3M108.7 1797.06H113.3M108.7 1779.17H113.3M108.7 1761.29H113.3" stroke="#000" stroke-width="2.3" stroke-linecap="round" fill="none"/>
<rect x="108.7" y="1743.4" width="639.8" height="482.9" fill="none" stroke="#000" stroke-width="2.3"/>
<text x="85.23" y="2179.59" font-size="23.87" fill="#000" textLength="12.45" lengthAdjust="spacingAndGlyphs">0</text>
<text x="57.67" y="2072.28" font-size="23.87" fill="#000" textLength="38.03" lengthAdjust="spacingAndGlyphs">100</text>
<text x="58.28" y="1964.97" font-size="23.87" fill="#000" textLength="37.41" lengthAdjust="spacingAndGlyphs">200</text>
<text x="58.55" y="1857.66" font-size="23.87" fill="#000" textLength="37.12" lengthAdjust="spacingAndGlyphs">300</text>
<text x="58.89" y="1750.35" font-size="23.87" fill="#000" textLength="36.78" lengthAdjust="spacingAndGlyphs">400</text>
<text x="141.22" y="2256.70" font-size="23.59" fill="#000" textLength="25.74" lengthAdjust="spacingAndGlyphs">50</text>
<text x="230.48" y="2256.70" font-size="23.59" fill="#000" textLength="26.01" lengthAdjust="spacingAndGlyphs">52</text>
<text x="319.77" y="2256.70" font-size="23.59" fill="#000" textLength="25.49" lengthAdjust="spacingAndGlyphs">54</text>
<text x="409.03" y="2256.70" font-size="23.59" fill="#000" textLength="25.86" lengthAdjust="spacingAndGlyphs">56</text>
<text x="498.30" y="2256.70" font-size="23.59" fill="#000" textLength="25.84" lengthAdjust="spacingAndGlyphs">58</text>
<text x="587.31" y="2256.70" font-size="23.59" fill="#000" textLength="26.01" lengthAdjust="spacingAndGlyphs">60</text>
<text x="676.56" y="2256.70" font-size="23.59" fill="#000" textLength="26.30" lengthAdjust="spacingAndGlyphs">62</text>
<text x="301.34" y="2288.60" font-size="25.29" fill="#000" textLength="224.42" lengthAdjust="spacingAndGlyphs">Binding Energy (eV)</text>
<text transform="translate(33.90 1986.00) rotate(-90)" x="-72.18" y="0" font-size="26.55" textLength="144.63" lengthAdjust="spacingAndGlyphs">Counts (a.u.)</text>
<text x="668.11" y="1788.94" font-size="38.73" fill="#000" textLength="61.00" lengthAdjust="spacingAndGlyphs">(g)</text>
<text x="124.15" y="1779.00" font-size="25.99" fill="#000" textLength="45.86" lengthAdjust="spacingAndGlyphs">Li1s</text>
<text x="572.81" y="1828.30" font-size="22.60" fill="#ff0000" textLength="79.94" lengthAdjust="spacingAndGlyphs">Original</text>
<text x="572.92" y="1858.20" font-size="22.60" fill="#00ff00" textLength="91.72" lengthAdjust="spacingAndGlyphs">Sum of fit</text>
<text x="572.06" y="1888.20" font-size="22.60" fill="#0000ff" textLength="17.45" lengthAdjust="spacingAndGlyphs">Li</text>
<text x="593.25" y="1894.00" font-size="14.83" fill="#0000ff" textLength="8.29" lengthAdjust="spacingAndGlyphs">2</text>
<text x="601.96" y="1888.20" font-size="22.60" fill="#0000ff" textLength="30.51" lengthAdjust="spacingAndGlyphs">CO</text>
<text x="637.48" y="1894.00" font-size="14.83" fill="#0000ff" textLength="7.63" lengthAdjust="spacingAndGlyphs">3</text>
<text x="650.11" y="1888.20" font-size="22.60" fill="#0000ff" textLength="70.73" lengthAdjust="spacingAndGlyphs">and LiF</text>
<path d="M913.6 2185.6a5.8 5.8 0 1 0 11.6 0a5.8 5.8 0 1 0 -11.6 0M918.2 2179.3a5.8 5.8 0 1 0 11.6 0a5.8 5.8 0 1 0 -11.6 0M922.8 2175.6a5.8 5.8 0 1 0 11.6 0a5.8 5.8 0 1 0 -11.6 0M927.4 2174.9a5.8 5.8 0 1 0 11.6 0a5.8 5.8 0 1 0 -11.6 0M932.0 2175.6a5.8 5.8 0 1 0 11.6 0a5.8 5.8 0 1 0 -11.6 0M936.6 2178.5a5.8 5.8 0 1 0 11.6 0a5.8 5.8 0 1 0 -11.6 0M941.2 2181.4a5.8 5.8 0 1 0 11.6 0a5.8 5.8 0 1 0 -11.6 0M945.8 2183.3a5.8 5.8 0 1 0 11.6 0a5.8 5.8 0 1 0 -11.6 0M950.4 2183.7a5.8 5.8 0 1 0 11.6 0a5.8 5.8 0 1 0 -11.6 0M955.0 2182.1a5.8 5.8 0 1 0 11.6 0a5.8 5.8 0 1 0 -11.6 0M959.6 2179.8a5.8 5.8 0 1 0 11.6 0a5.8 5.8 0 1 0 -11.6 0M964.2 2178.2a5.8 5.8 0 1 0 11.6 0a5.8 5.8 0 1 0 -11.6 0M968.8 2178.2a5.8 5.8 0 1 0 11.6 0a5.8 5.8 0 1 0 -11.6 0M973.4 2179.4a5.8 5.8 0 1 0 11.6 0a5.8 5.8 0 1 0 -11.6 0M978.0 2182.3a5.8 5.8 0 1 0 11.6 0a5.8 5.8 0 1 0 -11.6 0M982.6 2185.3a5.8 5.8 0 1 0 11.6 0a5.8 5.8 0 1 0 -11.6 0M987.2 2186.3a5.8 5.8 0 1 0 11.6 0a5.8 5.8 0 1 0 -11.6 0M991.8 2185.5a5.8 5.8 0 1 0 11.6 0a5.8 5.8 0 1 0 -11.6 0M996.4 2179.9a5.8 5.8 0 1 0 11.6 0a5.8 5.8 0 1 0 -11.6 0M1001.0 2173.7a5.8 5.8 0 1 0 11.6 0a5.8 5.8 0 1 0 -11.6 0M1005.7 2168.8a5.8 5.8 0 1 0 11.6 0a5.8 5.8 0 1 0 -11.6 0M1010.3 2166.1a5.8 5.8 0 1 0 11.6 0a5.8 5.8 0 1 0 -11.6 0M1014.9 2165.9a5.8 5.8 0 1 0 11.6 0a5.8 5.8 0 1 0 -11.6 0M1019.5 2167.3a5.8 5.8 0 1 0 11.6 0a5.8 5.8 0 1 0 -11.6 0M1024.1 2170.2a5.8 5.8 0 1 0 11.6 0a5.8 5.8 0 1 0 -11.6 0M1028.7 2173.6a5.8 5.8 0 1 0 11.6 0a5.8 5.8 0 1 0 -11.6 0M1033.3 2175.4a5.8 5.8 0 1 0 11.6 0a5.8 5.8 0 1 0 -11.6 0M1037.9 2175.5a5.8 5.8 0 1 0 11.6 0a5.8 5.8 0 1 0 -11.6 0M1042.5 2174.1a5.8 5.8 0 1 0 11.6 0a5.8 5.8 0 1 0 -11.6 0M1047.1 2170.3a5.8 5.8 0 1 0 11.6 0a5.8 5.8 0 1 0 -11.6 0M1051.7 2164.8a5.8 5.8 0 1 0 11.6 0a5.8 5.8 0 1 0 -11.6 0M1056.3 2159.3a5.8 5.8 0 1 0 11.6 0a5.8 5.8 0 1 0 -11.6 0M1060.9 2153.8a5.8 5.8 0 1 0 11.6 0a5.8 5.8 0 1 0 -11.6 0M1065.5 2148.3a5.8 5.8 0 1 0 11.6 0a5.8 5.8 0 1 0 -11.6 0M1070.1 2142.0a5.8 5.8 0 1 0 11.6 0a5.8 5.8 0 1 0 -11.6 0M1074.7 2136.5a5.8 5.8 0 1 0 11.6 0a5.8 5.8 0 1 0 -11.6 0M1079.3 2122.8a5.8 5.8 0 1 0 11.6 0a5.8 5.8 0 1 0 -11.6 0M1083.9 2106.0a5.8 5.8 0 1 0 11.6 0a5.8 5.8 0 1 0 -11.6 0M1088.5 2083.8a5.8 5.8 0 1 0 11.6 0a5.8 5.8 0 1 0 -11.6 0M1093.1 2053.9a5.8 5.8 0 1 0 11.6 0a5.8 5.8 0 1 0 -11.6 0M1097.7 2025.0a5.8 5.8 0 1 0 11.6 0a5.8 5.8 0 1 0 -11.6 0M1102.3 1994.7a5.8 5.8 0 1 0 11.6 0a5.8 5.8 0 1 0 -11.6 0M1106.9 1962.8a5.8 5.8 0 1 0 11.6 0a5.8 5.8 0 1 0 -11.6 0M1111.5 1931.2a5.8 5.8 0 1 0 11.6 0a5.8 5.8 0 1 0 -11.6 0M1116.1 1896.2a5.8 5.8 0 1 0 11.6 0a5.8 5.8 0 1 0 -11.6 0M1120.7 1865.7a5.8 5.8 0 1 0 11.6 0a5.8 5.8 0 1 0 -11.6 0M1125.3 1839.3a5.8 5.8 0 1 0 11.6 0a5.8 5.8 0 1 0 -11.6 0M1129.9 1817.1a5.8 5.8 0 1 0 11.6 0a5.8 5.8 0 1 0 -11.6 0M1134.5 1801.1a5.8 5.8 0 1 0 11.6 0a5.8 5.8 0 1 0 -11.6 0M1139.1 1795.9a5.8 5.8 0 1 0 11.6 0a5.8 5.8 0 1 0 -11.6 0M1143.7 1799.6a5.8 5.8 0 1 0 11.6 0a5.8 5.8 0 1 0 -11.6 0M1148.3 1811.9a5.8 5.8 0 1 0 11.6 0a5.8 5.8 0 1 0 -11.6 0M1152.9 1835.0a5.8 5.8 0 1 0 11.6 0a5.8 5.8 0 1 0 -11.6 0M1157.5 1862.4a5.8 5.8 0 1 0 11.6 0a5.8 5.8 0 1 0 -11.6 0M1162.1 1895.1a5.8 5.8 0 1 0 11.6 0a5.8 5.8 0 1 0 -11.6 0M1166.7 1926.3a5.8 5.8 0 1 0 11.6 0a5.8 5.8 0 1 0 -11.6 0M1171.3 1956.3a5.8 5.8 0 1 0 11.6 0a5.8 5.8 0 1 0 -11.6 0M1175.9 1988.2a5.8 5.8 0 1 0 11.6 0a5.8 5.8 0 1 0 -11.6 0M1180.5 2011.9a5.8 5.8 0 1 0 11.6 0a5.8 5.8 0 1 0 -11.6 0M1185.1 2040.0a5.8 5.8 0 1 0 11.6 0a5.8 5.8 0 1 0 -11.6 0M1189.8 2062.9a5.8 5.8 0 1 0 11.6 0a5.8 5.8 0 1 0 -11.6 0M1194.4 2082.9a5.8 5.8 0 1 0 11.6 0a5.8 5.8 0 1 0 -11.6 0M1199.0 2098.8a5.8 5.8 0 1 0 11.6 0a5.8 5.8 0 1 0 -11.6 0M1203.6 2111.4a5.8 5.8 0 1 0 11.6 0a5.8 5.8 0 1 0 -11.6 0M1208.2 2120.1a5.8 5.8 0 1 0 11.6 0a5.8 5.8 0 1 0 -11.6 0M1212.8 2125.8a5.8 5.8 0 1 0 11.6 0a5.8 5.8 0 1 0 -11.6 0M1217.4 2132.4a5.8 5.8 0 1 0 11.6 0a5.8 5.8 0 1 0 -11.6 0M1222.0 2138.0a5.8 5.8 0 1 0 11.6 0a5.8 5.8 0 1 0 -11.6 0M1226.6 2144.2a5.8 5.8 0 1 0 11.6 0a5.8 5.8 0 1 0 -11.6 0M1231.2 2153.0a5.8 5.8 0 1 0 11.6 0a5.8 5.8 0 1 0 -11.6 0M1235.8 2161.3a5.8 5.8 0 1 0 11.6 0a5.8 5.8 0 1 0 -11.6 0M1240.4 2169.1a5.8 5.8 0 1 0 11.6 0a5.8 5.8 0 1 0 -11.6 0M1245.0 2174.5a5.8 5.8 0 1 0 11.6 0a5.8 5.8 0 1 0 -11.6 0M1249.6 2176.0a5.8 5.8 0 1 0 11.6 0a5.8 5.8 0 1 0 -11.6 0M1254.2 2175.4a5.8 5.8 0 1 0 11.6 0a5.8 5.8 0 1 0 -11.6 0M1258.8 2171.9a5.8 5.8 0 1 0 11.6 0a5.8 5.8 0 1 0 -11.6 0M1263.4 2169.5a5.8 5.8 0 1 0 11.6 0a5.8 5.8 0 1 0 -11.6 0M1268.0 2168.5a5.8 5.8 0 1 0 11.6 0a5.8 5.8 0 1 0 -11.6 0M1272.6 2168.6a5.8 5.8 0 1 0 11.6 0a5.8 5.8 0 1 0 -11.6 0M1277.2 2170.4a5.8 5.8 0 1 0 11.6 0a5.8 5.8 0 1 0 -11.6 0M1281.8 2171.9a5.8 5.8 0 1 0 11.6 0a5.8 5.8 0 1 0 -11.6 0M1286.4 2172.8a5.8 5.8 0 1 0 11.6 0a5.8 5.8 0 1 0 -11.6 0M1291.0 2173.3a5.8 5.8 0 1 0 11.6 0a5.8 5.8 0 1 0 -11.6 0M1295.6 2172.0a5.8 5.8 0 1 0 11.6 0a5.8 5.8 0 1 0 -11.6 0M1300.2 2169.9a5.8 5.8 0 1 0 11.6 0a5.8 5.8 0 1 0 -11.6 0M1304.8 2167.9a5.8 5.8 0 1 0 11.6 0a5.8 5.8 0 1 0 -11.6 0M1309.4 2167.3a5.8 5.8 0 1 0 11.6 0a5.8 5.8 0 1 0 -11.6 0M1314.0 2169.5a5.8 5.8 0 1 0 11.6 0a5.8 5.8 0 1 0 -11.6 0M1318.6 2173.2a5.8 5.8 0 1 0 11.6 0a5.8 5.8 0 1 0 -11.6 0M1323.2 2176.5a5.8 5.8 0 1 0 11.6 0a5.8 5.8 0 1 0 -11.6 0M1327.8 2178.4a5.8 5.8 0 1 0 11.6 0a5.8 5.8 0 1 0 -11.6 0M1332.4 2179.2a5.8 5.8 0 1 0 11.6 0a5.8 5.8 0 1 0 -11.6 0M1337.0 2177.3a5.8 5.8 0 1 0 11.6 0a5.8 5.8 0 1 0 -11.6 0M1341.6 2174.3a5.8 5.8 0 1 0 11.6 0a5.8 5.8 0 1 0 -11.6 0M1346.2 2171.3a5.8 5.8 0 1 0 11.6 0a5.8 5.8 0 1 0 -11.6 0M1350.8 2169.3a5.8 5.8 0 1 0 11.6 0a5.8 5.8 0 1 0 -11.6 0M1355.4 2169.3a5.8 5.8 0 1 0 11.6 0a5.8 5.8 0 1 0 -11.6 0M1360.0 2171.2a5.8 5.8 0 1 0 11.6 0a5.8 5.8 0 1 0 -11.6 0M1364.6 2175.2a5.8 5.8 0 1 0 11.6 0a5.8 5.8 0 1 0 -11.6 0M1369.2 2180.2a5.8 5.8 0 1 0 11.6 0a5.8 5.8 0 1 0 -11.6 0M1373.9 2185.8a5.8 5.8 0 1 0 11.6 0a5.8 5.8 0 1 0 -11.6 0M1378.5 2187.8a5.8 5.8 0 1 0 11.6 0a5.8 5.8 0 1 0 -11.6 0M1383.1 2187.1a5.8 5.8 0 1 0 11.6 0a5.8 5.8 0 1 0 -11.6 0M1387.7 2183.9a5.8 5.8 0 1 0 11.6 0a5.8 5.8 0 1 0 -11.6 0M1392.3 2180.0a5.8 5.8 0 1 0 11.6 0a5.8 5.8 0 1 0 -11.6 0M1396.9 2177.4a5.8 5.8 0 1 0 11.6 0a5.8 5.8 0 1 0 -11.6 0M1401.5 2177.2a5.8 5.8 0 1 0 11.6 0a5.8 5.8 0 1 0 -11.6 0M1406.1 2178.1a5.8 5.8 0 1 0 11.6 0a5.8 5.8 0 1 0 -11.6 0M1410.7 2181.9a5.8 5.8 0 1 0 11.6 0a5.8 5.8 0 1 0 -11.6 0M1415.3 2185.9a5.8 5.8 0 1 0 11.6 0a5.8 5.8 0 1 0 -11.6 0M1419.9 2187.8a5.8 5.8 0 1 0 11.6 0a5.8 5.8 0 1 0 -11.6 0M1424.5 2187.8a5.8 5.8 0 1 0 11.6 0a5.8 5.8 0 1 0 -11.6 0M1429.1 2186.7a5.8 5.8 0 1 0 11.6 0a5.8 5.8 0 1 0 -11.6 0M1433.7 2180.7a5.8 5.8 0 1 0 11.6 0a5.8 5.8 0 1 0 -11.6 0M1438.3 2174.2a5.8 5.8 0 1 0 11.6 0a5.8 5.8 0 1 0 -11.6 0M1442.9 2168.5a5.8 5.8 0 1 0 11.6 0a5.8 5.8 0 1 0 -11.6 0M1447.5 2166.6a5.8 5.8 0 1 0 11.6 0a5.8 5.8 0 1 0 -11.6 0M1452.1 2167.3a5.8 5.8 0 1 0 11.6 0a5.8 5.8 0 1 0 -11.6 0M1456.7 2171.6a5.8 5.8 0 1 0 11.6 0a5.8 5.8 0 1 0 -11.6 0M1461.3 2180.3a5.8 5.8 0 1 0 11.6 0a5.8 5.8 0 1 0 -11.6 0M1465.9 2187.0a5.8 5.8 0 1 0 11.6 0a5.8 5.8 0 1 0 -11.6 0" fill="none" stroke="#ff0000" stroke-width="0.9"/>
<polyline points="918.6,2195.6 920.1,2195.6 921.6,2195.6 923.1,2195.6 924.6,2195.6 926.1,2195.6 927.6,2195.6 929.1,2195.6 930.6,2195.6 932.1,2195.6 933.6,2195.6 935.1,2195.6 936.6,2195.6 938.2,2195.6 939.7,2195.6 941.2,2195.6 942.7,2195.6 944.2,2195.6 945.7,2195.6 947.2,2195.6 948.7,2195.6 950.2,2195.6 951.7,2195.6 953.2,2195.6 954.7,2195.6 956.2,2195.6 957.7,2195.6 959.2,2195.6 960.7,2195.6 962.2,2195.6 963.7,2195.6 965.2,2195.6 966.7,2195.6 968.2,2195.6 969.7,2195.6 971.2,2195.6 972.7,2195.6 974.3,2195.6 975.8,2195.6 977.3,2195.6 978.8,2195.6 980.3,2195.6 981.8,2195.6 983.3,2195.6 984.8,2195.6 986.3,2195.6 987.8,2195.6 989.3,2195.6 990.8,2195.6 992.3,2195.6 993.8,2195.6 995.3,2195.6 996.8,2195.6 998.3,2195.5 999.8,2195.5 1001.3,2195.5 1002.8,2195.5 1004.3,2195.5 1005.8,2195.5 1007.3,2195.4 1008.8,2195.4 1010.3,2195.4 1011.9,2195.3 1013.4,2195.3 1014.9,2195.3 1016.4,2195.2 1017.9,2195.1 1019.4,2195.0 1020.9,2194.9 1022.4,2194.8 1023.9,2194.7 1025.4,2194.6 1026.9,2194.4 1028.4,2194.2 1029.9,2194.0 1031.4,2193.8 1032.9,2193.5 1034.4,2193.2 1035.9,2192.9 1037.4,2192.5 1038.9,2192.0 1040.4,2191.5 1041.9,2191.0 1043.4,2190.4 1044.9,2189.7 1046.4,2188.9 1047.9,2188.0 1049.5,2187.1 1051.0,2186.0 1052.5,2184.9 1054.0,2183.6 1055.5,2182.2 1057.0,2180.6 1058.5,2178.9 1060.0,2177.0 1061.5,2175.0 1063.0,2172.8 1064.5,2170.4 1066.0,2167.7 1067.5,2164.9 1069.0,2161.9 1070.5,2158.6 1072.0,2155.0 1073.5,2151.2 1075.0,2147.1 1076.5,2142.8 1078.0,2138.2 1079.5,2133.3 1081.0,2128.0 1082.5,2122.5 1084.0,2116.7 1085.6,2110.6 1087.1,2104.1 1088.6,2097.3 1090.1,2090.3 1091.6,2082.9 1093.1,2075.3 1094.6,2067.3 1096.1,2059.1 1097.6,2050.6 1099.1,2041.9 1100.6,2032.9 1102.1,2023.8 1103.6,2014.4 1105.1,2004.9 1106.6,1995.2 1108.1,1985.5 1109.6,1975.7 1111.1,1965.8 1112.6,1955.9 1114.1,1946.1 1115.6,1936.4 1117.1,1926.7 1118.6,1917.2 1120.1,1907.9 1121.6,1898.8 1123.2,1890.0 1124.7,1881.5 1126.2,1873.3 1127.7,1865.6 1129.2,1858.3 1130.7,1851.4 1132.2,1845.1 1133.7,1839.2 1135.2,1834.0 1136.7,1829.3 1138.2,1825.3 1139.7,1821.8 1141.2,1819.1 1142.7,1817.0 1144.2,1815.6 1145.7,1814.9 1147.2,1814.9 1148.7,1815.6 1150.2,1816.9 1151.7,1819.0 1153.2,1821.7 1154.7,1825.1 1156.2,1829.1 1157.7,1833.7 1159.3,1839.0 1160.8,1844.8 1162.3,1851.1 1163.8,1857.9 1165.3,1865.2 1166.8,1873.0 1168.3,1881.1 1169.8,1889.6 1171.3,1898.4 1172.8,1907.5 1174.3,1916.8 1175.8,1926.3 1177.3,1935.9 1178.8,1945.7 1180.3,1955.5 1181.8,1965.4 1183.3,1975.2 1184.8,1985.0 1186.3,1994.8 1187.8,2004.5 1189.3,2014.0 1190.8,2023.3 1192.3,2032.5 1193.8,2041.5 1195.3,2050.2 1196.9,2058.7 1198.4,2066.9 1199.9,2074.9 1201.4,2082.6 1202.9,2090.0 1204.4,2097.0 1205.9,2103.8 1207.4,2110.3 1208.9,2116.4 1210.4,2122.3 1211.9,2127.8 1213.4,2133.0 1214.9,2138.0 1216.4,2142.6 1217.9,2147.0 1219.4,2151.0 1220.9,2154.8 1222.4,2158.4 1223.9,2161.7 1225.4,2164.8 1226.9,2167.6 1228.4,2170.2 1229.9,2172.7 1231.4,2174.9 1232.9,2176.9 1234.5,2178.8 1236.0,2180.5 1237.5,2182.1 1239.0,2183.5 1240.5,2184.8 1242.0,2186.0 1243.5,2187.0 1245.0,2188.0 1246.5,2188.9 1248.0,2189.6 1249.5,2190.3 1251.0,2191.0 1252.5,2191.5 1254.0,2192.0 1255.5,2192.5 1257.0,2192.8 1258.5,2193.2 1260.0,2193.5 1261.5,2193.8 1263.0,2194.0 1264.5,2194.2 1266.0,2194.4 1267.5,2194.6 1269.0,2194.7 1270.6,2194.8 1272.1,2194.9 1273.6,2195.0 1275.1,2195.1 1276.6,2195.2 1278.1,2195.2 1279.6,2195.3 1281.1,2195.3 1282.6,2195.4 1284.1,2195.4 1285.6,2195.4 1287.1,2195.5 1288.6,2195.5 1290.1,2195.5 1291.6,2195.5 1293.1,2195.5 1294.6,2195.5 1296.1,2195.6 1297.6,2195.6 1299.1,2195.6 1300.6,2195.6 1302.1,2195.6 1303.6,2195.6 1305.1,2195.6 1306.6,2195.6 1308.2,2195.6 1309.7,2195.6 1311.2,2195.6 1312.7,2195.6 1314.2,2195.6 1315.7,2195.6 1317.2,2195.6 1318.7,2195.6 1320.2,2195.6 1321.7,2195.6 1323.2,2195.6 1324.7,2195.6 1326.2,2195.6 1327.7,2195.6 1329.2,2195.6 1330.7,2195.6 1332.2,2195.6 1333.7,2195.6 1335.2,2195.6 1336.7,2195.6 1338.2,2195.6 1339.7,2195.6 1341.2,2195.6 1342.7,2195.6 1344.3,2195.6 1345.8,2195.6 1347.3,2195.6 1348.8,2195.6 1350.3,2195.6 1351.8,2195.6 1353.3,2195.6 1354.8,2195.6 1356.3,2195.6 1357.8,2195.6 1359.3,2195.6 1360.8,2195.6 1362.3,2195.6 1363.8,2195.6 1365.3,2195.6 1366.8,2195.6 1368.3,2195.6 1369.8,2195.6 1371.3,2195.6 1372.8,2195.6 1374.3,2195.6 1375.8,2195.6 1377.3,2195.6 1378.8,2195.6 1380.3,2195.6 1381.9,2195.6 1383.4,2195.6 1384.9,2195.6 1386.4,2195.6 1387.9,2195.6 1389.4,2195.6 1390.9,2195.6 1392.4,2195.6 1393.9,2195.6 1395.4,2195.6 1396.9,2195.6 1398.4,2195.6 1399.9,2195.6 1401.4,2195.6 1402.9,2195.6 1404.4,2195.6 1405.9,2195.6 1407.4,2195.6 1408.9,2195.6 1410.4,2195.6 1411.9,2195.6 1413.4,2195.6 1414.9,2195.6 1416.4,2195.6 1417.9,2195.6 1419.5,2195.6 1421.0,2195.6 1422.5,2195.6 1424.0,2195.6 1425.5,2195.6 1427.0,2195.6 1428.5,2195.6 1430.0,2195.6 1431.5,2195.6 1433.0,2195.6 1434.5,2195.6 1436.0,2195.6 1437.5,2195.6 1439.0,2195.6 1440.5,2195.6 1442.0,2195.6 1443.5,2195.6 1445.0,2195.6 1446.5,2195.6 1448.0,2195.6 1449.5,2195.6 1451.0,2195.6 1452.5,2195.6 1454.0,2195.6 1455.6,2195.6 1457.1,2195.6 1458.6,2195.6 1460.1,2195.6 1461.6,2195.6 1463.1,2195.6 1464.6,2195.6 1466.1,2195.6 1467.6,2195.6 1469.1,2195.6 1470.6,2195.6 1472.1,2195.6 1473.6,2195.6" fill="none" stroke="#00ff00" stroke-width="5.6" stroke-linejoin="round" stroke-linecap="round"/>
<polyline points="918.6,2195.6 920.1,2195.6 921.6,2195.6 923.1,2195.6 924.6,2195.6 926.1,2195.6 927.6,2195.6 929.1,2195.6 930.6,2195.6 932.1,2195.6 933.6,2195.6 935.1,2195.6 936.6,2195.6 938.2,2195.6 939.7,2195.6 941.2,2195.6 942.7,2195.6 944.2,2195.6 945.7,2195.6 947.2,2195.6 948.7,2195.6 950.2,2195.6 951.7,2195.6 953.2,2195.6 954.7,2195.6 956.2,2195.6 957.7,2195.6 959.2,2195.6 960.7,2195.6 962.2,2195.6 963.7,2195.6 965.2,2195.6 966.7,2195.6 968.2,2195.6 969.7,2195.6 971.2,2195.6 972.7,2195.6 974.3,2195.6 975.8,2195.6 977.3,2195.6 978.8,2195.6 980.3,2195.6 981.8,2195.6 983.3,2195.6 984.8,2195.6 986.3,2195.6 987.8,2195.6 989.3,2195.6 990.8,2195.6 992.3,2195.6 993.8,2195.6 995.3,2195.6 996.8,2195.6 998.3,2195.5 999.8,2195.5 1001.3,2195.5 1002.8,2195.5 1004.3,2195.5 1005.8,2195.5 1007.3,2195.4 1008.8,2195.4 1010.3,2195.4 1011.9,2195.3 1013.4,2195.3 1014.9,2195.3 1016.4,2195.2 1017.9,2195.1 1019.4,2195.0 1020.9,2194.9 1022.4,2194.8 1023.9,2194.7 1025.4,2194.6 1026.9,2194.4 1028.4,2194.2 1029.9,2194.0 1031.4,2193.8 1032.9,2193.5 1034.4,2193.2 1035.9,2192.9 1037.4,2192.5 1038.9,2192.0 1040.4,2191.5 1041.9,2191.0 1043.4,2190.4 1044.9,2189.7 1046.4,2188.9 1047.9,2188.0 1049.5,2187.1 1051.0,2186.0 1052.5,2184.9 1054.0,2183.6 1055.5,2182.2 1057.0,2180.6 1058.5,2178.9 1060.0,2177.0 1061.5,2175.0 1063.0,2172.8 1064.5,2170.4 1066.0,2167.7 1067.5,2164.9 1069.0,2161.9 1070.5,2158.6 1072.0,2155.0 1073.5,2151.2 1075.0,2147.1 1076.5,2142.8 1078.0,2138.2 1079.5,2133.3 1081.0,2128.0 1082.5,2122.5 1084.0,2116.7 1085.6,2110.6 1087.1,2104.1 1088.6,2097.3 1090.1,2090.3 1091.6,2082.9 1093.1,2075.3 1094.6,2067.3 1096.1,2059.1 1097.6,2050.6 1099.1,2041.9 1100.6,2032.9 1102.1,2023.8 1103.6,2014.4 1105.1,2004.9 1106.6,1995.2 1108.1,1985.5 1109.6,1975.7 1111.1,1965.8 1112.6,1955.9 1114.1,1946.1 1115.6,1936.4 1117.1,1926.7 1118.6,1917.2 1120.1,1907.9 1121.6,1898.8 1123.2,1890.0 1124.7,1881.5 1126.2,1873.3 1127.7,1865.6 1129.2,1858.3 1130.7,1851.4 1132.2,1845.1 1133.7,1839.2 1135.2,1834.0 1136.7,1829.3 1138.2,1825.3 1139.7,1821.8 1141.2,1819.1 1142.7,1817.0 1144.2,1815.6 1145.7,1814.9 1147.2,1814.9 1148.7,1815.6 1150.2,1816.9 1151.7,1819.0 1153.2,1821.7 1154.7,1825.1 1156.2,1829.1 1157.7,1833.7 1159.3,1839.0 1160.8,1844.8 1162.3,1851.1 1163.8,1857.9 1165.3,1865.2 1166.8,1873.0 1168.3,1881.1 1169.8,1889.6 1171.3,1898.4 1172.8,1907.5 1174.3,1916.8 1175.8,1926.3 1177.3,1935.9 1178.8,1945.7 1180.3,1955.5 1181.8,1965.4 1183.3,1975.2 1184.8,1985.0 1186.3,1994.8 1187.8,2004.5 1189.3,2014.0 1190.8,2023.3 1192.3,2032.5 1193.8,2041.5 1195.3,2050.2 1196.9,2058.7 1198.4,2066.9 1199.9,2074.9 1201.4,2082.6 1202.9,2090.0 1204.4,2097.0 1205.9,2103.8 1207.4,2110.3 1208.9,2116.4 1210.4,2122.3 1211.9,2127.8 1213.4,2133.0 1214.9,2138.0 1216.4,2142.6 1217.9,2147.0 1219.4,2151.0 1220.9,2154.8 1222.4,2158.4 1223.9,2161.7 1225.4,2164.8 1226.9,2167.6 1228.4,2170.2 1229.9,2172.7 1231.4,2174.9 1232.9,2176.9 1234.5,2178.8 1236.0,2180.5 1237.5,2182.1 1239.0,2183.5 1240.5,2184.8 1242.0,2186.0 1243.5,2187.0 1245.0,2188.0 1246.5,2188.9 1248.0,2189.6 1249.5,2190.3 1251.0,2191.0 1252.5,2191.5 1254.0,2192.0 1255.5,2192.5 1257.0,2192.8 1258.5,2193.2 1260.0,2193.5 1261.5,2193.8 1263.0,2194.0 1264.5,2194.2 1266.0,2194.4 1267.5,2194.6 1269.0,2194.7 1270.6,2194.8 1272.1,2194.9 1273.6,2195.0 1275.1,2195.1 1276.6,2195.2 1278.1,2195.2 1279.6,2195.3 1281.1,2195.3 1282.6,2195.4 1284.1,2195.4 1285.6,2195.4 1287.1,2195.5 1288.6,2195.5 1290.1,2195.5 1291.6,2195.5 1293.1,2195.5 1294.6,2195.5 1296.1,2195.6 1297.6,2195.6 1299.1,2195.6 1300.6,2195.6 1302.1,2195.6 1303.6,2195.6 1305.1,2195.6 1306.6,2195.6 1308.2,2195.6 1309.7,2195.6 1311.2,2195.6 1312.7,2195.6 1314.2,2195.6 1315.7,2195.6 1317.2,2195.6 1318.7,2195.6 1320.2,2195.6 1321.7,2195.6 1323.2,2195.6 1324.7,2195.6 1326.2,2195.6 1327.7,2195.6 1329.2,2195.6 1330.7,2195.6 1332.2,2195.6 1333.7,2195.6 1335.2,2195.6 1336.7,2195.6 1338.2,2195.6 1339.7,2195.6 1341.2,2195.6 1342.7,2195.6 1344.3,2195.6 1345.8,2195.6 1347.3,2195.6 1348.8,2195.6 1350.3,2195.6 1351.8,2195.6 1353.3,2195.6 1354.8,2195.6 1356.3,2195.6 1357.8,2195.6 1359.3,2195.6 1360.8,2195.6 1362.3,2195.6 1363.8,2195.6 1365.3,2195.6 1366.8,2195.6 1368.3,2195.6 1369.8,2195.6 1371.3,2195.6 1372.8,2195.6 1374.3,2195.6 1375.8,2195.6 1377.3,2195.6 1378.8,2195.6 1380.3,2195.6 1381.9,2195.6 1383.4,2195.6 1384.9,2195.6 1386.4,2195.6 1387.9,2195.6 1389.4,2195.6 1390.9,2195.6 1392.4,2195.6 1393.9,2195.6 1395.4,2195.6 1396.9,2195.6 1398.4,2195.6 1399.9,2195.6 1401.4,2195.6 1402.9,2195.6 1404.4,2195.6 1405.9,2195.6 1407.4,2195.6 1408.9,2195.6 1410.4,2195.6 1411.9,2195.6 1413.4,2195.6 1414.9,2195.6 1416.4,2195.6 1417.9,2195.6 1419.5,2195.6 1421.0,2195.6 1422.5,2195.6 1424.0,2195.6 1425.5,2195.6 1427.0,2195.6 1428.5,2195.6 1430.0,2195.6 1431.5,2195.6 1433.0,2195.6 1434.5,2195.6 1436.0,2195.6 1437.5,2195.6 1439.0,2195.6 1440.5,2195.6 1442.0,2195.6 1443.5,2195.6 1445.0,2195.6 1446.5,2195.6 1448.0,2195.6 1449.5,2195.6 1451.0,2195.6 1452.5,2195.6 1454.0,2195.6 1455.6,2195.6 1457.1,2195.6 1458.6,2195.6 1460.1,2195.6 1461.6,2195.6 1463.1,2195.6 1464.6,2195.6 1466.1,2195.6 1467.6,2195.6 1469.1,2195.6 1470.6,2195.6 1472.1,2195.6 1473.6,2195.6" fill="none" stroke="#0000ff" stroke-width="3" stroke-linejoin="round" stroke-linecap="round"/>
<path d="M885.33 2225.8V2221.2M900.67 2225.8V2221.2M916 2225.8V2216.5M931.33 2225.8V2221.2M946.67 2225.8V2221.2M962 2225.8V2221.2M977.33 2225.8V2221.2M992.67 2225.8V2221.2M1008 2225.8V2216.5M1023.33 2225.8V2221.2M1038.67 2225.8V2221.2M1054 2225.8V2221.2M1069.33 2225.8V2221.2M1084.67 2225.8V2221.2M1100 2225.8V2216.5M1115.33 2225.8V2221.2M1130.67 2225.8V2221.2M1146 2225.8V2221.2M1161.33 2225.8V2221.2M1176.67 2225.8V2221.2M1192 2225.8V2216.5M1207.33 2225.8V2221.2M1222.67 2225.8V2221.2M1238 2225.8V2221.2M1253.33 2225.8V2221.2M1268.67 2225.8V2221.2M1284 2225.8V2216.5M1299.33 2225.8V2221.2M1314.67 2225.8V2221.2M1330 2225.8V2221.2M1345.33 2225.8V2221.2M1360.67 2225.8V2221.2M1376 2225.8V2216.5M1391.33 2225.8V2221.2M1406.67 2225.8V2221.2M1422 2225.8V2221.2M1437.33 2225.8V2221.2M1452.67 2225.8V2221.2M1468 2225.8V2216.5M1483.33 2225.8V2221.2M1498.67 2225.8V2221.2M870 2215.76H874.6M870 2205.73H874.6M870 2195.69H879.3M870 2185.66H874.6M870 2175.62H874.6M870 2165.59H874.6M870 2155.55H874.6M870 2145.52H874.6M870 2135.48H879.3M870 2125.45H874.6M870 2115.41H874.6M870 2105.38H874.6M870 2095.34H874.6M870 2085.3H874.6M870 2075.27H879.3M870 2065.23H874.6M870 2055.2H874.6M870 2045.16H874.6M870 2035.13H874.6M870 2025.09H874.6M870 2015.06H879.3M870 2005.02H874.6M870 1994.99H874.6M870 1984.95H874.6M870 1974.91H874.6M870 1964.88H874.6M870 1954.84H879.3M870 1944.81H874.6M870 1934.77H874.6M870 1924.74H874.6M870 1914.7H874.6M870 1904.67H874.6M870 1894.63H879.3M870 1884.6H874.6M870 1874.56H874.6M870 1864.53H874.6M870 1854.49H874.6M870 1844.45H874.6M870 1834.42H879.3M870 1824.38H874.6M870 1814.35H874.6M870 1804.31H874.6M870 1794.28H874.6M870 1784.24H874.6M870 1774.21H879.3M870 1764.17H874.6M870 1754.14H874.6" stroke="#000" stroke-width="2.3" stroke-linecap="round" fill="none"/>
<rect x="870" y="1744.1" width="644" height="481.7" fill="none" stroke="#000" stroke-width="2.3"/>
<text x="847.11" y="2202.64" font-size="23.87" fill="#000" textLength="12.68" lengthAdjust="spacingAndGlyphs">0</text>
<text x="819.76" y="2142.43" font-size="23.87" fill="#000" textLength="38.04" lengthAdjust="spacingAndGlyphs">200</text>
<text x="820.38" y="2082.22" font-size="23.87" fill="#000" textLength="37.40" lengthAdjust="spacingAndGlyphs">400</text>
<text x="819.74" y="2022.01" font-size="23.87" fill="#000" textLength="38.06" lengthAdjust="spacingAndGlyphs">600</text>
<text x="819.92" y="1961.79" font-size="23.87" fill="#000" textLength="37.87" lengthAdjust="spacingAndGlyphs">800</text>
<text x="807.07" y="1901.58" font-size="23.87" fill="#000" textLength="50.74" lengthAdjust="spacingAndGlyphs">1000</text>
<text x="807.07" y="1841.37" font-size="23.87" fill="#000" textLength="50.74" lengthAdjust="spacingAndGlyphs">1200</text>
<text x="807.07" y="1781.16" font-size="23.87" fill="#000" textLength="50.74" lengthAdjust="spacingAndGlyphs">1400</text>
<text x="902.94" y="2256.20" font-size="23.59" fill="#000" textLength="25.30" lengthAdjust="spacingAndGlyphs">50</text>
<text x="992.93" y="2256.20" font-size="23.59" fill="#000" textLength="25.58" lengthAdjust="spacingAndGlyphs">52</text>
<text x="1082.95" y="2256.20" font-size="23.59" fill="#000" textLength="25.06" lengthAdjust="spacingAndGlyphs">54</text>
<text x="1172.94" y="2256.20" font-size="23.59" fill="#000" textLength="25.43" lengthAdjust="spacingAndGlyphs">56</text>
<text x="1262.94" y="2256.20" font-size="23.59" fill="#000" textLength="25.40" lengthAdjust="spacingAndGlyphs">58</text>
<text x="1352.68" y="2256.20" font-size="23.59" fill="#000" textLength="25.58" lengthAdjust="spacingAndGlyphs">60</text>
<text x="1442.66" y="2256.20" font-size="23.59" fill="#000" textLength="25.85" lengthAdjust="spacingAndGlyphs">62</text>
<text x="1068.84" y="2287.90" font-size="26.16" fill="#000" textLength="224.42" lengthAdjust="spacingAndGlyphs">Binding Energy (eV)</text>
<text transform="translate(794.50 2000.70) rotate(-90)" x="-71.16" y="0" font-size="26.84" textLength="142.59" lengthAdjust="spacingAndGlyphs">Counts (a.u.)</text>
<text x="1438.64" y="1788.94" font-size="38.73" fill="#000" textLength="58.33" lengthAdjust="spacingAndGlyphs">(h)</text>
<text x="888.48" y="1780.60" font-size="25.56" fill="#000" textLength="45.11" lengthAdjust="spacingAndGlyphs">Li1s</text>
<text x="1348.24" y="1842.20" font-size="22.60" fill="#ff0000" textLength="77.46" lengthAdjust="spacingAndGlyphs">Original</text>
<text x="1348.33" y="1872.20" font-size="22.60" fill="#00ff00" textLength="91.32" lengthAdjust="spacingAndGlyphs">Sum of fit</text>
<text x="1347.46" y="1901.60" font-size="22.60" fill="#0000ff" textLength="17.45" lengthAdjust="spacingAndGlyphs">Li</text>
<text x="1368.65" y="1907.40" font-size="14.83" fill="#0000ff" textLength="8.29" lengthAdjust="spacingAndGlyphs">2</text>
<text x="1377.36" y="1901.60" font-size="22.60" fill="#0000ff" textLength="30.51" lengthAdjust="spacingAndGlyphs">CO</text>
<text x="1412.88" y="1907.40" font-size="14.83" fill="#0000ff" textLength="7.63" lengthAdjust="spacingAndGlyphs">3</text>
<text x="1425.51" y="1901.60" font-size="22.60" fill="#0000ff" textLength="70.73" lengthAdjust="spacingAndGlyphs">and LiF</text>
</svg>
</body></html>
